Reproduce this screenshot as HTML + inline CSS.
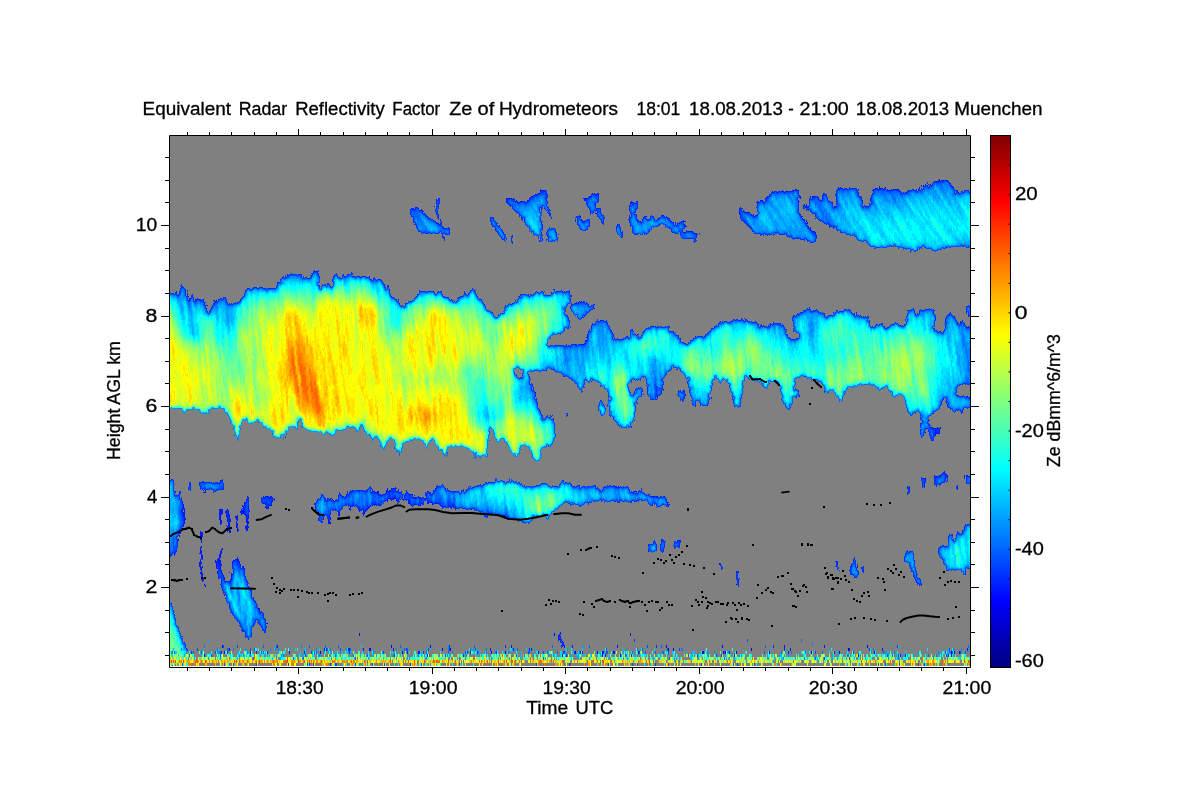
<!DOCTYPE html>
<html lang="en"><head><meta charset="utf-8"><title>Equivalent Radar Reflectivity Factor Ze of Hydrometeors</title>
<style>
html,body{margin:0;padding:0;background:#fff;}
body{width:1200px;height:800px;overflow:hidden;}
svg{display:block;}
text{font-family:"Liberation Sans",sans-serif;font-size:17.6px;fill:#000;stroke:#000;stroke-width:0.3px;}
</style></head><body>
<svg width="1200" height="800" viewBox="0 0 1200 800">
<rect width="1200" height="800" fill="#fff"/>
<rect x="170" y="136" width="800" height="530" fill="#808080"/>
<g fill="none" stroke-width="1" shape-rendering="crispEdges"><path stroke="#0000ff" d="M222.5 645v3m98 3v3m4 -6v3m35 -18v3m10 12v3m1 -3v3m21 -6v3m11 3v3m28 -9v3m12 0v3m8 -3v3m41 0v3m14 -3v3m33 -3v3m16 -21v3m8 18v3m2 -12v3m11 3v3m5 -3v3m17 -3v3m5 -3v6m18 -3v3m10 -24v3m8 15v3m28 -9v3m2 0v3m5 -3v3m29 0v3m1 -3v3m19 -9v3m3 3v3m11 -3v3m15 -6v3m18 0v3m42 -3v3m28 -3v3m9 -6v3m1 -3v3m18 -6v3m7 3v3m26 0v3m51 -6v3m3 -3v3m5 -3v3"/>
<path stroke="#001aff" d="M174.5 553v2m3 -16v1m0 1v1m1 -3v2m1 -9v2m0 1v2m1 -5v2m1 -6v1m1 -28v3m0 6v3m1 -9v4m0 1v1m0 2v5m0 7v3m1 -19v16m1 -6v2m2 -227v1m1 2v1m0 3v1m1 -3v1m1 -1v1m4 2v1m1 -3v2m1 -2v1m1 -2v1m1 0v1m1 -1v1m0 182v2m0 69v1m0 8v5m1 -268v1m0 231v9m0 7v7m0 5v3m0 2v4m0 4v2m1 -42v11m0 3v2m0 2v9m0 3v2m0 3v6m0 1v1m0 3v2m1 -48v5m0 18v5m0 6v2m0 5v5m0 2v2m1 -283v1m0 190v1m0 1v1m0 85v3m1 -99v1m0 9v1m0 91v1m0 69v3m1 -166v2m0 92v2m9 -287v1m1 0v1m0 258v3m1 -263v1m0 260v1m0 1v5m1 -9v3m0 9v3m1 -91v1m0 74v8m1 -84v1m0 26v11m0 34v11m0 1v1m1 -87v1m0 28v16m0 26v7m0 2v4m0 2v4m0 14v1m1 -96v1m0 19v6m0 5v4m0 25v5m0 10v2m0 4v3m1 -64v5m0 34v2m0 23v2m1 0v2m1 0v3m0 14v1m0 56v3m1 -143v2m0 68v1m0 16v1m1 -89v7m0 8v1m1 -17v1m0 6v6m0 4v6m1 -22v5m0 7v5m0 3v1m0 50v1m1 -68v19m0 39v1m0 8v1m0 66v3m1 -132v3m0 8v3m0 46v3m1 -9v1m0 1v4m1 -18v3m0 10v1m1 -15v1m1 -1v1m1 -45v2m0 41v1m1 -44v4m0 1v7m0 31v1m1 -45v6m0 2v9m0 25v4m1 -32v2m0 28v3m1 -1v3m0 61v1m1 -115v2m0 51v1m1 -56v6m0 115v1m1 -126v2m0 1v1m0 1v4m0 52v1m1 -61v8m0 52v2m1 -66v5m0 2v6m0 53v2m1 -68v1m0 11v2m0 10v3m0 47v1m1 -78v3m0 13v8m0 2v6m0 48v1m1 -84v1m0 21v13m0 50v1m1 -85v1m0 8v4m0 5v4m0 2v3m0 2v2m1 -18v2m1 139v3m1 -64v1m2 6v1m1 2v1m1 0v1m1 49v3m1 -49v1m0 16v1m1 -15v1m1 -1v4m1 0v1m2 -115v1m1 -3v2m0 5v1m1 -7v1m0 5v1m1 -8v1m0 7v1m0 1v2m1 -12v1m0 8v1m0 2v1m0 114v1m0 2v1m1 -131v1m0 11v1m0 114v1m0 27v3m1 -158v1m0 9v3m1 -12v1m0 7v1m1 -10v2m0 7v1m1 -10v2m0 4v4m1 -9v2m0 1v2m1 -3v1m1 -2v1m3 146v3m12 3v3m15 -3v3m10 -144v1m2 -240v1m2 246v3m4 -2v1m0 1v1m4 -22v1m1 -3v1m1 20v5m1 -9v2m0 3v4m1 -26v1m0 15v1m0 2v3m0 2v2m1 -26v1m0 1v1m1 -2v1m1 0v1m1 0v1m3 -2v1m1 -6v1m0 17v2m1 -4v5m1 -22v1m1 0v1m1 0v1m2 0v1m1 -2v1m1 -3v2m1 -5v1m1 2v1m0 153v3m1 -159v2m0 14v2m1 -20v1m0 15v2m1 -17v1m1 -2v1m0 15v1m1 -2v1m1 0v1m4 -17v1m0 17v2m1 -20v1m0 19v2m1 -22v1m0 19v1m2 -21v1m0 18v1m0 3v1m1 -4v3m0 1v2m0 132v3m1 -160v1m0 20v2m1 -24v1m0 20v1m1 -22v1m0 19v1m1 -3v2m1 -3v2m3 -21v1m0 3v1m1 -4v3m0 13v1m1 -228v1m0 212v1m0 12v1m1 -14v1m0 12v2m1 -14v1m0 11v1m1 -13v1m0 12v1m1 -15v2m1 -2v3m0 11v1m1 -12v1m0 10v1m1 -12v1m0 10v1m1 -11v1m2 -2v1m0 8v1m1 -10v1m1 -2v1m0 6v1m1 -11v3m1 -5v4m0 7v3m1 -11v2m0 5v1m1 -9v1m0 7v1m1 -9v1m0 7v2m1 -12v2m0 10v1m1 -13v1m0 10v1m1 -12v1m0 9v2m0 148v3m1 -163v1m0 8v2m1 -12v1m0 10v1m1 0v2m1 -10v1m0 9v1m0 1v1m2 -12v1m0 8v1m1 -10v1m0 6v1m3 -6v1m0 4v2m1 -6v3m1 -5v2m1 -5v2m0 8v1m1 -9v1m0 158v3m1 -161v1m0 6v4m1 -10v1m0 5v4m1 -295v1m0 284v1m0 8v2m1 -297v1m0 285v1m0 10v1m1 -298v1m0 285v1m0 11v1m1 -299v1m0 288v1m0 7v1m1 -297v1m0 14v1m0 270v1m0 1v1m0 6v1m1 -298v2m0 288v1m0 6v1m1 -298v1m0 289v1m2 -2v1m0 8v1m0 145v3m1 -157v1m0 7v1m0 145v3m1 -444v1m0 286v2m0 5v2m1 -297v1m0 288v1m0 4v1m1 -294v1m0 286v1m1 -287v1m1 1v1m0 284v1m1 -285v1m0 283v1m1 -6v1m1 -278v1m0 274v2m0 7v4m0 150v3m1 -166v1m0 11v1m1 -12v1m1 -1v1m0 9v1m1 -9v1m0 7v1m1 0v2m2 -15v1m1 -3v2m0 13v1m1 -305v1m0 22v1m0 263v1m0 16v1m1 -304v1m0 22v1m0 279v1m1 -306v1m0 24v1m0 279v1m1 -280v1m0 279v1m1 -282v1m0 281v1m1 0v1m1 -281v1m1 0v1m0 279v1m1 -280v1m0 277v1m4 0v1m1 -2v1m0 138v3m1 -142v2m1 -1v2m1 -3v1m1 -16v1m0 15v1m1 -1v1m1 -1v3m32 4v1m3 133v3m16 -453v4m1 -4v1m0 319v2m1 -322v1m1 -1v1m1 -1v1m1 -1v1m0 446v3m1 -449v1m1 -2v1m1 0v1m1 1v1m1 -2v1m1 0v1m1 0v1m1 -1v1m1 -2v1m1 -1v1m1 -1v1m1 -1v1m1 -1v1m1 0v1m1 -1v1m1 -3v2m1 -2v1m1 -3v2m0 448v3m1 -454v1m1 -2v1m0 451v3m1 -455v1m1 -2v1m1 -1v1m1 -2v1m0 197v1m1 -199v1m0 203v1m1 -205v1m1 -2v1m1 -1v1m1 -5v3m1 -2v1m1 -1v1m1 -1v1m1 -1v1m1 -1v1m2 10v1m0 10v1m11 422v6m1 -7v2m0 3v1m1 -8v3m0 1v2m1 1v2m0 4v1m1 -5v1m1 0v4m7 -300v1m2 298v3m3 -345v1m0 40v1m1 -43v1m1 0v1m1 -2v1m1 -88v1m0 85v1m1 -86v2m0 1v1m0 82v1m0 41v1m1 -126v1m0 81v1m0 42v1m1 -125v1m0 81v1m0 41v1m1 -147v1m0 22v1m0 95v1m0 26v1m1 -147v3m0 20v1m0 121v1m1 -146v1m0 141v2m1 -144v1m0 138v1m0 2v1m1 -143v1m0 135v3m1 -140v1m1 -2v1m1 -1v1m1 -3v1m1 -2v1m1 0v1m1 -2v1m0 110v1m0 3v1m1 -115v1m0 18v1m1 -20v1m0 13v1m0 4v1m1 -21v1m0 14v1m1 -16v3m0 12v1m0 112v1m2 -2v1m1 -1v1m2 330v3m2 0v3m8 -172v1m0 165v3m1 -168v1m0 164v3m1 -168v1m1 -1v1m1 158v3m1 -162v1m1 0v1m9 -269v1m1 -15v1m0 9v1m1 -14v2m0 13v1m1 -17v1m0 1v1m0 1v1m1 -4v1m1 -1v1m1 0v1m0 10v1m1 -12v1m0 10v1m0 276v1m1 -291v1m0 289v1m1 -291v1m0 17v1m1 0v1m2 0v1m1 0v1m1 -4v1m1 -3v1m2 -2v1m1 -1v1m5 279v1m1 -1v1m1 -1v1m1 -1v1m2 -101v1m0 2v1m0 96v1m1 -101v3m0 97v1m4 -282v1m0 323v1m1 -325v1m0 323v1m1 -325v1m0 324v1m3 -42v1m1 -283v1m0 284v1m1 -285v1m0 283v1m0 1v1m1 -287v1m0 285v1m1 -285v1m1 0v1m2 0v1m2 -1v1m1 2v1m1 -3v1m0 316v1m1 -318v1m0 316v1m1 -1v1m1 -319v1m0 317v1m1 -320v1m1 -1v1m1 -2v1m0 11v1m1 -12v1m0 2v1m0 7v1m1 -12v1m0 3v2m0 5v1m0 161v2m1 -170v1m2 4v1m1 -1v1m1 -1v1m1 -1v1m1 -1v1m1 0v1m1 0v1m1 -1v1m4 -1v1m20 329v2m4 86v3m11 0v3m2 -86v1m0 12v1m2 -14v2m0 6v2m1 -373v1m0 1v4m0 364v1m1 -372v1m2 0v1m1 1v1m1 0v1m1 0v1m1 -1v1m1 -1v1m1 -1v1m1 -1v1m1 1v1m1 -1v1m2 -1v1m1 1v1m2 -2v1m3 -14v1m1 -3v1m1 -1v1m1 -1v1m3 -3v1m1 -2v1m1 -2v1m1 -1v1m4 -6v1m1 0v1m0 129v1m1 -132v1m3 0v1m5 -3v1m1 0v1m1 0v1m0 452v3m1 -457v1m1 -1v1m1 -1v1m1 459v3m2 -6v3m1 -460v1m1 -2v1m1 -1v1m2 -2v1m1 -1v1m1 0v1m1 -1v1m1 4v1m0 17v1m1 -18v2m0 16v1m2 1v1m0 1v1m1 -14v1m0 13v1m1 -16v1m0 14v1m1 -14v1m0 15v1m1 -19v2m0 14v2m0 1v1m1 -18v1m0 15v2m0 1v1m1 -20v1m0 19v2m1 0v1m1 -33v1m0 30v3m1 -31v1m0 30v1m1 -35v2m0 33v1m1 -36v1m0 34v1m1 -36v1m0 34v1m1 -36v1m0 21v1m0 13v2m1 1v2m5 -37v1m1 -6v1m1 -3v1m1 451v3m8 -446v1m2 3v1m0 444v3m1 -460v1m0 11v1m1 -1v1m1 -18v1m1 -3v2m1 -1v1m1 -2v1m1 0v1m1 -1v1m1 0v1m3 -2v1m1 0v1m2 380v1m1 -5v1m1 -3v1m7 -376v1m0 464v3m1 -461v1m1 -1v1m1 0v1m1 2v1m4 5v1m2 -1v1m2 -9v2m2 -10v1m1 -2v1m1 -1v1m1 -2v1m1 -1v1m1 -1v1m1 0v1m1 -4v3m1 -1v1m1 -1v1m1 -1v1m0 459v3m1 -462v1m1 -2v1m1 -2v1m1 2v1m1 -2v1m1 0v1m1 -1v1m1 -1v1m1 -2v1m1 0v1m1 -2v1m1 -1v1m1 -1v1m1 -1v1m1 -1v1m1 -1v1m1 0v1m1 0v1m5 0v1m0 461v3m2 -466v1m0 294v1m1 -297v1m0 296v1m1 -2v1m9 -298v1m1 -3v1m2 -3v1m2 -1v1m0 292v1m1 -293v1m0 291v1m0 4v3m1 -302v1m0 247v1m0 45v2m3 -296v1m0 2v1m2 -4v1m0 242v1m1 -243v1m0 241v1m1 -1v1m1 0v1m1 -248v1m0 246v1m0 46v2m1 -296v1m0 246v8m0 40v1m1 -296v1m0 246v1m0 3v2m0 42v1m1 -296v1m0 245v2m0 4v1m0 42v1m1 -297v1m0 247v1m0 4v1m0 42v1m1 -298v2m0 247v6m0 41v1m1 -295v1m0 245v2m0 46v1m1 -296v1m0 293v1m1 -295v1m0 292v1m1 -294v1m0 291v1m1 -2v2m1 0v2m1 -295v1m0 293v1m0 2v1m0 3v1m1 -302v1m0 223v2m0 69v2m1 -296v1m1 0v1m1 0v1m1 1v1m0 468v3m1 -471v1m1 0v1m4 134v1m1 -131v1m2 128v1m1 0v1m3 152v2m2 -2v1m1 -149v1m0 68v1m0 78v1m0 172v3m1 -175v1m1 -171v1m0 20v1m0 69v1m0 78v1"/>
<path stroke="#0033ff" d="M170.5 293v1m0 186v1m0 74v2m0 46v1m1 -311v1m0 185v1m0 74v2m0 47v1m1 -311v1m0 185v1m0 72v3m0 51v1m1 -314v1m0 186v3m0 69v1m0 57v2m1 -318v1m0 189v1m0 6v1m0 1v2m0 55v3m0 2v1m0 58v2m1 -324v2m0 197v2m0 2v1m0 55v3m0 64v2m1 -329v4m0 200v1m0 41v2m0 9v4m0 73v1m1 -331v1m0 199v1m0 40v1m0 3v1m0 1v6m0 78v1m1 -333v2m0 198v1m0 36v5m0 91v1m1 -337v3m0 197v8m0 31v1m0 100v1m1 -346v1m0 1v3m0 200v3m0 5v1m0 29v2m0 102v1m1 -350v2m0 1v1m0 209v4m0 9v3m0 13v2m0 1v1m0 106v1m0 1v1m1 -353v2m0 216v6m0 3v4m0 9v1m0 109v1m0 1v1m1 -352v1m0 220v1m0 8v7m0 119v1m1 -356v1m0 353v2m1 -355v7m0 348v4m1 -352v1m0 351v1m1 -359v2m0 2v6m0 349v2m1 -164v3m1 -191v2m0 181v5m0 2v1m1 -8v9m1 -196v3m1 -4v3m1 0v4m2 0v1m2 -3v1m2 184v2m1 -186v1m0 181v1m0 3v4m0 72v2m0 4v2m1 -270v1m0 181v1m0 5v1m0 84v1m0 1v2m1 -278v2m0 180v2m0 6v1m0 88v2m1 -280v2m0 179v2m0 5v1m1 -187v3m0 183v2m0 95v1m1 -284v1m0 2v3m0 174v1m0 6v2m1 -186v1m0 2v3m0 171v1m0 6v1m1 -185v1m0 5v2m0 169v1m0 6v1m1 -177v1m0 168v1m0 6v1m1 -179v2m0 169v1m0 6v1m1 -181v2m0 171v1m0 5v1m1 -182v2m0 173v1m0 6v1m1 -185v2m0 176v1m0 5v1m1 -190v1m0 2v2m0 177v1m0 7v1m0 1v1m1 -192v3m0 179v1m0 7v1m1 -190v1m0 179v2m0 7v1m1 -191v1m0 180v1m0 7v1m0 71v1m0 5v1m1 -268v1m0 180v2m0 6v1m0 71v5m0 1v1m1 -270v2m0 188v1m0 77v5m0 1v6m1 -280v1m0 183v1m0 5v1m0 75v1m0 1v4m0 6v2m1 -281v2m0 181v2m0 6v1m0 74v2m0 4v3m0 4v1m1 -280v1m0 181v1m0 92v1m0 3v7m0 1v3m0 63v3m1 -355v1m0 179v4m0 6v1m0 85v1m0 12v3m1 -294v2m0 184v7m0 87v2m0 12v3m1 -297v1m0 282v2m0 10v1m0 2v1m1 -299v2m0 294v2m1 -296v3m0 279v1m0 13v1m1 -294v2m0 206v6m0 65v1m0 69v3m1 -350v1m0 210v7m0 5v3m0 72v1m1 -300v1m0 278v1m0 20v6m1 -305v1m0 277v2m0 25v2m0 1v1m1 -310v1m0 270v1m0 4v1m0 31v2m1 -309v1m0 259v5m0 44v2m1 -312v1m0 257v1m0 7v5m0 41v1m1 -313v1m0 257v1m0 54v2m1 -316v1m0 257v2m0 56v1m1 -316v1m0 256v3m0 56v1m1 -318v1m0 258v5m0 54v2m1 -320v1m0 259v3m0 56v1m1 -321v1m0 262v1m0 1v2m0 54v2m1 -325v2m0 264v4m0 55v1m0 1v1m1 -329v1m0 269v1m0 58v2m1 -332v1m0 269v2m0 60v3m1 -336v1m0 271v1m0 62v1m1 -339v2m0 212v2m0 61v6m0 55v1m1 -342v2m0 211v11m0 63v2m0 53v6m1 -349v1m0 212v1m0 11v1m0 65v2m0 54v1m1 -349v1m0 208v3m0 13v5m0 64v1m0 1v2m0 51v1m1 -350v1m0 209v8m0 4v5m0 68v1m0 2v1m0 51v2m1 -352v1m0 298v1m1 -299v1m0 298v2m0 46v1m1 -348v1m0 301v7m0 34v5m1 -349v1m0 309v1m0 27v1m1 -340v1m0 310v2m0 25v2m1 -340v1m0 313v1m0 21v2m1 -338v1m0 314v1m0 17v3m1 -336v1m0 315v2m0 1v1m0 12v1m1 -332v1m0 318v2m0 11v1m1 -333v1m0 320v1m0 11v1m0 1v1m1 -337v1m0 324v1m0 11v1m1 -338v1m0 325v1m0 11v1m1 -339v1m0 209v6m0 108v1m0 14v2m1 -341v1m0 214v2m0 108v1m0 15v3m1 -343v1m0 209v1m0 3v1m0 110v5m0 12v1m1 -343v1m0 209v1m0 3v1m0 115v2m0 11v2m1 -345v1m0 208v2m0 3v2m0 115v4m0 1v2m0 2v5m1 -344v1m0 207v8m0 1v2m0 119v1m1 -340v1m0 208v2m0 4v5m1 -220v1m0 208v3m0 4v2m1 -218v1m0 209v2m0 4v1m1 -217v1m0 209v5m0 1v1m1 -217v1m0 209v4m1 -214v1m0 210v1m1 -212v1m1 -1v1m0 210v2m1 -213v1m1 -3v2m1 -6v4m1 -4v1m1 -1v1m1 -4v2m0 2v1m1 -6v1m1 -2v1m1 -2v2m1 0v1m1 -4v3m1 -1v1m1 -4v3m1 -2v1m1 -2v2m1 -2v1m1 -2v1m1 0v1m1 -1v1m1 -1v1m1 -1v1m1 -1v1m1 0v1m1 -2v1m1 -1v1m1 -1v1m1 -1v4m1 0v1m1 -3v2m1 0v1m1 -2v1m1 -1v1m1 0v1m1 -1v1m1 -1v1m1 -4v1m0 1v1m1 -5v1m0 1v2m1 -4v2m1 -4v2m1 -3v2m0 231v2m1 -234v1m0 231v8m1 -10v2m0 8v1m1 -241v2m0 226v2m0 11v1m1 -243v2m0 1v3m0 9v1m0 212v1m0 14v3m1 -240v2m0 7v1m0 213v1m0 16v2m0 2v1m1 -24v2m0 22v1m1 -236v1m0 207v3m0 21v1m0 1v1m0 1v1m1 -239v1m0 209v1m0 22v1m0 4v1m1 -238v1m0 209v2m0 20v3m1 -236v1m0 212v2m0 16v2m1 -233v1m0 213v3m0 13v1m1 -229v1m0 214v1m0 12v2m0 132v3m1 -368v2m0 214v2m0 15v3m1 -236v1m0 214v2m0 16v3m1 -235v2m0 213v1m0 14v1m0 2v3m1 -234v1m0 212v2m0 9v4m1 -227v1m0 221v1m1 -231v3m0 4v1m0 213v1m0 9v1m1 -235v3m0 222v1m0 7v2m1 -236v1m0 233v1m1 -236v1m0 225v2m0 7v2m1 -238v2m0 224v2m0 9v1m1 -236v2m0 234v1m1 -235v1m0 218v5m0 10v2m0 2v1m1 -239v1m0 214v3m0 15v1m1 -233v1m0 216v1m0 13v2m1 -233v1m0 217v1m0 12v1m1 -235v2m0 229v3m1 -235v2m0 220v2m0 7v1m1 -230v1m0 228v1m1 -230v1m0 220v1m0 7v1m1 -230v1m0 219v1m0 7v2m1 -232v2m0 216v3m0 9v1m1 -231v1m0 220v1m0 8v3m1 -233v1m0 219v1m0 10v1m0 142v6m1 -380v1m0 216v2m0 12v1m0 2v3m1 -239v2m0 218v1m0 13v1m1 -234v2m0 1v1m0 214v1m0 12v2m1 -230v1m0 213v2m0 11v2m1 -229v1m0 214v1m0 13v1m1 -229v1m0 212v1m0 14v1m1 -230v1m0 213v1m0 14v2m1 -231v1m0 213v1m0 15v2m1 -232v1m0 230v1m1 -232v1m0 214v1m0 15v3m1 -233v1m0 231v1m1 -234v1m0 213v1m0 18v2m1 -235v1m0 231v1m1 -233v1m0 213v2m0 16v2m0 3v1m1 -238v1m0 232v3m1 -236v1m0 214v1m0 17v2m1 -234v1m0 227v1m0 2v2m1 -233v1m0 211v2m0 14v3m1 -231v1m0 210v1m0 17v1m1 -231v3m0 208v1m0 18v2m1 -229v1m0 206v2m0 1v3m0 13v2m1 -228v1m0 213v1m0 11v1m1 -226v1m0 211v2m0 8v3m1 -226v1m0 212v1m0 9v2m1 -227v2m0 213v2m0 8v2m1 -225v1m0 213v1m0 8v2m1 -224v1m0 212v1m0 10v1m1 -226v1m0 213v2m0 9v1m1 -226v1m0 214v2m0 7v2m1 -226v1m0 215v1m0 8v1m1 -226v1m0 215v1m0 8v1m1 -225v1m0 215v1m0 5v3m1 -224v2m0 211v2m0 6v1m1 -220v1m0 217v1m1 -218v3m0 213v2m1 -215v2m0 205v1m0 4v1m1 -211v1m0 203v1m0 6v1m1 -216v2m0 205v2m0 4v1m1 -214v2m0 206v5m1 -209v3m0 199v7m1 -204v2m0 195v1m0 3v3m1 -202v1m0 193v3m0 5v2m1 -203v1m0 191v6m0 1v3m1 -202v1m0 191v4m0 3v2m1 -200v1m0 190v3m0 3v2m1 -198v1m0 188v4m0 3v3m1 -199v2m0 187v1m0 2v1m0 6v1m1 -198v1m0 197v2m1 -202v1m0 189v4m0 6v4m1 -200v2m0 188v1m0 3v3m1 -195v1m0 191v1m1 -192v1m0 184v3m0 4v1m1 -194v1m0 188v6m1 -194v1m1 0v1m0 190v2m1 -197v1m0 191v1m0 3v1m1 -197v1m0 188v2m0 5v1m0 148v3m1 -158v2m0 4v1m1 -6v2m0 2v2m1 -199v1m0 193v5m1 -290v5m0 86v1m0 193v1m0 4v3m1 -294v1m0 5v2m0 84v1m0 202v1m1 -296v1m0 6v1m0 278v3m0 7v1m1 -297v2m0 6v6m0 275v1m0 4v2m1 -295v1m0 11v1m0 275v1m0 4v1m1 -295v1m0 13v2m0 72v1m0 200v1m0 4v1m1 -279v3m0 68v1m0 207v1m1 -298v2m0 19v2m0 64v1m0 202v1m0 6v1m1 -297v2m0 20v2m0 62v1m0 202v1m0 6v1m1 -295v1m0 20v1m0 58v1m0 207v7m1 -274v1m0 59v1m0 207v1m0 2v2m1 -294v1m0 21v1m0 58v1m0 207v1m0 2v1m1 -292v2m0 19v1m0 58v1m0 206v1m0 4v2m1 -292v1m0 19v1m0 57v1m0 205v2m0 2v4m1 -291v1m0 17v1m0 58v1m0 208v1m1 -286v1m0 17v1m0 57v1m0 200v4m0 3v2m1 -286v2m0 16v1m0 58v1m0 202v5m1 -283v1m0 15v1m0 57v1m0 201v1m0 5v1m1 -283v2m0 14v1m0 57v1m0 200v1m0 7v3m1 -285v1m0 13v1m0 58v1m0 201v1m0 7v2m1 -285v1m0 14v1m0 57v1m0 201v2m0 6v1m1 -283v1m0 13v1m0 57v1m0 203v1m0 5v1m1 -283v1m0 71v1m0 201v2m0 7v1m1 -283v1m0 70v1m0 198v3m0 10v2m1 -299v1m0 14v1m0 70v1m0 210v1m1 -295v3m0 9v2m0 10v1m0 60v1m0 195v1m0 11v1m1 -303v5m0 1v3m0 3v3m0 8v1m0 9v1m0 253v2m0 13v1m1 -298v1m0 5v3m0 1v3m0 15v1m0 58v1m0 192v2m0 15v1m1 -304v2m0 3v5m0 5v6m0 4v1m0 8v1m0 57v1m0 194v1m1 -289v6m0 28v1m0 59v1m0 193v1m0 15v2m1 -285v3m0 2v1m0 6v1m0 59v1m0 194v1m0 15v3m1 -284v5m0 6v2m0 57v1m0 193v1m0 19v1m1 -279v1m0 6v4m0 56v1m0 189v1m0 21v3m1 -281v1m0 4v1m0 2v1m0 1v1m0 57v1m0 188v2m0 19v1m1 -274v1m0 3v4m0 55v1m0 190v1m1 -260v1m0 5v1m0 62v1m0 190v2m0 16v2m1 -280v1m0 5v1m0 62v1m0 192v1m0 16v1m1 -280v1m0 5v1m0 62v1m0 190v2m0 15v1m0 1v1m1 -281v2m0 5v1m0 62v1m0 192v1m0 11v5m1 -279v7m0 64v1m0 190v1m0 14v1m0 142v3m1 -351v1m0 190v1m0 11v3m1 -207v1m0 191v1m0 13v2m1 -207v1m0 190v1m0 12v2m1 -2v3m1 -16v1m0 11v4m1 -16v1m0 14v1m1 -206v1m0 189v1m0 16v1m1 -211v1m0 1v1m0 190v1m0 16v1m1 -212v1m0 193v1m0 16v1m1 -212v1m0 194v1m0 15v1m1 -213v1m0 196v1m0 13v1m1 -212v1m0 193v3m0 14v1m1 -212v1m0 193v1m0 17v1m1 -214v1m0 193v3m0 16v1m0 145v3m1 -366v3m0 198v1m0 15v1m1 -216v1m0 197v1m0 16v1m1 -215v1m0 194v2m0 18v1m1 -215v1m0 193v1m0 19v1m1 -217v2m0 192v2m1 -197v1m0 193v1m0 1v1m0 19v1m1 -219v1m0 195v1m0 22v1m0 141v3m1 -364v1m0 197v1m0 20v1m1 -222v1m0 198v1m0 20v1m1 -220v1m0 197v1m0 20v1m1 -219v2m0 194v1m0 22v2m1 -221v1m0 1v2m0 192v1m0 22v1m1 -216v2m0 190v1m0 23v1m1 -215v2m0 187v1m0 24v1m0 140v3m1 -356v1m0 186v1m0 24v1m1 -212v1m0 185v1m0 25v1m1 -213v1m0 184v2m0 26v1m1 -214v1m0 186v1m0 24v1m1 -211v2m0 182v1m0 26v1m1 -210v1m0 180v1m0 28v2m1 -211v1m0 179v1m0 30v2m1 -211v1m0 175v1m0 33v1m1 -35v1m0 34v1m1 -208v1m0 172v1m0 29v1m0 1v3m1 -208v1m0 171v1m0 30v1m1 -203v1m0 170v1m0 30v1m1 -297v5m0 89v1m0 170v1m0 29v1m1 -296v1m0 3v4m0 87v1m0 169v1m0 30v1m1 -297v1m0 7v2m0 85v1m0 169v1m0 31v1m1 -298v3m0 6v1m0 255v1m0 31v1m1 -295v1m0 5v1m0 255v1m0 31v1m1 -294v1m0 5v4m0 283v1m1 -293v1m0 1v1m0 6v1m0 282v1m0 136v3m1 -431v1m0 1v1m0 6v1m0 282v1m1 -290v1m0 6v2m0 279v1m1 -290v3m0 7v1m0 279v2m1 -289v1m0 7v1m0 279v1m1 -288v1m0 7v2m0 276v1m1 -286v2m0 7v1m0 276v1m1 -285v2m0 5v1m0 241v1m0 35v1m1 -284v2m0 2v3m0 66v1m0 2v1m0 205v1m1 -283v1m0 1v2m0 3v1m0 63v1m0 210v3m0 126v3m1 -446v1m0 35v2m0 66v1m0 210v1m1 -319v5m0 101v1m0 210v2m1 -319v1m0 3v2m0 99v1m0 176v1m0 36v2m1 -321v1m0 5v1m0 97v1m0 214v1m1 -314v2m0 97v1m0 214v1m1 -321v1m0 5v1m0 30v5m0 63v1m0 214v1m1 -320v1m0 5v3m0 26v3m0 3v3m0 59v1m0 215v1m1 -321v1m0 9v1m0 93v1m0 214v1m0 129v3m1 -451v2m0 8v1m0 91v1m0 216v1m1 -309v1m0 88v1m0 218v1m1 -319v1m0 10v1m0 89v1m1 -101v1m0 9v1m0 86v1m0 183v1m1 -281v1m0 9v1m0 82v1m0 1v1m0 78v1m0 104v1m1 -269v3m0 79v2m0 80v1m1 -177v1m0 12v1m0 78v2m0 1v1m0 79v1m0 106v1m1 -269v3m0 75v1m0 1v1m0 80v1m1 -160v3m0 73v1m0 78v1m0 3v1m1 -161v1m0 76v1m0 227v1m1 -321v1m0 15v5m0 71v1m0 190v1m1 -283v1m0 90v1m0 192v1m1 -194v1m0 191v1m1 -285v1m0 92v1m1 -95v1m0 92v2m0 78v1m1 -175v1m0 30v1m0 64v1m0 79v3m0 2v3m1 -186v1m0 95v1m0 84v1m0 4v1m0 101v1m1 -290v1m0 96v1m0 88v1m0 3v3m0 97v1m1 -291v1m0 97v1m0 88v3m0 3v1m0 95v1m0 32v1m1 -324v1m0 97v1m0 92v4m0 95v1m1 -194v1m0 97v2m0 4v2m1 -204v1m0 96v1m0 100v4m0 2v1m0 86v1m1 -292v1m0 95v1m0 107v3m0 83v1m1 -194v1m0 109v5m0 78v1m1 -292v1m0 97v1m0 115v1m0 76v1m1 -278v3m0 29v2m0 51v1m0 115v2m0 74v1m1 -294v2m0 13v1m0 4v1m0 5v3m0 71v1m0 118v3m0 70v1m1 -294v2m0 15v3m0 10v3m0 6v1m0 1v3m0 56v1m0 122v1m0 68v1m1 -293v2m0 13v3m0 12v1m0 2v6m0 5v1m0 2v3m0 50v1m0 123v3m0 1v1m0 63v1m1 -293v1m0 13v1m0 86v1m0 125v1m0 64v1m1 -293v1m0 16v1m0 82v1m0 3v1m0 123v1m0 63v1m1 -293v1m0 1v1m0 15v1m0 84v1m0 122v2m0 64v1m1 -293v4m0 2v4m0 3v2m0 4v1m0 21v3m0 4v2m0 54v1m0 74v1m0 45v1m1 -223v4m0 4v2m0 2v2m0 2v1m0 19v2m0 3v2m0 2v1m0 55v1m0 119v2m1 -210v2m0 2v1m0 1v1m0 15v1m0 7v2m0 1v2m0 53v1m0 71v1m0 49v1m1 -209v1m0 1v2m0 1v2m0 11v2m0 66v1m0 50v1m0 70v1m1 -208v1m0 2v4m0 12v1m0 108v1m0 6v1m0 69v1m1 -199v2m0 9v1m0 12v1m0 50v2m0 51v1m0 23v1m0 46v1m0 2v1m1 -192v1m0 12v1m0 51v1m0 51v1m0 23v1m0 45v1m0 3v1m1 -192v1m0 11v1m0 48v1m0 2v1m0 53v1m0 22v1m0 48v2m1 -192v1m0 12v1m0 47v1m0 55v1m0 24v1m0 52v2m0 61v1m1 -258v3m0 60v1m0 52v1m0 88v1m0 51v1m1 -255v5m0 54v1m0 53v1m0 140v1m1 -250v3m0 51v1m0 53v1m0 140v1m1 -253v1m0 56v1m0 53v1m1 -55v1m0 53v1m0 290v3m1 -348v1m0 53v1m0 137v1m0 154v5m1 -353v1m0 54v1m0 135v1m0 159v2m0 3v2m1 -357v1m0 53v1m0 28v1m0 105v1m0 161v5m1 -355v1m0 52v2m0 133v2m1 -191v1m0 17v1m0 36v1m0 29v1m0 106v1m1 -192v1m0 21v1m0 30v2m0 29v1m0 105v1m1 -192v1m0 23v1m0 28v2m0 67v1m0 1v2m0 65v1m0 171v3m1 -366v1m0 23v2m0 11v1m0 17v1m0 29v1m0 36v3m0 67v1m1 -193v1m0 25v3m0 7v2m0 16v1m0 137v1m0 19v1m1 -214v5m0 25v3m0 22v2m0 31v1m0 103v1m1 -188v2m0 1v5m0 3v3m0 18v1m0 155v1m1 -189v2m0 6v3m0 38v2m0 138v2m0 18v1m1 -201v1m0 39v1m0 35v1m0 105v1m1 -183v1m0 39v1m0 141v1m1 -184v1m0 40v1m0 141v1m0 164v3m1 -437v1m0 1v3m0 265v1m1 -272v2m0 85v1m0 40v2m0 140v1m1 -271v1m0 1v7m0 120v1m0 139v1m1 -270v1m0 8v1m0 77v1m0 14v1m0 25v1m0 140v1m1 -270v3m0 7v2m0 74v1m0 41v1m0 140v3m1 -259v1m0 258v1m1 -269v1m0 8v1m0 72v1m0 15v1m0 168v1m1 -267v1m0 94v2m0 73v1m0 94v1m0 164v3m1 -432v1m0 78v2m0 12v1m0 170v1m1 -257v1m0 70v2m0 13v1m0 27v1m0 42v1m0 98v1m1 -288v2m0 19v2m0 8v1m0 72v1m0 11v1m0 26v2m0 35v1m0 106v1m1 -288v6m0 15v1m0 8v1m0 72v2m0 9v2m0 172v1m1 -283v2m0 12v2m0 6v3m0 73v2m0 7v1m0 24v4m0 145v1m0 15v1m1 -305v1m0 8v1m0 11v1m0 6v1m0 77v2m0 6v1m0 18v3m0 152v1m0 16v2m1 -308v1m0 10v2m0 9v8m0 79v1m0 4v1m0 17v2m0 155v1m0 15v1m1 -306v1m0 12v5m0 91v1m0 3v1m0 20v1m0 154v1m1 -292v2m0 15v1m0 92v1m0 3v1m0 15v4m0 52v1m0 104v1m1 -293v1m0 18v1m0 91v1m0 3v1m0 13v2m0 161v1m1 -292v1m0 15v2m0 91v5m0 15v1m0 160v1m1 -292v1m0 15v1m0 113v1m0 160v1m1 -291v1m0 7v5m0 3v1m0 110v2m0 161v3m1 -293v1m0 6v1m0 7v1m0 110v1m0 166v1m1 -295v2m0 6v1m0 7v3m0 1v3m0 102v2m0 166v1m1 -292v6m0 14v1m0 188v1m0 82v1m1 -281v1m0 8v2m0 102v1m0 80v1m0 86v2m1 -283v5m0 6v1m0 101v1m0 63v1m0 14v1m0 89v1m0 8v1m1 -287v3m0 4v3m0 268v1m0 8v2m1 -287v1m0 7v1m0 96v1m0 81v1m0 2v1m0 83v2m1 -276v2m0 2v6m0 95v1m0 83v1m0 82v2m1 -272v2m0 102v1m0 164v1m1 -166v1m0 164v1m0 13v1m1 -181v2m0 165v1m1 -166v3m0 79v1m0 80v2m1 -162v1m0 160v1m1 -161v3m0 71v1m0 13v2m0 69v1m1 -157v2m0 69v1m0 12v1m0 71v1m1 -156v2m0 154v1m1 -155v2m0 3v2m0 147v1m1 -153v3m0 2v1m0 146v1m0 13v1m1 -164v2m0 162v1m1 -163v1m0 147v1m0 13v1m1 -276v3m0 110v1m0 147v1m0 12v1m1 -277v2m0 112v1m0 148v1m0 13v2m1 -279v1m0 114v1m0 147v1m0 14v1m1 -279v3m0 112v1m0 161v2m1 -276v5m0 4v1m0 102v1m0 146v1m0 13v1m1 -269v1m0 2v1m0 1v1m0 101v1m0 147v1m0 12v1m1 -270v6m0 102v1m0 147v1m1 -150v1m0 147v1m0 14v1m1 -164v1m0 148v1m0 13v1m1 -165v1m0 149v1m1 -152v1m0 149v1m0 14v1m1 -166v1m0 149v1m1 -150v1m0 49v1m0 99v2m1 -283v5m0 5v7m0 115v1m0 51v1m0 98v3m1 -288v1m0 6v3m0 9v4m0 103v3m0 59v1m0 99v1m0 9v1m1 -301v1m0 11v3m0 8v1m0 103v1m0 65v1m0 30v2m0 63v1m0 9v2m0 151v3m1 -454v3m0 20v7m0 96v2m0 64v1m0 96v1m0 7v1m1 -298v1m0 9v1m0 19v1m0 97v1m0 2v1m0 58v2m0 96v2m0 7v1m1 -289v1m0 21v1m0 98v1m0 57v2m0 27v1m0 70v2m0 8v1m0 137v3m1 -433v4m0 21v1m0 99v1m0 54v2m0 2v1m0 11v3m0 85v1m0 7v1m1 -300v2m0 5v1m0 4v5m0 15v1m0 100v1m0 52v1m0 103v1m0 8v1m1 -300v7m0 11v1m0 13v1m0 99v1m0 53v1m0 14v1m0 89v1m0 6v1m1 -280v1m0 112v1m0 1v1m0 1v1m0 48v1m0 103v2m0 7v2m1 -281v1m0 115v1m0 50v1m0 101v1m0 8v1m1 -278v1m0 114v1m0 49v1m0 103v1m1 -157v2m0 51v1m0 3v3m0 93v4m0 8v1m1 -281v2m0 110v1m0 56v3m0 100v1m0 7v1m1 -283v1m0 13v1m0 98v1m0 62v1m0 97v1m1 -277v2m0 15v2m0 95v1m0 162v1m1 -277v1m0 15v1m0 95v1m0 164v1m1 -277v2m0 14v1m0 93v1m0 56v1m0 108v1m1 -276v1m0 13v1m0 94v1m0 57v8m0 101v1m0 4v1m1 -282v1m0 12v1m0 94v1m0 68v1m0 97v1m0 49v3m0 1v4m1 -333v1m0 10v2m0 96v1m0 165v2m0 8v1m0 39v1m0 2v1m0 3v1m1 -336v3m0 107v2m0 168v1m0 8v1m0 38v1m0 5v1m1 -336v1m0 110v1m0 72v1m0 105v1m0 38v1m0 6v1m1 -336v1m0 109v1m0 72v1m0 103v3m0 38v1m1 -329v2m0 108v1m0 72v1m0 97v1m0 4v1m0 38v3m1 -326v2m0 106v1m0 176v2m0 35v2m1 -322v1m0 105v1m0 67v1m0 1v4m0 96v1m0 6v1m0 38v2m0 6v1m1 -331v1m0 5v1m0 100v1m0 58v6m0 1v3m0 108v2m0 1v1m0 36v7m0 94v3m1 -430v2m0 106v1m0 68v1m0 101v1m0 8v1m1 -289v1m0 6v1m0 100v1m0 68v1m0 101v1m0 8v1m1 -290v1m0 7v1m0 101v1m0 61v1m0 5v1m0 101v1m0 8v1m1 -290v1m0 108v1m0 61v1m0 1v1m0 3v1m0 101v1m0 47v7m1 -335v1m0 109v1m0 62v5m0 102v1m0 8v1m0 34v4m0 7v1m1 -225v1m0 51v2m0 4v5m0 107v1m0 6v1m0 35v1m0 11v1m1 -337v1m0 110v1m0 53v4m0 4v2m0 105v1m0 7v1m0 36v1m0 6v4m1 -336v2m0 109v1m0 168v1m0 44v7m1 -331v1m0 108v1m0 48v1m0 121v2m0 42v1m1 -326v2m0 109v1m0 172v2m0 3v1m1 -288v1m0 107v1m0 176v2m0 1v1m1 -280v1m0 98v1m0 178v2m1 -288v2m0 7v1m0 97v2m0 3v1m1 -111v1m0 6v1m0 102v1m1 -110v1m0 6v3m0 99v1m1 -110v1m0 9v1m0 98v1m1 -109v2m0 7v1m0 98v2m0 212v1m1 -321v1m0 6v1m0 100v1m0 207v4m0 1v3m1 -326v2m0 8v1m0 98v1m0 1v1m0 206v1m0 5v1m1 -315v1m0 101v1m0 33v1m0 172v1m0 3v1m1 -323v2m0 7v1m0 101v1m0 58v1m0 146v2m0 3v1m1 -212v3m0 52v4m0 1v1m0 145v1m0 5v1m1 -326v2m0 7v1m0 106v1m0 52v1m0 149v7m1 -316v3m0 103v2m0 50v2m0 149v2m1 -321v1m0 119v1m0 49v1m0 6v1m1 -171v3m0 110v1m0 48v2m0 7v2m1 -181v4m0 3v1m0 9v1m0 103v1m0 47v2m0 6v3m1 -176v4m0 9v1m0 104v1m0 46v5m0 1v3m1 -161v1m0 104v1m1 -114v2m0 6v1m0 105v1m1 -114v1m0 6v1m0 105v1m0 36v2m1 -145v1m0 103v1m0 37v1m1 -143v1m0 150v4m1 -155v1m0 101v1m0 54v1m1 -158v1m0 101v1m0 59v1m1 -169v1m0 5v1m0 101v1m0 62v2m1 -172v1m0 4v1m0 2v1m0 96v1m1 -100v2m0 1v1m0 95v1m1 -101v2m0 1v1m0 94v2m0 63v6m1 -174v5m0 2v1m0 96v1m1 -104v1m0 101v1m1 -1v1m1 -1v1m1 -1v1m0 67v2m1 -70v1m1 -1v1m1 0v1m0 67v1m1 -70v1m1 -3v2m1 -2v1m0 70v1m1 -73v1m0 70v2m1 -74v1m0 70v1m1 -73v1m0 65v3m1 -70v1m1 -3v1m0 58v1m0 9v2m1 -71v1m0 54v1m1 -56v1m1 -3v2m1 -2v1m1 -2v1m1 0v1m1 -4v2m1 -3v1m1 -2v2m0 240v3m1 -243v1m0 241v5m1 -249v2m0 244v2m1 -247v1m1 -2v1m1 -1v1m1 -1v1m1 0v1m1 -1v1m1 -1v1m0 62v1m0 265v3m1 -333v1m1 -1v1m1 -2v1m1 -2v1m0 79v4m1 -84v1m1 0v1m1 -2v1m0 252v8m1 -261v1m0 251v8m0 1v5m1 -265v1m0 260v6m1 -378v1m0 4v1m0 105v1m1 -113v1m0 4v6m0 101v1m1 -113v4m0 3v1m0 3v2m0 97v2m1 -109v1m0 8v1m0 98v1m1 -109v1m0 8v2m0 98v1m1 -109v1m0 8v2m0 95v1m0 2v1m1 -100v2m0 95v2m1 -98v2m0 94v1m1 -96v2m0 94v1m1 -96v2m0 94v1m1 -109v1m0 12v2m0 93v1m1 -95v2m0 93v1m1 -108v1m0 12v2m0 91v1m1 -107v1m0 14v2m0 90v1m1 -108v2m0 14v1m0 90v1m1 -91v2m0 88v1m1 -108v2m0 16v1m0 87v1m1 -120v1m0 4v1m0 114v1m1 -122v6m0 7v2m0 107v1m1 -123v2m0 30v1m0 90v3m1 -94v1m0 93v1m1 -127v2m0 31v2m0 89v2m1 -93v1m0 89v2m1 -125v1m0 32v1m0 91v1m0 58v1m1 -185v2m0 31v2m0 89v1m1 -124v1m0 30v1m0 92v1m1 -128v3m0 32v1m0 91v1m1 -129v1m0 35v1m0 91v1m1 -130v1m0 37v1m0 91v1m1 -94v1m0 90v2m1 -133v3m0 37v1m0 89v1m0 1v1m1 -133v1m0 39v1m0 88v1m0 1v1m1 -134v2m0 40v1m0 89v1m1 -133v1m0 131v1m1 -90v1m0 87v2m0 320v3m1 -456v1m0 39v1m0 1v1m0 88v1m1 -133v1m0 41v1m0 89v1m1 -133v2m0 40v1m0 89v1m1 -92v1m0 90v1m1 -133v2m0 40v1m0 89v1m1 -133v1m0 42v1m0 88v1m1 -133v1m0 42v1m0 88v2m1 -134v1m0 42v1m0 90v1m0 73v1m1 -209v1m0 42v1m0 89v1m1 -133v1m0 41v1m0 90v2m1 -93v1m0 92v2m0 319v3m1 -459v1m0 40v1m0 95v2m1 -97v2m0 93v1m0 1v1m0 2v1m1 -99v1m0 97v3m1 -146v1m0 44v1m0 100v1m1 -147v1m0 45v1m0 99v1m1 -147v1m0 44v1m0 101v1m0 68v1m1 -171v1m0 101v1m1 -149v1m0 46v1m0 78v4m0 18v1m1 -101v1m0 75v2m0 11v1m0 1v2m0 7v1m1 -150v1m0 47v1m0 76v1m0 23v1m0 50v1m1 -201v1m0 47v1m0 77v1m0 22v1m1 -150v1m0 47v1m0 76v1m0 22v1m0 50v1m1 -192v2m0 38v1m0 74v2m0 23v1m0 51v1m1 -200v4m0 2v1m0 2v13m0 25v1m0 75v1m0 23v1m0 51v2m1 -196v2m0 3v1m0 12v1m0 23v1m0 74v1m0 81v2m1 -199v1m0 16v2m0 22v1m0 72v1m1 -97v2m0 21v1m0 72v1m1 -94v1m0 19v1m0 72v1m1 -107v3m0 30v1m0 70v2m1 -107v2m0 1v1m0 11v2m0 17v2m0 69v1m1 -104v1m0 15v1m0 14v1m0 71v1m1 -105v5m0 13v2m0 13v1m0 69v2m1 -104v1m0 1v1m0 16v1m0 13v2m0 66v1m1 -100v2m0 17v1m0 11v1m0 68v1m1 -112v6m0 5v1m0 19v1m0 11v1m0 65v2m1 -112v2m0 11v2m0 18v1m0 11v1m0 66v2m1 -99v1m0 18v1m0 10v1m0 68v1m1 -114v2m0 13v1m0 18v1m0 9v1m0 68v1m1 -115v1m0 15v1m0 18v1m0 77v1m1 -98v1m0 18v1m0 8v1m0 68v1m1 -97v3m0 17v2m0 3v3m0 68v1m1 -115v1m0 20v1m0 19v2m0 70v1m1 -114v2m0 20v1m0 91v1m1 -114v3m0 19v1m0 91v1m1 -113v2m0 19v1m0 91v1m1 -113v1m0 20v1m0 90v1m1 -93v1m0 92v1m1 -118v4m0 21v1m0 90v1m1 -119v2m0 26v1m0 90v1m1 -121v2m0 28v1m0 89v3m0 74v1m1 -197v1m0 28v1m0 92v1m1 -123v3m0 27v1m0 92v1m1 -121v3m0 23v1m0 92v1m1 -117v2m0 21v2m0 90v1m1 -115v1m0 22v4m0 87v1m1 -115v1m0 24v1m0 88v1m1 -114v1m0 23v1m0 88v1m1 -113v4m0 19v1m0 88v1m1 -109v1m0 19v2m0 83v1m0 2v1m1 -109v1m0 19v1m0 85v1m1 -119v1m0 11v1m0 18v1m0 85v1m0 248v1m0 4v1m1 -377v4m0 2v9m0 2v1m0 19v3m0 80v1m0 250v5m1 -376v1m0 14v1m0 24v1m0 79v1m0 250v5m1 -377v1m0 122v1m0 254v2m1 -380v1m0 121v1m0 258v1m1 -383v1m0 42v1m0 79v1m1 -80v1m0 78v1m1 -123v1m0 121v1m1 -2v1m1 -123v2m0 119v1m0 83v1m1 -206v1m0 120v1m1 -121v1m0 119v1m1 -76v1m0 75v1m1 -122v1m0 44v1m0 74v1m1 -123v2m0 120v1m1 -122v1m0 121v2m0 255v8m1 -387v1m0 123v1m0 252v2m0 7v1m1 -387v1m0 124v1m0 249v1m0 10v1m1 -387v1m0 125v1m0 244v4m0 12v1m1 -388v1m0 124v2m0 242v3m0 16v2m1 -390v1m0 127v1m0 243v7m0 10v1m1 -390v3m0 121v4m0 251v3m0 7v1m1 -388v3m0 122v1m0 248v4m0 2v1m1 -381v1m0 1v4m0 119v1m0 255v4m1 -259v1m1 -120v1m0 117v1m1 -118v3m0 4v1m0 110v1m0 250v2m1 -368v4m0 1v1m0 110v1m0 249v1m0 1v3m1 -366v1m0 109v1m0 249v7m1 -368v2m0 110v1m1 -112v1m0 109v1m1 0v1m1 -112v1m0 109v1m1 -1v1m0 4v1m1 -119v3m0 114v2m0 326v3m1 -451v2m0 2v1m0 121v1m1 -132v4m0 3v2m0 123v1m1 -135v2m0 131v1m1 -137v3m0 134v1m1 -80v1m0 78v1m1 -139v1m0 135v2m1 -3v1m1 -136v1m0 134v1m1 -135v1m0 134v1m1 -137v1m0 134v1m1 -136v1m0 134v1m1 -2v1m1 -135v1m0 133v2m1 1v1m1 -138v1m0 136v2m1 -140v2m0 138v1m1 -1v1m1 -139v1m0 136v1m1 -1v1m1 -137v1m0 134v1m1 -2v1m1 -136v1m0 133v1m1 -1v1m1 -135v1m0 133v1m1 -2v1m1 -2v1m1 0v1m1 -134v1m0 132v1m0 321v3m1 -458v1m0 133v1m1 -134v1m0 133v1m1 -134v1m0 132v1m1 -134v2m0 132v1m1 -134v1m0 131v1m1 -134v2m0 132v1m1 -134v1m0 130v1m0 231v6m1 -369v1m0 125v1m0 4v1m0 228v3m1 -364v1m0 123v1m0 4v1m0 229v2m1 -361v1m0 117v1m0 2v2m0 172v2m0 3v3m0 55v2m1 -361v1m0 118v2m0 176v4m0 1v1m0 58v1m1 -363v1m0 119v1m0 176v6m0 58v2m1 -363v1m0 119v1m0 240v1m0 15v2m1 -379v1m0 118v1m0 241v1m0 17v3m1 -383v1m0 119v1m0 241v1m0 19v1m1 -383v2m0 117v2m0 243v2m0 17v5m1 -387v1m0 119v3m0 247v3m0 14v2m1 -389v1m0 122v2m0 252v4m0 8v2m1 -392v2m0 124v1m0 255v3m0 1v2m0 4v2m1 -392v1m0 121v2m0 259v1m0 2v2m0 4v2m1 -395v1m0 123v1m0 263v1m0 4v1m1 -396v2m0 120v3m0 265v1m0 5v2m1 -396v1m0 118v1m0 113v4m0 2v6m0 144v4m0 1v1m1 -399v1m0 1v2m0 120v1m0 106v1m0 5v1m0 53v4m0 102v3m1 -397v1m0 120v1m0 110v2m0 55v1m0 2v7m1 -302v3m0 121v1m0 122v3m0 50v1m1 -177v1m0 119v3m0 46v4m0 3v2m1 -303v2m0 122v1m0 119v1m0 50v3m1 -298v1m0 123v1m0 118v1m1 -247v2m0 1v2m0 122v1m0 112v1m0 5v1m1 -120v1m0 109v1m0 1v1m0 1v2m0 4v3m1 -247v3m0 120v1m0 111v1m0 3v4m0 4v4m1 -251v1m0 123v1m0 115v1m0 2v1m0 7v3m1 -130v1m0 118v1m0 10v2m1 -258v2m0 125v1m0 102v1m0 14v2m0 10v1m1 -259v1m0 126v1m0 1v3m0 14v1m0 83v2m0 15v2m0 2v2m0 1v5m1 -259v1m0 127v1m0 3v1m0 13v2m0 99v8m0 40v8m1 -170v5m0 10v1m0 146v5m0 2v1m1 -303v1m0 147v1m0 98v3m0 45v1m0 6v3m1 -305v1m0 148v1m0 97v4m0 44v1m0 6v1m1 -304v2m0 149v1m0 96v4m0 50v1m0 64v6m1 -373v1m0 149v1m0 144v1m0 7v2m0 61v1m0 6v1m1 -373v1m0 148v1m0 73v1m0 70v1m0 7v1m0 61v2m1 -367v1m0 150v1m0 68v3m0 71v1m0 7v1m0 62v1m0 11v1m1 -378v1m0 151v1m0 66v1m0 73v1m0 7v1m0 62v1m0 13v1m1 -379v1m0 149v2m0 65v2m0 73v1m0 8v1m0 62v1m1 -366v1m0 142v1m0 5v2m0 142v2m0 5v3m0 63v1m1 -367v1m0 137v5m0 1v4m0 69v1m0 3v1m0 73v6m0 65v1m1 -300v1m0 68v2m0 5v1m0 74v3m0 1v2m0 71v2m0 69v1m1 -366v1m0 133v1m0 86v1m0 3v1m0 70v5m0 64v1m1 -365v1m0 131v2m0 87v1m0 3v1m0 128v5m0 113v3m1 -474v1m0 129v2m0 92v1m0 126v2m1 -352v2m0 126v2m0 94v2m0 125v1m1 -350v1m0 127v2m0 92v1m0 125v1m1 -348v1m0 127v1m0 218v2m0 3v1m1 -352v1m0 127v1m0 94v1m0 127v2m1 -352v1m0 1v2m0 123v2m0 223v1m1 -352v1m0 2v1m0 124v2m0 90v2m0 126v1m1 -349v3m0 127v2m0 72v1m0 14v1m0 76v3m0 45v2m1 -346v2m0 131v1m0 71v1m0 14v1m0 74v5m0 41v3m1 -341v1m0 129v1m0 61v1m0 9v1m0 14v1m0 121v1m1 -340v1m0 130v1m0 71v1m0 12v1m0 123v1m1 -341v1m0 128v2m0 72v1m0 13v2m0 122v1m1 -344v2m0 52v1m0 150v1m0 15v2m0 119v1m1 -343v1m0 54v1m0 73v2m0 62v1m0 11v1m0 13v3m0 117v3m1 -341v1m0 53v1m0 75v1m0 72v1m0 12v2m0 120v1m1 -341v2m0 131v2m0 58v1m0 12v1m0 80v2m0 47v4m1 -340v1m0 134v1m0 58v1m0 12v1m0 126v2m0 44v5m1 -385v1m0 115v8m0 12v2m0 55v1m0 12v2m0 9v1m0 68v8m0 41v1m1 -336v1m0 56v1m0 58v1m0 77v1m0 12v1m0 10v1m0 67v1m0 6v1m0 40v1m1 -335v2m0 55v1m0 57v1m0 6v5m0 9v2m0 56v1m0 12v1m0 9v1m0 75v1m0 40v1m0 43v1m1 -377v1m0 53v1m0 69v1m0 67v1m0 13v1m0 8v1m0 75v1m0 40v1m0 43v1"/>
<path stroke="#004dff" d="M170.5 552v3m1 -75v1m0 71v2m0 50v2m1 -126v1m0 70v1m0 55v3m1 -316v1m0 188v1m0 1v6m0 52v6m0 1v2m0 60v2m1 -122v1m0 2v1m0 50v4m0 66v2m1 -324v1m0 201v1m0 49v5m0 69v5m1 -330v1m0 200v1m0 39v1m0 2v1m0 1v5m0 1v1m1 -252v1m0 199v1m0 38v1m1 -240v1m0 198v1m0 34v1m0 97v3m1 -337v1m0 204v1m0 29v1m0 102v1m1 -342v1m0 208v1m0 8v5m0 13v2m0 105v2m0 1v1m1 -352v1m0 1v1m0 212v4m0 2v3m0 3v8m1 -4v4m0 2v3m0 113v4m0 20v3m1 -378v1m1 0v1m0 354v1m2 -348v1m0 351v1m1 -350v1m1 0v1m1 -1v1m0 185v1m1 -189v2m1 -3v1m0 352v3m1 -357v1m2 4v1m1 -1v1m1 -3v2m1 -2v1m0 347v3m1 -351v1m1 -1v1m1 0v1m0 181v3m1 -185v1m0 181v1m0 1v3m0 163v3m1 -353v1m0 181v1m0 4v1m1 -187v1m0 1v1m0 178v1m1 -179v1m0 177v1m0 3v1m1 -180v1m0 174v1m0 4v1m4 -77v1m0 75v1m1 -178v1m1 -3v1m0 173v1m0 4v1m0 165v3m1 -350v1m1 -3v1m0 177v1m0 5v1m0 1v1m1 -188v1m0 179v1m1 -182v2m0 185v1m0 160v3m1 -352v2m0 179v1m0 5v1m1 -188v1m0 186v1m0 77v1m1 -267v1m0 182v1m0 3v1m0 77v1m0 5v1m1 -89v1m0 3v1m0 82v6m1 -94v2m0 2v2m0 84v2m0 1v1m0 77v3m1 -358v1m0 181v2m0 4v2m0 85v3m0 7v1m1 -285v1m0 182v1m0 2v3m0 87v5m0 2v1m0 1v3m1 -289v1m0 279v2m0 9v1m0 54v3m1 -350v1m0 283v1m0 80v3m1 -367v2m0 281v1m0 9v1m1 -291v1m0 279v1m0 13v2m0 1v3m1 -298v1m0 277v1m0 19v2m1 -299v1m0 276v1m1 -279v1m0 278v1m0 18v1m1 -181v1m0 161v2m0 22v1m1 -305v1m0 275v3m0 27v1m1 -36v5m0 32v1m1 -309v1m0 123v1m0 133v7m0 5v1m0 39v1m0 48v3m1 -231v1m0 126v2m0 51v1m1 -313v1m0 258v1m0 54v1m1 -55v3m0 52v1m1 -316v1m0 262v1m0 52v1m0 25v3m1 -83v3m1 -266v1m0 262v1m0 2v2m0 51v1m1 -321v1m0 321v1m0 1v1m1 -327v1m0 269v1m0 56v1m1 -58v1m0 58v1m1 -60v6m0 54v2m1 -336v1m0 280v1m0 53v1m1 -339v1m0 286v1m0 51v1m1 -342v1m0 212v11m0 121v1m1 -347v1m0 210v13m0 70v1m0 2v1m0 49v1m1 -50v1m0 49v1m1 -349v1m0 298v1m0 48v1m1 -48v1m1 36v5m1 -343v1m0 309v1m1 -312v1m0 311v1m0 22v2m1 -3v1m0 25v3m1 -48v1m0 15v1m1 -332v1m0 316v1m0 1v1m0 55v3m1 -47v1m1 -10v2m0 8v1m0 1v1m1 -335v1m0 324v1m0 6v4m1 -10v1m0 7v3m1 -13v1m0 12v1m1 -338v1m0 210v3m0 111v4m0 9v2m1 -129v3m0 116v1m1 -120v3m0 128v1m1 -342v1m0 209v3m0 121v1m0 2v2m2 -339v1m0 209v4m1 -3v4m1 -4v4m1 -1v1m2 -71v1m4 -146v1m4 -8v1m1 0v1m1 -5v1m3 -1v1m0 157v1m1 -4v1m1 -157v1m1 -2v1m0 386v3m2 -391v1m1 -2v1m1 0v1m1 -1v1m2 -1v1m1 -1v1m2 -1v1m1 -1v1m2 150v1m2 -149v1m2 -1v1m0 375v3m1 -379v1m1 384v3m2 -3v3m1 -388v1m1 -2v1m0 373v3m1 -379v1m1 -3v1m0 389v3m2 -394v1m1 -1v2m0 229v1m0 6v1m1 -238v1m0 9v2m0 216v1m0 9v1m1 -236v1m0 5v1m0 216v1m0 12v1m1 -235v5m0 3v3m0 226v1m0 2v2m1 -231v1m0 209v1m0 16v3m0 1v1m1 -234v2m0 208v1m0 19v1m0 1v1m0 1v1m1 -237v1m0 209v1m1 1v1m0 18v1m1 -18v2m0 13v1m1 -230v1m0 215v1m0 11v1m1 -12v1m0 10v1m1 -229v1m0 215v1m0 11v3m1 -232v1m0 215v1m0 8v7m1 -16v1m0 9v4m1 -227v1m0 221v1m0 153v3m1 -165v1m0 6v1m1 -8v1m0 7v1m1 -228v2m0 218v1m0 5v1m1 -233v1m0 225v2m0 4v1m1 -234v1m0 232v1m0 154v3m1 -391v1m0 387v3m1 -165v1m0 8v1m1 -10v1m0 7v2m1 -233v1m0 216v1m0 10v4m1 -14v1m0 11v1m0 139v3m1 -154v1m0 7v4m1 -232v1m0 219v2m0 6v1m1 -230v1m1 0v1m0 220v1m0 5v1m1 -228v1m0 220v2m0 2v3m1 -228v1m0 219v1m0 5v1m1 -228v1m0 218v2m0 6v1m1 -8v2m0 5v1m1 -9v3m0 5v2m1 -12v2m0 8v2m1 -230v1m0 217v2m0 9v2m1 -14v1m0 8v3m1 -12v1m0 8v2m1 -226v1m0 214v1m0 11v1m1 -14v1m0 12v1m0 158v3m1 -389v1m0 226v1m1 -14v1m0 13v1m1 -15v1m0 13v2m1 -230v1m0 214v1m0 13v1m1 -16v1m0 14v3m1 -232v1m0 213v1m0 16v1m1 -18v1m0 13v3m1 -16v1m0 13v2m1 -16v1m0 14v2m1 -232v1m0 214v2m0 10v2m0 1v2m1 -18v2m0 9v3m0 1v2m1 -17v1m0 9v4m1 -16v1m0 15v1m1 -18v1m1 -1v1m0 3v1m1 -213v1m0 213v1m0 7v3m1 -11v2m0 3v3m0 161v3m1 -386v1m0 212v9m1 -223v1m0 214v2m0 4v2m1 -222v1m0 213v4m0 2v2m1 -221v1m0 212v1m0 7v2m1 -224v1m0 214v1m0 7v1m1 -8v3m0 2v2m1 -7v2m0 2v4m1 -224v1m0 164v1m0 50v2m0 2v4m1 -223v1m0 215v1m0 2v2m1 -219v1m0 212v1m0 4v1m1 -218v1m0 210v1m0 4v1m0 150v3m1 -367v1m0 207v2m0 1v2m0 163v3m1 -171v4m1 -5v2m0 2v2m1 -213v2m0 205v1m0 1v2m1 -211v2m1 3v2m1 2v1m0 195v3m1 -198v1m0 195v5m1 -3v1m1 -198v1m0 194v3m1 -49v1m0 44v3m0 159v3m1 -165v1m1 -42v1m0 40v1m0 2v3m1 -6v2m0 3v2m1 -199v3m0 190v1m0 3v2m1 -5v3m1 -4v4m1 -3v1m0 2v1m4 -194v3m0 189v3m1 -5v3m0 1v1m1 -196v1m0 191v4m1 -198v2m0 193v2m2 -2v4m0 163v3m1 -456v3m0 1v1m0 280v4m0 3v2m1 -294v1m0 89v1m0 197v1m0 4v2m1 -294v2m0 3v1m0 83v1m0 198v1m0 1v2m1 -292v4m0 83v2m0 199v4m1 -293v2m0 10v1m0 276v4m1 -295v4m0 12v1m0 273v2m0 2v2m1 -277v1m0 67v1m0 202v1m1 -289v1m0 4v2m0 281v1m0 3v2m1 -293v1m0 79v3m1 -83v1m0 288v2m1 -291v2m0 18v1m0 1v1m0 266v2m0 161v3m1 -453v1m0 285v4m1 -289v1m0 17v1m0 266v2m0 150v3m1 -423v1m0 267v1m1 -284v1m0 14v2m1 -1v1m0 261v1m1 -277v1m0 13v1m0 261v5m1 -267v1m0 260v1m0 3v3m0 148v3m1 -432v1m0 274v2m0 2v3m1 -282v1m0 12v1m0 262v1m0 3v2m1 -281v1m0 275v5m1 -281v1m0 12v1m0 261v1m0 5v1m1 -281v1m0 10v1m0 260v1m1 -272v1m0 9v2m0 59v1m0 197v3m0 8v1m1 -12v1m0 8v2m1 -293v1m0 1v1m0 82v1m0 194v3m0 7v3m1 -301v4m0 1v1m0 2v2m0 3v1m0 9v1m0 68v1m0 193v2m0 12v1m1 -301v3m0 21v1m0 6v1m0 254v1m0 13v2m1 -278v1m0 5v1m0 255v1m0 10v4m1 -277v2m0 65v1m0 194v1m0 10v4m1 -276v1m0 4v1m0 60v2m0 192v1m0 16v2m1 -277v1m0 4v1m0 61v1m0 189v1m0 17v3m1 -277v1m0 2v1m0 4v1m0 249v1m0 15v3m1 -277v1m0 2v1m0 255v1m0 16v1m1 -277v1m0 3v1m0 256v1m1 -262v1m0 225v1m0 35v1m0 14v1m1 -278v1m0 222v1m0 37v1m0 10v4m0 1v1m1 -278v1m0 68v1m0 192v1m0 8v2m1 -11v1m0 8v5m1 -13v1m0 8v2m1 -1v3m1 -204v1m0 190v1m0 10v1m1 -204v1m0 1v1m0 189v2m0 9v1m1 -203v1m0 190v1m0 5v5m1 -201v1m0 189v1m1 14v1m2 -210v2m0 192v1m1 0v1m0 13v1m0 155v3m1 -369v1m2 209v1m2 -214v1m1 -1v1m0 197v1m1 -198v1m0 212v1m1 142v3m1 -145v1m2 -219v1m0 195v1m0 20v1m1 -1v1m1 -220v1m0 198v1m2 -32v1m0 29v1m0 20v1m1 -55v1m1 54v1m1 -24v1m3 24v1m1 -212v1m1 185v1m0 24v1m1 -27v1m0 26v1m1 -208v1m0 208v1m1 -208v2m0 174v1m0 30v2m1 -207v1m0 203v4m1 -63v1m0 55v3m1 -2v2m1 -82v2m0 7v1m0 71v1m2 -295v3m0 291v1m1 -295v1m0 5v1m0 88v1m0 199v1m1 -294v1m0 93v2m1 -95v1m0 94v1m1 -95v1m0 3v1m0 90v1m0 160v4m1 -259v1m0 1v1m0 4v1m0 86v1m0 160v3m1 -255v1m0 4v1m0 85v1m0 163v1m0 32v1m1 -283v1m0 81v2m0 165v1m1 -167v1m0 165v1m0 32v1m1 -286v1m0 5v1m0 77v2m0 165v1m0 34v1m1 -286v1m0 5v1m0 76v1m0 166v1m1 -249v1m0 5v1m0 74v1m0 166v1m0 34v1m1 -282v1m0 76v1m0 1v1m0 202v1m1 -281v2m0 70v1m0 3v1m0 168v2m0 32v1m1 -210v1m0 2v1m0 173v1m0 30v2m1 -34v1m0 30v4m1 -36v1m0 33v1m1 -316v3m0 313v2m1 -318v1m0 2v2m0 273v4m1 -283v1m0 4v1m0 277v1m0 35v1m1 -319v1m0 40v2m0 236v3m1 -281v1m0 2v2m0 274v1m0 37v1m1 -319v2m0 6v1m0 272v1m1 -280v1m0 6v1m0 162v3m0 107v1m0 35v1m1 -317v1m0 7v1m0 90v1m0 73v1m0 105v1m1 -280v1m0 8v1m0 162v3m0 104v2m0 36v1m1 -317v1m0 96v2m0 75v1m0 141v1m1 -316v1m0 7v1m0 307v2m1 -319v1m0 9v1m0 268v2m0 35v1m1 -317v1m0 174v1m0 70v1m0 70v1m1 -319v1m0 12v1m0 3v1m0 75v1m0 1v1m0 185v2m0 36v1m1 -320v1m0 14v1m0 156v2m0 109v1m0 36v1m1 -321v1m0 173v1m0 109v1m1 -284v1m0 13v1m0 268v1m0 35v1m1 -319v1m0 18v2m0 298v1m1 -321v2m0 20v1m0 296v1m1 -320v1m0 22v1m0 259v1m1 -285v1m0 23v1m0 148v1m0 110v1m0 35v2m0 127v3m1 -453v2m0 24v3m0 150v1m0 3v1m0 101v1m0 35v1m1 -324v2m0 29v1m0 64v1m0 225v1m1 -324v2m0 31v2m0 138v1m0 12v1m0 1v1m0 3v1m0 129v1m1 -323v2m0 31v1m0 159v1m1 -195v2m0 33v3m0 136v1m0 19v1m1 -196v2m0 37v1m0 134v1m0 22v1m0 2v1m0 89v1m1 -291v1m0 37v1m0 135v1m0 29v1m1 -205v1m0 38v1m0 134v1m0 31v1m0 260v3m1 -471v2m0 38v1m0 134v1m0 36v1m1 -213v1m0 39v4m0 131v1m0 38v1m1 -216v1m0 12v1m0 3v1m0 22v1m0 136v1m0 39v1m1 -218v1m0 21v2m0 12v2m0 3v5m0 1v1m0 129v1m1 -179v1m0 13v1m0 3v5m0 8v1m0 4v1m0 5v3m0 3v1m0 128v1m0 44v1m0 2v1m0 35v1m1 -262v2m0 10v1m0 164v1m1 -179v3m0 98v2m0 75v1m0 48v1m0 231v3m1 -462v3m0 11v2m0 162v1m1 -179v1m0 1v6m0 8v1m0 161v1m1 -176v2m0 4v1m0 1v1m0 165v1m0 47v1m0 65v1m1 -252v1m0 1v1m0 110v1m0 22v1m0 115v1m1 -276v2m0 1v1m0 17v1m0 5v1m0 109v1m0 138v1m0 31v2m1 -309v1m0 2v1m0 15v1m0 11v1m0 126v1m0 117v1m0 29v1m1 -276v1m0 53v1m0 72v1m0 47v3m0 67v1m1 -258v1m0 64v1m0 192v1m1 -259v1m0 10v1m0 244v2m1 -154v1m0 86v3m0 63v1m1 -258v1m0 60v2m0 42v1m0 11v1m0 22v1m0 55v5m1 -198v1m0 7v1m0 130v1m0 63v2m1 -198v1m0 52v1m0 79v1m1 -133v2m0 129v1m1 -39v1m0 38v1m0 114v1m1 -155v1m0 38v1m0 111v3m1 -154v2m0 37v1m1 -82v1m0 40v1m0 40v1m0 108v1m1 -191v1m0 39v1m1 -25v1m0 22v1m0 42v3m0 105v1m0 168v3m1 -362v1m0 14v1m0 4v2m0 14v3m0 16v1m0 154v1m0 148v3m1 -346v4m0 3v1m0 11v1m0 19v1m0 27v1m0 126v1m1 -211v1m0 13v2m0 19v1m0 18v1m0 28v1m0 125v1m1 -198v2m0 11v1m0 29v1m0 154v1m1 -211v1m0 10v1m0 16v1m0 5v1m0 19v1m0 30v1m0 123v1m1 -205v1m0 5v1m0 19v4m0 50v1m0 124v2m0 159v3m1 -319v1m0 30v1m0 124v3m0 157v3m1 -360v1m0 2v2m0 35v1m0 32v1m0 122v1m1 -192v1m0 33v1m0 33v1m0 123v2m1 -193v2m0 31v1m0 34v1m0 123v1m1 -201v1m0 9v1m0 30v1m0 35v2m0 104v1m0 15v1m1 -200v1m0 10v1m0 29v1m0 37v1m0 120v1m1 -201v1m0 9v1m0 31v1m0 36v1m0 103v1m0 16v1m1 -288v1m0 86v1m0 10v3m0 28v1m0 37v3m0 99v1m0 17v1m1 -288v1m0 6v1m0 79v1m0 40v1m0 41v1m0 116v1m1 -286v1m0 5v1m0 2v1m0 74v1m0 15v1m0 25v1m0 42v2m0 98v1m0 16v2m1 -287v1m0 7v1m0 74v1m0 15v1m0 25v1m0 43v1m0 116v1m1 -286v1m0 81v1m0 13v1m0 27v1m0 42v5m0 95v1m0 16v1m1 -284v1m0 7v1m0 72v1m0 11v1m0 29v2m0 40v1m0 99v1m0 17v1m1 -283v1m0 6v1m0 72v1m0 41v1m0 39v3m0 116v1m1 -283v2m0 79v1m0 11v1m0 29v1m0 34v5m0 102v1m0 15v1m1 -275v1m0 74v1m0 9v1m0 29v1m0 142v1m0 14v1m1 -282v1m0 90v1m0 28v3m0 36v1m0 107v1m0 13v1m1 -304v6m0 21v1m0 114v1m0 39v1m0 105v1m1 -289v1m0 6v1m0 13v3m0 83v1m0 4v1m0 22v3m0 1v1m0 148v1m0 14v1m1 -305v2m0 7v1m0 99v1m0 2v1m0 20v1m0 155v1m1 -290v1m0 10v1m0 97v1m0 1v1m0 69v2m0 121v1m1 -306v1m0 108v1m0 22v2m0 47v1m0 108v1m0 13v2m1 -308v1m0 16v1m0 95v1m0 16v1m0 53v2m0 119v1m1 -291v1m0 168v1m0 106v1m0 14v1m1 -307v1m0 7v3m0 295v1m1 -306v1m0 5v1m0 5v1m0 1v1m0 113v1m0 163v1m0 12v1m1 -306v4m0 9v1m0 112v1m0 177v1m1 -305v6m0 7v1m0 3v1m0 107v1m0 59v1m0 106v1m0 12v1m1 -293v4m0 109v1m0 59v1m0 23v4m0 79v1m0 10v1m1 -292v4m0 3v1m0 105v1m0 80v2m0 95v1m1 -288v1m0 4v1m0 167v1m0 14v1m0 9v3m0 77v1m1 -273v1m0 101v1m0 78v2m0 12v2m0 83v1m1 -284v1m0 5v1m0 98v1m0 81v1m0 11v1m0 75v1m0 8v1m1 -284v2m0 102v1m0 167v1m0 9v1m1 -95v3m0 79v1m0 12v3m1 -181v1m0 85v3m0 76v1m1 -166v1m0 178v1m0 149v3m1 -329v1m0 64v1m0 14v2m0 80v1m0 13v1m1 -176v1m0 65v5m0 90v1m0 13v1m0 161v3m1 -337v1m0 66v1m0 9v7m0 73v1m0 14v1m1 -171v1m0 65v1m0 18v1m0 69v1m0 14v1m1 -170v1m0 82v1m0 84v1m1 -167v1m0 1v1m0 79v1m0 70v1m0 12v1m1 -84v3m1 -81v1m0 80v1m0 66v2m0 11v1m1 -80v1m0 66v1m0 11v1m1 -272v3m0 190v1m0 65v1m1 -263v1m0 5v2m0 105v1m0 83v2m0 63v1m0 11v1m1 -276v2m0 7v1m0 190v1m0 62v1m1 -262v1m0 7v1m0 190v1m0 61v1m0 11v1m1 -269v1m0 1v1m0 190v1m0 61v1m0 11v1m1 -267v2m0 1v1m0 189v2m1 -191v1m0 250v1m0 12v1m1 -163v1m0 87v1m0 59v1m1 -61v1m1 -90v1m0 161v1m1 -164v1m0 149v1m1 -151v1m0 149v1m0 13v1m1 -164v1m0 49v2m0 36v2m0 61v1m0 12v1m1 -112v1m0 35v1m0 64v1m0 8v1m1 -297v1m0 4v1m0 7v5m0 110v5m0 42v1m0 12v2m0 28v4m0 66v1m0 7v1m1 -296v1m0 6v1m0 3v1m0 112v1m0 49v3m0 109v1m0 7v1m1 -276v1m0 106v2m0 45v1m0 113v1m0 169v3m1 -462v2m0 6v1m0 1v1m0 17v1m0 145v1m0 16v1m0 97v1m1 -290v2m0 3v1m0 5v1m0 17v1m0 145v1m0 23v2m0 8v2m0 78v1m0 6v1m1 -297v1m0 3v1m0 6v3m0 162v1m0 21v1m0 5v4m0 82v1m0 5v1m1 -297v2m0 2v1m0 10v1m0 159v1m0 9v1m0 1v2m0 7v4m0 89v1m0 6v1m1 -280v1m0 11v1m0 101v1m0 1v1m0 42v1m0 17v2m0 94v1m0 168v3m1 -444v1m0 10v1m0 145v1m0 8v1m0 8v1m0 95v1m0 5v1m1 -278v1m0 10v1m0 145v1m0 16v1m0 94v1m0 159v3m1 -431v1m0 10v1m0 143v3m0 7v1m0 7v1m0 95v1m0 6v1m1 -277v1m0 10v1m0 142v1m0 11v1m0 1v1m0 3v2m0 95v1m1 -271v1m0 10v2m0 98v2m0 41v1m1 -158v1m0 157v1m0 115v1m0 6v1m1 -283v1m0 13v1m0 98v1m0 44v1m0 117v1m0 5v1m1 -283v1m0 158v2m0 121v1m1 -268v1m0 145v5m0 111v1m0 3v1m1 -280v1m0 163v1m0 9v1m0 104v1m0 1v1m0 143v3m1 -428v1m0 10v1m0 96v1m0 56v1m0 8v1m0 100v1m0 6v2m1 -284v1m0 8v1m0 165v1m0 100v1m0 6v1m0 41v2m0 1v1m0 1v1m1 -332v1m0 9v1m0 166v4m0 104v1m1 -289v1m0 10v3m0 267v1m0 52v1m1 -334v1m0 8v1m0 171v1m0 98v1m0 4v1m0 49v1m1 -335v1m0 8v1m0 270v1m0 2v1m0 42v1m0 6v1m1 -332v1m0 5v1m0 157v2m0 13v1m0 97v1m0 4v1m0 39v1m0 8v1m1 -326v1m0 100v1m0 53v1m0 2v10m0 1v1m0 101v1m0 46v1m0 118v3m1 -445v1m0 170v1m0 104v1m0 5v1m1 -284v1m0 5v1m0 100v1m0 59v8m0 103v1m0 6v1m1 -287v1m0 278v1m1 -281v1m0 5v1m0 163v1m0 1v1m0 3v1m1 -177v1m0 5v1m0 166v3m0 103v1m0 8v1m1 -290v1m0 5v1m0 155v1m0 8v1m0 108v1m0 46v1m0 5v1m1 -335v2m0 5v1m0 157v1m0 2v1m0 156v2m0 5v4m1 -335v1m0 6v1m0 153v1m0 118v1m0 44v1m0 4v1m1 -330v1m0 5v1m0 151v2m0 119v1m0 7v1m1 -288v1m0 5v4m0 99v1m0 46v1m0 124v1m0 4v1m1 -279v1m0 145v3m0 127v1m0 1v1m0 1v1m1 -288v1m0 7v1m0 143v1m0 133v1m0 142v3m1 -432v2m0 106v4m0 40v1m0 279v3m0 9v3m1 -439v1m0 142v1m1 -149v1m0 147v1m1 -148v1m0 4v1m0 137v4m1 -147v1m0 7v1m0 133v1m1 -141v1m0 107v1m0 32v2m1 -142v1m0 107v1m0 32v1m0 177v1m1 -321v1m0 6v1m0 102v1m0 31v1m0 174v1m0 3v1m1 -321v1m0 140v1m0 175v1m1 -318v1m0 141v2m0 173v1m0 1v1m1 -322v3m0 5v2m0 104v1m0 28v1m0 28v1m0 145v5m1 -317v1m0 137v1m0 27v1m0 251v3m1 -428v1m0 6v2m0 3v1m0 104v2m0 27v3m0 20v1m0 4v4m1 -178v1m0 6v8m0 155v1m1 -172v4m0 2v1m0 3v1m0 4v2m0 160v1m1 -175v1m0 7v1m0 158v2m0 2v2m1 -165v2m0 2v1m0 157v1m1 -163v1m0 3v1m1 -6v1m1 -1v1m0 145v1m0 4v1m1 -152v1m0 110v1m0 37v1m0 2v4m0 266v3m1 -425v1m0 110v1m0 34v2m0 7v1m1 -156v1m0 108v2m0 45v1m0 4v2m1 -163v1m0 163v2m1 -165v1m0 164v2m0 1v1m1 -168v1m0 2v1m0 101v1m0 62v1m0 2v1m1 -172v2m0 2v1m0 2v1m0 163v1m1 -172v4m0 2v1m0 159v1m1 -1v1m1 -1v1m0 253v3m1 -257v1m1 0v2m1 0v1m1 0v1m0 258v3m1 -329v1m0 67v1m2 -69v1m0 67v1m1 -70v1m0 68v1m2 -72v1m0 68v1m1 -71v1m0 60v3m0 3v3m1 -71v1m1 -2v1m1 -3v1m0 58v3m1 -7v2m3 -9v1m1 -52v1m0 327v3m2 -332v1m1 -3v1m2 330v3m3 -6v3m2 -273v1m3 4v2m1 -66v1m2 -2v1m0 71v7m1 -80v1m0 75v1m0 6v1m0 259v3m1 -346v1m0 76v2m0 5v3m1 -1v1m1 -87v1m0 84v1m1 -86v1m0 85v1m0 172v1m0 83v3m1 -259v1m1 -2v1m1 -198v4m0 186v8m1 -195v3m0 1v3m0 101v1m0 74v4m1 -187v2m0 1v5m0 100v1m0 73v1m1 -183v1m0 5v2m0 101v1m0 64v2m1 -170v3m1 -8v1m0 6v2m0 99v1m1 -109v1m0 7v2m0 97v1m1 -108v1m0 9v1m0 97v1m0 317v3m1 -429v2m0 9v1m0 153v1m1 -165v1m0 10v1m0 153v1m1 -165v1m0 10v1m1 95v1m1 -107v1m0 12v1m1 -13v1m1 -1v1m0 13v1m0 431v3m1 -449v1m0 104v1m1 -107v1m0 16v1m0 89v1m1 -117v5m0 4v1m0 16v1m0 90v1m1 -113v2m1 -11v1m1 29v1m0 93v1m1 -127v1m0 124v1m1 -125v1m1 0v1m0 29v1m0 92v1m1 -124v1m1 -2v1m0 30v1m1 -35v3m1 -4v3m0 33v1m1 -38v2m0 128v1m1 -1v1m0 55v1m1 -189v2m0 127v1m0 1v1m1 -133v1m1 -2v1m0 39v1m0 91v1m1 -133v1m0 39v2m1 -42v1m0 130v1m1 -133v1m0 39v1m1 -40v1m0 38v1m1 -40v1m0 130v1m1 -93v1m0 91v1m1 -133v1m0 40v1m0 90v1m1 -133v1m0 132v1m0 62v4m1 -200v1m0 133v1m1 -2v1m1 -133v1m0 133v1m0 75v1m1 -211v1m0 39v1m0 95v1m0 73v1m1 -211v1m0 137v3m0 70v3m1 -215v1m0 40v1m0 173v1m1 -216v2m0 41v1m0 172v1m1 -217v1m0 216v1m1 -218v1m0 43v1m0 101v1m0 66v2m0 1v2m1 -218v1m0 146v1m0 64v1m1 -213v1m0 42v2m1 -45v1m0 44v1m1 -47v1m0 46v1m0 78v1m0 3v6m1 -136v1m0 124v1m0 10v1m0 1v2m0 65v1m1 -66v1m0 50v3m0 3v2m0 7v1m1 -207v1m0 124v1m0 15v1m0 6v1m0 55v3m1 -207v3m0 3v1m0 2v1m0 36v1m0 77v1m0 16v1m0 61v1m1 -200v1m0 17v1m0 101v1m0 17v1m0 58v5m1 -182v1m0 98v1m0 19v4m1 -121v1m0 20v1m0 74v1m1 -96v1m0 94v1m2 -94v2m0 90v1m1 -106v1m0 14v1m0 15v1m0 137v1m1 -153v1m0 86v1m1 -74v1m1 -31v1m0 18v1m0 11v1m0 69v1m1 -103v2m0 20v1m0 80v1m1 -107v3m0 23v1m0 9v1m0 68v1m1 -111v1m0 9v1m0 31v1m0 69v1m1 -112v1m0 10v1m0 20v1m0 79v1m1 -101v1m0 20v2m0 77v1m1 -115v2m0 33v2m0 7v1m0 68v1m1 -115v3m0 33v3m0 75v1m1 -115v2m0 14v1m0 22v3m0 72v1m0 339v3m1 -457v1m0 16v1m0 1v1m0 93v1m1 -113v1m0 18v1m0 93v1m1 -112v1m0 17v1m0 93v1m1 -112v1m0 17v1m0 161v1m1 -181v1m0 18v1m0 92v1m1 -113v1m1 -2v1m0 13v1m0 5v1m0 92v1m1 -118v5m0 20v1m1 -27v1m0 26v1m0 93v1m0 74v2m0 264v3m1 -465v2m0 120v1m1 -121v1m0 24v2m1 -24v1m0 21v1m0 94v1m1 -96v1m0 93v1m1 -115v1m0 20v1m1 -22v1m0 21v2m1 -23v1m0 21v1m1 -19v1m0 17v1m1 -18v1m0 17v1m0 86v1m1 -106v1m0 17v1m0 87v1m2 -121v2m0 30v1m0 84v1m0 254v1m1 -367v3m0 1v1m0 1v1m0 104v1m0 254v4m1 -380v1m0 39v1m1 -41v1m0 39v1m1 -42v1m0 40v1m0 1v1m1 -44v2m1 -1v1m0 41v1m1 -43v1m0 41v1m0 78v1m1 -122v1m0 41v1m0 77v1m0 83v1m1 -206v1m0 43v1m1 0v1m0 75v1m1 -121v1m1 -1v1m0 119v1m1 -122v1m0 44v1m0 75v1m0 346v3m1 -471v1m0 45v1m1 -47v1m0 45v1m0 331v3m0 1v3m1 -385v1m0 45v1m0 78v1m0 249v1m1 -376v1m0 44v1m0 328v1m0 10v1m0 76v3m1 -465v1m0 45v2m0 78v1m0 244v1m0 14v1m1 -387v2m0 45v1m0 330v1m1 -377v2m0 44v2m0 331v1m0 5v1m1 -384v2m0 44v1m0 331v1m0 3v2m1 -381v1m0 43v1m0 75v1m1 -120v1m0 42v1m1 -43v2m0 40v1m0 75v1m1 -111v1m0 34v1m0 75v1m1 -111v1m0 33v1m0 326v1m1 -362v1m0 33v1m0 75v1m1 -78v1m1 -34v1m0 32v1m0 76v1m1 -111v1m0 33v2m1 -36v1m0 35v1m0 73v1m0 1v2m1 -114v1m0 36v1m0 72v2m1 -113v1m0 38v1m0 76v4m1 -121v1m0 40v1m1 -48v3m0 2v1m0 41v1m1 -52v2m0 4v2m0 43v1m1 -54v1m0 52v1m1 -57v3m0 53v1m1 -57v1m0 56v2m1 -60v1m0 57v1m1 -58v1m0 56v1m1 -57v1m0 55v1m0 415v3m1 -476v1m0 56v1m1 -58v1m0 56v1m1 -59v2m0 55v1m1 -57v2m0 55v1m0 77v1m1 -136v2m0 55v1m1 -58v1m0 56v1m1 -58v1m0 56v1m0 415v3m1 -475v1m0 55v1m1 -57v1m0 54v1m0 81v1m0 325v3m1 -466v1m0 54v1m1 -55v1m0 53v1m1 -56v2m0 52v1m1 -55v1m0 54v1m1 -56v1m0 54v1m1 -56v1m0 53v2m1 -57v1m0 53v1m0 79v1m1 -135v1m0 54v2m1 -57v2m0 54v1m1 -56v1m0 54v1m1 -56v1m0 55v2m0 405v3m1 -465v1m0 54v1m0 415v3m1 -473v2m0 51v1m1 -53v1m0 52v1m1 -54v1m0 52v1m1 0v2m1 -56v1m0 53v1m0 76v1m1 -78v1m0 71v1m0 235v1m0 4v1m1 -369v1m0 55v1m0 67v2m0 3v2m0 229v1m0 7v1m1 -369v1m0 54v1m0 66v1m0 3v2m0 90v1m0 140v1m0 9v1m1 -371v1m0 55v1m0 63v1m0 99v1m0 79v1m0 60v1m0 8v1m1 -372v1m0 56v1m0 164v1m0 149v4m1 -376v1m0 57v4m0 161v2m1 -225v1m0 58v1m0 59v1m0 104v1m0 152v1m1 -379v1m0 58v1m0 163v2m0 137v1m1 -303v1m0 161v1m0 142v5m0 11v1m1 -381v1m0 59v1m0 160v1m0 150v4m0 9v1m1 -386v1m0 59v1m0 63v1m0 96v2m0 157v1m0 6v1m1 -388v1m0 58v1m0 323v1m0 2v1m0 2v1m1 -389v1m0 55v3m0 159v1m0 171v1m1 -392v1m0 55v1m0 163v1m0 167v1m0 83v3m1 -476v1m0 57v2m0 63v1m0 98v1m0 166v1m0 3v1m1 -393v1m0 55v1m0 62v1m0 102v7m0 7v1m0 155v1m1 -394v1m0 56v2m0 166v1m0 3v2m0 7v1m0 6v3m1 -248v1m0 55v1m0 64v1m0 104v1m0 19v1m0 42v2m1 -292v1m0 55v1m0 65v1m0 120v1m0 46v5m1 -297v2m0 57v2m0 181v1m0 233v3m1 -419v1m0 62v1m0 117v1m1 -243v1m0 61v1m1 -62v1m0 60v1m0 169v1m0 4v1m1 -236v1m0 59v1m0 167v2m0 2v1m0 7v1m1 -181v1m0 60v1m0 105v1m0 13v3m1 -246v1m0 61v1m0 166v1m0 13v7m1 -250v1m0 62v1m0 60v1m0 103v1m0 14v1m0 5v4m1 -254v1m0 64v1m0 76v1m0 102v3m0 3v4m1 -257v1m0 66v1m0 59v1m0 3v1m0 11v1m0 84v1m0 19v2m0 2v1m1 -186v1m0 64v1m0 5v6m0 3v1m0 80v1m1 -230v1m0 68v1m0 68v1m0 90v1m0 70v2m1 -301v1m0 66v1m0 80v1m0 78v1m0 67v6m1 -301v1m0 66v1m0 81v1m0 76v1m0 68v1m0 3v2m1 -301v1m0 65v1m0 159v1m0 67v1m1 -296v1m0 66v1m0 82v1m0 73v3m0 68v1m0 5v1m0 64v1m0 4v1m0 1v2m1 -374v2m0 64v1m0 82v1m0 71v1m0 72v1m0 5v1m0 73v1m1 -376v2m0 64v2m0 83v1m0 70v1m0 71v1m0 5v1m0 74v1m1 -376v1m0 64v1m0 151v1m0 75v1m0 70v1m1 -365v1m0 65v1m0 148v1m0 76v1m0 71v1m0 13v4m1 -383v1m0 66v1m0 148v1m0 77v5m0 84v1m1 -384v1m0 66v1m0 79v1m0 236v1m1 -385v1m0 136v1m0 3v1m0 74v1m0 3v1m0 164v5m0 83v3m1 -410v1m0 68v1m0 253v1m1 -325v1m0 155v1m0 1v1m0 1v1m0 134v5m0 24v1m1 -387v1m0 62v1m0 67v1m0 253v1m0 78v3m1 -465v1m0 60v1m0 66v1m0 92v1m0 161v1m1 -383v1m0 58v1m0 288v1m0 2v1m0 31v1m1 -383v1m0 57v1m0 69v1m0 92v2m0 125v2m0 31v1m0 81v3m1 -465v1m0 56v1m0 70v1m0 251v1m1 -380v1m0 2v1m0 52v1m0 71v1m0 93v1m0 157v1m1 -377v1m0 51v1m0 73v1m0 72v1m0 145v2m0 29v1m1 -378v1m0 52v1m0 75v1m0 65v5m0 2v1m0 140v2m0 31v1m1 -378v1m0 53v1m0 77v1m0 61v2m0 21v1m0 124v1m0 34v1m1 -324v1m0 77v1m0 71v1m0 12v1m0 123v1m1 -340v1m0 51v1m0 78v1m0 59v1m0 148v1m1 -289v1m0 77v1m0 59v1m0 24v1m0 159v1m0 81v3m1 -461v1m0 129v2m0 59v1m0 26v1m0 122v1m0 35v2m1 -380v1m0 129v1m0 86v1m0 123v1m0 37v1m1 -379v1m0 129v1m0 59v1m0 12v1m0 134v1m0 40v3m1 -383v1m0 52v1m0 79v1m0 71v1m0 9v1m0 122v1m0 43v1m1 -329v1m0 79v1m0 56v1m0 23v1m0 118v1m0 41v2m0 81v3m1 -407v1m0 80v1m0 53v1m0 184v1m1 -257v1m0 16v1m0 54v1m0 23v1m0 69v3m0 45v1m0 42v1m1 -377v1m0 53v1m0 59v1m0 4v1m0 16v1m0 54v1m0 14v1m0 78v1m1 -171v1m0 7v1m0 12v1m0 54v1m0 15v1m0 77v1m0 4v1m0 42v1"/>
<path stroke="#0066ff" d="M170.5 294v1m0 186v1m0 64v6m1 -258v1m0 248v2m0 1v1m0 3v2m0 54v1m1 -313v1m0 243v6m0 1v1m0 3v2m0 59v1m1 -127v1m0 6v1m0 43v8m0 6v1m0 64v1m1 -320v1m0 241v6m0 75v1m0 32v3m1 -118v4m0 4v2m1 -11v1m0 4v1m0 5v1m0 79v1m1 -330v1m0 233v1m0 2v1m0 92v1m1 -132v4m0 29v1m0 135v1m1 -371v1m0 210v11m0 10v2m0 104v1m1 -342v3m0 206v8m0 5v13m0 109v1m1 -348v3m0 213v2m0 14v5m1 -238v2m0 231v2m1 -234v1m0 354v1m1 -355v4m0 1v1m1 0v1m0 351v1m1 -351v2m1 1v1m1 0v3m1 -3v4m0 182v1m0 165v3m1 -356v1m1 -3v1m2 1v1m0 349v3m1 -351v1m1 -1v1m1 -2v1m1 -2v1m1 -1v1m1 -1v1m1 0v1m1 -1v1m0 181v1m1 -183v1m0 181v4m1 -185v1m0 1v1m0 178v4m1 -182v2m0 176v3m1 -178v1m0 174v1m0 1v2m1 -177v1m0 171v1m0 4v1m1 -176v1m0 169v1m0 4v1m1 -6v1m0 4v1m1 -176v1m0 169v1m0 3v1m1 -5v1m0 3v1m2 -180v1m0 175v1m0 3v1m1 -183v2m0 176v1m1 -180v1m0 184v1m1 -186v1m0 178v1m0 4v1m1 -186v2m0 178v1m0 3v1m1 -186v1m0 180v1m0 3v1m1 -4v1m0 1v1m1 -188v2m0 183v3m1 -188v1m0 184v2m0 88v1m0 75v3m1 -354v1m0 182v4m1 -3v2m0 95v2m0 1v1m1 -285v1m0 280v9m1 -291v1m0 290v2m1 -291v2m0 280v1m0 7v1m1 -289v2m0 289v1m0 3v1m1 -294v1m0 295v1m0 46v3m1 -68v1m0 64v3m1 -346v1m0 278v2m1 -281v1m0 299v3m1 -303v1m0 277v5m0 21v1m1 -305v1m0 274v2m0 29v1m1 -37v1m0 36v2m1 -310v1m0 259v3m0 1v3m1 -8v3m1 -262v1m0 261v4m0 47v1m1 -51v3m0 48v1m1 -316v1m0 264v4m0 48v1m1 -51v4m1 -146v2m0 139v2m0 51v1m1 -53v1m0 53v2m1 -328v1m0 271v2m0 54v2m1 -331v1m0 277v1m0 52v1m1 -333v1m0 280v3m0 49v1m1 -337v1m0 286v2m0 41v1m0 6v1m1 -49v3m0 46v4m1 0v1m1 -347v1m0 346v1m1 -48v1m0 46v1m1 -347v1m0 300v2m0 34v8m0 13v3m1 -361v1m0 307v1m0 27v1m1 -27v1m0 23v2m1 -25v1m0 17v4m0 34v3m1 -372v1m0 313v2m0 15v3m1 -334v1m0 315v4m0 10v1m1 -11v1m0 9v1m1 -330v1m0 319v1m0 8v1m1 -330v1m0 132v1m0 189v2m0 5v1m1 -6v1m0 4v1m1 -332v1m0 326v7m1 -334v1m0 324v1m0 1v4m0 5v1m0 26v3m1 -37v2m0 6v1m1 -337v1m0 329v1m0 8v2m0 15v3m0 3v3m1 -365v1m0 330v3m0 1v2m0 1v3m2 -340v1m1 -1v1m1 -2v1m1 -1v1m1 -1v1m1 -1v1m1 -1v1m0 144v1m1 -146v1m1 -1v1m1 -1v1m1 355v3m1 -362v1m1 -4v1m1 -1v1m2 -5v1m0 1v1m2 -4v1m1 0v1m1 157v1m1 -160v1m0 155v1m2 -158v1m1 -2v1m2 -2v1m2 381v3m1 -385v1m2 0v1m1 -1v1m1 -1v1m1 -1v1m1 -2v3m1 0v1m1 0v1m1 377v3m1 -381v1m3 -1v1m1 -1v1m1 -1v1m0 365v3m5 -376v2m0 377v3m2 -380v1m0 229v6m0 141v3m1 -380v2m0 6v1m0 219v2m0 6v1m1 -234v1m0 8v1m0 213v2m0 8v2m1 -12v1m0 11v3m1 0v1m0 3v1m1 -4v1m1 -21v1m0 19v1m1 -19v1m0 15v2m1 -231v1m0 215v2m0 10v1m1 -12v1m0 8v2m0 132v3m1 -145v3m0 5v2m1 -227v1m0 215v11m0 135v3m1 -150v1m0 4v3m1 -223v1m0 214v1m0 6v2m1 -9v1m0 5v2m1 -7v4m0 1v1m1 -221v1m0 214v2m0 3v2m1 -230v1m0 1v1m0 2v2m0 217v5m1 -4v1m0 1v2m1 -6v1m0 3v2m1 -7v2m0 5v2m1 -233v1m0 224v2m0 4v2m1 -8v7m0 136v3m1 -152v5m0 4v1m1 -9v2m0 6v3m1 -10v7m1 -227v1m0 220v2m0 2v2m1 -7v2m0 3v2m1 -6v2m0 1v2m1 -226v1m0 221v2m1 -4v5m1 -6v6m1 -228v2m0 221v5m1 -228v1m0 222v5m1 -228v1m0 219v3m0 3v2m0 145v3m1 -377v1m0 1v1m0 218v2m0 4v3m1 -11v8m1 -8v1m0 1v6m0 153v3m1 -164v1m0 1v1m0 6v2m1 -12v1m0 10v1m0 153v3m1 -169v1m0 11v1m1 -12v1m0 9v3m1 -13v1m0 7v5m1 -12v2m0 1v10m1 -228v1m0 213v2m0 11v1m1 -14v2m0 1v13m1 -16v13m1 -12v1m0 10v2m1 -13v2m0 11v1m1 -13v1m0 2v7m0 2v1m1 -229v1m0 214v9m1 -10v2m0 1v6m0 153v3m1 -167v1m0 8v6m1 -226v1m0 209v4m0 11v2m1 -226v1m0 212v2m0 9v1m1 -10v1m0 2v4m1 -221v1m0 214v3m1 -218v1m1 -2v1m0 215v4m1 -219v1m0 216v2m1 -5v7m1 -221v1m0 214v7m1 -223v1m0 218v2m1 -221v1m0 217v2m1 -54v1m0 51v2m1 -2v2m1 -3v1m0 2v1m1 -216v1m0 210v2m0 1v1m1 -3v1m1 -209v1m1 206v2m1 -209v1m0 205v1m1 -207v1m1 4v1m3 3v1m2 0v1m0 148v1m1 44v2m1 -194v1m0 191v2m1 -193v1m0 191v3m1 -194v1m0 190v1m0 1v1m1 -192v1m0 147v3m1 -150v1m0 338v3m1 -153v2m1 -191v1m1 0v1m1 340v3m2 -154v1m1 150v3m4 -438v1m0 285v3m1 -291v5m0 85v1m0 197v4m1 -290v3m0 284v1m1 -286v7m1 -10v6m0 80v1m1 -87v6m0 5v1m0 73v1m0 202v2m1 -293v12m0 4v2m0 69v1m0 202v1m0 3v1m1 -293v4m0 2v4m0 1v1m0 6v1m0 269v3m1 -290v1m0 2v5m1 -8v1m0 5v3m0 71v1m1 -80v1m0 6v5m0 5v1m0 61v1m1 -79v1m0 16v1m0 60v1m1 -78v1m0 14v2m0 60v1m1 -78v1m0 14v1m0 61v1m1 -76v1m0 10v3m0 61v1m1 -76v1m0 10v4m0 419v3m1 -435v1m0 11v1m0 60v1m1 -74v1m0 11v1m0 262v3m1 -277v1m0 10v1m0 264v2m0 156v3m1 -437v1m0 275v3m1 -278v1m1 -1v1m0 10v1m0 263v2m0 1v2m1 -279v1m0 69v1m0 201v1m0 6v2m1 -209v1m0 199v1m0 6v1m1 -279v1m0 268v8m1 -290v1m0 13v1m0 267v7m1 -292v2m0 16v1m0 263v12m1 -275v1m0 65v1m0 195v13m1 -275v2m0 2v1m0 257v2m0 3v5m1 -271v4m0 257v1m0 6v3m1 -271v4m0 63v1m0 192v1m0 9v6m1 -274v4m0 63v1m0 189v1m0 12v4m1 -273v2m0 269v2m1 -273v2m0 65v1m0 191v1m0 13v2m1 -275v3m0 271v2m0 148v3m1 -427v1m0 1v2m0 222v1m0 35v1m0 10v3m1 -276v1m0 2v1m0 219v2m0 36v1m0 6v3m1 -271v4m0 65v1m0 192v8m0 151v3m1 -354v1m0 191v2m0 1v5m1 -7v1m0 4v3m1 -201v1m0 191v1m0 7v2m1 -9v2m0 7v1m1 -9v1m0 2v6m1 -201v1m0 190v1m0 1v3m1 6v2m1 -204v1m0 189v1m0 13v1m1 -206v1m0 190v1m0 14v1m1 -208v1m0 206v1m1 -210v1m0 195v1m1 -1v1m0 10v2m1 -14v1m0 12v1m1 -16v1m0 14v1m1 -211v1m0 195v1m0 14v1m1 -213v1m0 197v1m0 13v1m1 -1v1m0 143v3m1 -163v1m1 -196v1m0 193v1m1 -196v1m0 193v1m0 18v1m1 -216v1m0 195v1m1 -198v1m0 195v1m1 18v1m1 -218v1m0 216v1m1 -218v1m0 216v1m1 -216v1m0 214v1m0 137v3m1 -354v1m0 161v3m0 49v1m0 139v3m1 -355v1m0 211v1m1 -211v1m0 210v1m1 -211v1m0 186v1m0 22v1m1 -24v1m0 23v1m1 -25v1m1 -186v1m0 185v1m0 22v1m1 -208v1m0 206v1m1 -207v1m0 205v2m1 -206v1m0 205v2m1 -30v1m0 27v2m1 -204v1m0 172v1m0 25v4m1 -58v2m0 51v2m1 -199v1m0 171v1m0 25v2m1 -83v2m0 3v2m0 76v1m1 -200v1m0 114v1m0 83v1m1 -1v1m1 -293v5m0 288v1m1 -292v1m0 2v2m0 287v1m1 -292v2m0 1v1m0 91v1m0 195v1m1 -291v3m0 286v2m1 -287v3m0 283v1m1 -287v1m0 2v1m0 282v1m1 -287v2m0 2v1m0 84v1m0 196v1m1 -286v1m0 4v2m0 278v1m2 -283v1m0 282v1m1 -34v1m0 32v1m1 -280v1m0 278v2m1 -205v1m0 202v1m1 -208v1m0 204v2m1 -31v1m0 27v2m1 -207v1m0 175v1m0 31v1m1 -210v1m0 209v1m0 135v3m1 -453v2m0 101v1m0 212v1m1 -318v4m1 -3v1m0 1v2m0 313v1m1 -317v2m0 100v1m0 176v1m1 -280v1m0 1v4m0 274v1m0 34v1m1 -315v1m0 1v4m0 94v1m1 -101v7m0 272v1m0 35v1m1 -316v2m0 4v2m0 156v1m0 286v3m1 -453v1m0 6v1m0 90v1m0 63v1m0 281v3m1 -446v1m0 5v1m0 87v1m0 67v1m0 10v1m0 104v1m0 35v1m1 -316v3m0 5v1m0 85v1m0 69v1m0 115v1m1 -281v1m0 9v1m0 83v1m0 70v1m0 149v1m1 -317v2m0 164v1m0 8v1m0 141v1m1 -318v2m0 11v1m0 78v1m0 73v1m0 8v1m0 107v1m0 34v1m1 -319v2m0 11v1m0 153v3m0 148v1m1 -318v1m1 0v1m0 14v1m0 1v1m0 299v1m1 -318v1m0 18v1m0 70v1m0 191v1m1 -284v1m0 20v1m0 146v2m0 147v1m1 -319v2m0 91v1m0 74v1m0 4v1m1 -174v2m0 21v1m0 144v1m0 7v1m0 271v3m1 -453v2m0 26v1m0 66v1m0 73v1m0 14v5m0 97v1m1 -288v2m0 28v1m0 64v1m0 89v1m0 132v1m1 -319v1m0 170v1m0 20v1m0 62v3m0 29v1m0 28v2m1 -319v2m0 30v1m0 63v1m0 96v1m0 122v1m1 -318v3m0 33v1m0 59v1m0 99v2m0 3v1m0 116v2m1 -321v1m0 95v1m0 107v2m0 114v1m1 -321v2m0 35v1m0 57v1m0 110v1m0 82v1m0 29v1m1 -320v2m0 209v1m0 106v1m1 -320v2m0 9v3m0 24v1m0 58v1m0 116v1m0 105v1m1 -322v2m0 9v1m0 5v1m1 -18v1m0 10v1m0 6v3m0 5v1m0 10v1m0 1v1m0 5v1m0 52v1m0 120v1m0 70v1m1 -292v2m0 9v2m0 18v4m0 9v1m0 1v1m0 51v1m0 123v2m0 1v1m0 64v1m0 31v1m1 -322v1m0 96v1m0 127v1m0 94v2m1 -322v1m0 318v1m0 142v3m1 -465v4m0 6v1m0 240v1m0 67v1m1 -315v2m0 1v2m0 90v1m0 123v1m0 27v1m0 67v2m1 -315v1m0 3v1m0 2v1m0 134v1m0 23v1m0 76v2m0 37v1m0 32v2m1 -311v2m0 23v1m0 106v4m0 2v1m0 20v1m0 49v1m0 26v1m0 40v1m0 33v1m0 131v3m1 -423v5m0 3v1m0 98v1m0 106v2m0 39v1m1 -251v2m0 99v1m0 29v1m0 77v1m0 69v1m1 -286v1m0 105v1m0 9v1m0 98v2m0 67v1m1 -285v1m0 9v1m0 94v1m0 32v1m0 75v1m0 67v2m1 -180v2m0 10v1m0 95v2m0 201v3m1 -419v1m0 63v1m0 74v1m0 70v3m0 69v1m1 -282v2m0 8v1m0 189v4m0 3v2m0 71v1m1 -278v1m0 5v1m0 94v1m0 11v1m0 23v1m0 138v1m1 -273v1m0 96v1m0 11v1m0 24v1m0 136v1m1 -217v1m0 40v1m0 12v1m0 140v1m0 21v1m0 141v3m1 -362v1m0 78v1m0 135v2m1 -217v1m0 53v1m0 159v1m1 -215v1m0 53v1m0 137v1m0 20v1m1 -160v1m0 25v1m0 110v1m0 21v1m1 -213v1m0 52v1m0 26v1m0 107v1m0 22v1m1 -212v1m0 36v1m0 16v1m0 135v1m0 19v1m1 -194v2m0 2v1m0 12v1m0 20v1m0 26v1m1 -83v1m0 13v1m0 40v3m0 8v2m0 122v1m0 17v1m1 -197v1m0 10v1m0 30v1m0 135v1m1 -192v1m0 10v1m0 14v2m0 7v1m0 20v1m0 26v1m1 -83v2m0 52v1m0 28v1m0 107v1m1 -190v2m0 1v1m0 3v1m0 44v1m0 135v1m1 -136v1m0 135v1m1 -177v1m0 38v1m0 30v1m0 107v1m1 -182v1m0 4v1m0 35v2m0 139v1m0 14v1m1 -198v1m0 181v1m0 15v1m1 -158v1m0 33v1m1 -76v1m0 8v1m0 31v2m0 34v1m0 105v1m1 -142v1m1 -43v1m0 8v1m0 32v1m0 35v1m0 103v1m1 -270v6m0 81v1m0 11v1m0 28v1m0 39v1m0 99v3m1 -269v1m0 83v1m0 13v1m0 68v1m0 101v1m0 14v1m1 -284v1m0 4v2m0 76v1m0 13v1m0 27v1m0 142v1m0 15v1m1 -284v1m0 5v1m0 75v1m0 41v2m1 -125v1m0 5v1m0 74v2m0 8v1m0 32v1m0 156v1m1 -281v1m0 79v1m0 9v1m0 31v2m0 36v1m0 102v1m0 15v1m1 -280v2m0 3v1m0 74v1m0 9v1m0 31v1m0 32v1m0 108v1m0 13v1m1 -281v2m0 1v1m0 79v1m0 5v3m0 31v2m0 141v1m1 -267v1m0 3v3m0 75v2m0 5v1m0 32v1m0 34v1m1 -159v2m0 2v1m0 79v2m0 4v1m0 30v2m0 144v1m0 12v1m1 -302v6m0 17v3m0 81v1m0 29v1m0 1v3m0 40v1m0 105v1m1 -289v1m0 5v1m0 102v1m0 22v2m0 47v2m0 118v1m0 143v3m1 -449v2m0 6v2m0 99v1m0 23v1m0 154v1m1 -290v2m0 9v3m0 95v2m0 22v1m0 168v1m1 -305v2m0 3v2m0 7v2m0 94v2m0 179v1m1 -292v2m0 3v4m0 4v1m0 115v1m0 174v1m1 -305v2m0 3v2m0 3v4m0 115v1m0 54v1m0 105v2m1 -291v2m0 2v1m0 7v1m0 115v1m0 54v1m0 119v1m1 -301v2m0 121v2m0 56v1m0 107v1m1 -168v1m0 177v1m1 -288v3m0 107v2m0 85v1m0 79v1m1 -278v3m0 107v1m0 58v1m0 22v1m0 4v1m0 80v2m0 6v1m1 -286v4m0 104v2m0 59v1m0 18v1m0 89v1m0 5v1m1 -283v1m0 1v1m0 103v2m0 60v2m0 18v1m0 87v1m0 5v1m1 -282v5m0 100v1m0 63v1m0 112v1m1 -178v1m0 62v1m0 19v1m0 8v1m0 75v1m1 -169v1m0 63v3m0 23v3m0 73v2m0 9v1m1 -177v1m0 64v1m0 22v1m0 76v1m1 -166v3m0 63v1m0 98v1m0 11v1m0 147v3m1 -325v1m0 64v1m0 96v1m0 162v3m1 -327v2m0 62v1m0 5v7m0 1v1m0 82v1m1 -2v1m1 -156v1m0 78v1m0 2v2m0 71v1m0 12v1m1 -168v2m0 63v2m0 12v1m0 74v1m1 -153v1m0 3v1m1 0v1m0 146v1m0 11v1m1 -11v1m1 -150v1m0 79v1m0 68v2m0 8v1m1 -160v1m0 80v1m0 67v1m0 8v2m1 -273v1m0 3v1m0 190v1m0 66v1m0 8v2m1 -273v1m0 5v1m0 106v1m0 83v1m0 64v1m0 10v2m1 -274v3m0 3v1m0 105v1m0 84v1m0 63v1m0 7v3m1 -160v1m0 157v1m1 -159v1m0 147v1m0 10v1m1 -160v1m0 86v1m0 61v1m0 10v1m1 -13v1m1 -1v1m0 11v1m1 -74v1m0 60v1m0 165v3m1 -231v3m0 71v1m1 -117v3m0 38v1m0 62v1m1 -106v1m0 106v1m0 10v1m1 -121v2m0 9v1m0 100v1m1 -288v4m0 185v1m1 -189v6m0 5v1m0 3v3m0 154v1m0 42v1m0 70v1m1 -288v1m0 5v6m0 113v1m0 2v1m0 86v2m0 71v1m0 4v1m1 -294v2m0 3v1m0 14v6m0 186v3m0 73v1m0 4v1m1 -294v3m0 1v2m0 4v2m0 14v1m0 101v1m0 58v1m0 18v1m0 2v3m0 76v1m0 4v1m1 -295v3m0 10v2m0 13v1m0 101v1m0 58v1m0 100v1m0 3v1m1 -294v2m0 12v1m0 12v1m0 156v1m0 2v1m0 100v1m0 4v1m1 -278v1m0 113v1m0 42v1m0 9v1m0 7v1m0 97v1m0 2v2m0 148v3m1 -255v1m0 97v1m0 3v1m1 -276v1m0 114v1m0 50v1m0 102v1m0 5v1m1 -275v1m0 8v1m0 259v1m1 -270v1m0 112v1m0 38v1m0 13v1m0 108v1m1 -277v1m0 8v1m0 102v1m0 157v1m0 5v1m0 148v3m1 -431v3m0 8v1m0 100v1m0 43v1m1 -158v1m1 -1v1m0 12v1m0 97v1m0 45v1m0 118v1m0 3v1m0 151v3m1 -434v1m0 108v1m0 166v1m0 1v1m1 -278v1m0 10v1m0 150v1m0 112v1m1 -268v2m0 153v1m0 1v1m0 109v1m0 4v1m1 -108v1m0 102v1m0 51v1m1 -330v1m0 107v1m0 66v1m0 101v1m0 5v1m0 41v3m0 1v1m1 -333v3m0 6v1m0 100v1m0 68v3m0 99v1m0 4v2m0 40v1m1 -328v1m0 108v1m0 67v3m0 100v1m0 2v1m0 43v1m0 5v1m1 -333v1m0 6v1m0 171v1m0 100v2m1 -119v2m0 2v4m0 3v2m0 1v2m0 100v4m0 41v1m0 6v1m1 -330v1m0 154v5m0 1v2m0 114v1m0 2v2m0 42v3m0 103v3m1 -326v1m0 54v3m0 112v1m0 3v1m1 -282v1m0 3v1m0 160v1m0 112v1m0 3v2m1 -285v1m0 3v1m0 102v1m0 59v4m0 2v2m0 104v1m1 -281v1m0 3v1m0 163v1m0 3v1m0 1v1m0 104v1m1 -280v1m0 3v1m0 103v1m0 170v1m0 6v1m1 -288v1m0 108v1m0 50v1m0 1v2m0 2v4m0 110v1m0 5v1m0 40v5m0 95v3m1 -430v1m0 159v1m0 119v1m0 4v1m0 39v2m0 1v2m1 -330v1m0 4v1m0 153v1m0 120v1m0 4v1m0 39v4m0 104v3m1 -435v1m0 155v1m0 122v2m0 4v1m1 -286v2m0 151v2m0 126v2m1 -284v1m0 5v1m0 146v1m0 131v1m1 -278v1m0 100v1m1 -107v1m0 4v1m0 104v1m0 38v1m1 -150v2m0 3v1m0 105v1m0 324v3m1 -437v1m0 2v2m0 104v1m0 36v1m1 -146v1m0 2v1m0 104v1m1 -109v7m0 101v1m1 -107v1m0 4v1m1 -5v1m0 3v1m1 -6v1m0 4v1m0 311v3m1 -319v1m0 4v1m0 103v1m0 208v1m1 -319v1m0 108v2m0 206v1m1 -318v5m0 162v1m1 -171v3m0 1v2m0 109v2m0 51v2m1 -170v1m0 3v2m0 112v1m0 53v1m1 -173v1m0 3v2m0 141v1m0 25v1m1 -172v2m0 5v4m0 135v1m0 20v1m0 4v1m1 -173v2m0 6v4m0 105v1m0 29v1m0 20v2m1 -161v2m0 137v2m1 -142v3m0 107v1m0 31v2m1 -145v1m0 2v2m0 140v2m1 -147v1m0 3v1m1 -5v1m0 3v1m0 139v1m0 5v1m1 -151v1m0 3v1m1 -5v1m0 3v1m0 149v1m0 1v1m0 2v1m1 -160v2m0 2v1m0 157v1m1 -162v2m0 1v1m0 159v1m0 2v1m1 -166v2m0 103v1m0 60v1m0 1v2m1 -169v2m1 100v1m2 -2v1m2 62v1m1 1v1m1 -66v1m1 66v1m1 -67v1m3 -4v1m2 61v1m0 1v1m1 -7v1m1 -8v1m0 4v3m1 -64v1m0 51v1m0 2v1m1 -6v2m1 -3v1m1 -52v1m0 47v1m0 1v2m1 -53v1m0 47v1m1 0v1m0 1v1m1 -1v1m1 -53v1m0 52v2m1 0v2m1 -60v1m0 58v2m1 -60v1m0 55v2m1 -59v1m0 55v1m1 -57v1m0 54v1m1 -57v1m1 57v1m1 -59v1m0 56v1m1 0v1m0 1v1m1 0v1m1 -61v1m0 59v1m1 -61v1m0 60v1m0 3v4m1 -70v1m0 69v1m1 -71v1m3 -2v1m1 -1v1m2 -1v1m0 84v1m1 -86v1m1 -1v1m0 76v1m2 -185v1m0 106v1m0 59v5m0 2v6m1 -181v1m0 1v3m0 162v1m1 -168v2m0 1v2m0 104v1m0 53v5m1 -167v1m0 3v2m0 155v1m1 -162v1m0 5v1m0 155v1m1 -163v2m0 5v2m0 154v1m1 -163v1m0 7v1m0 98v1m1 -108v1m0 106v1m1 -107v1m0 161v1m1 -163v1m0 9v2m0 151v1m1 -163v2m0 9v1m0 94v1m0 56v1m1 -163v1m0 11v1m0 92v1m0 56v1m1 -163v1m0 104v1m0 56v1m1 -163v1m0 104v1m0 55v2m1 -164v2m0 159v1m1 -162v1m0 107v1m1 -123v4m0 4v1m0 2v1m0 17v1m0 94v1m1 -124v1m0 27v1m0 95v1m0 53v1m1 -180v1m0 28v1m0 148v1m1 -180v1m0 30v1m0 148v3m1 -182v1m0 29v1m0 93v1m0 55v1m1 -180v1m0 27v1m0 151v1m0 1v1m1 -183v2m0 26v1m0 94v1m0 59v1m0 263v3m1 -451v1m0 28v1m0 154v1m0 257v3m1 -446v2m0 29v1m0 93v1m0 60v1m1 -188v2m0 30v1m0 94v1m0 56v3m1 -189v4m0 30v1m0 94v1m0 52v2m0 1v1m1 -188v2m0 34v1m0 94v1m0 51v1m1 -184v1m0 35v1m0 147v1m1 -187v1m0 37v1m0 91v1m0 55v1m1 -188v1m0 186v1m1 -188v1m0 37v1m0 92v1m0 55v1m1 -188v1m0 36v1m0 93v2m0 53v1m1 -188v3m0 128v1m1 -131v1m0 36v1m0 92v1m1 -131v1m0 35v2m0 93v1m1 -133v1m0 37v1m0 93v1m0 58v1m1 -192v2m0 37v1m0 92v2m0 58v1m1 -193v1m0 39v1m0 92v1m0 59v1m1 -194v1m0 39v1m0 153v1m0 4v3m1 -203v2m0 39v1m0 92v1m0 68v4m0 1v2m1 -169v1m0 94v1m0 73v1m1 -209v1m0 37v1m0 97v1m1 -99v1m0 101v1m1 -142v2m0 37v1m0 102v1m1 -142v1m0 39v1m0 102v1m1 -145v3m0 39v1m0 102v1m1 -146v1m0 1v3m1 36v2m0 104v1m1 -148v1m0 40v1m0 105v1m0 63v2m1 -213v2m0 40v2m0 103v1m0 56v7m1 -212v2m0 43v1m0 80v1m0 1v1m0 19v1m0 46v3m0 6v1m1 -205v1m0 44v1m0 79v1m0 8v1m0 1v1m0 11v1m0 38v3m0 3v2m1 -196v1m0 45v1m0 79v1m0 12v1m0 9v1m0 37v1m1 -187v1m0 4v4m0 36v1m0 93v1m0 46v1m0 11v1m0 7v1m1 -205v2m0 5v12m0 23v1m0 102v1m0 37v1m1 -182v1m0 40v1m0 94v1m0 6v1m0 37v1m1 -162v1m0 20v1m0 77v1m0 61v1m1 -160v1m0 18v1m0 76v1m0 61v1m1 -158v1m0 18v1m0 136v1m0 263v3m1 -422v1m0 17v1m0 74v1m0 61v1m1 -154v1m0 15v1m0 137v1m1 -154v1m0 13v1m0 73v2m1 -88v1m0 11v1m0 74v1m0 63v1m0 274v3m1 -428v1m0 84v1m0 65v1m1 -150v1m0 81v1m0 67v1m1 -2v1m1 -170v1m0 22v1m0 78v2m0 66v1m1 -179v1m0 7v1m0 22v2m0 79v1m0 64v1m1 -168v1m0 22v1m0 144v3m1 -181v1m0 10v1m0 23v1m0 5v1m0 137v1m1 -180v1m0 11v1m0 22v1m0 5v1m0 70v1m0 67v1m1 -181v2m0 10v1m0 23v5m0 139v1m1 -182v6m0 7v1m0 166v1m0 277v3m1 -462v7m0 8v1m0 1v1m0 95v1m0 67v1m1 -181v7m0 106v1m0 67v1m1 -180v3m0 1v3m0 8v2m0 95v1m0 67v1m1 -180v8m0 8v1m0 94v1m1 -112v3m0 1v5m0 8v1m0 161v1m1 -180v4m0 4v3m0 1v1m0 3v2m0 94v1m0 67v2m1 -183v1m0 9v3m0 1v1m0 1v1m0 1v1m0 94v1m0 69v1m0 266v3m1 -453v1m0 9v7m0 1v2m0 93v2m0 69v1m1 -190v6m0 7v2m0 10v1m0 164v3m1 -192v1m0 18v7m0 166v1m0 1v1m1 -194v2m0 13v9m0 96v1m0 72v1m1 -191v1m0 16v4m0 170v2m1 -192v1m0 17v2m0 169v2m1 -190v1m0 12v7m1 -20v1m0 17v3m1 -20v4m0 16v1m1 -17v1m0 15v1m1 -16v1m0 15v1m1 -17v1m0 15v1m0 89v1m1 -108v1m0 104v1m1 -106v2m0 102v1m1 -122v9m0 3v1m0 3v2m0 20v1m0 82v1m1 -110v4m0 191v1m1 -208v1m0 13v1m0 106v1m0 86v3m1 -212v1m1 0v2m1 -2v1m0 120v1m0 83v5m1 -210v2m0 199v1m0 2v1m1 -205v1m0 199v1m1 -202v2m0 40v1m0 158v2m1 -203v1m0 42v1m0 155v2m1 -200v1m0 195v2m0 265v3m1 -466v2m1 -3v2m0 119v1m1 -122v1m0 43v1m0 77v1m1 0v1m0 72v1m0 183v1m1 -337v1m0 152v1m0 177v3m0 5v1m1 -384v1m0 124v1m0 248v1m1 -375v1m0 43v1m0 81v1m0 68v1m0 175v6m0 7v1m1 -384v2m0 124v1m0 68v1m0 188v2m1 -384v2m0 41v1m0 79v1m0 69v1m0 188v1m1 -381v2m0 41v1m0 77v1m0 255v3m1 -378v1m0 41v1m1 -42v2m0 117v1m1 -118v1m0 4v1m1 -5v2m0 1v1m0 2v1m0 32v1m0 143v1m1 -177v1m0 176v1m1 -178v1m0 31v1m1 -34v1m0 110v1m0 65v1m1 -177v1m0 175v1m1 -177v1m0 31v1m0 77v1m1 -111v1m0 33v1m0 75v1m0 2v1m1 -114v1m0 34v1m0 140v1m1 -178v1m0 36v1m0 138v1m1 -178v1m0 38v1m0 81v1m0 56v1m1 0v1m1 -189v4m0 2v2m0 122v1m0 57v1m1 -192v1m0 6v4m0 179v1m1 -192v2m0 190v1m1 -195v3m0 133v1m0 58v1m1 -197v2m0 133v1m0 61v1m1 -197v1m0 133v1m0 61v1m1 -196v1m0 195v2m1 -199v2m0 132v1m0 64v1m1 -200v3m0 195v1m1 -199v3m0 130v1m0 63v1m1 -197v2m0 52v1m0 141v1m1 -197v3m0 192v1m0 263v3m1 -463v6m0 131v1m0 58v1m1 -197v1m1 0v2m0 52v1m0 82v1m1 -138v1m1 -1v2m0 196v1m1 -198v1m0 51v1m0 81v1m0 62v1m1 -198v1m0 132v1m0 64v2m1 -201v3m0 50v1m0 79v1m0 65v1m1 -200v6m0 194v4m0 258v3m1 -465v2m0 1v4m0 197v1m1 -206v2m0 5v2m0 197v1m1 -207v3m0 4v1m0 1v1m0 122v1m0 72v1m1 -205v2m0 201v1m1 -204v1m0 131v1m0 70v1m1 -204v1m0 132v1m1 -133v2m1 0v1m0 130v1m1 -132v2m1 -2v2m0 129v1m1 -133v1m0 52v1m1 78v1m1 -133v1m0 205v5m1 -211v1m0 53v1m0 156v3m0 146v2m1 -362v1m0 121v1m0 91v3m0 142v1m0 7v1m1 -369v2m0 118v1m0 240v1m1 -363v2m0 117v1m0 241v1m0 8v1m1 -371v1m0 55v1m0 62v1m0 240v1m0 11v3m1 -318v1m0 61v1m0 240v1m0 14v1m1 -377v1m0 118v1m0 242v1m0 15v2m1 -380v1m0 118v1m0 249v1m1 -369v1m0 120v1m0 253v1m0 6v2m1 -384v1m0 57v1m0 321v1m0 2v3m1 -386v1m0 123v1m0 94v1m0 166v2m1 -333v1m0 67v1m0 263v3m1 -390v1m0 122v1m0 266v1m1 -392v1m0 55v1m0 66v1m0 265v3m1 -391v1m0 118v1m1 -121v2m0 53v1m0 64v1m0 106v1m0 5v2m0 1v1m0 1v1m0 4v1m1 -244v1m0 53v1m0 169v1m0 1v1m0 2v1m0 2v1m0 11v1m1 -246v1m0 230v2m0 7v2m0 52v2m1 -297v1m0 121v1m0 115v2m1 -242v1m0 238v2m1 -241v2m0 58v1m0 62v1m0 116v1m1 -240v1m0 121v1m0 106v1m0 1v1m0 1v1m0 5v1m1 -239v1m0 120v1m0 114v3m0 226v3m1 -469v1m0 121v1m0 117v1m1 -242v2m0 121v1m0 103v1m1 -228v1m0 60v1m0 164v1m0 16v5m1 -249v2m0 61v1m0 61v2m0 13v1m0 106v3m1 -252v3m0 142v1m1 -147v2m0 131v2m0 2v1m1 -138v1m0 66v1m0 80v1m0 78v1m1 -227v1m0 224v1m1 -226v2m0 63v1m0 229v3m1 -298v1m0 148v1m0 74v1m0 69v2m0 2v1m1 -300v2m0 220v1m0 72v1m0 70v4m1 -368v1m0 215v3m0 74v1m0 3v1m0 65v1m0 5v1m0 1v1m1 -373v5m0 211v1m0 76v2m0 2v1m0 65v1m1 -365v1m0 214v1m0 77v2m0 3v1m0 76v1m1 -376v1m0 63v1m0 85v1m0 141v7m0 77v1m1 -378v3m0 146v1m0 215v1m0 15v1m1 -317v1m0 81v1m0 217v1m0 16v1m0 86v3m1 -472v1m0 136v3m0 2v1m0 222v1m0 17v1m1 -384v1m0 63v1m0 70v2m0 3v2m0 74v4m0 145v1m1 -365v2m0 131v2m0 87v1m0 140v1m0 22v1m1 -385v1m0 60v1m0 69v1m0 86v1m0 2v1m0 129v1m1 -350v1m0 127v1m0 220v1m1 -349v1m0 127v1m0 220v1m0 1v1m0 29v1m1 -381v1m0 127v1m0 90v1m0 131v1m1 -351v4m0 124v1m0 91v1m0 130v1m1 -348v1m0 124v1m0 91v1m1 -91v1m0 70v1m0 1v1m0 14v1m0 131v1m0 27v1m1 -247v1m0 63v1m0 8v1m0 11v1m0 129v1m1 -346v1m0 131v1m0 59v1m0 10v1m0 11v1m1 -215v1m0 130v1m0 208v1m0 34v1m1 -244v1m0 57v1m0 12v1m0 10v1m0 126v1m0 33v1m1 -376v1m0 50v1m0 79v1m0 71v1m0 137v1m1 -211v2m0 70v1m0 12v1m0 158v1m1 -377v1m0 51v1m0 77v2m0 58v1m0 13v1m1 -153v1m0 78v3m0 12v2m0 66v1m0 124v2m1 -208v1m0 17v1m0 37v1m1 -192v2m0 52v1m0 81v1m0 54v1m0 15v1m0 128v2m0 38v1m1 -377v1m0 54v1m0 82v1m0 18v6m0 27v1m0 16v1m0 7v1m0 119v1m1 -336v2m0 114v3m0 19v1m0 25v3m0 20v5m0 15v1m0 81v3m0 84v1m1 -261v1m0 2v1m0 18v1m0 30v12m0 6v5m0 16v1m0 6v1m0 71v5m0 42v1m0 41v1m0 77v3m1 -455v1m0 114v7m0 14v2m0 31v4m0 3v3m0 10v1m0 17v1m0 5v1m0 71v1m0 1v2"/>
<path stroke="#0080ff" d="M170.5 482v1m0 54v9m0 58v2m1 -125v1m0 52v5m0 1v3m0 2v1m0 1v3m1 -255v1m0 185v3m0 1v1m0 47v5m0 6v1m0 1v3m0 102v3m0 11v1m1 -371v1m0 197v3m1 0v1m0 38v2m0 6v3m1 -251v1m0 112v1m0 88v2m0 35v2m0 4v4m0 81v1m0 39v1m1 -370v1m0 200v2m0 31v5m1 -237v1m0 109v1m0 88v3m0 30v1m0 1v2m1 -237v2m0 109v1m0 91v1m0 4v10m0 13v1m0 102v1m1 -336v3m0 109v1m0 91v6m0 11v4m0 3v3m1 -232v1m0 112v1m0 229v1m1 -347v2m0 345v1m0 8v3m1 -361v2m0 351v1m1 -354v3m0 2v2m1 -3v1m0 1v1m0 348v3m1 -237v1m1 -112v1m0 109v1m0 239v1m1 -349v2m0 105v1m1 -105v2m0 102v1m1 -104v3m0 100v1m1 -108v9m1 -11v2m1 -4v3m1 1v1m0 104v1m1 -104v2m1 -2v2m1 -3v2m1 -3v2m0 105v1m1 -108v1m0 106v1m1 -108v1m0 107v1m1 -108v1m1 -1v1m1 -1v2m0 107v1m1 -107v1m0 106v1m1 -106v1m0 104v1m0 231v3m1 -338v2m0 100v1m0 72v1m1 -174v1m0 100v1m0 70v1m0 2v1m1 -75v1m0 70v4m1 -174v1m0 95v2m0 1v1m0 70v4m1 -79v1m0 74v1m0 1v1m1 -175v1m0 171v1m0 1v1m1 -177v2m0 96v1m0 75v1m0 2v1m1 -179v1m0 97v1m0 77v1m0 1v1m1 -180v1m0 99v1m0 79v1m1 -183v2m0 100v1m0 76v1m0 2v2m1 -184v2m0 177v4m1 -183v3m0 176v3m1 -184v1m0 1v3m0 99v1m0 76v3m0 160v3m1 -349v1m0 183v1m1 -185v1m0 103v1m0 244v3m1 -353v2m1 -2v2m1 -2v1m0 106v1m1 -108v1m0 106v1m1 -109v3m0 106v2m0 172v2m0 2v3m1 -287v3m0 106v1m0 176v2m1 -286v1m0 106v1m0 170v1m0 8v2m1 -288v1m0 106v2m0 168v1m0 11v6m1 -295v1m0 108v2m0 167v2m0 15v1m1 -296v1m0 110v2m0 182v1m1 -296v1m0 112v2m0 165v3m0 13v3m1 -299v1m0 114v1m0 166v4m0 15v2m1 -303v1m0 275v3m0 1v4m0 19v2m1 -306v1m0 270v3m0 32v1m0 36v3m1 -346v1m0 261v1m0 3v3m0 40v1m1 -311v1m0 261v5m0 44v2m1 -47v2m0 44v1m1 -179v2m0 130v2m0 18v5m0 22v1m1 -183v6m0 131v1m0 18v11m0 17v1m1 -317v1m0 270v2m0 19v6m0 19v1m1 -319v1m0 268v5m0 44v2m1 -322v1m0 270v3m0 1v1m0 46v2m1 -52v3m0 48v3m1 -50v2m0 46v4m1 -48v2m0 38v6m0 1v2m1 -335v2m0 286v3m0 32v6m0 1v6m1 -339v2m0 125v1m0 166v3m0 38v5m1 -341v1m0 296v1m0 41v6m0 16v3m1 -66v1m0 46v1m1 -346v1m0 299v1m0 44v1m1 -43v5m0 28v1m0 8v1m0 18v3m1 -58v1m0 25v1m1 -336v1m0 310v1m0 16v6m1 -335v1m0 312v3m0 12v2m1 -330v1m0 314v6m0 7v2m1 -11v10m1 -329v1m0 319v2m0 5v2m1 -8v8m1 -4v1m0 2v2m1 -330v1m0 325v4m2 -5v1m0 4v1m0 2v2m1 -335v1m0 329v1m0 4v1m1 -199v2m0 192v6m0 1v1m1 -5v1m0 2v1m1 -337v1m1 0v1m2 -2v1m2 357v3m3 -215v2m2 210v3m1 -362v1m1 -3v1m1 -4v2m0 362v3m2 -367v1m0 152v1m1 -158v1m0 2v1m0 370v3m1 -378v1m1 -1v1m0 157v3m0 214v3m2 -378v1m2 -2v1m1 -1v1m1 -2v1m1 -2v2m2 -2v1m1 -1v1m0 150v1m1 -152v1m1 -1v1m0 150v2m1 -152v1m0 150v1m1 -152v1m0 144v4m0 1v3m1 -153v1m0 142v2m1 -145v1m1 0v1m1 366v3m1 -368v1m1 -2v1m2 -1v1m1 -1v1m0 368v3m4 -372v1m1 -2v1m1 -3v2m1 -4v2m1 -2v1m0 156v1m1 -159v2m1 0v1m1 0v2m0 7v1m0 218v6m1 -232v3m0 6v1m0 214v3m0 4v1m1 -221v1m0 211v1m0 8v2m0 142v3m1 -157v2m0 9v4m1 -226v1m0 208v2m0 15v1m1 -230v1m0 210v1m0 17v1m1 -230v1m0 212v2m0 12v1m1 -11v2m0 6v2m1 -227v1m0 216v3m0 2v3m1 -224v1m0 218v5m1 -79v1m1 -148v2m0 146v1m0 68v4m1 -73v1m0 68v6m1 -74v1m0 67v5m0 141v3m1 -363v1m0 146v1m0 70v1m1 -72v1m0 68v3m1 -227v1m0 5v1m0 148v1m1 -159v2m0 155v1m0 70v1m1 -230v1m0 156v1m0 69v3m0 148v3m1 -381v1m0 226v5m1 -78v1m0 73v4m1 -230v1m0 151v1m1 -1v1m0 70v4m1 -226v1m0 150v1m0 68v6m1 -226v1m0 150v1m1 -1v1m0 70v2m1 -226v2m0 150v1m0 70v3m1 -225v2m0 149v1m0 71v1m1 -223v1m0 149v1m1 -152v1m0 148v2m0 219v3m1 -374v1m0 148v1m1 -150v1m0 148v1m1 -151v1m0 150v1m1 -152v1m0 150v1m0 70v3m1 -74v1m0 69v4m1 -224v1m0 148v1m1 -150v1m0 216v1m1 -68v1m0 66v1m0 1v6m1 -224v1m0 214v2m0 4v4m1 -225v1m0 150v3m0 60v2m0 6v3m1 -226v1m0 153v1m0 61v1m0 4v4m1 -225v1m0 152v1m0 62v2m0 3v2m1 -222v1m0 148v3m0 65v1m1 -71v2m0 67v11m1 -81v1m0 69v1m1 -218v1m0 147v2m1 -150v1m0 149v3m0 64v10m1 -227v1m0 152v2m0 63v11m1 -228v1m0 216v2m2 -219v1m0 156v1m0 58v1m1 -217v2m0 154v1m0 56v3m0 1v4m1 -65v1m0 58v1m0 9v1m1 -223v1m0 153v2m0 65v2m1 -223v1m0 155v2m0 57v2m1 -216v1m0 156v2m1 -159v1m0 155v2m0 211v3m1 -373v1m0 155v1m1 -156v1m0 153v1m1 -155v1m0 153v1m1 0v2m1 0v1m1 0v2m1 -161v1m0 160v2m1 -162v1m0 161v1m0 1v1m1 -163v1m0 162v1m0 50v2m1 -214v1m0 161v2m0 48v1m1 -211v2m0 157v2m1 -159v1m0 154v2m1 -157v1m0 151v3m1 -4v1m3 -145v1m1 0v1m2 355v3m2 -357v1m0 147v1m1 199v3m1 -348v1m0 146v2m1 -2v1m0 44v1m1 -45v2m1 -1v1m1 -146v1m0 140v4m1 -8v4m1 -5v1m2 -137v1m1 -4v1m0 136v1m1 -1v1m1 -139v1m0 137v1m1 -140v1m0 354v3m1 -358v1m1 -1v1m0 137v1m1 -1v1m1 -2v1m1 -140v1m1 -83v4m1 -4v2m0 2v1m1 -2v4m0 275v3m1 -282v1m0 1v6m0 66v1m0 358v3m1 -444v2m0 5v5m0 4v2m0 63v1m1 -82v5m0 3v5m0 4v1m0 62v2m1 -81v1m0 3v2m0 5v2m0 2v1m0 63v1m1 -79v1m0 5v10m0 62v1m1 -78v1m0 4v1m0 1v7m1 -14v1m0 8v5m1 -12v1m0 7v2m0 217v1m1 -228v2m0 6v2m0 65v1m0 153v2m1 -229v1m0 9v1m0 215v1m1 -227v1m0 9v1m0 61v1m1 -72v2m0 69v1m1 -72v1m0 9v1m0 60v1m0 147v1m1 -219v1m0 9v1m0 59v1m0 146v2m1 -219v1m0 8v1m0 60v1m0 205v1m1 -276v1m0 7v1m0 263v1m0 4v1m1 -278v2m0 6v1m0 263v6m1 -277v1m0 7v1m0 62v1m1 -71v1m0 6v1m0 62v1m1 -70v2m0 4v1m0 61v1m1 -68v1m0 1v3m0 215v4m1 -223v2m0 63v1m0 156v1m0 39v3m1 -200v1m0 155v1m0 39v2m0 2v2m1 -7v1m0 6v2m1 -47v3m0 34v1m0 7v4m1 -202v1m0 155v2m0 33v1m0 9v3m1 -47v2m0 34v1m0 10v2m1 -205v1m0 192v1m0 10v2m1 -273v1m0 261v2m0 4v4m1 -272v2m0 65v1m0 193v6m1 150v3m1 -157v1m1 -194v1m0 192v4m1 -5v2m0 3v2m1 -198v1m0 194v5m0 149v3m1 -159v2m1 -3v1m1 -2v1m0 1v1m0 2v6m1 -11v1m1 -1v1m0 12v1m1 -14v1m0 12v1m1 -208v1m0 195v1m0 8v3m1 -209v1m0 196v2m0 6v2m1 -208v1m0 196v1m0 9v2m1 -209v1m0 194v2m0 11v1m1 -13v1m0 12v1m1 -13v1m0 11v1m1 -212v1m0 197v1m1 -198v1m0 195v1m0 14v1m0 146v3m1 -166v1m0 16v1m1 -213v1m0 193v1m0 16v1m1 -214v1m0 195v1m0 16v1m1 -2v2m0 140v3m1 -360v1m0 197v1m0 16v1m1 -18v1m0 16v1m1 -216v1m0 160v2m0 34v1m0 17v1m1 -214v1m0 159v3m0 32v1m1 -194v1m0 156v1m0 2v1m0 31v1m0 19v1m1 -55v1m0 2v1m0 30v1m0 18v2m1 -53v1m0 31v1m0 19v2m1 -54v1m0 52v1m0 142v3m1 -354v1m0 155v2m0 51v1m1 -210v1m0 155v3m0 28v1m0 21v2m1 -23v1m0 20v1m1 -23v1m0 21v1m1 -205v1m0 180v1m0 22v1m1 -25v1m0 23v3m1 -203v1m0 145v2m0 52v3m1 -60v2m0 2v1m0 48v4m0 139v6m1 -343v1m0 127v10m0 35v1m0 21v2m1 -78v1m0 4v4m0 67v3m1 -197v1m0 170v1m0 26v1m1 -28v1m0 26v1m1 -198v1m0 114v1m0 54v1m0 24v3m1 -197v1m0 114v1m0 53v1m0 26v2m1 -290v2m0 92v1m0 113v3m0 50v1m0 28v1m1 -289v1m0 208v2m0 48v1m1 -2v1m0 27v2m0 139v3m1 -428v1m0 212v2m0 40v1m0 29v2m1 -285v2m0 211v1m0 70v1m1 -284v2m0 281v1m1 -284v1m0 2v1m0 279v1m1 -283v2m0 1v2m0 80v1m0 123v1m0 41v1m0 31v2m1 -283v1m0 2v1m0 202v1m0 73v2m1 -281v2m0 1v2m0 200v1m0 74v1m1 -278v3m0 199v1m0 43v1m0 30v1m1 -201v1m0 125v3m0 41v1m0 28v2m1 -206v1m0 1v1m0 130v1m0 65v5m1 -205v1m0 134v1m0 66v2m1 -68v2m0 66v3m1 -68v1m0 35v1m1 -1v1m0 33v1m1 -212v1m0 211v1m1 -316v1m0 102v1m0 176v1m0 34v1m1 -1v1m1 -315v1m0 100v1m0 64v3m0 83v1m0 60v1m1 -313v1m0 163v1m0 6v1m0 77v1m0 63v1m1 -216v1m0 65v1m0 85v3m0 59v2m1 -313v4m0 94v1m0 73v1m0 78v1m0 26v1m0 34v1m1 -314v1m0 2v3m0 167v1m0 75v3m0 27v1m0 33v1m1 -313v5m0 89v1m0 152v1m1 -247v2m0 1v2m0 167v1m0 68v1m0 1v4m0 64v1m1 -314v3m0 3v3m0 165v1m0 66v2m0 37v1m1 -281v2m0 1v3m0 1v3m0 83v1m0 146v1m0 39v1m0 33v1m1 -315v2m0 7v2m0 80v2m0 81v1m0 65v1m0 74v1m1 -316v1m0 89v1m0 77v1m0 1v1m0 1v1m1 -173v3m0 8v1m0 78v1m0 191v1m0 33v1m0 132v3m1 -451v3m0 8v3m0 1v1m0 73v1m0 149v1m0 42v1m1 -283v1m0 15v2m0 222v1m0 74v1m1 -317v2m0 17v1m0 71v1m0 149v1m1 -242v2m0 18v1m0 152v1m0 1v5m0 61v1m0 40v1m0 33v1m1 -317v2m0 18v1m0 71v1m0 87v1m0 61v3m0 71v1m1 -319v3m0 21v2m0 161v2m0 58v1m0 69v1m1 -319v4m0 23v1m0 140v1m0 20v1m0 59v3m0 34v1m0 28v1m0 1v1m1 -319v3m0 1v3m0 22v1m0 65v1m0 96v5m0 56v1m0 60v1m1 -315v2m0 167v1m0 22v7m0 58v1m0 28v1m1 -287v2m0 30v1m0 166v1m0 58v1m0 55v1m1 -318v4m0 31v1m0 226v1m0 55v1m1 -318v3m0 202v2m0 55v1m1 -263v3m0 4v2m0 85v1m0 166v1m0 25v1m1 -289v3m0 4v2m0 3v2m0 199v1m0 48v1m0 25v1m1 -290v5m0 2v2m0 10v6m0 7v2m0 63v1m0 75v1m0 41v2m0 45v1m0 26v1m0 29v1m1 -321v2m0 6v2m0 16v3m0 3v2m0 3v1m0 136v1m0 79v4m0 1v4m0 57v1m1 -321v1m0 7v1m0 34v1m0 208v2m1 -254v2m0 6v1m0 88v1m0 75v1m0 77v1m0 36v1m1 -289v5m0 3v1m0 90v1m0 73v1m0 50v1m0 26v1m0 36v1m1 -286v6m0 91v1m0 72v1m0 50v1m0 63v1m1 -283v1m0 2v3m0 160v2m0 114v1m1 -278v2m0 87v1m0 70v1m0 50v1m1 -123v1m0 42v1m0 26v1m1 -71v1m0 69v1m0 51v1m0 97v1m1 -287v2m0 2v2m0 2v3m0 106v1m0 18v1m0 51v1m1 -188v1m0 3v4m0 1v1m0 126v1m0 51v1m0 67v1m1 -252v4m0 55v1m0 50v1m0 20v1m0 52v1m1 -191v1m0 8v1m0 54v1m0 38v1m0 34v1m0 51v2m0 65v1m0 23v1m1 -282v1m0 8v1m0 107v1m0 19v1m0 55v1m0 230v3m1 -425v1m0 59v1m0 40v1m0 13v1m0 20v1m0 118v1m1 -254v3m0 56v1m0 53v1m0 139v1m1 -250v1m0 54v1m0 53v1m0 139v1m1 -195v1m0 76v1m1 -25v1m0 23v1m1 0v1m0 115v1m1 -156v1m0 14v1m0 23v1m1 -80v1m0 78v1m0 132v1m1 -211v1m0 36v1m0 15v1m0 24v1m0 109v1m1 -176v1m0 1v1m0 18v2m0 18v2m0 23v1m0 128v1m1 -210v1m0 55v6m0 7v1m0 10v2m0 109v1m1 -191v1m0 21v1m0 34v8m0 2v2m0 11v1m1 -82v1m0 23v1m0 30v3m0 3v8m0 12v1m1 -82v2m0 25v2m0 3v2m0 22v1m0 7v10m0 7v1m0 109v1m0 16v1m0 146v3m0 3v3m1 -362v1m0 1v1m0 4v1m0 18v5m0 22v1m0 9v3m0 14v1m1 -77v3m0 46v2m0 25v2m0 124v1m1 -153v1m0 27v1m0 107v1m0 16v1m1 -196v1m0 40v2m0 27v1m1 -72v1m0 2v1m0 38v1m0 28v2m0 109v1m1 -178v1m0 34v2m0 31v1m0 108v1m1 -184v1m0 7v1m0 33v2m0 30v1m0 108v1m1 -141v2m0 30v2m0 121v1m1 -199v1m0 7v1m0 34v2m0 32v1m0 105v1m1 -183v1m0 6v1m0 34v6m0 5v1m0 22v1m0 105v1m1 -183v2m0 6v3m0 30v1m0 36v1m0 104v1m0 13v1m1 -281v2m0 80v3m0 38v2m0 142v1m0 12v1m0 147v3m1 -432v1m0 1v2m0 79v2m0 10v1m0 29v1m0 142v1m0 13v1m1 -282v5m0 77v1m0 8v3m0 31v2m0 37v1m0 101v1m0 14v1m1 -281v1m0 3v1m0 77v2m0 5v1m0 34v3m0 33v3m0 101v1m0 14v1m1 -279v1m0 3v1m0 75v2m0 5v2m0 34v4m0 28v4m0 104v1m1 -263v3m0 76v9m0 33v1m0 141v1m1 -266v1m0 1v3m0 77v2m0 2v1m0 36v2m0 29v1m0 110v1m0 11v1m1 -279v1m0 1v1m0 80v1m0 3v1m0 34v5m0 139v2m0 10v1m1 -279v2m0 82v1m0 2v1m0 33v4m0 32v1m0 108v1m1 -182v3m0 31v3m0 1v1m0 34v1m0 107v1m0 11v1m1 -301v5m0 102v1m0 25v1m0 45v1m0 107v1m0 11v1m1 -300v6m0 126v2m0 43v1m0 109v1m0 11v2m1 -302v9m0 123v1m0 155v1m0 10v1m1 -302v3m0 2v4m0 1v2m0 116v3m0 49v1m0 109v1m0 10v1m1 -302v1m0 1v1m0 4v4m0 117v1m0 160v1m1 -290v3m0 125v1m0 52v1m0 108v1m0 11v1m1 -302v2m0 288v1m1 -165v1m0 54v1m0 109v1m0 8v1m1 -177v3m0 163v1m1 -165v2m0 54v1m0 109v1m1 -168v1m0 1v1m0 1v4m0 8v1m0 152v1m0 4v1m1 -175v3m0 83v1m0 82v2m0 2v1m1 -281v1m0 106v3m0 75v2m0 9v1m0 79v1m0 1v3m1 -175v9m0 2v1m0 4v2m0 65v1m0 7v1m0 77v1m0 5v1m1 -176v1m0 2v2m0 163v1m0 6v1m1 -176v1m0 84v1m0 81v2m1 -168v2m0 173v1m1 -174v1m0 61v1m0 100v1m0 9v1m1 -173v3m0 59v1m0 99v1m0 10v1m1 -172v1m0 159v1m0 10v1m1 -171v2m0 69v2m0 2v1m0 82v1m0 11v1m1 -168v1m0 62v1m0 4v1m0 86v1m1 -154v5m0 57v1m0 2v1m0 10v1m0 1v1m0 74v1m0 10v1m1 -160v1m0 74v1m0 72v1m0 10v1m0 151v3m1 -313v1m0 74v1m0 71v1m1 -149v1m0 78v1m0 70v2m0 6v2m1 -159v1m0 149v4m0 2v2m1 -158v1m0 148v1m0 3v4m1 -270v3m0 109v1m0 149v8m1 -270v2m0 1v2m0 257v5m0 2v3m1 -269v2m0 257v2m0 1v4m1 -264v1m0 107v1m0 146v1m0 7v2m1 -73v1m0 63v1m0 8v1m1 -9v1m1 -151v1m0 148v1m0 10v1m1 -162v1m0 149v1m0 9v1m1 -161v1m0 159v1m1 -162v1m0 149v1m0 10v1m0 154v3m1 -319v1m0 150v1m0 10v1m1 -162v1m0 50v1m0 34v1m0 65v2m0 7v1m1 -162v1m0 86v1m0 73v1m1 -163v1m0 83v1m0 71v2m0 4v1m1 -282v3m0 109v3m0 62v1m0 97v2m0 2v2m1 -293v1m0 2v2m0 6v2m0 2v3m0 153v1m0 17v1m0 98v1m0 155v3m1 -446v3m0 4v1m0 9v1m0 109v1m0 60v1m0 98v1m0 2v1m1 -281v2m0 6v6m0 146v1m0 15v2m0 6v1m0 2v1m0 5v1m0 83v4m1 -279v1m0 10v2m0 146v1m0 116v3m1 -278v1m0 10v1m0 103v2m0 61v1m0 95v1m0 2v1m1 -276v1m0 8v1m0 105v1m0 51v3m0 103v2m1 -275v2m0 7v1m0 106v1m0 38v1m0 10v1m0 105v1m0 1v1m1 -274v2m0 6v1m0 157v1m0 4v1m0 97v2m0 2v1m1 -273v1m0 6v1m0 105v1m0 38v1m0 11v1m0 1v5m0 98v1m0 3v1m1 -274v3m0 1v1m0 1v3m0 259v1m0 4v1m1 -275v3m0 2v3m0 143v1m0 118v1m0 3v1m1 -276v1m0 6v1m0 102v1m0 160v1m0 4v1m1 -280v4m0 7v1m0 100v1m0 162v1m0 3v1m1 -280v2m0 9v1m0 264v1m0 1v1m1 -278v2m0 9v1m0 145v1m0 118v1m1 -276v1m0 5v4m0 97v1m0 167v2m1 -278v1m0 5v2m0 100v1m0 57v5m0 105v1m0 1v2m1 -280v1m0 6v1m0 100v1m0 54v2m0 115v2m1 -278v4m0 155v2m0 7v2m0 103v1m0 2v2m0 45v1m1 -329v1m0 107v1m0 57v10m0 103v4m0 43v1m0 2v1m1 -331v1m0 5v1m0 168v1m0 104v2m1 -281v2m0 105v1m0 42v4m0 4v4m0 2v1m0 10v3m0 147v1m1 -325v1m0 3v1m0 101v1m0 42v12m0 8v3m0 2v1m0 2v1m0 145v2m1 -324v1m0 2v1m0 102v1m0 32v1m0 8v2m0 3v1m0 123v2m0 47v2m1 -328v1m0 2v1m0 103v1m0 46v7m0 116v3m1 -280v3m0 103v1m0 171v3m1 -282v1m0 1v1m0 162v1m0 4v2m0 107v6m1 -286v3m0 105v1m0 57v1m0 5v1m0 106v1m0 5v1m1 -286v1m0 1v1m0 151v1m0 2v5m0 1v3m0 1v1m0 116v1m1 -286v1m0 2v1m0 153v2m0 4v2m0 119v1m1 -285v1m0 2v1m0 105v1m0 48v1m0 4v2m0 115v1m0 2v1m0 42v1m0 105v3m1 -435v1m0 2v1m0 105v1m0 47v1m0 122v1m0 2v1m1 -283v1m0 1v2m0 104v1m0 45v1m0 125v1m0 2v1m1 -283v3m0 147v1m0 130v2m1 -285v5m0 1v1m0 102v1m1 -109v2m0 1v3m0 102v1m1 -107v4m1 -3v1m0 1v1m0 143v1m1 -146v2m1 -1v2m0 106v1m0 31v1m1 -33v1m1 -107v4m0 103v1m0 30v1m1 -138v3m0 104v1m1 -106v1m0 105v1m1 -106v1m0 312v1m1 -317v2m0 1v2m0 105v1m0 28v1m1 -29v1m1 -113v1m0 113v2m0 24v1m0 26v2m1 -171v3m0 140v1m0 24v1m0 1v1m1 -171v3m0 115v1m0 50v3m0 1v1m0 249v3m1 -308v1m0 27v1m0 22v4m0 250v3m1 -279v1m1 -29v1m0 28v1m1 1v1m1 -142v2m0 109v1m1 -112v3m0 108v1m0 31v1m1 -144v1m0 1v1m0 107v1m0 37v1m1 -149v3m0 140v1m0 2v1m0 5v1m1 -153v3m0 106v1m0 46v2m1 -157v2m0 104v1m0 51v1m1 -158v1m0 104v1m1 56v3m1 -62v1m0 60v5m1 -6v1m1 -62v1m0 60v1m1 -1v1m1 -63v1m0 61v1m1 -63v1m0 61v1m1 -63v1m0 62v2m1 1v1m1 -66v1m0 64v1m1 0v1m1 -67v1m0 65v1m0 246v3m1 -317v1m0 66v1m1 -69v1m0 66v2m1 -70v1m0 63v4m0 248v3m1 -320v1m0 58v1m0 4v1m1 -66v1m1 -2v1m2 -4v1m1 -1v1m1 321v3m1 -326v1m1 -2v1m1 -1v1m2 -4v2m1 -2v1m4 54v1m0 277v3m1 -338v1m2 0v1m1 -1v1m3 -1v1m0 67v1m1 0v1m1 -72v1m1 -1v1m0 74v1m0 2v1m0 3v1m1 -82v1m0 82v1m1 -84v1m1 -2v1m0 83v1m2 -3v3m2 -85v1m0 72v1m1 -73v1m1 -109v1m0 107v1m1 -108v1m1 -1v3m0 104v1m1 -108v2m0 1v2m0 101v1m1 0v1m0 53v1m1 -161v1m0 160v1m1 -162v2m0 5v2m0 153v1m1 -162v2m0 6v1m0 97v1m1 -107v2m0 104v1m1 -105v2m0 103v1m1 -106v6m0 4v1m1 -11v6m0 5v1m0 93v1m1 -106v4m0 8v2m0 91v1m1 -106v1m0 12v1m0 91v1m1 -107v2m0 12v1m0 93v2m0 51v3m1 -175v4m0 17v2m0 1v1m0 96v1m0 52v1m1 -177v1m0 6v2m0 16v2m1 -28v1m0 26v1m0 96v1m1 -126v2m0 26v2m0 94v1m1 -124v1m0 25v3m1 -28v1m0 24v2m0 95v1m1 -122v2m0 23v1m1 -28v1m0 2v1m0 23v1m0 95v1m1 -124v1m0 25v3m1 -30v2m0 26v2m1 -1v1m1 -34v6m0 27v1m1 -35v1m0 2v4m0 122v1m1 -132v1m0 4v5m0 26v1m0 93v1m1 -132v1m0 9v2m0 25v1m0 93v1m1 -132v1m0 35v1m0 94v1m1 -132v1m0 131v3m1 -134v2m0 23v1m0 9v1m0 93v1m0 54v1m1 -186v5m0 28v3m0 94v1m0 55v2m1 -188v3m0 30v2m0 151v1m1 -188v2m0 34v1m0 95v1m0 55v2m1 -189v2m0 34v1m0 95v2m1 -135v2m0 131v1m1 -134v2m0 36v1m0 94v1m0 323v3m1 -460v1m0 36v2m0 94v1m1 -134v2m0 35v2m0 96v2m0 70v1m1 -207v1m0 35v1m0 99v3m1 -140v1m0 36v1m0 171v1m1 -173v1m0 104v2m0 68v1m1 -212v1m0 36v2m0 104v1m0 68v1m1 -212v2m0 36v1m0 104v1m0 68v1m1 -215v1m0 35v3m0 1v2m0 103v1m0 64v1m0 2v1m1 -215v2m0 1v4m0 31v3m1 -40v1m0 3v3m0 32v1m0 107v1m0 61v1m0 247v3m1 -459v1m0 4v4m0 137v1m1 -148v2m0 40v1m0 82v1m0 21v1m1 -149v1m0 1v5m0 3v1m0 28v1m0 85v8m0 15v1m0 49v1m1 -200v1m0 3v8m0 1v2m0 120v1m0 1v1m0 11v1m0 48v1m0 5v1m1 -204v4m0 4v12m0 13v1m0 7v3m0 80v1m0 22v1m0 53v1m1 -199v1m0 16v2m0 20v1m0 80v2m0 73v1m1 -178v1m0 20v2m0 79v1m1 -100v2m0 12v3m0 1v2m0 79v1m0 16v1m0 4v1m1 -120v2m0 10v1m0 3v2m0 78v1m1 -96v2m0 9v4m0 2v1m0 76v1m1 -94v3m0 2v1m0 9v2m0 76v1m1 -92v1m0 12v2m0 75v1m1 -90v3m0 8v2m0 76v1m0 343v3m1 -434v1m0 9v1m0 76v1m1 -87v1m0 9v1m0 74v1m0 63v1m1 -148v1m0 8v1m0 72v2m1 -83v2m0 7v1m0 71v2m1 -106v1m0 24v1m0 6v1m0 72v1m0 12v1m1 -125v6m0 26v1m0 6v1m0 72v1m0 11v1m0 4v2m1 -131v2m0 5v2m0 24v1m0 6v1m0 71v2m0 7v4m0 3v3m1 -131v1m0 8v1m0 25v1m0 3v1m0 72v1m0 9v2m0 4v2m0 311v3m1 -444v2m0 8v1m0 24v5m0 72v1m1 -112v2m0 108v1m1 -108v1m0 5v1m0 100v2m1 -109v1m0 5v2m0 99v1m1 -107v2m0 4v5m0 96v1m0 65v1m1 -176v1m0 3v2m0 5v1m0 98v1m0 65v1m1 -171v1m0 1v1m0 2v3m0 96v1m1 -110v1m0 5v2m0 5v1m0 95v1m1 -109v4m0 3v1m0 1v1m0 1v1m1 -16v9m0 5v1m0 1v1m1 -17v2m0 2v5m0 7v1m0 97v1m1 -115v2m0 4v1m0 2v10m0 96v1m1 -120v4m0 6v8m0 102v1m0 71v1m1 -191v2m0 8v3m1 -11v2m0 9v5m0 100v1m1 -116v2m0 8v7m0 97v1m1 -114v2m0 7v3m0 100v1m0 73v1m1 -187v4m0 8v5m0 95v1m0 72v1m1 -182v2m0 9v5m0 92v1m0 73v1m1 -182v1m0 10v4m0 92v1m0 72v1m1 -180v2m0 11v2m0 91v1m0 73v2m1 -182v1m0 12v2m0 167v1m1 -184v1m0 15v1m0 88v1m0 78v3m1 -171v1m0 170v1m1 -188v2m0 15v3m0 166v1m1 -205v3m0 2v7m0 4v4m0 18v1m0 83v1m0 82v2m1 -206v2m0 9v2m0 1v3m0 20v1m1 -39v2m0 12v3m0 21v1m0 82v1m0 86v1m1 -207v2m0 35v2m0 80v1m0 87v2m1 -210v6m0 33v1m1 -39v2m0 1v1m0 34v1m0 80v1m1 -121v2m0 37v1m0 79v1m1 -120v1m0 38v1m0 78v1m1 -120v4m0 37v1m0 78v1m1 -120v2m0 39v1m0 77v1m1 -119v2m0 38v1m0 77v1m0 74v1m0 267v3m1 -465v3m0 38v1m0 78v1m0 73v1m1 -196v1m0 41v1m0 153v1m1 -198v1m1 -1v1m0 377v5m1 -382v1m0 41v1m0 82v1m0 69v2m0 177v2m0 6v1m1 -383v2m0 40v1m0 333v3m0 3v1m1 -381v2m0 39v2m0 332v4m0 2v1m1 -380v2m0 38v1m0 81v1m0 253v1m0 2v1m1 -378v1m0 119v1m0 67v2m1 -189v1m0 118v1m0 66v1m1 -185v1m0 117v1m0 65v2m1 -185v4m0 1v1m0 110v1m0 65v1m1 -181v1m0 114v1m0 66v1m1 -177v1m0 108v1m1 -110v1m0 108v1m0 65v1m1 -177v1m0 30v1m1 -31v1m0 29v1m0 78v1m1 -110v1m0 109v3m0 62v1m1 -176v1m0 31v1m0 142v1m1 -176v1m0 112v1m1 -115v2m0 116v1m1 -120v2m1 -4v1m0 122v1m0 322v3m2 -459v2m0 1v1m0 1v1m0 4v1m0 122v1m0 319v3m1 -456v1m0 5v1m0 1v3m0 122v1m1 -135v2m0 9v3m0 38v1m1 -55v3m0 11v3m0 117v1m1 -135v4m1 -3v3m0 130v1m1 -134v2m1 -1v3m0 49v1m0 78v1m1 -132v2m1 -2v2m0 130v1m1 -132v2m0 130v1m1 -131v2m0 452v3m1 -462v9m0 128v1m0 56v1m1 -193v7m0 184v1m1 -193v2m0 3v3m0 128v1m0 56v3m1 -195v2m0 4v1m0 127v1m0 60v1m1 -196v1m0 5v1m1 -7v2m1 -1v3m1 0v2m0 125v1m1 -132v1m0 4v2m0 43v1m0 80v1m1 -133v5m0 2v3m0 448v3m1 -460v4m0 1v1m0 1v3m0 40v1m1 -51v3m0 4v1m0 122v1m1 -132v5m1 -5v2m0 3v2m0 46v1m0 147v1m0 262v3m1 -465v1m0 50v1m0 79v1m0 66v1m1 -198v1m0 197v1m1 -198v1m0 48v1m0 80v1m0 66v1m1 -198v2m0 196v1m1 -201v6m0 126v1m0 68v1m1 -202v2m0 3v1m0 46v1m0 149v3m1 -205v1m0 51v1m0 77v1m0 231v4m1 -237v1m0 231v1m0 3v1m1 -366v1m0 122v1m0 2v1m0 232v1m1 -360v1m0 118v1m0 96v1m0 143v1m0 5v1m1 -368v2m0 116v1m0 99v1m0 141v1m0 6v1m1 -369v3m0 116v1m0 100v1m0 139v1m0 8v2m1 -372v2m0 220v1m0 138v1m0 11v2m1 -375v1m0 219v1m0 154v2m1 -377v1m0 56v1m0 61v2m0 251v4m0 2v1m1 -378v1m0 56v1m0 63v1m0 253v3m0 1v2m1 -381v2m0 121v1m0 94v1m0 161v2m1 -382v1m0 216v1m1 -218v1m0 122v1m1 -124v1m0 216v1m0 169v2m0 69v3m1 -462v1m0 218v1m1 -219v1m0 118v3m0 97v1m1 -220v2m0 117v1m0 101v1m0 11v1m0 3v4m1 -242v2m0 118v3m0 104v1m0 4v1m0 3v2m0 2v3m1 -244v2m0 119v2m0 102v1m0 3v1m0 2v3m0 2v2m1 -240v2m0 53v1m0 66v1m0 108v6m1 -239v2m0 121v1m0 109v4m1 -236v2m0 120v1m0 105v3m0 1v3m0 2v1m1 -238v2m0 120v1m0 104v1m0 3v1m0 3v3m1 -237v2m0 55v1m0 63v1m0 103v1m1 -227v1m0 57v1m0 63v1m1 -123v2m0 56v1m0 63v1m1 -124v3m0 120v1m1 -124v1m0 124v2m0 13v1m0 82v2m1 -226v3m0 125v1m0 14v1m0 79v1m1 -226v1m0 132v2m0 11v1m0 78v1m1 -227v1m0 5v3m1 -8v1m0 8v1m0 137v1m0 321v3m1 -324v1m1 -149v2m0 61v1m0 157v2m0 72v2m0 169v3m1 -469v5m0 58v1m0 84v1m0 70v1m0 74v4m1 -297v4m0 58v1m0 84v1m0 66v1m0 78v3m0 67v2m0 2v1m0 1v1m1 -367v2m0 56v1m0 86v1m0 64v1m0 79v2m0 67v2m0 4v3m1 -373v8m0 142v1m0 62v1m0 80v3m0 66v1m0 9v1m1 -374v9m0 141v1m0 61v1m0 150v1m0 10v1m1 -374v2m0 1v3m0 56v1m0 84v1m0 63v1m0 151v1m0 10v4m1 -381v4m0 4v4m0 52v1m0 83v1m0 65v1m0 151v1m0 14v1m1 -381v5m0 58v1m0 78v4m0 67v1m1 -214v7m0 129v3m0 2v1m0 1v3m0 67v2m0 169v3m1 -385v2m0 1v1m0 129v2m0 79v3m0 145v1m1 -362v2m0 129v3m0 81v2m0 1v2m0 131v2m0 29v1m0 82v3m1 -466v1m0 57v1m0 69v1m0 89v1m0 130v2m0 29v1m0 82v3m1 -465v1m0 127v1m0 89v1m0 128v1m1 -347v2m0 1v3m0 122v1m0 88v1m0 133v1m0 26v1m1 -375v2m0 123v1m0 88v2m0 132v1m0 25v1m0 79v3m1 -456v1m0 124v1m0 71v3m0 14v2m0 131v1m0 26v1m1 -375v1m0 126v1m0 64v5m0 3v1m0 12v1m1 -215v1m0 50v1m0 78v1m0 61v1m0 181v1m1 -375v1m0 50v1m0 138v1m0 12v1m0 137v3m1 -343v1m0 49v1m0 80v2m0 56v1m0 12v1m0 10v1m0 126v1m1 -341v1m0 49v1m0 81v2m0 69v1m0 8v1m1 -213v1m0 48v1m0 81v1m0 71v1m0 9v1m1 -215v1m0 49v1m0 82v3m0 2v3m0 48v1m0 14v1m0 10v1m0 125v1m0 112v3m1 -457v1m0 49v1m0 80v22m0 35v1m0 15v1m0 8v2m0 125v1m1 -341v1m0 132v4m0 3v5m0 2v7m0 34v1m0 14v1m0 8v1m0 127v1m0 36v1m1 -379v1m0 50v1m0 82v2m0 6v9m0 1v2m0 34v1m0 16v1m0 7v1m0 124v1m0 36v2m0 3v1m1 -381v1m0 50v1m0 83v3m0 11v12m0 21v7m0 17v1m0 6v1m0 122v2m1 -339v1m0 52v1m0 84v2m0 14v2m0 6v6m0 9v3m0 3v6m0 18v1m0 127v2m0 37v1m1 -374v1m0 51v2m0 63v1m0 19v2m0 11v3m0 4v5m0 3v14m0 3v3m0 21v1m0 6v1m0 119v1m0 38v2m1 -374v1m0 51v1m0 62v2m0 20v2m0 16v12m0 12v6m0 22v1m0 4v1m0 160v1m1 -373v1m0 50v1m0 85v4m0 6v3m0 4v14m0 4v3m0 3v10m0 19v5m0 73v1m0 46v1m0 40v1"/>
<path stroke="#0099ff" d="M170.5 295v1m0 187v2m0 23v1m0 26v2m0 69v1m1 -312v1m0 111v1m0 74v1m0 46v5m0 5v1m0 67v3m0 41v3m1 -358v1m0 111v1m0 75v1m0 1v6m0 2v1m0 13v5m0 16v4m0 78v3m1 -318v1m0 111v1m0 83v1m0 3v1m0 10v4m0 18v6m0 80v3m1 -322v1m0 111v1m0 88v2m0 32v4m0 84v1m1 -324v1m0 202v2m0 30v3m1 -237v1m0 110v1m0 90v5m0 4v3m0 18v1m0 97v1m1 -329v1m0 200v15m0 14v1m0 98v2m1 -331v3m0 199v4m0 10v5m0 4v4m1 -229v3m0 219v3m0 110v2m1 -340v4m1 -6v7m0 1v7m0 99v1m0 231v3m1 -351v8m0 8v4m0 97v2m1 -118v2m0 2v2m0 112v2m0 232v1m1 -349v2m0 113v2m0 234v1m1 -352v1m0 351v1m1 -349v1m1 2v2m1 1v3m1 -1v2m1 0v2m0 96v1m0 241v3m1 -352v3m0 1v2m0 2v7m0 92v1m1 -109v1m0 106v2m1 -107v1m1 104v1m1 0v2m1 -106v3m0 101v1m1 -106v1m1 -2v2m1 -2v1m1 0v2m0 105v3m1 -110v2m0 107v1m1 -109v2m1 0v2m1 0v2m1 1v1m1 0v1m0 171v2m1 -173v1m2 -1v1m0 170v1m1 -173v1m0 95v1m0 75v1m0 165v3m1 -342v1m0 172v2m1 -177v1m0 175v1m1 -178v1m0 175v3m1 -180v3m0 175v2m1 -180v3m0 97v1m1 -100v4m0 95v1m1 -104v1m0 3v4m1 -10v2m0 1v2m0 99v2m0 242v3m1 -351v2m1 -2v3m0 101v2m1 -106v2m0 103v1m1 -107v2m1 -2v3m1 -2v2m0 106v2m0 172v2m1 -281v3m0 275v1m0 1v3m1 -283v10m0 268v1m0 6v1m0 62v3m1 -350v16m0 261v1m0 9v1m1 -288v3m0 5v8m0 276v2m1 -294v3m0 276v1m1 -280v2m0 280v2m0 10v1m1 -295v2m0 11v1m0 102v1m0 168v2m0 8v5m1 -300v2m0 115v2m0 159v1m0 4v4m0 13v2m1 -303v1m0 118v1m0 153v2m0 1v2m0 2v1m0 21v3m1 -185v2m0 1v3m0 142v3m0 36v1m1 -309v1m0 126v3m0 136v2m0 41v1m1 -310v1m0 129v2m0 135v2m0 10v2m0 6v2m0 20v2m1 -312v1m0 132v1m0 134v2m0 8v8m0 26v1m1 -313v1m0 268v4m0 9v5m0 11v4m0 12v1m1 -193v2m0 2v5m0 141v2m0 14v3m0 6v5m0 2v3m0 8v1m0 34v3m1 -354v1m0 121v1m0 150v4m0 26v8m0 5v1m1 -319v1m0 120v3m0 149v1m0 1v2m0 2v2m0 38v2m1 -323v1m0 120v2m0 153v2m0 45v1m1 -325v1m0 120v1m0 158v3m0 30v4m0 4v5m0 30v3m1 -360v1m0 121v1m0 162v4m0 26v8m0 6v1m1 -331v1m0 122v2m0 164v5m0 25v2m0 31v3m1 -358v1m0 294v2m0 25v11m1 -335v1m0 127v3m0 166v1m0 37v3m1 -339v1m0 298v2m1 -168v1m0 167v4m0 29v11m1 -344v1m0 131v1m0 174v1m0 26v1m1 -335v1m0 130v1m0 198v1m0 1v2m1 -202v1m0 178v3m0 9v1m0 1v2m1 -328v1m0 131v1m0 182v5m0 5v2m0 34v3m1 -232v1m0 187v7m1 -328v1m0 131v1m1 -2v2m0 189v5m1 -326v1m0 128v1m1 -130v1m0 129v1m0 194v2m1 -196v2m1 -134v1m0 132v1m1 -134v1m0 132v1m0 197v2m1 -332v1m0 132v3m0 194v4m1 -334v1m0 335v1m1 -337v1m0 135v1m1 -1v1m1 0v2m1 -138v1m0 136v1m1 0v1m1 -140v1m0 137v1m1 -139v1m0 138v2m1 -1v1m1 -141v1m0 139v1m1 -141v1m0 140v2m0 2v1m1 -146v1m0 145v1m1 -147v1m0 145v1m1 0v1m1 -150v1m0 148v1m1 -152v1m0 150v1m1 -154v1m0 152v1m1 -3v2m1 -3v1m1 -155v4m0 150v1m1 -1v3m1 -157v1m0 152v1m1 -3v2m0 1v1m1 -156v1m0 150v1m1 -152v1m0 151v1m1 -5v4m1 -153v1m0 147v1m0 221v3m1 -373v1m0 148v1m1 -152v2m0 148v1m1 -150v2m0 147v1m1 -150v2m1 -2v1m0 148v1m1 -150v2m1 -1v1m0 375v3m1 -379v1m0 147v1m1 -149v1m1 -1v2m0 139v1m1 -141v1m0 138v1m1 -140v1m0 139v4m1 -142v1m0 141v4m0 230v3m1 -380v1m0 146v1m1 -148v1m0 147v1m1 -1v1m1 0v1m1 -150v1m0 148v1m1 -150v1m0 149v1m1 -151v1m0 149v1m1 -151v1m0 149v1m1 -152v1m0 151v1m1 -1v1m1 -156v1m0 154v1m1 -157v1m1 155v1m1 -156v2m0 3v4m0 146v1m0 216v3m1 -373v4m0 149v1m1 -151v1m0 6v1m0 143v1m0 72v4m0 145v3m1 -225v1m0 69v8m1 -220v1m0 140v1m0 70v6m0 1v2m0 143v3m1 -225v1m0 67v1m0 11v3m1 -82v2m0 63v3m0 11v3m1 -14v5m0 3v4m1 -80v2m0 70v6m1 -79v1m0 73v2m1 -77v1m1 -145v1m1 363v3m1 -367v1m1 0v1m1 362v3m0 3v3m1 -372v1m2 -10v1m0 2v1m1 -6v1m0 152v3m1 -156v1m0 151v1m1 -152v1m2 0v1m1 371v3m3 -375v1m1 0v1m1 -1v1m1 -2v1m1 -2v1m1 -1v1m1 -2v1m1 -1v1m1 -1v1m2 149v1m1 -150v1m1 0v1m0 148v1m0 66v4m1 -5v6m1 -6v4m1 -220v1m0 216v3m2 -219v1m1 -2v1m3 -1v1m1 152v1m1 -153v1m0 152v3m0 219v3m2 -163v1m1 -215v1m0 213v9m1 -8v7m1 -220v1m1 0v1m1 -1v1m0 370v3m1 -375v1m0 368v3m1 -371v1m1 -1v1m1 -2v1m1 -2v1m1 -1v1m1 0v1m1 0v1m1 367v3m1 -367v1m1 2v1m2 0v1m1 -2v1m1 -1v4m0 146v1m1 -146v1m0 142v2m1 -3v1m1 -139v1m0 138v1m1 -140v1m0 139v1m1 -141v1m0 139v1m1 -140v1m0 139v3m1 -142v1m0 141v4m1 -145v1m0 146v1m1 -146v1m1 -1v2m1 0v1m1 0v1m2 -1v1m1 340v3m1 -343v1m0 133v1m1 -1v1m1 -138v2m1 -3v1m2 135v2m1 -3v1m3 -139v1m1 136v1m1 -140v1m0 138v1m1 -219v2m0 76v1m0 140v1m1 -143v1m0 141v1m1 -144v1m0 141v1m1 -214v4m0 210v1m1 -214v2m0 1v1m0 209v1m1 -225v3m0 9v2m0 65v1m0 145v1m1 -225v3m0 1v1m0 219v1m1 -224v4m0 1v1m0 70v1m0 147v2m1 -226v2m0 4v2m0 68v1m0 149v1m1 -225v1m0 5v1m0 67v1m0 150v1m0 1v1m1 -227v1m0 4v1m1 -5v2m0 5v2m0 63v1m0 150v2m1 -225v2m0 5v2m0 212v2m1 -221v2m0 5v1m0 210v1m1 -220v2m0 6v1m1 -8v2m0 6v1m1 -9v2m0 213v1m1 -215v3m0 3v1m0 62v1m0 145v1m0 56v4m1 -275v2m0 3v1m0 209v3m1 -218v2m0 3v2m0 211v2m1 -219v2m0 3v1m0 213v1m1 -218v4m0 214v1m1 -219v1m0 64v1m1 360v3m1 -363v1m0 196v2m1 -198v1m0 153v1m0 39v6m1 -7v2m0 2v3m1 -6v2m0 4v3m1 -7v1m0 6v3m1 -48v1m0 38v3m0 5v2m1 -204v1m0 151v3m0 42v4m1 -52v3m0 204v3m1 -211v1m0 198v3m1 -201v1m1 -2v2m1 -147v1m0 143v1m0 49v3m1 -52v1m0 48v2m1 -194v1m0 143v1m1 -2v2m1 -145v1m0 141v1m0 48v1m0 1v2m1 -52v1m0 47v3m0 5v4m1 -204v1m0 143v1m0 47v2m0 8v2m1 -205v1m0 144v1m0 47v1m0 8v3m1 -206v1m0 145v1m0 49v3m0 2v3m1 -58v1m0 50v6m1 -205v1m0 146v1m0 49v1m0 5v3m1 -58v1m0 47v2m0 8v1m1 -208v1m0 148v1m0 57v2m1 -210v1m0 150v1m0 47v1m0 7v3m1 -210v1m0 150v1m0 46v1m0 10v2m1 -210v1m0 149v1m0 45v1m0 12v1m1 -210v1m0 150v2m0 42v1m0 14v1m1 -60v1m0 42v2m1 -198v1m0 153v1m0 41v2m0 12v2m1 -57v1m0 38v1m0 13v3m1 -214v1m0 158v1m0 52v2m1 -215v1m0 159v1m0 52v2m1 -214v1m0 196v1m0 15v1m1 -212v1m0 210v2m1 -211v1m0 191v1m0 13v5m1 -210v1m0 190v1m0 13v4m1 -207v1m0 206v1m1 -207v1m0 186v1m0 19v1m1 -21v1m0 20v1m1 -208v1m0 186v1m0 17v3m1 -207v1m0 152v1m0 33v2m0 15v3m1 -205v1m0 150v1m0 32v2m0 17v2m1 -203v1m0 147v1m0 32v1m0 17v4m1 -202v2m0 145v1m0 31v1m0 17v5m0 142v3m1 -151v6m1 -60v3m0 32v1m0 17v3m1 -2v3m2 -79v1m0 80v2m1 -197v1m0 193v3m1 -196v1m0 191v2m1 0v2m1 -1v3m1 -77v2m0 74v2m1 -195v1m0 118v2m0 70v1m1 -192v1m0 122v1m0 67v2m0 137v3m1 -333v1m0 163v1m0 26v3m1 -195v1m0 123v1m0 40v1m0 27v2m1 -282v2m0 84v1m0 123v3m0 39v1m0 28v1m1 -280v1m0 278v2m0 144v3m1 -427v2m0 246v1m0 28v2m1 -277v1m0 274v3m1 -199v1m0 168v1m0 28v1m1 -4v3m1 -28v1m0 21v1m1 -199v2m0 196v3m1 -202v1m0 201v2m1 -205v1m0 138v1m0 66v3m1 -210v1m0 141v2m0 66v1m1 -67v2m0 32v1m0 32v1m1 -66v2m0 63v1m1 -212v1m0 147v1m0 62v1m0 131v3m1 -197v1m0 57v4m1 -212v1m0 178v1m0 30v3m0 131v3m1 -275v1m0 138v1m1 1v1m1 -312v2m0 309v1m1 -217v2m0 63v1m0 12v1m0 104v1m0 33v1m1 -310v1m0 89v1m0 67v1m0 12v1m1 -173v3m0 88v1m0 68v1m0 149v1m1 -312v1m0 3v1m0 167v1m0 7v2m0 129v1m1 -312v7m0 166v1m0 138v1m1 -314v10m0 80v1m0 72v1m0 8v1m0 66v1m0 41v1m0 32v1m1 -313v4m0 3v1m0 228v1m0 75v1m1 -312v2m0 4v2m0 304v1m1 -315v4m0 9v2m0 74v1m0 86v7m0 98v1m1 -282v5m0 11v1m0 147v1m0 2v1m0 6v7m0 1v1m0 97v1m1 -281v5m0 12v1m0 72v1m0 79v1m0 1v1m0 5v5m1 -183v4m0 159v1m0 15v6m0 95v1m1 -282v2m0 18v1m0 165v2m0 94v1m1 -283v3m0 19v1m0 67v1m0 95v1m1 -189v1m0 3v2m0 188v2m0 88v1m1 -286v1m0 4v3m0 19v1m0 65v1m0 103v2m0 86v1m0 165v3m1 -454v2m0 5v3m0 18v2m0 62v1m0 105v2m0 84v1m1 -286v4m0 4v4m0 80v1m0 74v1m0 33v2m0 82v1m1 -286v4m0 5v5m0 17v1m0 59v1m0 75v1m0 36v3m0 78v1m0 27v1m1 -314v4m0 2v6m0 1v3m0 16v1m0 134v1m0 39v1m1 -209v4m0 7v1m0 3v2m0 3v1m0 1v2m0 8v1m0 60v1m0 192v1m1 -286v2m0 9v1m0 1v1m0 6v1m0 5v1m0 2v3m0 180v1m1 -217v6m0 21v3m0 66v1m0 120v1m0 1v2m0 67v1m1 -290v2m0 3v2m0 89v1m0 75v1m0 115v1m1 -288v3m0 1v2m0 90v1m0 126v1m0 92v1m1 -314v3m0 164v1m0 116v1m1 -118v1m1 -73v1m0 70v1m0 52v1m0 25v1m0 67v1m1 -170v1m0 20v1m0 52v1m0 24v1m0 71v1m1 -152v1m0 52v1m0 99v1m1 -182v1m0 9v1m0 96v1m0 209v3m1 -425v2m0 62v1m0 39v1m0 28v1m0 53v1m0 67v1m0 26v1m1 -283v3m0 4v1m0 56v1m0 38v1m0 11v1m0 17v2m0 77v1m0 68v1m1 -283v2m0 2v1m0 111v1m0 18v1m0 76v1m0 44v1m0 22v1m1 -281v2m0 4v2m0 56v1m0 51v1m0 18v2m0 54v2m0 17v1m1 -211v2m0 5v1m0 55v1m0 71v1m0 57v1m0 1v1m0 11v1m0 48v1m0 145v3m1 -403v2m0 4v1m0 127v1m0 66v1m0 1v1m1 -200v2m0 109v1m0 20v1m0 138v1m1 -215v1m0 38v1m0 14v1m0 10v1m0 4v2m0 4v1m1 -77v1m0 52v1m0 20v2m0 118v1m0 19v1m1 -216v1m0 73v3m0 118v1m0 17v1m1 -214v1m0 53v1m0 157v1m1 -213v1m0 54v1m0 136v2m1 -194v1m0 37v1m0 15v1m0 22v1m0 113v1m1 -190v1m0 11v3m0 38v1m0 22v1m0 111v1m0 19v1m1 -210v2m0 16v2m0 12v2m0 22v5m0 6v3m0 7v2m0 111v1m1 -179v1m0 8v1m0 10v1m0 28v7m0 1v3m0 5v2m0 128v1m1 -197v2m0 19v1m0 36v3m0 6v2m0 110v1m0 166v3m1 -360v1m0 8v2m0 13v3m0 4v2m0 24v3m0 8v9m0 2v1m0 110v1m0 15v1m1 -206v3m0 4v1m0 19v3m0 25v3m0 2v2m0 10v7m1 -78v1m0 1v2m0 49v9m0 3v14m0 110v1m1 -136v12m0 3v10m0 109v1m1 -135v10m0 16v1m0 109v1m1 -137v3m0 6v2m0 15v1m0 110v1m0 13v1m1 -195v2m0 40v1m0 25v2m0 124v1m1 -196v1m0 3v1m0 37v3m0 27v1m0 110v1m0 12v1m1 -192v2m0 36v6m0 134v1m0 12v1m1 -197v1m0 6v1m0 36v10m0 19v1m0 109v1m1 -184v2m0 4v1m0 37v10m0 19v3m0 107v1m1 -183v3m0 2v1m0 41v5m0 1v6m0 15v1m0 107v2m0 12v1m1 -196v3m0 1v2m0 34v2m0 5v11m0 16v2m0 1v1m0 104v2m0 10v1m0 151v3m1 -436v2m0 85v3m0 3v4m0 30v1m0 16v7m0 14v1m0 104v1m1 -269v1m0 83v10m0 31v4m0 2v1m0 11v6m0 16v1m0 102v1m0 11v1m1 -198v8m0 36v5m0 9v3m0 123v1m0 11v2m1 -279v3m0 80v5m0 38v15m0 17v1m0 105v1m0 12v1m1 -277v3m0 78v5m0 40v14m0 6v2m0 4v2m0 109v1m0 12v1m0 142v3m1 -300v3m0 15v4m0 2v1m0 5v1m0 111v1m0 10v1m1 -194v2m0 39v5m0 23v1m0 112v2m0 8v1m1 -277v1m0 82v3m0 40v5m0 23v1m0 112v2m0 6v2m1 -193v2m0 38v6m0 1v1m0 134v11m1 -156v1m0 1v4m0 7v1m0 131v11m0 150v3m1 -319v7m0 4v2m0 141v3m0 3v5m1 -165v3m0 2v3m0 146v1m0 7v3m1 -167v5m0 3v5m0 31v1m0 111v1m0 8v1m1 -292v1m0 121v3m0 15v2m0 1v2m0 2v1m0 22v1m0 111v1m0 8v1m1 -300v1m0 127v2m0 49v1m0 109v1m0 10v1m1 -173v1m0 161v1m0 9v1m1 -174v2m0 162v1m0 8v1m1 -174v3m0 162v1m1 -166v9m0 45v1m0 109v1m0 8v1m1 -173v19m0 146v2m0 5v1m1 -175v1m0 1v1m0 4v8m0 1v10m0 55v3m0 85v1m1 -168v11m0 2v1m0 1v2m0 2v4m0 32v1m0 20v2m0 90v2m1 -170v12m0 4v3m0 37v1m0 21v1m0 88v1m1 -163v2m0 1v4m0 2v5m0 39v1m0 107v1m0 2v2m1 -174v2m0 2v17m0 1v1m0 1v3m0 55v1m0 85v2m1 -170v4m0 7v6m0 5v1m0 38v1m0 25v1m0 80v2m0 4v1m1 -173v2m0 7v5m0 5v1m0 143v3m0 5v2m1 -172v8m0 2v9m0 144v4m0 3v2m1 -169v4m0 156v3m0 4v3m1 -170v2m0 57v2m0 13v1m0 85v2m0 4v4m1 -168v2m0 58v4m0 7v1m0 85v3m0 7v1m1 -166v1m0 2v2m0 150v1m0 8v2m1 -160v1m0 148v2m1 -150v1m0 147v1m0 8v1m1 -157v2m0 145v5m0 3v2m1 -158v1m0 74v3m0 73v6m1 -156v1m0 76v1m0 75v2m1 -155v1m0 77v1m0 70v3m1 -153v1m1 -112v1m0 110v1m0 80v2m0 71v2m1 -264v1m0 107v1m0 82v1m0 67v1m1 -69v1m0 64v2m0 4v1m1 -155v1m0 148v2m0 5v1m1 -157v1m0 149v1m0 7v1m1 -10v2m0 6v2m1 -160v1m0 149v1m0 6v2m1 -10v1m0 7v2m1 -160v1m0 85v1m0 63v1m0 8v1m0 149v3m1 -312v1m0 43v1m0 3v1m0 102v3m0 6v1m1 -118v1m0 110v1m0 5v1m1 -120v1m0 12v2m0 99v1m0 4v1m1 -121v1m0 116v4m1 -166v4m0 40v1m0 117v2m1 -290v2m0 10v2m0 113v1m0 84v1m0 75v3m1 -283v9m0 111v1m0 40v1m0 19v1m0 5v2m0 12v1m0 78v2m1 -278v6m0 109v1m0 60v1m0 9v1m1 -186v10m0 105v1m0 58v1m0 3v3m1 -180v6m0 2v2m0 106v1m0 39v1m0 15v1m0 2v2m0 97v2m1 -274v1m0 6v1m0 146v1m0 14v1m0 2v1m1 -172v1m0 4v2m0 158v6m0 100v1m1 -271v6m0 107v1m0 37v2m0 12v4m0 100v2m1 -271v6m0 158v1m0 104v1m0 1v1m1 -270v1m0 1v1m0 107v1m0 36v1m0 118v2m0 1v1m1 -271v2m0 107v1m0 158v3m1 -274v2m0 2v2m0 104v1m0 40v1m0 119v1m1 -272v7m0 144v1m0 120v1m0 1v1m0 152v3m1 -432v3m0 5v1m0 100v1m0 43v1m0 121v1m1 -275v9m0 98v1m0 46v1m1 -155v5m0 102v1m0 47v5m1 -161v5m0 156v1m0 8v2m0 104v1m1 -277v6m0 155v1m0 2v1m0 2v1m0 3v1m0 104v3m1 -280v1m0 2v1m0 104v1m0 43v2m0 2v2m0 3v2m0 2v7m0 106v2m1 -280v1m0 3v1m0 103v1m0 34v2m0 5v1m0 1v6m0 3v4m0 161v2m1 -329v2m0 2v1m0 103v1m0 33v22m0 2v8m0 152v2m0 1v2m1 -329v1m0 1v2m0 138v6m0 4v1m0 2v1m0 4v2m0 1v6m0 2v2m0 155v1m1 -329v3m0 134v11m0 179v1m1 -327v2m0 104v1m0 29v2m0 1v8m0 2v3m1 -152v2m0 105v1m0 35v10m1 -47v1m0 47v9m1 -164v1m0 105v1m0 50v2m0 3v2m1 -15v4m0 1v2m0 1v3m0 2v2m0 114v1m0 2v2m1 -284v1m0 106v1m0 42v3m0 1v2m0 5v1m0 3v1m0 112v2m0 1v2m1 -284v2m0 106v1m0 45v2m0 123v4m1 -283v2m0 153v2m0 123v2m1 -282v2m0 153v1m0 124v2m1 -281v1m0 147v5m0 127v2m1 -175v1m0 39v3m1 -1v1m1 -149v1m0 106v2m0 39v1m1 -39v1m0 36v1m1 -146v1m0 108v1m0 34v1m1 -36v1m0 32v3m1 -35v1m1 -1v2m0 28v1m1 -30v2m1 -1v1m0 29v1m1 -140v3m0 107v1m0 28v1m1 -139v3m0 106v2m1 -109v1m0 108v1m1 0v1m0 25v1m1 -24v1m1 -1v1m0 50v1m3 -51v1m3 32v1m2 -143v1m1 108v1m0 38v3m1 0v1m1 -45v1m0 44v4m0 1v1m0 1v1m1 0v2m1 0v1m1 -58v1m0 55v4m1 -61v1m0 58v1m1 -60v1m1 58v1m2 -1v1m1 0v1m1 -62v1m0 62v2m1 -1v1m0 254v3m1 -321v1m0 62v2m1 -1v1m1 -66v1m1 -2v1m0 62v3m1 -9v5m1 -64v1m0 318v3m1 -323v1m1 -2v1m0 51v1m0 1v1m0 2v1m1 -60v1m0 49v1m0 1v1m1 -54v1m0 48v1m1 -50v1m1 -2v1m0 45v1m0 1v1m1 -49v1m1 45v1m0 1v1m2 -51v1m0 50v1m1 -53v1m0 53v1m1 0v1m1 -57v1m0 53v1m1 -56v1m0 53v1m1 -55v1m1 -2v1m2 -1v1m1 55v1m0 1v1m1 0v1m0 268v3m1 -330v1m1 -1v1m0 58v1m0 1v1m0 1v1m1 -64v1m1 -2v2m1 -3v1m0 72v1m1 -74v1m0 77v3m1 -80v1m1 -1v1m1 -2v1m1 -1v1m0 82v1m1 -84v1m0 75v5m1 -81v1m0 72v3m1 -76v1m0 331v3m1 -334v1m0 62v2m1 -65v1m1 -1v1m0 51v1m1 -53v1m1 -107v1m0 104v1m0 52v1m1 -160v2m0 2v1m1 -4v1m0 3v2m0 100v1m1 -106v2m0 2v1m0 100v1m1 -105v2m0 3v1m0 99v1m1 -106v2m0 1v1m0 1v2m0 98v1m0 53v1m1 -158v4m0 1v2m0 151v1m1 -155v1m0 2v1m0 95v1m1 -100v3m0 1v1m0 95v1m1 -103v8m0 94v1m1 -106v12m0 93v3m1 -108v12m1 -17v13m0 2v1m1 -25v6m0 2v1m0 10v5m0 99v1m0 51v1m1 -177v2m0 5v1m0 8v1m0 4v5m1 -26v2m0 14v1m0 4v5m0 97v1m0 52v1m1 -177v1m0 17v7m0 98v1m1 -123v2m0 17v1m0 3v1m0 153v1m0 1v1m1 -178v1m0 21v1m0 97v1m0 57v1m1 -182v2m0 1v2m0 17v4m1 -26v6m0 16v3m0 98v1m0 58v1m1 -183v6m0 17v3m0 98v1m0 54v1m1 -182v4m0 4v4m0 15v2m0 97v1m0 50v1m0 2v1m1 -179v1m0 5v7m0 13v1m0 97v1m1 -131v2m0 4v1m0 5v8m0 12v2m0 95v1m0 51v1m1 -184v4m0 5v2m0 7v6m0 10v1m0 95v1m1 -132v1m0 4v4m0 2v1m0 7v8m0 7v2m0 95v1m1 -132v2m0 3v1m0 1v1m0 1v6m0 10v5m0 3v2m0 96v2m0 51v1m1 -185v2m0 7v6m0 9v3m0 1v2m0 1v1m0 1v2m0 99v2m1 -134v2m0 6v7m0 7v1m0 1v9m0 95v3m1 -129v1m0 6v5m0 9v7m1 -30v3m0 7v7m0 8v5m1 -32v4m0 10v8m0 7v2m0 100v2m1 -132v2m0 1v5m0 6v9m0 6v5m0 98v1m0 54v1m1 -189v2m0 6v2m0 9v5m0 8v5m0 95v2m0 55v1m1 -190v3m0 6v3m0 8v4m0 10v2m0 96v2m0 56v1m0 1v1m0 2v1m1 -197v6m0 18v2m0 8v2m0 97v2m0 64v1m0 4v1m1 -204v3m0 19v5m0 6v2m0 100v2m0 324v3m1 -464v6m0 19v5m0 4v1m0 103v1m1 -140v2m0 1v1m0 24v3m0 4v1m0 104v1m1 -141v1m0 29v6m0 107v1m1 -143v2m0 28v6m1 -34v1m0 24v1m0 2v8m0 106v2m0 312v3m1 -459v2m0 27v3m0 3v1m0 106v2m0 61v1m1 -209v1m0 4v3m0 15v2m0 4v7m0 110v2m0 60v1m1 -209v3m0 3v2m0 16v4m0 2v8m0 109v1m1 -147v4m0 4v1m0 15v3m0 5v7m0 161v1m1 -201v10m0 14v5m0 5v6m0 106v1m0 43v1m0 3v1m1 -197v1m0 5v3m0 1v4m0 12v6m0 1v1m0 1v3m0 1v4m0 105v1m0 35v1m0 3v1m0 1v1m0 10v1m1 -203v3m0 8v1m0 2v4m0 1v1m0 8v3m0 1v12m0 81v6m0 2v1m0 1v1m0 13v1m1 -130v2m0 9v2m0 1v7m0 84v1m0 10v2m0 10v1m0 35v1m0 13v1m1 -177v6m0 4v10m0 83v1m0 12v1m0 8v1m0 51v2m1 -179v8m0 7v5m0 82v1m0 13v1m0 8v1m1 -122v6m0 3v3m0 3v1m0 82v1m0 58v1m1 -156v5m0 2v3m0 1v3m0 98v5m0 37v1m1 -154v9m0 4v2m0 78v1m1 -92v2m0 1v9m0 79v1m1 -92v12m0 78v1m0 60v1m1 -149v4m0 2v2m0 79v1m1 -88v5m0 2v2m0 78v1m1 -87v4m0 4v1m0 76v2m1 -85v8m0 75v6m0 58v1m1 -146v2m0 1v4m0 74v6m0 4v3m1 -93v6m0 74v2m0 6v4m0 1v2m0 2v5m0 42v1m1 -171v1m0 26v1m0 3v2m0 74v1m0 1v9m0 1v4m0 2v4m1 -133v5m0 27v2m0 1v3m0 74v7m0 4v3m0 3v5m0 40v1m1 -176v1m0 5v2m0 27v3m0 74v9m0 2v4m0 2v6m1 -134v2m0 4v2m0 103v4m0 4v3m0 1v6m0 3v2m0 42v1m1 -176v4m0 2v2m0 101v3m0 63v1m1 -174v2m0 2v1m0 103v2m1 -110v2m0 2v1m0 102v5m1 -110v4m0 102v2m1 -106v5m0 100v1m1 -105v1m0 1v2m0 100v1m1 -103v5m0 97v1m1 -100v1m0 98v1m0 65v1m1 -67v2m0 66v1m1 -180v2m0 111v1m0 66v1m1 -181v4m0 110v1m0 66v1m1 -184v6m0 180v1m1 -187v2m0 4v2m0 109v1m1 -116v3m0 1v1m0 1v3m0 178v1m1 -187v3m0 3v2m0 177v1m1 -185v4m0 1v2m0 104v1m1 -110v3m0 2v3m1 -6v2m0 4v3m1 -9v2m0 6v2m0 97v1m1 -106v1m0 7v3m1 -12v2m0 7v3m0 93v1m1 -107v2m0 12v1m0 90v1m1 -106v1m0 4v3m0 5v2m0 88v1m1 -103v2m0 11v2m0 431v3m1 -466v2m0 15v4m0 10v4m0 422v3m1 -460v3m0 3v3m0 6v6m0 13v1m0 84v1m1 -121v3m0 7v2m0 3v6m0 14v1m1 -34v1m0 9v6m0 4v5m0 9v1m1 -32v2m0 6v1m0 1v1m0 6v1m0 14v1m0 82v1m1 -119v1m0 1v3m0 15v4m0 11v1m0 82v1m0 77v1m0 1v2m1 -201v7m0 12v2m0 14v2m1 -38v4m0 3v5m0 12v4m0 9v1m0 80v1m1 -117v2m0 4v5m0 24v2m0 156v1m1 -195v3m0 6v1m0 1v1m0 1v1m0 22v3m0 79v1m1 -118v2m0 35v1m0 79v1m1 -118v4m0 33v1m0 80v1m1 -122v10m0 30v1m0 80v1m1 -123v12m0 31v1m0 79v1m1 -124v1m0 9v3m0 29v1m0 81v1m0 70v1m1 -195v1m0 39v1m0 334v6m1 -380v2m0 37v1m0 84v1m0 252v3m1 -378v2m0 35v2m0 84v1m0 253v2m1 -377v2m0 34v2m0 337v2m1 -376v1m0 37v2m0 80v1m1 -120v6m0 33v1m0 79v1m1 -118v5m0 33v1m1 -33v1m0 31v1m0 78v1m1 -111v2m0 29v1m1 0v1m1 -31v1m0 28v1m1 -31v2m0 108v1m1 -110v1m0 26v2m0 80v2m1 -111v1m0 28v1m0 82v1m1 -113v1m0 29v1m0 81v1m1 -113v2m0 29v2m0 80v3m0 57v1m1 -174v1m0 32v1m1 -35v3m0 32v1m0 83v1m1 -123v2m0 37v1m0 138v1m1 -180v1m0 39v1m0 82v1m0 55v1m1 -188v1m0 1v1m0 6v1m0 38v1m1 -50v5m0 1v1m0 3v2m0 37v1m1 -50v1m0 6v2m0 3v2m0 118v1m1 -134v2m0 8v1m0 3v1m0 117v1m1 -132v1m0 11v3m0 35v1m0 79v1m1 -131v2m0 48v1m0 80v1m0 59v1m1 -193v4m0 47v1m0 79v1m0 62v1m1 -193v2m0 4v1m1 -8v3m0 46v1m0 79v2m1 -131v7m0 42v1m0 141v1m1 -191v5m0 44v1m0 81v1m1 -130v3m0 44v1m0 82v1m0 56v1m1 -186v1m0 44v1m1 -46v2m0 42v1m0 84v1m0 320v3m1 -459v3m0 3v2m0 42v1m1 -50v4m0 1v2m0 41v2m0 83v1m0 324v3m1 -462v5m0 1v3m0 40v1m0 83v1m1 -133v2m0 1v5m0 40v1m0 82v1m0 314v3m1 -447v2m0 1v1m0 124v1m1 -127v6m0 39v1m0 80v1m1 -126v5m1 -3v1m0 39v1m0 81v1m0 70v1m1 -193v1m0 119v1m0 70v1m1 -199v4m0 1v4m1 -8v1m0 2v7m0 117v1m1 -131v3m0 2v8m0 118v1m1 -131v7m0 2v4m1 -12v2m0 1v3m0 42v1m0 81v1m1 -130v2m0 45v1m1 -47v1m0 5v1m0 39v2m0 80v1m1 -127v2m0 43v1m0 407v3m1 -460v3m0 1v2m0 43v1m0 80v1m1 -132v1m0 1v1m0 1v5m0 41v1m0 79v1m1 -132v2m0 6v2m0 42v1m0 156v1m0 152v2m1 -363v1m0 50v1m0 69v1m0 89v1m0 147v2m0 2v2m1 -365v1m0 50v1m0 67v2m0 1v3m0 235v5m1 -365v2m0 49v1m0 65v1m0 241v6m1 -365v3m0 48v1m0 65v1m0 240v8m1 -368v3m0 51v1m0 63v1m0 100v1m0 140v11m1 -372v1m0 1v3m0 50v1m0 62v2m0 241v7m0 5v1m1 -374v1m0 119v1m0 97v1m0 149v3m0 4v2m0 84v3m1 -463v2m0 119v1m0 95v1m0 159v1m1 -377v1m1 -2v2m0 51v3m0 67v1m1 -124v2m0 50v1m0 162v1m1 -216v1m0 51v1m0 69v1m1 -124v2m0 51v1m0 68v1m1 -122v1m0 51v1m0 68v1m1 -121v1m0 49v1m0 67v2m0 97v2m1 -220v2m0 119v1m0 98v1m0 3v1m0 6v1m0 1v1m0 2v2m1 -239v3m0 48v1m0 69v3m0 97v2m0 1v3m0 6v2m1 -236v3m0 1v2m0 46v1m0 68v1m0 1v2m0 98v6m1 -231v2m0 53v2m0 65v1m0 104v4m0 4v1m1 -235v1m0 54v1m0 65v1m0 103v1m0 3v1m0 3v2m1 -235v2m0 54v1m0 64v2m0 101v1m1 -224v3m0 117v1m1 -123v4m0 118v1m1 -122v4m0 117v3m0 98v1m1 -223v3m0 53v1m0 64v5m0 9v3m0 83v1m1 -224v6m0 53v1m0 76v1m0 84v1m1 -221v10m0 49v1m0 66v1m0 3v6m0 5v1m0 77v1m0 247v3m1 -474v12m0 51v1m1 -65v1m0 7v2m0 1v3m0 50v1m0 82v1m0 76v1m1 -224v2m0 3v3m0 1v1m0 2v1m0 50v1m0 83v1m0 74v1m1 -223v2m0 5v1m0 1v1m0 1v2m0 1v1m0 47v1m0 85v1m0 73v1m1 -222v1m0 7v3m0 49v1m0 86v1m0 69v2m1 -216v1m0 5v4m0 134v1m0 65v4m1 -214v3m0 54v1m0 86v1m0 63v2m0 151v2m1 -362v2m0 205v1m0 151v4m1 -362v2m0 52v1m0 88v1m0 58v3m0 151v1m0 6v2m1 -364v3m0 50v1m0 148v1m0 152v1m0 8v1m1 -371v1m0 3v5m0 137v1m0 215v1m0 8v1m1 -373v4m0 4v4m0 47v1m0 85v2m0 216v1m0 9v4m1 -375v10m0 47v1m0 83v2m0 64v1m0 152v1m0 15v1m1 -375v2m0 4v2m0 47v1m0 79v1m0 3v6m0 60v1m0 152v1m0 16v2m0 87v3m1 -470v1m0 1v2m0 7v1m0 46v1m0 74v5m0 11v6m0 54v3m0 149v1m0 19v1m1 -381v6m0 6v4m0 116v3m0 76v2m0 138v8m0 20v1m1 -379v6m0 122v2m0 83v4m0 133v1m1 -350v6m0 49v1m0 72v1m0 86v2m0 133v1m0 27v1m1 -377v1m0 3v2m0 47v1m0 73v2m0 85v1m0 135v1m1 -347v2m0 47v1m0 74v2m0 70v3m0 11v2m1 -212v4m0 45v1m0 75v2m0 64v5m0 3v1m0 11v2m0 159v1m1 -373v5m0 44v1m0 77v1m0 62v1m0 9v1m0 10v1m0 160v1m1 -374v1m0 129v1m0 59v1m0 11v2m0 8v1m0 131v2m1 -346v1m0 130v1m0 19v2m0 3v4m0 43v1m0 7v2m0 130v1m0 29v1m1 -373v1m0 45v1m0 1v1m0 83v2m0 25v10m0 17v2m0 14v1m0 7v2m0 128v3m1 -343v1m0 46v2m0 84v4m0 22v11m0 17v1m0 15v1m0 6v1m0 129v1m1 -341v2m0 45v1m0 83v8m0 31v2m0 2v5m0 8v1m0 15v2m0 5v2m0 128v1m0 31v1m1 -374v2m0 46v1m0 86v2m0 3v9m0 38v1m0 16v1m0 7v2m0 159v1m1 -374v1m0 151v4m0 29v2m0 17v1m0 5v2m0 128v1m0 33v2m1 -376v1m0 48v1m0 86v3m0 14v6m0 9v3m0 14v2m0 16v1m1 -205v1m0 48v1m0 85v6m0 12v24m0 6v4m0 18v1m0 5v1m0 126v2m0 33v1m0 2v3m1 -331v2m0 87v3m0 1v7m0 12v9m0 4v8m0 25v1m0 3v2m0 125v1m0 34v1m1 -374v1m0 49v2m0 87v2m0 6v6m0 14v9m0 3v3m0 25v1m0 3v2m0 123v2m0 34v1m1 -372v1m0 49v1m0 87v6m0 3v2m0 3v4m0 22v3m0 25v6m0 121v1m0 35v2m1 -371v1m0 49v1m0 87v3m0 7v6m0 53v4m0 121v1m0 37v2m0 82v3m1 -456v1m0 48v1m0 90v6m0 3v4m0 218v1"/>
<path stroke="#00b2ff" d="M170.5 408v1m0 76v2m0 4v1m0 6v3m0 1v6m0 1v5m0 13v8m0 72v2m1 -313v1m0 186v3m0 2v7m0 1v19m0 11v3m0 81v1m1 -314v1m0 194v2m0 1v5m0 3v5m0 5v10m0 3v3m0 85v1m1 -318v1m0 199v2m0 3v5m0 4v3m0 1v3m0 8v3m0 89v1m0 29v3m1 -354v1m0 201v19m0 8v1m0 2v2m0 89v5m1 -328v1m0 203v13m0 1v3m0 10v3m0 133v1m1 -367v1m0 205v4m0 3v4m0 12v2m1 -229v2m0 213v5m0 5v4m0 101v2m1 -330v2m0 216v4m0 108v2m1 -332v4m0 330v3m1 -339v10m0 329v1m1 -339v1m0 7v5m0 329v1m1 -344v1m0 3v4m0 4v3m0 329v1m1 -346v3m0 4v5m0 335v5m1 -352v2m0 348v1m0 4v3m1 -359v3m0 349v1m1 -349v2m1 2v1m1 3v5m1 -4v3m1 -1v3m0 2v4m1 -17v1m0 2v2m0 7v10m1 -25v2m0 2v1m0 3v4m0 1v20m1 -31v2m0 20v8m1 -28v1m0 350v3m1 -354v3m1 -1v2m1 -5v3m1 -3v1m1 -2v2m1 0v2m0 343v3m1 -348v2m0 346v3m1 -350v3m1 -1v2m0 337v3m1 -340v2m1 0v1m1 98v1m2 -98v1m1 323v3m1 -328v1m1 -2v1m1 -3v2m1 -3v2m1 -1v1m1 -1v4m1 -2v2m0 339v3m1 -344v7m1 -15v1m0 2v3m0 4v2m0 337v3m1 -352v2m1 -1v2m1 -3v4m1 -5v4m1 -3v7m1 -7v6m1 -2v6m0 4v3m0 263v1m1 -270v10m0 259v6m1 -268v3m0 259v1m0 7v1m1 -284v5m0 8v4m0 259v1m0 10v2m1 -289v12m0 4v2m0 259v3m0 10v1m1 -292v12m0 270v2m0 7v1m1 -292v11m0 1v2m0 271v1m0 6v1m1 -293v5m0 1v9m0 270v4m0 6v3m1 -300v1m0 8v4m0 261v1m0 2v2m0 1v11m0 9v1m1 -302v2m0 269v4m0 5v1m0 8v2m0 14v2m1 -307v1m0 266v4m0 1v1m0 33v2m1 -308v1m0 267v1m0 6v3m0 6v2m0 2v1m0 18v1m1 -309v1m0 268v4m0 2v2m0 13v11m0 9v1m0 41v3m1 -83v2m0 3v4m0 20v5m0 5v2m0 33v3m1 -350v1m0 273v3m0 5v6m0 14v2m0 3v3m0 3v2m1 -39v2m0 13v11m0 8v5m1 -317v1m0 275v2m0 2v2m0 22v14m0 34v3m1 -80v3m0 24v2m0 4v12m1 -41v2m0 22v6m0 5v3m1 -321v1m0 287v2m0 18v6m1 -315v1m0 292v2m0 8v6m0 3v6m1 -321v2m0 294v4m0 7v14m0 39v3m1 -365v2m0 295v1m0 5v2m0 9v5m0 4v5m0 5v1m1 -335v1m0 130v2m0 167v3m0 1v2m0 25v13m1 -344v1m0 303v4m0 16v4m0 2v3m0 27v6m1 -365v1m0 306v2m0 22v2m1 -333v1m0 307v6m0 8v1m0 3v3m0 1v1m1 -332v1m0 313v9m0 1v1m1 -325v1m0 318v5m1 -325v1m1 -1v1m1 -1v1m1 0v1m1 -1v1m1 -2v1m1 -1v1m1 -1v1m1 0v1m2 -1v1m1 -1v1m0 359v3m1 -362v1m1 -1v1m1 -2v1m3 -2v1m1 0v1m1 -1v1m1 -1v1m1 -1v1m1 -2v1m1 -2v1m1 -3v2m1 -4v1m1 -1v1m0 371v3m1 -376v1m2 -5v4m1 -3v3m1 -4v1m1 -1v1m1 -1v1m1 -2v1m1 -1v1m1 -1v2m1 -3v2m1 -1v2m1 -2v2m1 -3v1m1 0v2m1 -2v2m1 -2v1m1 -1v2m1 -1v2m1 -2v2m0 372v3m1 -377v1m1 1v1m1 -2v1m0 372v3m1 -376v1m1 -2v1m0 370v3m1 -374v1m1 0v1m1 -1v1m1 -1v1m1 -1v1m1 -2v2m1 -4v1m0 372v3m1 -377v1m1 -2v2m1 -3v3m0 3v2m1 -5v3m0 4v1m1 0v1m1 2v1m2 218v1m1 -8v2m0 4v5m1 -225v2m0 212v5m0 1v5m1 -225v1m0 146v1m0 71v3m1 -223v1m0 364v3m1 -367v1m1 0v1m2 -2v1m2 145v1m1 -145v1m0 144v1m2 -1v1m1 -155v2m0 1v2m0 366v3m1 -376v2m1 -2v1m0 375v3m2 -378v1m0 371v3m1 -374v1m1 -1v1m1 -1v1m1 -2v1m1 0v1m1 0v2m1 -2v2m1 -3v2m1 -3v1m1 -1v2m0 373v3m1 -379v1m1 372v3m1 -3v3m1 -376v1m1 -1v1m1 0v1m0 371v3m2 -375v1m1 -2v1m2 0v1m1 0v1m0 373v3m1 -378v1m1 -2v1m1 -1v1m0 147v1m2 -148v1m1 0v1m1 -2v1m1 0v1m1 373v3m1 -375v1m1 0v1m1 0v1m0 153v1m0 215v3m1 -373v1m1 -2v2m1 -1v1m1 -1v2m0 368v3m1 -374v2m1 -3v1m2 0v1m1 0v1m1 0v1m1 2v1m1 157v1m1 -156v1m3 2v1m1 1v1m1 1v1m0 358v3m1 -360v1m1 -1v1m1 -1v1m2 1v1m1 0v1m1 1v1m2 144v1m1 0v1m1 -144v1m2 -1v1m3 -2v1m3 -5v1m1 -1v1m1 -1v1m1 -2v1m2 351v3m5 -362v1m1 -68v1m0 66v1m1 -1v1m1 -77v1m0 74v2m1 -2v1m1 -76v4m0 71v1m1 -75v5m1 -4v4m0 69v1m1 -72v5m0 420v3m1 -428v5m0 65v1m1 -69v5m0 63v1m1 -70v6m0 63v1m0 354v3m1 -426v3m0 2v1m0 62v1m1 -69v6m0 62v1m1 -67v3m0 64v1m1 -68v3m0 65v1m1 -69v3m0 66v1m1 -69v3m1 64v1m1 -2v1m1 -1v1m2 1v1m1 0v1m0 192v2m1 -194v1m0 192v4m1 -197v1m0 193v6m1 -3v5m2 -201v1m1 0v1m1 0v1m0 352v3m2 -355v1m3 0v1m2 -1v1m0 193v5m1 -6v8m1 -9v8m1 -4v2m1 -202v1m1 196v5m1 -203v1m0 197v8m1 -206v1m0 195v4m0 3v3m1 -207v1m0 198v7m0 151v3m1 -162v2m0 5v3m1 -11v2m0 9v1m1 -13v6m0 7v1m1 -210v1m0 195v2m0 10v2m1 -211v1m0 196v2m0 8v2m1 -212v1m0 196v1m0 10v2m1 -210v1m0 196v1m0 12v1m1 -14v1m0 12v1m0 144v3m1 -358v1m0 196v1m0 11v3m1 -16v1m0 12v3m1 -16v1m0 10v2m1 -204v1m0 156v1m0 44v2m0 146v3m0 3v3m1 -357v1m0 187v2m1 -2v1m0 17v1m1 -206v1m0 186v1m0 15v4m0 143v3m1 -352v1m0 186v2m0 12v3m1 -203v1m0 187v15m1 -16v7m0 5v5m1 -200v1m0 180v7m0 7v3m1 -196v1m0 177v2m0 8v3m0 1v3m1 -194v1m0 174v1m0 9v8m1 -192v1m0 101v5m0 67v1m0 14v2m1 -91v6m0 68v1m0 15v2m1 -191v1m0 102v3m0 11v1m0 1v1m0 2v1m0 49v1m0 18v3m1 -22v1m0 21v2m1 -24v1m0 19v3m1 -80v1m0 56v1m0 20v1m1 -191v2m0 167v1m0 19v4m1 -24v1m0 21v3m1 -191v1m0 165v1m0 20v1m0 3v2m1 -28v1m0 23v2m1 -27v1m0 20v6m1 -3v3m1 -3v4m1 -3v4m1 -29v1m0 26v2m1 -197v1m0 190v1m0 2v2m1 -196v1m0 167v1m0 25v2m1 -26v1m0 25v2m1 -28v1m0 16v8m1 -5v2m1 -196v1m0 173v1m1 -2v1m0 24v1m1 -202v1m0 175v1m0 27v1m1 1v2m1 -5v6m1 -210v1m0 202v7m1 -34v1m0 28v5m1 -211v1m0 62v1m0 3v1m0 110v1m0 25v3m1 -136v1m0 132v5m1 -211v1m0 63v1m0 9v1m0 105v1m0 25v6m1 -149v1m0 117v1m0 30v2m1 -214v1m0 75v1m0 135v2m1 0v1m1 -218v1m0 96v2m0 86v1m0 31v1m1 -218v2m0 78v2m0 4v5m0 4v5m0 86v1m0 30v1m1 -219v1m0 80v3m0 2v2m0 2v5m0 1v1m0 90v1m0 30v1m1 -220v1m0 82v3m0 2v7m0 94v1m0 29v2m1 -222v1m0 76v1m0 4v1m0 5v8m0 2v1m0 122v2m1 -308v3m0 81v1m0 73v4m0 1v3m0 7v4m0 6v2m0 91v1m0 29v2m1 -309v4m0 81v1m0 82v1m0 1v14m0 94v1m0 30v1m1 -310v2m0 1v6m0 153v1m0 6v3m0 7v11m0 119v1m1 -309v6m0 3v2m0 74v1m0 77v1m0 3v2m0 7v1m0 1v4m0 3v2m0 89v1m0 31v1m1 -309v3m0 8v1m0 166v3m1 -182v2m0 2v1m0 7v2m0 73v1m0 93v3m0 125v1m1 -313v7m0 10v1m0 71v1m0 71v1m0 24v4m0 120v1m0 129v3m1 -442v6m0 11v2m0 69v1m0 95v7m0 89v1m0 26v1m1 -307v7m0 12v1m0 67v1m0 72v1m0 29v2m0 51v1m1 -250v4m0 3v9m0 9v1m0 139v1m0 32v2m0 53v1m1 -253v5m0 3v8m0 9v1m0 138v1m0 33v1m0 54v1m1 -253v4m0 4v1m0 3v1m0 13v1m0 62v1m0 109v3m0 51v1m0 188v3m1 -445v5m0 5v2m0 3v2m0 9v1m0 61v1m0 114v1m0 50v1m1 -247v1m0 3v7m0 8v1m0 60v1m0 115v1m0 76v1m0 169v3m1 -447v1m0 1v1m0 2v3m0 1v1m0 2v8m0 136v1m0 42v2m0 45v1m0 55v1m1 -302v1m0 8v5m0 67v1m0 73v1m0 45v1m0 42v1m0 28v1m1 -119v1m0 46v1m0 2v1m0 29v1m0 4v1m1 -256v3m0 166v1m0 51v1m0 26v1m0 38v1m1 -286v1m0 93v1m0 72v1m0 116v1m1 -190v1m0 68v1m0 1v1m0 53v1m0 24v1m0 66v1m1 -217v1m0 68v2m0 53v1m0 63v1m1 -120v1m0 118v1m1 -189v1m0 45v1m0 20v2m0 119v1m1 -148v1m0 8v1m0 16v1m0 54v1m0 66v1m0 30v1m1 -153v1m0 53v1m0 67v1m0 27v1m1 -168v1m0 15v1m1 -17v1m0 15v1m0 55v1m0 67v1m1 -256v2m0 61v1m0 37v1m0 13v1m0 15v2m0 55v2m1 -190v4m0 59v1m0 66v3m1 -133v5m0 94v1m0 15v1m0 15v2m0 59v1m0 1v7m0 3v1m0 72v1m1 -276v4m0 54v1m0 38v1m0 15v1m0 17v1m0 121v1m0 20v1m1 -216v1m0 54v3m0 15v2m0 119v1m1 -140v10m0 1v4m0 4v2m0 118v1m0 168v3m1 -365v1m0 36v1m0 15v1m0 6v13m0 139v1m1 -214v1m0 37v1m0 14v1m0 18v1m1 -73v1m0 37v1m0 15v2m0 19v2m1 -77v1m0 36v1m0 17v2m0 3v2m0 8v2m0 4v1m0 116v1m0 16v1m1 -211v1m0 12v2m0 39v2m0 5v1m0 2v8m0 2v2m0 115v1m1 -190v1m0 9v1m0 3v1m0 1v1m0 17v1m0 18v6m0 7v9m0 113v1m1 -189v2m0 8v1m0 3v2m0 2v2m0 39v6m0 3v7m1 -77v2m0 70v5m0 114v2m1 -192v1m0 7v2m0 12v2m0 47v6m0 113v1m0 14v1m0 144v3m0 6v3m1 -362v1m0 6v1m0 18v4m0 46v2m0 112v1m1 -188v2m0 1v1m0 51v2m0 130v1m0 14v1m1 -201v2m0 198v1m1 -139v3m0 120v2m0 13v1m1 -141v4m0 1v11m0 111v1m0 13v1m1 -149v6m0 2v15m0 112v1m0 165v3m1 -307v3m0 2v7m0 11v2m0 114v2m0 160v3m1 -347v3m0 41v8m0 17v2m0 112v3m0 8v1m0 155v3m1 -354v1m0 2v2m0 44v7m0 2v2m0 11v2m0 111v2m0 9v1m1 -195v6m0 47v15m0 1v3m0 111v1m0 11v1m1 -195v4m0 48v19m0 111v2m0 11v1m0 150v3m1 -347v2m0 57v3m0 3v6m0 110v2m0 9v1m1 -192v1m0 38v5m0 11v5m0 4v4m0 2v1m0 110v4m0 5v1m1 -191v3m0 35v4m0 2v10m0 7v3m0 8v1m0 108v5m0 4v2m1 -151v2m0 3v9m0 6v4m0 11v1m0 104v2m0 7v2m1 -148v9m0 3v13m0 3v4m0 104v2m0 2v1m0 3v3m1 -136v17m0 107v1m0 9v2m1 -136v6m0 2v4m0 112v2m0 9v1m0 152v3m1 -306v15m0 4v2m0 1v5m0 113v4m0 4v2m1 -147v7m0 14v2m0 115v3m0 4v1m1 -145v3m0 19v1m0 115v6m1 -145v1m0 1v4m0 19v1m1 -29v3m0 1v3m0 1v3m1 -20v4m0 2v5m0 2v2m0 22v1m0 112v3m1 -157v2m0 3v3m0 31v1m0 112v2m0 3v2m1 -159v3m0 6v4m0 139v2m0 4v2m0 156v3m1 -325v1m0 2v1m0 5v3m0 2v1m0 2v1m0 2v2m0 1v1m0 134v4m0 3v1m1 -169v3m0 15v6m0 1v2m0 133v2m0 6v2m1 -171v3m0 159v2m0 6v1m1 -171v2m0 49v1m0 111v2m0 5v1m1 -170v6m0 9v5m0 30v1m0 112v1m0 5v1m1 -164v13m0 143v1m0 6v1m0 155v3m1 -311v1m0 33v1m0 113v1m0 2v2m1 -148v3m0 27v1m0 27v1m0 85v3m1 -160v2m0 1v1m0 2v2m0 4v4m0 1v3m0 47v1m0 3v1m0 244v3m1 -318v4m0 3v8m0 1v2m0 53v3m1 -67v9m0 139v2m1 -151v1m0 1v1m0 3v8m0 48v1m0 4v2m0 80v1m0 1v2m1 -170v7m0 6v5m0 1v7m0 1v1m0 53v1m0 84v4m1 -170v7m0 5v5m0 1v4m0 142v5m1 -162v2m0 9v6m0 142v3m1 -163v21m0 33v1m0 104v4m1 -165v8m0 1v2m0 4v10m0 2v4m0 25v1m0 103v4m0 161v3m1 -326v1m0 20v9m0 26v2m0 12v1m0 87v7m1 -164v2m0 2v3m0 53v1m0 6v2m0 1v6m0 79v8m1 -157v3m0 70v1m0 76v8m0 155v3m1 -315v4m0 52v2m0 12v1m0 1v1m0 75v5m0 1v2m1 -154v3m0 147v3m1 -155v2m0 2v5m0 64v1m1 -73v2m0 71v3m1 -76v1m0 75v1m1 -78v1m0 78v1m1 -80v1m0 78v1m1 -80v2m0 79v1m1 -82v2m0 147v4m1 -153v1m0 81v1m0 67v1m0 2v2m1 -155v1m0 82v2m0 65v3m0 2v2m0 152v3m1 -313v1m0 84v1m0 65v3m0 1v2m0 150v3m1 -310v1m0 84v1m0 64v6m1 -157v1m0 85v1m0 63v2m0 3v2m0 154v3m1 -164v3m0 4v1m1 -158v1m0 83v1m0 68v2m0 3v1m0 152v3m1 -314v1m0 50v1m0 32v1m0 69v1m1 -155v1m0 54v1m0 27v3m0 69v4m1 -160v1m0 38v1m0 17v1m0 24v1m1 -84v2m0 37v1m0 19v1m0 23v1m1 -86v2m0 39v1m0 19v1m1 -61v1m0 63v2m0 2v1m0 6v3m0 239v3m1 -321v1m0 40v1m0 19v1m0 3v1m0 5v4m1 -33v1m0 17v3m0 252v3m1 -426v2m0 166v1m1 -172v6m0 108v1m0 37v1m0 16v2m1 -170v4m0 146v2m1 -2v1m1 -38v1m0 34v3m0 119v1m1 -123v1m0 121v1m1 -160v1m0 36v1m1 -149v2m0 107v1m0 160v3m1 -166v2m0 162v1m1 -273v5m0 102v1m1 -2v1m0 44v1m1 -2v3m1 -48v1m0 45v7m1 -53v1m0 33v2m0 1v8m0 2v6m0 4v2m0 1v3m1 -171v2m0 106v1m0 33v9m0 2v2m0 2v3m1 -160v3m0 105v1m0 30v3m0 2v5m0 1v1m0 6v3m1 -160v2m0 105v1m0 29v3m0 22v2m0 162v1m1 -326v1m0 104v1m0 30v5m0 11v2m0 14v2m0 153v1m0 2v1m0 104v3m1 -329v1m0 27v3m0 187v3m1 -219v1m0 27v1m1 -28v2m0 27v2m0 2v2m1 -36v1m0 37v9m0 277v3m1 -328v1m0 34v2m0 1v12m0 2v3m1 -55v1m0 33v8m0 4v1m0 2v1m0 3v2m0 117v2m1 -138v6m0 130v1m1 -173v1m0 41v3m1 -45v1m1 35v1m0 4v2m0 1v2m1 -46v1m0 35v4m1 -40v1m0 36v2m1 -39v2m0 38v1m1 -39v1m1 36v1m1 -35v1m0 31v2m1 -34v1m0 30v1m1 -31v2m0 27v1m1 -29v2m1 -1v2m0 25v1m1 -28v2m0 26v1m2 -27v1m0 26v1m1 -27v1m0 25v1m1 -26v3m1 22v1m2 -23v1m0 25v1m1 -27v1m2 0v1m1 -1v1m0 28v1m0 279v3m2 -6v3m1 -309v1m0 30v1m1 4v2m1 -5v3m0 276v3m1 -317v1m0 42v1m0 4v1m1 -6v4m0 2v3m0 256v3m1 -313v1m0 44v11m0 254v3m1 -313v1m0 52v2m1 -56v1m0 54v3m1 0v1m1 -61v1m0 58v1m1 -60v1m0 59v1m0 255v3m1 -319v1m0 58v1m1 -60v1m0 57v3m1 -60v1m0 59v2m1 -62v1m0 59v3m1 -62v1m0 59v2m1 -63v1m0 58v5m1 -64v1m0 54v1m0 4v5m1 -10v6m1 -64v1m0 56v1m1 -2v1m1 -58v1m0 55v2m1 -59v2m1 -4v1m1 -2v1m1 -1v1m1 -2v1m1 -1v1m1 -3v1m1 -1v1m2 -2v1m1 -3v1m1 0v1m2 -2v1m1 52v1m1 -56v1m0 55v1m2 271v3m1 -330v1m2 0v1m1 -1v1m0 63v2m1 -66v2m0 64v1m1 -69v2m0 68v2m1 -72v1m0 71v1m0 261v3m1 -336v1m0 72v2m0 4v2m1 -81v1m0 79v1m1 -1v1m1 -2v2m0 249v3m1 -334v1m0 73v1m1 -75v1m0 70v1m1 -72v1m0 64v6m1 -70v1m0 55v1m1 -57v1m1 -1v1m1 -1v1m1 -2v1m0 330v3m1 -439v2m0 103v1m1 -106v3m1 -1v2m0 102v1m0 52v1m1 -157v3m0 153v1m1 -157v1m0 1v1m1 1v1m0 99v1m1 -100v2m0 97v1m1 -98v1m1 97v3m0 49v1m1 -51v2m1 -2v1m0 49v1m1 -50v1m1 -115v10m0 105v1m1 -124v5m0 1v4m0 2v2m0 1v4m0 103v1m1 -123v8m0 5v1m0 1v4m0 103v1m1 -124v7m0 7v3m0 106v2m1 -123v8m0 6v3m0 1v3m0 99v1m1 -120v2m0 1v1m0 11v6m0 99v1m1 -120v3m0 12v2m0 101v1m0 57v1m1 -176v2m0 1v1m0 2v1m0 1v4m0 2v2m0 102v1m1 -119v5m0 10v2m0 102v1m1 -124v4m0 4v6m0 1v1m0 5v2m0 100v1m1 -125v5m0 7v2m0 2v4m0 2v3m0 99v1m1 -125v5m0 8v1m0 10v1m1 -23v7m0 6v5m0 4v1m0 97v1m0 319v3m1 -454v4m0 7v7m0 8v7m0 98v2m1 -132v3m0 1v1m0 1v1m0 6v6m0 1v3m0 5v3m0 100v3m1 -134v7m0 6v3m0 3v3m0 3v1m0 2v1m0 1v1m0 103v2m1 -134v6m0 7v2m0 3v2m0 109v5m1 -133v2m0 1v3m0 5v4m0 1v4m0 105v1m0 53v1m1 -180v7m0 7v8m0 103v1m1 -127v10m0 8v7m0 2v3m0 99v2m0 50v1m1 -183v1m0 5v6m0 9v6m0 104v5m1 -137v1m0 2v3m0 2v4m0 3v2m0 5v8m0 102v7m0 317v3m1 -458v6m0 3v3m0 2v3m0 4v10m0 100v3m0 2v2m0 317v3m1 -456v10m0 4v4m0 2v8m0 101v6m1 -137v12m0 1v6m0 5v6m0 104v3m0 59v4m0 1v1m1 -199v4m0 2v1m0 1v1m0 5v5m0 5v4m0 105v1m0 65v2m1 -206v1m0 1v10m0 1v13m0 3v4m0 106v1m0 65v1m1 -207v2m0 3v24m0 178v3m1 -208v2m0 1v1m0 4v1m0 4v5m0 2v8m0 113v1m0 66v1m0 244v3m1 -455v2m0 12v10m0 1v2m0 116v1m0 61v4m1 -208v1m0 7v1m0 4v14m0 115v1m1 -140v2m0 8v5m0 2v4m0 119v2m1 -142v3m0 5v1m0 3v4m0 4v2m0 118v2m0 52v6m1 -198v2m0 7v6m0 3v2m0 1v2m0 114v1m1 -137v3m0 4v7m0 5v1m0 1v3m0 113v1m0 51v1m1 -188v12m0 6v1m0 1v1m0 114v1m0 48v1m1 -182v1m0 1v8m0 3v1m0 99v2m0 17v2m0 46v1m0 3v1m1 -181v9m0 95v1m0 6v3m0 13v1m0 50v1m1 -173v4m0 94v7m0 15v1m1 -119v7m0 88v3m0 9v1m0 10v1m1 -117v3m0 90v1m0 12v2m0 6v1m1 -114v2m0 88v1m0 15v1m0 5v1m1 -23v2m0 17v4m1 -23v2m0 56v1m1 -60v1m0 58v1m1 -144v2m0 82v1m0 59v1m1 -144v2m0 81v1m0 59v1m1 -144v4m0 79v3m1 1v2m0 12v2m1 -101v1m0 84v4m0 3v3m0 3v3m1 -20v6m0 7v2m0 5v6m1 -106v3m0 77v1m0 20v4m1 -103v1m0 99v5m1 -139v5m0 129v9m1 -141v4m0 109v4m0 3v1m0 6v3m0 2v2m0 4v6m1 -141v2m0 106v4m0 3v8m0 326v3m1 -452v2m0 106v4m0 1v5m1 -118v2m0 108v8m1 -10v7m0 3v3m1 -13v1m1 -1v1m0 63v1m1 -65v1m0 63v1m1 -65v2m1 -1v1m1 0v1m1 0v1m1 -1v1m0 66v2m1 -184v4m1 -1v1m0 1v1m0 109v1m1 -112v3m0 107v1m1 -109v1m0 107v1m0 70v1m1 -179v2m0 104v1m1 -106v4m0 101v1m0 71v1m1 -178v1m0 3v2m0 436v3m1 -444v7m0 97v1m0 71v1m1 -177v7m0 171v1m1 -180v12m0 168v1m1 -182v4m0 3v5m0 91v1m0 80v1m1 -183v7m0 2v2m0 89v1m0 337v3m1 -439v1m0 7v2m0 170v1m1 -199v3m0 15v3m0 4v6m0 170v1m1 -203v7m0 11v14m0 85v1m1 -118v4m0 3v2m0 6v4m0 5v1m0 1v7m0 84v1m0 85v1m1 -200v6m0 1v1m0 1v6m0 1v14m0 84v1m0 80v1m1 -196v1m0 7v7m0 4v6m0 2v3m0 84v1m1 -114v4m0 5v3m0 2v6m0 2v3m0 1v2m0 83v1m1 -116v3m0 5v1m0 5v6m0 4v2m0 2v5m0 160v1m1 -194v4m0 5v2m0 10v7m0 1v4m0 82v1m1 -116v6m0 1v1m0 1v1m0 1v2m0 10v6m0 2v2m0 156v1m1 -190v3m0 21v7m0 2v2m0 81v1m1 -115v2m0 5v1m0 14v7m0 3v1m0 82v1m1 -113v3m0 18v1m0 1v7m0 82v1m0 71v1m1 -184v2m0 8v2m0 11v2m0 5v1m0 81v1m1 -124v9m0 3v2m0 11v1m0 14v1m0 83v1m1 -124v13m0 10v7m0 7v2m0 85v2m0 66v1m1 -191v13m0 8v5m0 9v2m0 86v1m1 -122v3m0 5v4m0 22v1m0 87v1m0 65v1m0 268v3m1 -458v2m0 9v1m0 10v2m0 9v1m0 85v1m1 -120v5m0 6v2m0 9v3m0 10v2m0 83v1m0 64v1m1 -180v1m0 7v2m0 10v1m0 6v1m0 2v3m0 81v1m1 -114v1m0 31v1m0 80v1m0 63v1m1 -176v1m0 17v4m0 8v1m0 80v1m1 -92v2m0 89v1m0 63v1m1 -174v1m0 28v1m0 79v1m0 64v1m1 -174v1m0 19v4m0 2v2m0 80v1m1 -109v2m0 20v6m1 -28v4m0 18v4m0 84v1m1 -111v5m0 20v3m0 84v1m1 -113v5m0 22v2m1 -28v1m0 25v3m0 85v1m1 -116v2m0 28v2m1 -31v3m0 28v1m0 85v1m0 53v1m1 -176v7m0 114v1m1 -124v9m0 4v2m1 -14v9m1 -8v9m0 112v1m0 54v1m1 -188v6m0 7v6m0 29v1m0 139v1m1 -189v2m0 4v2m0 5v6m0 30v1m0 81v1m0 57v1m1 -190v3m0 6v2m0 3v2m1 -15v5m0 5v1m0 1v3m1 -14v6m0 5v5m0 5v1m1 -22v4m0 1v4m0 5v2m0 30v1m0 80v1m0 61v1m1 -190v8m0 37v1m1 -42v2m0 3v2m0 23v2m0 92v1m1 -126v5m0 1v3m0 23v2m0 93v1m1 -128v4m0 3v5m0 31v1m1 -44v8m0 4v1m0 30v1m0 84v1m0 54v1m0 268v3m1 -454v12m0 29v1m1 -42v8m0 1v5m0 27v1m0 85v1m0 54v1m0 265v3m1 -451v6m0 1v7m0 25v2m0 144v1m1 -185v5m0 2v4m0 28v1m1 -46v1m0 5v3m0 121v1m0 61v1m1 -191v1m0 1v3m0 11v2m0 26v1m0 82v1m1 -122v1m0 9v5m0 23v1m0 146v1m1 -186v2m0 35v1m0 82v1m0 68v1m0 255v3m1 -450v5m0 117v1m1 -122v1m0 37v1m0 81v1m1 -120v2m0 36v2m0 79v1m1 -127v2m0 7v1m0 36v1m0 80v1m0 67v1m0 262v3m1 -452v2m0 35v1m0 147v1m1 -191v2m0 4v2m0 34v1m0 81v1m1 -129v1m0 3v8m0 33v1m0 148v1m1 -194v12m0 31v2m0 83v1m1 -129v5m0 1v6m0 31v2m0 83v1m0 65v1m1 -192v6m0 2v1m0 33v1m0 82v1m0 66v1m1 -193v3m0 39v1m0 150v1m1 -200v1m0 1v1m0 5v3m0 119v1m0 71v1m1 -203v2m0 1v3m0 2v2m0 39v1m0 78v1m0 233v1m1 -363v2m0 4v5m0 38v1m0 75v2m0 233v2m0 95v3m1 -460v1m0 7v4m0 108v1m0 3v1m0 87v2m1 -213v2m0 6v5m0 103v1m1 -116v2m0 7v3m0 35v1m0 67v2m0 96v1m1 -216v4m0 10v2m0 34v1m0 65v1m0 98v1m1 -219v1m0 3v5m0 8v3m0 99v1m0 97v1m0 149v5m1 -372v10m0 44v1m0 65v1m1 -119v6m0 47v1m0 66v1m0 93v1m1 -215v3m0 1v4m0 45v1m0 67v1m0 92v1m1 -215v2m0 48v1m0 71v1m0 90v1m1 -214v2m0 47v1m0 71v1m1 -123v4m0 46v1m0 71v1m0 91v1m1 -215v5m0 44v2m0 70v1m0 93v1m1 -216v8m0 42v1m0 70v1m1 -121v8m0 40v1m0 70v2m0 94v1m1 -216v1m0 47v1m0 71v2m0 93v3m0 12v1m1 -231v3m0 44v1m0 73v3m0 93v1m1 -219v1m0 2v2m0 43v1m0 70v1m0 2v4m0 93v1m1 -223v9m0 43v1m0 68v1m0 101v2m1 -225v11m0 41v2m0 67v1m0 100v2m1 -223v5m0 3v3m0 42v1m0 67v1m0 99v1m0 239v3m1 -462v2m0 1v2m0 45v2m0 66v2m0 99v1m1 -221v1m0 5v1m0 45v1m0 66v4m0 8v2m0 87v1m1 -220v1m0 5v2m0 43v1m0 68v15m1 -136v3m0 49v1m0 70v9m0 3v1m0 81v1m1 -217v3m0 49v1m0 67v2m0 4v4m0 4v1m0 78v2m1 -210v1m0 4v2m0 41v1m0 68v3m0 12v1m0 75v1m1 -211v3m0 47v1m0 83v1m0 76v1m1 -224v4m0 5v1m0 3v2m0 132v1m0 74v1m1 -221v3m0 5v2m0 1v4m0 45v1m0 85v1m1 -147v5m0 1v1m0 1v1m0 2v1m0 1v3m0 42v2m0 87v1m0 69v1m0 1v1m1 -220v3m0 2v2m0 3v6m0 42v1m0 88v1m0 65v3m1 -213v3m0 1v1m0 4v1m0 2v3m0 40v2m0 87v1m0 59v2m0 1v2m0 254v3m1 -464v2m0 1v1m0 1v3m0 45v1m0 88v1m0 59v3m1 -205v2m0 5v3m0 43v1m0 88v1m0 58v4m0 256v3m1 -463v2m0 4v6m0 38v2m0 90v1m0 54v3m0 155v6m1 -359v3m0 45v2m0 89v1m0 57v2m0 154v1m0 5v2m1 -361v4m0 44v3m0 87v2m0 58v2m0 154v1m0 6v1m1 -360v2m0 133v2m0 60v1m0 154v2m0 5v2m1 -361v3m0 9v1m0 120v4m0 58v2m0 154v1m0 13v1m1 -372v4m0 2v3m0 134v7m0 2v2m0 35v4m0 6v4m0 154v1m1 -359v7m0 1v6m0 120v11m0 6v4m0 33v17m0 153v2m0 14v3m0 80v3m1 -457v6m0 4v2m0 39v1m0 77v6m0 2v11m0 4v5m0 31v8m0 1v8m0 148v2m0 16v2m1 -372v10m0 40v1m0 73v5m0 2v8m0 1v2m0 4v2m0 42v17m0 138v6m0 21v1m1 -372v4m0 3v5m0 111v7m0 60v4m0 9v6m0 136v2m0 24v1m1 -370v2m0 6v1m0 114v9m0 61v8m0 5v2m0 137v3m0 21v1m1 -370v2m0 44v1m0 77v2m0 2v4m0 45v9m0 4v4m0 3v3m0 6v2m0 137v1m0 23v1m1 -368v4m0 119v2m0 5v1m0 49v4m0 2v1m0 9v11m0 136v1m1 -343v4m0 32v1m0 6v1m0 79v2m0 15v5m0 38v2m0 11v4m0 2v4m0 135v1m0 24v1m1 -372v7m0 35v2m0 3v2m0 81v1m0 14v14m0 29v1m0 14v3m0 3v2m0 134v1m0 25v1m1 -372v1m0 4v2m0 3v4m0 29v6m0 82v2m0 16v1m0 2v3m0 4v11m0 16v2m0 15v7m0 133v2m1 -344v2m0 4v8m0 29v2m0 1v1m0 86v5m0 8v3m0 1v1m0 1v6m0 10v2m0 10v5m0 17v7m0 133v2m0 27v1m1 -372v2m0 6v3m0 3v2m0 28v2m0 90v4m0 4v14m0 11v4m0 11v2m0 17v6m0 131v2m0 29v1m1 -371v1m0 12v3m0 27v2m0 92v31m0 2v2m0 5v1m0 6v1m0 18v5m0 131v1m0 119v3m1 -463v1m0 44v1m0 101v8m0 4v9m0 1v13m0 1v2m0 18v2m0 2v3m0 129v1m1 -341v3m0 44v1m0 107v29m0 20v5m0 131v1m0 31v1m1 -373v2m0 40v2m0 2v2m0 110v9m0 3v7m0 4v3m0 19v2m0 3v2m0 129v2m0 31v1m0 1v1m0 80v3m1 -459v2m0 42v4m0 128v6m0 23v5m0 129v2m0 29v2m1 -373v2m0 44v2m0 92v1m0 28v4m0 34v3m0 128v3m0 30v1m1 -372v2m0 45v2m0 91v6m0 61v3m0 127v2m0 2v5m0 24v1m1 -370v1m0 45v3m0 94v3m0 187v2m0 31v2m1 -368v1m0 44v4m0 91v7m0 185v1m0 33v3m1 -368v1m0 44v3m0 283v1m0 35v3"/>
<path stroke="#00ccff" d="M170.5 296v1m0 190v4m0 1v6m0 3v1m0 12v13m0 82v2m1 -314v1m0 188v2m0 7v1m0 19v11m0 85v4m0 50v1m1 -368v2m0 200v3m0 20v3m0 89v3m0 36v3m1 -359v1m0 200v3m0 12v1m0 3v8m0 93v2m1 -323v1m0 219v8m0 1v2m0 96v1m1 -328v2m0 214v1m0 3v3m0 3v4m0 98v1m0 24v3m1 -355v2m0 214v6m0 4v2m0 101v3m0 20v3m1 -352v2m0 216v5m1 -221v2m1 0v2m1 2v4m0 326v2m1 -328v2m0 328v1m1 -344v3m0 11v5m0 325v1m1 -344v4m0 5v9m1 -19v3m0 2v2m0 7v5m0 91v1m0 238v1m1 -350v2m0 107v1m0 240v3m1 -350v4m0 101v1m1 -103v6m1 2v7m0 2v2m1 -12v8m0 1v6m1 -13v2m0 4v7m1 -2v6m1 -29v2m0 1v3m0 4v1m0 92v1m1 -102v12m0 4v4m0 8v3m1 -30v2m0 20v1m0 2v5m0 70v1m1 -99v5m0 11v1m1 -16v5m0 9v2m1 -18v3m0 18v6m1 -29v4m1 -4v6m0 97v1m1 -102v3m0 99v1m1 -103v2m0 102v1m1 -103v2m0 339v3m1 -343v3m0 98v1m1 -100v2m0 97v1m1 -99v1m1 -1v2m1 -1v1m1 0v1m0 92v1m0 2v1m1 -98v1m1 -1v1m0 92v1m1 -95v2m0 91v1m1 -95v2m1 -3v2m0 93v1m1 -96v2m2 1v5m1 0v2m1 -11v4m0 2v6m0 83v1m0 241v3m1 -344v2m1 -1v6m0 92v1m1 -98v6m1 -7v14m1 -10v9m1 -10v11m0 86v1m1 -94v4m0 3v3m2 1v4m0 82v1m0 173v2m0 3v2m1 -266v5m0 82v1m0 172v2m0 4v4m1 -275v4m0 2v3m0 85v1m0 173v2m0 6v2m1 -279v2m0 95v1m0 174v1m1 -271v3m0 94v1m0 1v1m0 172v2m0 3v1m1 -287v1m0 9v2m0 272v6m1 -296v8m0 4v5m0 273v2m0 6v1m1 -299v7m0 1v4m0 261v5m0 1v8m0 2v5m0 7v2m1 -304v2m0 1v5m0 262v1m0 1v27m0 5v1m1 -305v1m0 126v1m0 140v6m0 5v4m0 5v12m0 5v1m1 -307v1m0 271v2m0 26v3m0 4v2m1 -310v1m0 273v3m0 29v5m0 38v3m1 -352v1m0 275v5m0 28v3m1 -313v1m0 277v4m0 1v8m0 59v3m1 -73v1m0 6v10m0 1v4m1 -306v1m0 279v4m0 11v9m0 2v4m1 -311v1m0 283v3m0 12v7m0 10v1m1 -28v2m0 9v7m0 48v3m1 -359v1m0 293v3m0 3v2m0 6v3m1 -313v2m0 296v2m0 3v2m1 -307v2m0 294v5m0 2v9m0 5v4m0 5v5m1 -333v2m0 300v1m0 2v3m0 6v16m1 -330v1m0 306v2m0 10v4m0 4v2m1 -328v1m0 307v5m0 7v2m0 3v5m1 -330v2m0 311v4m0 1v3m0 1v3m1 -326v2m1 -2v1m1 -2v2m0 128v1m1 -131v2m1 -2v2m1 -1v1m1 -1v2m1 -3v1m0 362v3m1 -366v1m1 -1v1m1 0v1m1 -2v1m2 0v1m1 0v1m1 -1v1m1 -2v1m0 135v1m1 -138v1m1 -1v1m1 -1v1m1 0v1m0 364v3m1 -368v1m1 -1v1m0 355v3m1 -359v1m1 -2v1m1 -2v1m1 -2v2m1 -5v1m1 -1v1m1 -2v1m1 -2v1m0 369v3m1 -373v1m1 -1v1m1 -4v1m1 -1v2m1 -2v1m1 -2v1m1 -1v3m1 -2v3m1 -4v2m1 -1v2m1 -2v1m0 144v1m1 -148v3m1 -1v2m0 143v1m0 221v3m1 -370v1m1 -2v2m0 139v1m1 -141v1m0 137v1m1 -138v2m0 134v1m1 -137v2m0 367v3m1 -373v1m1 1v1m1 -2v1m1 -1v1m1 -2v1m1 -1v1m1 0v1m0 371v3m1 -375v1m1 -1v1m1 -1v2m1 -2v2m1 -5v4m0 371v3m1 -379v3m1 -3v4m1 -4v3m0 2v2m4 5v1m0 357v3m2 -361v1m0 212v4m1 -218v1m0 216v1m1 -219v1m1 -2v1m3 0v1m0 142v1m1 -144v1m0 143v1m1 -145v1m1 0v1m2 -1v1m1 -3v1m1 -3v2m0 146v1m1 -154v3m1 -4v1m1 -1v1m0 149v1m1 -150v1m2 0v1m1 -1v1m1 147v1m0 221v3m1 -373v1m1 1v1m1 -1v2m0 143v1m1 -147v1m0 143v1m0 224v3m1 -374v2m1 -1v1m1 -3v2m0 145v1m1 -149v1m1 -1v2m0 146v1m1 -148v1m1 -1v1m0 146v1m2 -147v1m0 146v1m1 0v1m1 -150v1m0 150v1m1 -152v1m0 149v1m1 -150v1m0 145v1m1 -146v1m0 142v1m1 220v3m1 -369v1m0 144v1m2 -146v1m0 149v1m2 -149v1m0 149v1m1 -152v1m0 153v1m1 -154v1m1 -1v1m1 1v1m0 150v1m1 -151v1m0 151v1m1 -152v2m1 -2v3m0 149v1m1 -153v2m0 149v1m1 -152v1m1 0v3m1 -4v8m0 143v1m1 -154v1m0 2v6m0 146v1m1 -157v2m0 155v1m1 -156v1m0 156v1m0 212v3m1 -372v1m0 157v1m0 1v1m1 -160v2m0 158v1m1 -158v2m0 156v1m0 209v3m1 -369v1m1 0v1m0 151v1m1 -153v2m0 147v1m1 -151v3m0 146v1m1 -146v1m0 143v1m1 -143v1m1 1v2m1 0v1m1 -1v1m0 349v3m1 -353v1m1 -1v1m1 1v2m0 137v1m0 4v1m1 -144v1m0 143v1m1 -143v2m0 141v1m0 204v3m1 -351v1m1 0v1m1 0v1m0 342v3m1 -207v1m1 -140v1m0 134v1m1 -2v1m1 -134v1m1 -2v1m1 348v3m1 -355v2m1 -3v1m1 -1v1m1 -1v1m1 134v1m1 -1v1m1 -138v1m0 135v1m1 -138v1m1 -2v1m1 -2v1m1 -2v1m1 -2v1m2 -2v1m1 -1v1m0 357v3m1 -361v1m1 -2v1m1 -1v1m1 -2v1m0 148v1m1 2v1m1 -153v1m1 -1v1m1 -1v1m1 -1v1m1 -67v2m0 208v1m2 -144v1m3 0v1m1 148v1m1 -151v1m0 150v1m1 -152v1m0 153v1m1 -155v1m2 153v1m1 2v1m1 0v1m1 -155v1m0 152v1m1 -154v1m1 0v1m1 0v1m2 0v1m2 0v1m5 -1v1m1 -2v1m1 -2v1m1 -2v1m0 144v1m1 -147v1m1 -1v1m1 198v3m2 -204v1m0 199v5m1 -204v1m0 197v9m0 146v3m1 -356v1m0 200v7m1 -208v1m0 196v10m1 -208v1m0 197v8m1 -209v1m0 196v1m0 3v6m1 -10v2m0 8v2m1 -211v1m0 198v2m0 5v5m1 -209v1m0 156v1m0 39v2m0 3v6m1 -207v2m0 155v1m0 37v12m1 -205v2m0 191v2m0 2v6m0 154v3m1 -358v1m0 152v1m0 1v1m0 34v2m0 4v5m1 -10v1m0 8v7m1 -205v1m0 187v2m0 14v1m1 -204v1m0 152v1m0 33v1m0 5v9m1 -201v1m0 151v1m0 35v4m0 1v7m1 -199v1m1 0v1m0 148v1m0 42v5m1 -194v1m0 186v7m1 -93v7m0 73v8m0 3v1m1 -94v12m0 35v1m0 31v2m0 6v1m1 -88v6m0 5v3m0 27v1m0 5v1m0 40v5m1 -188v1m0 94v4m0 6v3m0 18v1m0 60v2m1 -89v3m0 3v3m0 79v3m1 -190v1m0 112v1m0 72v7m1 -80v1m0 73v4m1 -189v1m0 169v1m0 15v4m1 -77v1m0 56v1m0 16v2m0 153v3m1 -343v1m0 111v1m0 73v3m1 -74v1m0 52v1m0 16v3m0 1v3m1 -190v1m0 116v1m0 62v8m1 -188v1m0 118v1m0 60v4m1 -20v1m0 19v3m1 -23v1m0 21v1m1 -189v1m0 165v1m0 21v2m1 -191v1m0 121v1m0 66v4m1 -194v1m0 166v1m0 19v3m0 1v2m1 -5v5m1 -23v1m0 16v4m0 1v3m1 -196v1m0 123v1m0 57v5m1 -190v2m0 172v1m0 14v4m1 -63v1m0 62v2m1 -198v2m0 132v1m0 41v1m0 21v2m1 2v1m1 -205v1m0 176v1m0 26v3m1 -207v1m0 177v1m0 23v2m1 -27v1m0 22v3m0 139v3m1 -345v1m0 145v1m0 30v1m0 21v6m1 -138v2m0 78v1m0 49v3m0 1v2m1 -25v1m0 18v6m1 -131v1m0 74v1m0 30v1m0 21v3m1 -205v1m0 73v1m0 129v7m1 -135v1m0 72v1m0 31v1m0 26v3m0 142v3m1 -357v1m0 76v1m0 9v5m0 2v2m0 86v1m0 28v3m1 -216v3m0 77v2m0 1v13m0 2v3m0 45v1m0 1v1m0 36v1m0 28v2m1 -215v1m0 79v4m0 5v4m0 5v2m0 43v1m0 41v1m0 28v1m1 -217v1m0 67v1m0 14v2m0 9v1m0 1v4m0 87v1m0 23v6m0 134v9m1 -361v1m0 68v1m0 15v2m0 7v7m0 88v1m0 20v8m1 -219v1m0 69v1m0 11v5m0 8v2m0 1v4m0 88v1m0 21v5m0 1v2m1 -221v1m0 71v1m0 4v1m0 3v7m0 4v6m0 2v4m0 114v3m1 -221v1m0 75v6m0 1v1m0 14v6m0 43v1m0 72v3m1 -307v1m0 83v1m0 73v2m0 1v6m0 21v2m0 42v1m0 43v1m0 158v3m1 -433v3m0 77v1m0 77v3m0 15v3m0 2v3m1 -187v8m0 75v1m0 71v1m0 22v6m0 89v1m0 31v1m1 -308v2m0 1v7m0 76v1m0 69v1m0 25v5m0 46v1m0 41v1m1 -274v5m0 4v1m0 73v1m0 99v3m0 48v1m0 39v1m0 27v1m0 1v1m1 -305v5m0 5v1m0 72v1m0 70v1m0 30v1m0 49v1m0 64v1m1 -299v4m0 7v1m0 69v1m0 103v3m0 84v1m0 24v1m1 -295v3m0 5v1m0 68v1m0 106v2m0 83v1m0 24v1m1 -294v4m0 3v2m0 66v1m0 107v3m0 81v1m0 25v1m1 -300v3m0 1v6m0 5v2m0 176v2m0 78v1m0 26v1m1 -298v3m0 2v3m0 5v1m0 136v1m0 41v1m0 77v1m0 25v1m0 136v3m1 -429v8m0 62v1m0 72v1m0 42v1m0 76v1m1 -275v1m0 80v1m0 118v1m0 73v1m1 -193v1m0 191v1m1 -194v1m0 72v1m0 51v1m0 66v1m1 -194v1m0 70v1m0 1v1m0 53v1m0 65v1m1 -124v4m0 54v1m0 63v1m0 26v1m1 -153v4m0 1v1m0 55v1m0 63v1m1 -126v5m0 56v1m0 63v1m0 26v1m1 -217v1m0 46v1m0 18v3m0 55v1m0 64v1m1 -189v1m0 62v3m0 56v1m0 65v1m0 27v2m0 135v3m1 -357v1m0 50v1m0 13v2m0 56v1m0 22v1m0 43v1m0 28v1m1 -220v1m0 50v1m0 14v2m0 55v1m0 93v1m1 -218v1m0 64v2m0 56v1m0 23v1m0 43v1m1 -192v1m0 36v1m0 27v2m0 79v1m0 68v1m1 -180v1m0 15v1m0 12v2m0 59v2m0 17v1m1 -111v1m0 15v1m0 12v2m0 61v6m0 8v3m0 47v1m1 -194v1m0 53v1m0 10v4m0 70v1m0 1v1m0 51v1m1 -195v1m0 54v1m0 85v1m0 53v1m0 164v3m1 -324v1m0 18v3m0 2v3m0 5v2m0 122v1m1 -195v1m0 36v1m0 33v2m0 121v1m0 17v1m0 146v3m1 -361v2m0 51v2m0 138v1m0 16v1m1 -212v2m0 51v2m0 6v10m0 123v1m0 15v1m1 -211v1m0 35v1m0 18v5m0 2v12m0 119v1m0 15v1m1 -210v1m0 55v3m0 2v8m0 2v4m0 284v3m1 -362v1m0 9v2m0 2v2m0 1v3m0 15v1m0 19v5m0 1v2m0 8v2m0 135v1m0 147v3m1 -357v1m0 7v1m0 5v1m0 1v6m0 4v3m0 1v3m0 25v7m0 123v1m0 16v1m1 -205v3m0 3v2m0 10v2m0 4v4m0 159v1m0 15v1m1 -206v2m0 6v2m0 10v1m0 8v1m0 161v1m0 12v1m1 -205v2m0 3v2m0 16v4m0 1v2m0 173v1m1 -204v3m0 2v1m0 197v1m1 -200v1m0 185v1m1 -1v2m0 11v1m1 -13v2m0 10v1m1 -136v1m0 123v3m0 9v1m1 -12v1m0 10v1m0 156v3m1 -307v2m0 7v11m0 118v3m0 5v2m1 -142v8m0 1v8m0 117v8m0 150v3m1 -347v2m0 53v2m0 2v11m0 115v5m0 3v1m1 -126v1m0 115v2m0 8v1m1 -10v2m0 8v1m1 -137v3m0 3v3m0 118v2m0 6v1m0 152v3m1 -286v4m0 4v2m0 115v5m0 150v3m1 -301v2m0 20v4m0 1v3m0 1v2m0 111v4m1 -146v2m0 19v8m0 2v1m0 107v7m1 -121v3m0 110v2m0 1v3m0 155v3m1 -166v2m0 5v2m0 148v3m1 -159v2m0 4v3m1 -6v4m1 -138v2m0 3v9m0 120v4m1 -141v4m0 13v2m1 -17v4m0 14v1m1 -25v1m0 7v4m0 14v1m1 -28v2m0 2v12m0 9v1m1 -33v7m0 4v6m0 2v4m0 123v3m0 159v3m1 -311v1m0 4v4m0 6v1m0 14v1m0 115v4m1 -163v2m0 1v5m0 3v2m0 10v6m0 14v1m0 117v3m1 -165v2m0 7v6m0 6v1m0 2v10m0 11v1m0 113v3m0 1v2m1 -166v4m0 10v5m0 1v16m0 11v1m0 113v6m1 -168v7m0 2v28m0 126v5m1 -163v9m0 5v5m0 6v3m0 3v2m0 125v1m0 1v3m1 -150v3m0 4v2m0 22v1m0 112v6m1 -151v5m0 27v1m0 115v2m0 154v3m1 -300v5m1 -5v1m0 3v3m0 20v1m0 24v3m1 -55v1m0 2v2m0 47v1m1 -52v5m0 1v3m0 20v1m0 22v1m0 5v1m1 -55v2m0 23v1m0 23v1m0 2v1m0 83v1m1 -142v1m0 1v5m0 23v1m0 25v1m0 243v3m1 -307v4m0 1v2m0 28v3m1 -36v3m0 32v1m0 269v3m1 -305v11m0 21v1m1 -48v1m0 2v4m0 10v2m0 4v3m0 9v1m0 10v2m0 266v3m1 -322v20m0 9v6m0 17v3m1 -48v3m0 3v1m0 5v11m0 1v2m0 36v1m1 -61v2m0 50v1m0 4v1m0 8v1m1 -65v9m0 42v1m0 2v1m0 10v1m0 1v1m0 81v1m1 -149v8m0 55v6m1 -72v2m0 5v5m0 55v4m1 -70v4m0 66v1m1 -72v3m0 68v4m1 -76v2m0 75v1m1 -78v4m0 73v1m0 236v3m1 -316v2m0 75v2m1 -79v2m0 77v1m1 -81v4m0 146v2m1 -152v4m0 77v1m0 70v2m1 -155v3m0 80v1m0 69v1m1 -154v2m0 6v4m1 -13v2m0 8v3m0 1v5m0 65v1m0 66v3m1 -155v2m0 10v8m0 64v1m0 68v4m1 -156v2m0 11v10m0 24v1m0 106v3m1 -157v1m0 17v4m0 18v1m0 10v1m0 102v4m1 -158v1m0 37v1m0 16v1m0 25v1m1 -83v1m0 34v3m1 -38v1m0 35v1m0 43v1m1 -83v1m0 37v1m0 21v1m0 19v2m1 -82v2m0 36v1m0 21v3m0 10v1m0 3v2m1 -80v1m0 38v1m0 21v3m1 -64v2m0 38v1m1 -39v1m0 34v1m0 2v1m0 17v1m0 258v3m1 -281v1m1 -37v1m0 21v6m0 7v1m1 -36v1m0 22v4m0 1v1m0 5v2m1 -36v1m0 30v3m0 280v3m1 -318v1m0 26v8m1 -8v8m1 -38v1m0 36v2m1 -1v1m0 279v3m1 -324v2m0 39v1m1 -43v1m0 40v3m1 -45v1m0 40v3m1 -44v1m0 25v9m0 4v6m1 -45v1m0 27v5m0 2v1m0 8v2m1 -46v1m0 25v7m1 -33v2m0 24v4m1 -31v1m0 25v3m0 298v3m1 -331v1m0 27v2m0 188v2m1 -220v1m0 25v1m0 292v3m0 6v3m1 -329v1m0 23v3m1 -25v2m0 23v2m0 2v2m1 -33v2m0 2v1m0 24v8m1 -38v1m0 29v4m0 2v1m1 -7v3m1 -34v1m0 32v3m1 -3v9m1 -10v4m0 4v6m1 -46v1m0 28v7m0 1v4m0 2v1m1 -11v3m1 -35v1m0 31v4m1 -35v1m0 33v4m0 282v3m1 -322v1m0 35v2m1 -37v1m0 29v5m1 -33v1m0 28v2m1 -31v5m0 24v1m1 -28v4m0 22v1m1 -26v3m0 22v1m0 287v3m1 -315v4m0 20v1m0 287v3m1 -315v2m0 23v1m0 295v3m1 -325v2m0 25v1m1 -26v1m0 24v1m1 -25v2m0 22v1m0 288v3m1 -313v2m0 19v1m1 -22v2m1 -2v1m0 22v1m1 -23v1m0 22v2m1 -25v1m0 24v1m1 -26v1m0 25v1m1 0v1m1 0v1m1 -28v1m0 28v2m1 -31v1m0 29v1m2 -32v1m0 30v1m1 -33v1m0 32v1m0 3v1m0 1v3m0 268v3m1 -313v1m0 39v2m0 268v6m1 -318v2m0 40v2m0 4v2m2 -50v1m0 45v6m0 257v3m1 -313v1m0 51v2m1 -55v1m0 50v2m0 3v2m1 -59v1m0 51v6m1 -7v3m0 4v1m1 -3v2m1 -58v1m0 55v1m1 -56v1m0 56v2m1 -59v2m0 50v7m1 -58v1m0 51v7m1 -60v1m0 50v7m1 -58v1m0 51v2m0 1v4m1 -61v2m0 52v2m0 257v3m1 -317v1m0 54v1m1 -57v2m1 -2v2m0 48v2m0 2v1m1 -55v3m0 4v2m0 43v2m1 -57v1m0 1v1m0 10v1m0 33v1m0 3v1m2 -53v1m0 43v1m0 1v1m1 -48v1m1 -1v1m1 -3v1m1 -1v1m1 -2v1m1 -1v1m0 50v1m1 -54v1m0 53v1m1 -54v1m1 -3v1m2 -2v1m2 -1v1m1 -1v1m1 0v1m0 54v1m0 276v3m1 -335v1m0 56v1m1 3v1m0 267v3m1 -273v1m0 2v2m1 -62v2m1 -4v5m0 62v1m1 -69v5m1 -4v3m0 68v1m0 2v1m0 2v1m1 -78v1m1 -3v2m0 1v2m0 75v1m1 -81v1m0 74v5m1 -79v2m0 68v3m1 -73v2m0 67v1m1 -70v3m0 56v5m1 -63v2m1 -2v3m1 -3v3m1 -3v2m0 47v1m1 -51v1m0 49v1m1 0v1m1 -52v1m0 51v1m1 -1v1m1 -52v1m1 -1v1m0 51v1m1 -52v2m0 50v1m1 -53v1m0 52v1m1 -54v2m1 1v1m1 0v2m1 -3v1m1 0v1m1 0v2m1 -116v2m0 111v1m0 49v1m1 -166v5m0 110v1m1 -118v7m0 111v3m0 48v1m1 -167v2m0 2v2m0 107v2m1 -120v1m0 1v5m0 1v1m0 2v2m0 106v1m0 53v2m1 -173v12m0 104v1m1 -117v1m0 1v2m0 1v1m0 4v2m0 105v1m0 55v1m1 -171v10m0 105v3m0 47v2m1 -162v1m0 1v5m0 103v2m0 46v1m1 -160v2m0 4v2m0 103v2m0 46v1m1 -160v10m0 99v2m0 4v1m1 -110v4m0 99v4m0 321v3m1 -327v3m1 -116v1m0 114v2m1 -120v3m0 117v1m0 322v3m1 -445v3m0 116v5m1 -136v1m0 12v1m0 110v4m0 4v4m1 -12v3m1 1v4m1 0v4m1 -140v2m0 9v3m0 124v3m1 -129v2m0 120v2m0 2v5m0 47v2m0 266v3m1 -449v4m0 121v3m0 48v2m0 2v3m0 263v3m1 -449v1m0 124v4m0 54v1m0 4v1m1 -194v2m0 1v1m0 1v5m0 120v1m0 63v1m1 -192v1m0 127v2m1 -141v3m0 138v1m0 62v1m1 -203v1m0 1v4m0 1v4m0 5v2m0 122v3m0 62v1m1 -205v2m0 2v8m0 130v2m0 58v1m1 -203v2m0 1v4m0 1v4m0 130v2m0 1v1m0 51v5m1 -198v8m0 132v2m0 53v3m1 -197v5m0 1v3m0 130v2m0 49v1m1 -190v7m0 11v1m0 117v2m0 1v5m0 35v5m0 4v1m1 -187v4m0 13v1m0 117v4m0 31v3m0 3v1m0 5v1m1 -48v4m0 45v2m1 -50v2m0 30v1m0 16v1m1 -75v6m0 17v2m0 1v5m0 41v1m1 -67v2m0 1v2m0 11v1m0 33v1m1 -56v6m0 2v1m0 12v3m0 31v1m1 -58v3m0 8v1m0 9v1m1 -24v3m0 11v1m0 7v2m1 -23v2m0 14v1m0 4v2m0 33v1m1 -57v3m1 -5v4m0 7v1m0 326v3m1 -341v7m0 2v4m0 45v1m1 -59v8m1 -6v10m0 3v3m0 41v1m0 275v3m1 -333v12m0 43v1m0 280v3m1 -331v3m0 3v2m0 2v7m1 -5v5m1 -6v7m0 29v1m1 -35v9m1 -5v7m0 25v1m1 -40v4m0 6v6m1 -35v3m0 8v7m0 8v5m0 1v1m0 2v1m1 -36v1m0 5v7m0 4v6m0 35v1m1 -53v7m0 1v4m0 1v4m0 35v1m1 -56v3m0 3v3m0 3v1m0 42v1m0 278v3m1 -343v8m0 1v3m0 50v1m1 -63v2m0 60v1m1 -63v2m1 -1v2m0 60v1m1 -63v1m0 62v2m1 -64v2m0 62v1m1 -64v1m0 63v1m1 -65v2m0 63v1m1 -66v1m0 67v3m1 -71v1m0 69v1m1 -72v1m1 -1v1m1 -2v1m2 -106v3m0 102v1m1 -1v1m1 -2v1m1 -2v1m1 -2v2m1 -97v2m1 -6v7m0 91v1m1 -97v4m0 92v1m2 -115v3m0 18v1m0 92v1m1 76v2m1 -192v4m0 1v2m0 17v2m0 163v1m1 -186v5m0 11v2m0 3v1m0 86v1m0 76v1m1 -185v5m0 12v2m0 87v1m1 -105v2m0 5v3m0 7v1m0 87v1m1 -104v1m0 4v5m0 6v2m0 85v1m1 -114v11m0 4v6m0 7v2m0 84v1m1 -114v5m0 1v14m0 7v3m0 84v1m1 -111v13m0 1v1m0 1v2m0 1v1m0 90v2m1 -112v8m0 2v5m0 4v2m0 2v5m0 83v1m1 -111v2m0 1v8m0 1v3m0 5v6m0 85v2m1 -113v2m0 4v4m0 7v2m0 3v2m0 89v2m1 -113v3m0 1v4m0 5v5m0 2v2m0 89v1m0 337v3m1 -460v5m0 4v3m0 6v8m0 3v2m0 89v1m1 -120v9m0 1v2m0 7v1m0 2v2m0 2v5m0 87v1m1 -116v6m0 2v4m0 2v3m0 3v10m0 86v2m1 -116v3m0 1v3m0 2v10m0 1v6m0 1v2m0 85v1m1 -114v5m0 1v5m0 1v1m0 5v13m0 82v2m1 -113v5m0 2v3m0 6v1m0 4v1m0 6v1m0 82v2m1 -112v2m0 6v1m0 7v2m0 2v9m0 81v2m1 -111v2m0 12v14m0 81v1m1 -109v1m0 15v3m0 4v2m0 83v1m1 -108v2m0 16v2m0 87v1m1 -106v1m0 15v2m0 89v2m0 333v3m1 -444v2m0 15v3m0 88v2m1 -110v3m0 16v3m0 85v1m1 -111v7m0 16v2m0 89v1m1 -115v2m0 1v5m0 17v3m0 86v1m0 54v1m1 -168v8m0 18v2m0 87v1m1 -116v9m0 19v2m0 85v1m1 -116v4m0 2v5m0 18v1m1 -29v9m0 19v1m0 84v1m0 53v1m1 -167v9m0 18v1m0 85v1m1 -115v3m0 3v4m0 18v1m0 84v1m0 324v3m1 -458v4m0 13v2m0 3v10m0 14v1m1 -46v6m0 7v9m0 1v7m0 15v1m0 81v2m0 57v1m1 -184v5m0 1v1m0 3v2m0 1v4m0 6v2m0 17v1m0 82v1m1 -124v5m0 5v5m0 1v2m0 2v8m0 11v2m0 81v1m0 60v1m1 -181v5m0 2v1m0 5v2m0 5v7m0 8v2m0 82v1m1 -121v4m0 2v5m0 9v11m0 5v1m0 83v1m1 -123v3m0 2v2m0 4v4m0 11v2m0 2v2m0 7v1m1 -38v1m0 3v4m0 1v3m0 13v2m0 2v2m0 7v1m1 -40v3m0 5v1m0 18v1m0 1v3m0 6v1m0 85v1m1 -121v4m0 1v1m0 20v9m0 86v1m1 -117v3m0 21v5m0 87v2m1 -122v1m0 5v2m0 21v4m0 87v1m1 -123v1m0 7v3m0 21v1m0 88v1m1 -122v2m0 4v5m0 21v2m0 86v1m1 -123v12m0 24v1m1 -39v11m0 2v5m0 20v1m0 84v1m1 -122v9m0 5v3m0 18v2m0 83v2m1 -121v4m0 4v1m0 1v7m0 17v1m0 84v1m1 -119v1m0 10v6m0 16v1m0 84v1m1 -122v5m0 10v1m0 104v1m1 -119v1m0 14v1m0 1v1m0 17v1m0 150v1m1 -186v1m0 16v4m0 14v1m0 409v3m1 -447v1m0 17v4m0 12v1m0 82v1m0 317v3m1 -437v2m0 25v3m0 3v1m1 -34v2m0 27v4m0 84v1m1 -117v4m0 25v2m1 -31v4m0 26v1m1 -34v2m0 1v6m0 25v2m1 -39v14m0 24v1m0 83v1m1 -121v11m0 23v4m0 82v1m0 322v3m1 -455v1m0 7v7m0 29v3m0 154v4m1 -205v4m0 5v5m0 10v2m0 19v2m0 78v1m0 80v2m1 -209v2m0 1v4m0 4v2m0 13v2m0 19v2m0 75v2m0 83v2m1 -209v3m0 2v1m0 5v4m0 30v2m0 68v2m0 1v4m0 89v1m1 -211v2m0 3v2m0 3v7m0 27v1m0 70v4m0 91v1m1 -211v2m0 7v1m0 2v5m0 28v1m0 67v7m0 90v1m1 -209v2m0 9v2m0 31v1m0 66v4m0 92v1m1 -207v2m0 7v5m0 29v1m0 67v1m0 94v1m1 -209v4m0 9v3m0 30v1m0 68v1m1 -119v1m0 4v4m0 7v3m0 27v4m0 69v1m0 90v1m1 -212v11m0 36v1m0 73v1m1 -122v12m0 34v1m0 73v1m0 89v1m1 -210v2m0 4v5m0 10v3m0 19v3m0 73v2m0 88v1m1 -209v3m0 7v3m0 29v2m0 73v1m0 91v1m1 -207v3m0 4v5m0 9v2m0 17v2m0 72v1m0 93v1m1 -208v2m0 5v5m0 27v1m0 73v3m1 -123v12m0 5v2m0 7v2m0 1v2m0 15v1m0 74v2m0 2v3m0 85v1m1 -212v8m0 10v1m0 9v3m0 12v1m0 77v6m0 84v3m1 -213v6m0 2v3m0 7v2m0 18v5m0 78v9m0 82v2m1 -213v2m0 7v4m0 6v1m0 17v6m0 70v4m0 8v3m0 84v2m1 -212v2m0 6v1m0 1v3m0 4v3m0 19v2m0 70v1m0 97v2m1 -216v3m0 3v1m0 16v4m0 18v3m0 69v3m0 95v1m1 -217v1m0 2v8m0 8v3m0 4v2m0 18v2m0 70v12m1 -132v2m0 1v2m0 1v3m0 1v3m0 1v1m0 35v1m0 71v8m0 2v4m0 82v1m1 -218v5m0 2v2m0 1v5m0 15v2m0 17v1m0 84v2m0 80v1m1 -216v2m0 4v4m0 1v5m0 28v5m0 84v2m0 77v2m1 -213v2m0 3v4m0 5v1m0 1v1m0 30v2m0 70v4m0 9v2m0 74v2m1 -207v4m0 2v3m0 1v1m0 1v1m0 31v3m0 85v1m0 72v2m1 -207v2m0 3v5m0 29v5m0 2v1m0 85v1m0 74v1m1 -208v3m0 4v1m0 22v2m0 8v8m0 85v1m0 72v1m1 -205v2m0 5v1m0 22v2m0 10v3m0 87v1m0 64v2m0 5v1m1 -204v2m0 5v1m0 21v3m0 9v1m0 90v1m0 57v1m0 1v9m0 1v1m1 -216v2m0 11v2m0 29v3m0 1v2m0 4v1m0 90v2m0 48v15m1 -207v1m0 6v2m0 3v4m0 5v3m0 18v4m0 5v1m0 90v1m0 53v5m0 2v1m1 -203v1m0 1v1m0 3v7m0 30v3m0 3v2m0 90v1m0 52v6m1 -200v1m0 2v2m0 3v7m0 28v5m0 1v2m0 90v2m0 41v7m0 1v7m1 -198v4m0 6v3m0 12v2m0 18v3m0 93v6m0 27v4m0 10v7m1 -192v9m0 34v2m0 92v2m0 41v6m0 4v4m0 157v5m1 -355v1m0 4v4m0 15v4m0 15v1m0 92v1m0 38v3m0 5v11m0 157v6m0 94v3m1 -454v1m0 5v7m0 14v1m0 15v2m0 90v1m0 40v19m0 157v5m1 -356v2m0 5v2m0 1v2m0 30v2m0 90v6m0 30v3m0 3v9m0 3v4m0 157v2m0 3v2m0 1v5m1 -362v5m0 2v1m0 1v3m0 16v2m0 13v1m0 97v2m0 29v8m0 4v1m0 2v3m0 159v10m0 3v2m1 -360v1m0 5v4m0 13v5m0 11v1m0 101v5m0 17v11m0 172v4m0 2v8m1 -359v1m0 6v1m0 1v1m0 13v4m0 11v1m0 84v2m0 11v4m0 5v4m0 17v10m0 8v1m0 158v5m0 1v1m0 3v6m1 -360v2m0 9v2m0 10v5m0 11v1m0 79v2m0 8v1m0 2v4m0 2v14m0 20v8m0 161v2m0 18v1m1 -367v3m0 5v1m0 8v4m0 8v5m0 10v1m0 81v16m0 4v8m0 6v6m0 17v3m0 4v9m0 144v5m0 17v2m1 -367v6m0 1v4m0 7v3m0 14v3m0 4v3m0 85v5m0 20v4m0 8v24m0 8v5m0 142v4m0 16v1m1 -367v13m0 20v5m0 5v1m0 80v2m0 4v5m0 35v5m0 9v4m0 10v6m0 140v11m0 10v2m1 -363v2m0 2v5m0 24v4m0 2v2m0 80v5m0 1v15m0 32v2m0 4v2m0 158v1m0 1v1m0 7v12m0 1v1m1 -363v3m0 3v2m0 22v2m0 1v6m0 82v8m0 1v6m0 5v8m0 21v9m0 17v2m0 140v1m0 11v12m1 -364v13m0 20v2m0 2v3m0 84v4m0 4v1m0 3v2m0 18v7m0 6v3m0 4v5m0 18v3m0 137v1m0 23v1m1 -370v4m0 2v3m0 4v2m0 3v1m0 12v2m0 8v1m0 90v6m0 7v3m0 21v16m0 159v2m0 24v1m1 -369v4m0 8v2m0 3v2m0 20v2m0 95v8m0 3v1m0 1v1m0 18v4m0 4v2m0 164v5m1 -347v3m0 1v2m0 3v3m0 2v2m0 3v1m0 19v3m0 96v4m0 29v11m0 158v8m1 -348v3m0 3v6m0 3v2m0 18v1m0 5v1m0 135v3m0 1v2m0 156v1m0 28v1m1 -370v2m0 7v13m0 20v2m0 110v4m0 9v1m0 13v1m0 22v2m0 133v1m0 29v1m1 -369v2m0 9v10m0 16v7m0 294v1m0 19v1m0 7v1m0 1v1m1 -370v5m0 7v3m0 2v4m0 17v2m0 2v2m0 131v4m0 24v3m0 133v1m0 25v5m0 1v1m1 -373v8m0 8v2m0 17v7m0 297v3m0 25v1m0 92v3m1 -464v4m0 3v1m0 30v3m0 1v2m0 295v11m0 17v2m1 -369v3m0 36v6m0 292v2m0 5v6m0 5v4m0 4v5m1 -368v1m0 1v10m0 27v6m0 289v3m0 2v7m0 2v4m0 3v10m1 -365v9m0 33v2m0 288v3m0 25v5m1 -364v2m0 6v1m0 33v2m0 287v1m0 28v6"/>
<path stroke="#00e5ff" d="M170.5 297v2m0 312v3m1 -316v3m0 314v1m0 38v3m1 -357v2m0 316v2m1 -321v3m0 319v4m1 -326v2m0 325v1m1 -327v2m0 219v3m0 103v1m1 -327v3m0 217v4m0 106v1m1 -328v5m0 323v2m1 -328v2m0 326v4m0 16v3m0 7v1m1 -357v6m0 325v1m1 -326v1m0 327v3m1 -329v4m0 325v1m1 -326v4m0 84v1m0 237v4m1 -330v6m0 84v1m1 -107v2m0 2v7m0 5v5m0 1v1m0 324v3m1 -351v10m0 2v4m0 7v1m1 -19v3m1 2v2m0 9v2m1 -4v2m0 2v1m1 -5v1m0 6v5m1 -5v6m1 -2v2m1 0v1m1 -18v4m0 15v2m1 -30v20m0 1v2m0 5v1m1 -24v11m0 1v10m0 72v1m1 -94v5m0 2v2m0 2v9m1 -24v2m0 2v2m0 6v6m1 -19v3m0 13v11m1 -25v3m1 -4v3m1 -4v2m1 0v2m1 0v2m1 -1v1m1 -1v2m1 -1v1m1 -1v1m1 0v1m1 -2v1m2 -1v2m1 -3v1m1 -2v2m1 -2v2m1 -1v3m1 2v6m1 -4v8m0 327v3m1 -337v2m1 -16v14m1 -9v4m1 -3v11m1 -4v8m0 1v3m0 1v3m1 -17v10m0 4v2m1 -15v3m0 1v3m1 -4v2m0 324v3m1 -328v3m1 1v5m0 253v3m1 -259v3m0 254v4m1 -262v3m0 1v1m0 256v6m1 -275v8m0 263v1m0 3v2m0 54v3m1 -60v3m1 -274v4m0 93v1m1 -99v5m0 270v6m1 -291v1m0 4v7m0 98v1m0 2v1m0 173v2m0 3v2m1 -300v1m0 5v5m0 111v1m0 174v5m1 -303v4m0 4v3m0 288v5m1 -305v1m0 128v1m0 172v4m1 -307v1m0 127v1m1 -129v1m0 118v1m0 2v2m1 -125v2m0 279v1m1 -284v1m0 281v6m0 10v1m1 -301v1m0 117v1m0 164v11m1 -295v1m0 285v2m0 7v3m1 -299v2m0 289v5m0 2v2m0 58v3m1 -361v3m0 116v1m0 176v3m1 -300v2m0 296v3m1 -303v2m0 120v1m1 -125v2m0 304v6m1 -313v2m0 306v1m0 3v6m1 -317v2m0 126v1m0 183v7m0 2v3m1 -323v2m0 313v1m0 43v3m1 -363v2m0 126v1m1 -130v1m1 -1v2m1 -2v2m1 -2v4m0 122v1m1 -127v3m1 -2v2m0 123v1m1 -128v1m0 127v1m1 -129v1m1 -1v1m0 361v3m1 -364v1m0 128v1m0 228v6m1 -365v1m0 132v1m0 228v3m1 -365v2m1 -1v1m1 0v1m0 131v1m0 227v3m1 -363v1m1 -2v1m0 360v3m1 -365v1m1 -1v1m0 135v1m1 -137v1m1 0v1m1 136v1m0 2v2m3 -143v1m0 143v1m1 -146v2m1 -2v2m1 -6v3m1 -3v1m0 146v1m1 -149v1m0 370v3m1 -375v1m1 -1v1m0 147v1m1 -149v1m1 -4v3m0 145v1m0 2v1m1 -151v2m1 -3v3m0 145v1m1 -150v2m0 143v1m1 -144v2m1 -1v1m0 141v1m1 -145v3m0 1v1m1 -4v2m1 -3v3m1 -3v4m1 -3v3m1 -4v2m1 -2v2m1 -2v1m1 1v1m0 369v3m1 -373v1m1 -3v3m0 133v1m1 -135v1m0 137v1m1 -140v1m0 142v1m1 -144v1m0 143v1m0 226v3m1 -375v2m0 364v3m1 -369v2m1 -1v1m1 -1v1m1 -1v1m1 0v2m1 -2v2m0 144v1m1 -148v4m1 -6v9m1 -8v7m1 -4v2m1 -1v1m1 0v2m1 1v1m0 140v1m1 -1v1m1 -141v1m1 139v1m1 0v1m3 -2v1m0 216v3m1 -362v1m2 358v3m1 -362v1m2 0v1m2 -3v1m1 365v3m1 -374v3m0 143v1m1 -150v3m1 -3v1m2 0v1m0 372v3m2 0v3m1 -380v1m0 373v3m1 -375v3m1 -1v2m1 -1v1m1 -3v2m1 -3v4m0 362v3m1 -369v2m1 -3v2m1 -4v2m1 -1v1m1 -1v1m2 -1v1m1 0v1m1 -2v1m1 -1v1m1 -1v1m1 0v1m1 0v1m1 -3v1m1 -1v1m0 370v3m1 -375v1m1 0v1m1 -1v1m1 1v1m1 -2v2m1 -1v1m0 368v3m1 -372v1m0 374v3m1 -376v2m1 -1v3m1 -1v2m1 -1v2m1 -3v2m1 -3v3m1 0v3m1 1v2m1 -11v2m0 6v3m1 -11v8m0 3v2m1 -12v1m1 0v2m1 0v1m1 2v1m1 0v2m1 -1v3m1 -2v2m1 -2v2m1 0v2m1 0v1m0 138v1m1 -137v1m0 352v3m1 -355v2m0 133v1m1 -136v2m0 134v1m1 -137v2m1 -2v2m0 135v1m1 -135v1m1 -1v1m1 2v2m1 -3v2m1 -1v1m1 0v2m1 -2v1m1 -1v1m1 -1v1m2 131v1m1 -134v1m1 -2v1m2 131v1m0 211v3m1 -349v1m1 -2v1m4 -4v1m1 -2v1m0 137v1m1 -140v1m0 138v1m1 -141v1m1 -3v1m0 141v1m1 212v3m1 -357v1m0 141v1m1 -143v1m1 -2v2m0 142v1m1 -145v2m0 144v1m1 -148v1m1 -1v1m0 358v3m1 -214v1m2 -4v1m2 -147v2m1 -2v1m1 143v1m0 218v3m1 -364v1m0 142v1m1 -143v1m0 144v1m1 -146v1m0 146v1m1 -149v1m1 -1v1m1 -1v1m1 -1v1m0 354v3m1 -357v1m1 0v1m1 0v1m1 -1v1m1 0v1m1 -1v1m0 148v1m1 -4v1m2 -145v1m0 143v1m1 -144v1m0 141v1m1 -143v1m2 0v1m1 140v1m1 -142v1m1 -1v1m0 140v1m1 -142v1m1 -2v1m1 -2v1m0 351v3m1 -356v1m1 -2v1m1 144v1m0 208v3m1 -358v1m1 -2v2m0 146v1m1 -149v1m1 0v1m1 -1v2m0 146v1m1 -149v1m1 -2v1m0 149v1m0 199v3m1 -356v2m0 152v1m0 42v3m1 -201v1m0 155v1m0 42v8m1 -208v1m0 199v5m1 -5v3m0 155v3m1 -357v2m1 0v1m0 192v2m1 -194v1m0 190v4m0 156v3m1 -353v1m0 189v3m0 1v4m1 -197v1m0 107v5m0 76v4m0 1v9m1 -202v1m0 111v3m0 72v5m1 0v1m2 -190v1m0 103v3m1 -104v2m0 94v1m0 4v8m1 -108v1m0 91v7m0 7v3m1 -108v1m0 93v2m0 12v2m0 67v6m0 157v3m1 -342v1m0 92v2m0 14v2m0 63v1m0 5v3m1 -182v1m0 92v1m0 13v2m0 7v2m0 55v1m0 4v4m0 2v2m1 -186v1m0 96v2m0 9v3m0 2v3m0 56v1m0 5v4m0 2v3m1 -186v1m0 100v5m0 5v1m0 59v1m0 11v2m1 -185v1m0 170v1m0 11v3m1 -184v1m0 181v3m1 -184v1m0 95v2m0 71v1m0 9v6m1 -184v1m0 92v4m0 1v1m0 68v3m0 9v6m1 -184v1m0 95v5m0 66v1m0 9v6m1 -18v1m0 12v2m1 -16v2m0 11v3m0 155v3m1 -338v1m0 164v1m0 14v4m1 -185v1m0 165v1m0 17v3m1 -66v1m0 44v1m0 18v2m1 -22v1m0 18v3m1 -4v1m1 -187v1m0 121v1m0 45v2m0 15v3m1 -188v1m0 170v1m0 6v2m0 4v3m0 4v1m1 -22v3m0 5v3m1 -183v1m0 172v1m0 8v5m1 -189v1m0 173v1m0 13v5m1 -194v1m0 340v3m1 -346v2m0 134v1m0 39v1m0 22v3m1 -203v1m0 138v1m0 54v5m0 3v1m1 -203v1m0 140v1m0 51v1m0 2v5m0 140v3m1 -344v1m0 142v1m0 33v1m0 14v7m1 -199v1m0 193v4m1 -199v1m0 177v1m0 15v3m0 3v1m1 -202v1m0 71v1m0 13v4m0 105v3m1 -199v1m0 74v1m0 10v13m0 102v1m1 -201v1m0 59v1m0 13v1m0 9v14m0 103v2m1 -204v1m0 60v1m0 15v1m0 7v15m0 82v1m0 22v3m0 142v3m1 -353v1m0 60v1m0 15v9m0 5v2m0 2v2m0 85v1m0 22v5m1 -210v1m0 61v1m0 16v1m0 18v1m0 84v1m0 25v2m1 -212v2m0 62v1m0 34v3m0 83v1m0 23v4m1 -215v2m0 97v4m0 84v1m0 19v3m1 -211v1m0 99v2m0 97v10m1 -210v1m0 100v4m0 40v1m0 61v4m0 5v1m1 -218v1m0 102v2m0 86v1m0 22v3m1 -217v1m0 72v2m0 28v4m0 85v2m0 23v2m1 -219v1m0 104v3m0 84v1m0 28v1m1 -150v1m0 31v6m0 81v1m0 29v1m1 -221v1m0 69v1m0 29v3m0 4v1m0 82v1m0 29v1m1 -220v1m0 99v3m0 86v1m0 27v3m1 -300v4m0 144v1m0 32v1m0 88v1m0 24v2m1 -297v5m0 74v1m0 68v1m0 32v2m0 87v2m0 22v1m1 -294v7m0 71v1m0 69v1m0 35v1m0 84v2m1 -269v5m0 70v2m0 68v1m0 37v2m0 82v1m1 -266v3m0 69v1m0 70v1m0 38v2m0 80v1m1 -265v5m0 66v1m0 71v1m0 41v2m0 77v1m0 24v1m1 -289v5m0 64v2m0 114v2m1 -117v1m0 115v2m0 100v1m1 -219v1m0 71v1m0 46v1m0 73v1m1 -193v1m0 70v1m0 47v4m0 35v3m0 31v1m1 -194v1m0 66v5m0 120v3m1 -196v1m0 66v3m0 1v1m0 121v1m0 25v2m1 -220v1m0 65v2m0 59v1m0 63v1m0 166v3m1 -360v1m0 56v7m0 62v1m0 63v1m0 24v1m1 -215v1m0 56v6m0 62v1m0 21v1m0 41v1m1 -190v1m0 44v1m0 1v1m0 13v4m0 59v1m0 21v2m0 41v1m0 25v1m1 -173v2m0 3v1m0 11v3m0 60v1m0 21v1m0 43v1m1 -190v1m0 56v7m0 59v2m0 91v1m0 142v3m1 -362v1m0 37v1m0 12v1m0 10v3m0 58v2m0 20v1m0 44v1m0 24v1m1 -179v1m0 13v1m0 10v2m0 59v2m0 90v1m1 -165v1m0 9v3m0 59v3m0 87v1m1 -215v1m0 34v1m0 17v2m0 8v2m0 63v4m0 12v1m0 47v1m1 -193v2m0 32v1m0 17v4m0 3v5m0 69v8m0 72v1m1 -215v1m0 34v1m0 18v1m0 4v5m0 75v1m1 -141v1m0 35v1m0 18v5m0 3v8m0 142v1m1 -214v1m0 36v1m0 22v2m0 3v5m0 125v1m0 16v1m1 -212v1m0 193v1m1 -193v4m0 29v1m0 19v4m0 135v1m0 14v1m1 -209v3m0 31v1m0 18v3m0 2v1m0 134v1m1 -195v4m0 1v2m0 27v1m0 24v2m0 132v1m1 -194v10m0 24v1m0 157v1m0 14v1m0 147v3m1 -358v9m0 6v1m0 3v1m0 12v2m0 156v2m0 14v1m1 -205v7m0 14v4m0 3v1m0 159v3m0 12v1m1 -201v3m0 14v4m0 164v7m0 7v1m1 -203v6m0 13v1m0 5v2m0 163v6m0 5v1m1 -202v3m0 22v1m0 162v2m0 9v2m1 -200v2m0 185v1m0 11v1m0 149v3m1 -164v1m0 11v1m1 -12v3m0 7v1m1 -10v2m0 7v1m1 -8v9m1 -10v6m0 2v2m0 148v3m1 -157v5m1 -132v1m1 129v3m1 -7v8m1 -7v8m1 -7v6m2 -122v1m1 4v2m2 107v5m1 -4v4m2 -135v3m0 288v3m1 -295v3m0 1v1m0 5v3m1 -11v2m0 10v2m1 -12v3m0 8v3m1 -11v3m0 1v2m0 1v2m1 -25v4m0 6v2m0 4v3m0 4v1m1 -22v6m0 1v8m0 4v2m1 -14v7m0 6v1m1 -42v7m0 25v3m0 6v2m0 117v1m1 -160v10m0 5v1m0 16v6m0 4v1m1 -41v2m0 28v2m0 3v3m0 3v1m1 -25v6m0 3v3m0 2v7m0 2v2m0 115v1m1 -144v4m0 2v6m0 3v13m1 -27v4m0 4v2m0 13v4m1 -20v5m0 16v1m1 -20v2m1 -4v7m0 16v1m0 24v1m0 1v1m0 244v3m1 -297v1m0 3v2m0 17v1m0 24v1m0 2v2m1 -52v5m0 43v2m1 -50v4m1 -11v1m0 2v7m0 20v1m1 -30v11m0 1v1m0 15v4m1 -21v9m0 6v6m1 -21v9m0 1v10m1 -16v10m0 6v1m1 -42v3m0 1v5m0 11v1m0 2v2m0 21v4m1 -49v18m0 2v1m0 28v1m0 6v1m0 2v5m1 -55v1m0 40v1m0 4v1m0 7v2m1 -56v3m0 39v5m0 3v1m0 2v2m1 -54v6m0 47v2m1 -62v4m0 2v5m0 54v1m1 -68v6m0 61v1m1 -70v8m0 63v1m0 1v2m1 -73v2m0 1v4m0 64v2m1 -74v4m0 3v3m0 63v2m1 -75v4m0 3v5m0 64v1m1 -76v10m0 66v1m1 -77v7m0 69v1m1 -79v10m0 4v1m0 64v1m0 229v3m1 -313v6m0 4v7m0 64v1m1 -83v2m0 3v3m0 3v1m0 5v3m1 -21v2m0 3v5m0 8v9m0 14v4m1 -44v11m0 10v5m0 13v1m0 6v2m0 32v1m1 -82v4m0 10v3m0 4v7m0 10v1m0 12v2m0 27v2m1 -82v1m0 17v5m0 1v7m0 5v1m0 42v1m1 -81v1m0 19v2m0 3v9m0 22v1m0 20v3m1 -80v1m0 33v1m0 22v1m0 19v2m0 231v3m1 -315v2m0 22v2m0 7v4m0 23v5m0 13v1m1 -78v1m0 34v1m0 30v1m1 -69v1m0 36v1m1 -37v1m0 33v2m0 1v1m1 -37v2m0 29v3m0 1v2m1 -37v1m0 13v22m1 -35v1m0 14v6m0 6v7m1 -34v1m0 17v4m0 4v1m0 1v5m1 -33v1m0 22v7m1 -10v5m0 282v3m1 -313v1m0 21v6m1 -29v1m0 28v7m1 -38v1m0 35v3m1 -39v1m0 37v1m0 280v3m1 -324v1m0 29v5m0 2v3m1 -41v2m0 23v15m1 -40v1m0 22v2m0 9v4m1 -38v1m0 23v3m1 -27v2m0 22v1m1 -24v2m0 20v2m1 -26v2m0 19v4m1 -26v1m0 20v6m1 -27v1m0 22v2m1 -23v3m1 22v1m1 -25v2m0 1v2m0 20v2m1 -29v1m0 25v3m1 -30v1m0 27v2m1 -30v1m0 27v4m1 -32v2m0 19v11m0 292v3m1 -327v1m0 22v8m0 4v4m1 -39v1m0 24v3m1 -28v2m0 23v7m1 -31v2m0 22v7m1 -30v2m0 24v7m1 -32v1m0 29v5m1 -34v1m0 26v2m1 -27v4m0 22v2m1 -24v10m0 12v2m1 -23v6m0 5v2m0 1v8m1 -22v6m0 3v8m0 4v1m1 -20v2m0 17v1m1 -22v2m0 2v1m0 17v1m0 290v3m1 -317v5m0 18v2m1 -24v4m0 19v1m1 -22v3m0 6v1m0 1v1m0 9v1m0 292v3m1 -314v1m0 17v1m1 -19v3m0 16v1m1 -21v3m0 18v1m0 290v3m1 -314v2m0 19v1m1 -22v1m1 -1v2m0 22v1m1 -25v1m0 24v1m1 -26v1m2 0v1m1 -2v1m1 -1v1m1 35v1m1 -5v6m1 -40v1m0 35v4m1 -42v1m0 41v2m1 -43v1m0 42v2m1 -46v1m0 45v5m1 -52v1m0 46v3m0 2v3m1 -8v3m1 -52v1m0 48v2m0 3v4m1 -58v1m0 51v4m1 -55v1m0 49v5m0 259v3m1 -316v2m0 47v7m0 257v3m1 -315v3m0 43v4m1 -50v2m0 47v2m1 -52v2m0 46v2m1 -50v2m0 47v2m1 -52v1m0 50v1m1 -54v2m0 51v1m1 -54v2m0 50v2m1 -54v1m0 46v1m0 2v2m1 -51v4m0 2v1m0 36v3m1 -51v1m0 1v2m0 7v1m0 1v6m0 26v1m1 -48v2m0 44v1m1 -46v1m0 41v1m0 1v1m1 -46v2m1 -2v1m0 41v1m0 279v6m1 -330v1m1 44v3m1 -49v1m0 47v1m1 -49v1m1 -3v2m0 50v1m1 -52v2m0 48v1m1 -53v1m0 50v1m1 -52v2m0 49v1m1 -53v2m1 -3v1m1 53v1m0 275v3m1 -332v1m0 52v1m1 0v1m0 1v1m1 -56v1m1 -1v2m1 -2v3m0 54v1m0 1v1m1 -57v3m0 56v3m1 -61v4m0 57v1m0 262v3m1 -328v3m1 -4v3m0 64v1m0 4v2m0 249v3m0 3v3m1 -334v6m0 63v5m0 3v1m1 -79v1m0 2v4m0 64v7m1 -79v7m0 62v5m1 -72v3m0 62v3m1 -68v4m0 59v4m1 -66v2m0 52v2m1 -56v2m1 -1v3m0 45v4m1 -52v2m0 44v1m1 -48v3m0 321v3m1 -329v1m1 -2v1m0 49v1m1 -50v1m0 49v1m1 -51v2m0 48v1m1 -50v1m0 49v1m1 -51v1m1 1v2m1 -3v2m1 -1v1m0 49v2m1 -50v2m1 0v2m0 43v1m1 -48v3m1 -2v2m0 46v2m1 -48v2m0 45v1m1 -50v3m1 -3v4m0 45v1m1 -47v1m0 46v1m1 -164v2m0 111v2m0 49v1m1 -165v1m0 1v2m0 109v1m0 51v1m1 -54v2m1 -1v1m0 52v2m1 -52v1m0 45v1m0 2v1m1 -51v2m1 -2v6m1 -8v4m0 1v4m0 39v1m1 -47v4m0 43v1m1 -48v6m0 41v1m0 273v3m1 -323v7m0 38v1m1 -45v3m0 41v1m1 -41v7m0 33v1m1 -49v4m0 4v3m1 -12v10m1 -5v3m1 1v3m0 40v2m0 273v3m1 -320v6m0 38v1m1 -43v7m0 36v1m1 -47v3m0 4v4m0 36v1m0 2v1m1 -50v7m1 -10v7m0 2v1m0 49v4m1 -61v1m0 60v2m1 -62v2m0 59v1m1 -59v3m0 56v3m1 -202v2m0 140v8m0 49v1m1 -200v1m0 141v1m0 1v3m0 45v3m1 -51v6m0 2v4m0 37v4m1 -53v8m0 40v1m1 -51v1m0 5v4m0 30v1m1 -38v5m0 1v4m0 20v1m0 3v1m0 1v1m0 9v1m1 -47v2m0 27v1m0 5v1m1 -37v3m0 42v2m1 -49v1m0 5v3m0 22v1m1 -49v1m0 14v8m0 2v1m0 303v3m1 -333v2m0 16v5m0 3v1m0 1v1m1 -34v8m0 11v3m0 6v4m0 21v1m1 -56v2m0 7v2m0 10v2m0 31v1m1 -55v2m0 10v2m0 7v5m0 305v3m1 -333v8m0 3v9m0 32v1m1 -54v3m0 2v2m0 1v7m0 38v1m1 -51v2m0 4v12m0 32v1m1 -50v17m0 33v1m1 -47v3m0 3v7m1 -6v4m1 -2v2m0 37v1m1 -31v4m0 2v3m0 21v1m1 -30v5m1 -1v3m0 22v1m1 -24v1m0 23v1m0 276v3m1 -302v2m0 21v1m1 -41v8m0 5v1m0 1v2m0 1v4m0 18v1m1 -46v4m0 6v11m0 1v1m1 -23v1m0 4v1m0 4v11m0 303v3m1 -328v3m0 1v18m1 -29v1m0 3v8m0 9v1m0 2v7m0 22v1m1 -60v10m0 6v2m0 41v1m0 278v3m1 -341v6m0 54v1m1 -60v2m0 31v2m1 -36v2m0 39v1m0 19v1m1 -60v2m0 59v1m1 -62v2m1 -1v2m0 60v1m1 -64v1m0 65v1m1 -67v1m0 67v1m1 -70v1m0 68v1m1 -70v1m0 330v3m1 -335v1m0 68v1m1 -71v1m1 0v1m1 -1v2m0 333v6m1 -342v1m0 71v1m1 -74v1m1 -1v1m0 75v2m1 -81v2m0 78v1m1 -80v1m1 80v2m1 -84v1m0 83v1m1 -3v3m1 -84v1m0 77v2m1 -190v1m0 109v2m1 -3v3m1 -4v3m0 72v2m1 -180v5m0 99v1m0 72v1m1 -177v4m0 99v2m0 335v3m1 -443v4m0 100v2m1 -1v2m0 67v1m1 -168v1m0 1v1m0 96v2m1 -99v4m0 93v3m0 65v1m0 268v3m1 -449v1m0 12v5m0 93v2m1 -113v4m0 13v3m0 93v1m0 332v3m1 -446v1m0 14v2m0 92v3m0 61v1m1 -173v6m0 8v3m0 92v2m1 -110v7m0 5v2m0 93v2m0 63v1m1 -170v2m0 104v3m1 -116v1m0 111v4m1 -113v1m0 5v1m0 1v5m0 97v4m0 328v3m1 -443v2m0 3v2m0 2v2m0 6v6m0 85v3m1 -113v6m0 1v7m0 96v2m1 -111v6m0 1v5m0 96v2m1 -110v5m0 3v7m0 93v2m0 60v1m1 -169v4m0 4v8m0 90v2m0 60v1m1 -168v4m0 5v4m0 1v1m0 93v2m0 57v1m1 -166v2m0 6v7m0 93v1m0 56v1m1 -165v2m0 10v4m0 89v4m0 55v1m1 -164v3m0 7v2m0 3v1m0 92v1m0 53v1m1 -168v1m0 5v4m0 11v2m0 90v1m1 -106v5m0 6v7m0 90v1m0 316v3m0 3v3m1 -433v6m0 6v1m0 4v2m0 88v1m0 51v1m1 -158v4m0 11v3m0 85v1m0 53v1m1 -159v8m0 10v1m0 86v1m1 -105v8m0 8v2m1 -25v3m0 4v7m0 10v1m0 86v1m0 320v3m1 -436v3m0 10v3m0 9v2m0 84v1m0 55v1m1 -164v1m0 7v3m0 5v2m0 2v3m0 84v1m0 324v3m1 -442v1m0 4v6m0 2v5m0 5v3m0 1v3m0 84v3m0 54v1m1 -164v2m0 8v2m0 5v4m0 84v3m0 56v1m1 -172v5m0 2v5m0 7v3m0 2v3m0 85v7m1 -124v2m0 5v9m0 11v2m0 1v2m0 85v1m0 7v1m0 50v1m1 -176v4m0 4v2m0 1v8m0 6v3m0 2v2m0 84v1m0 57v1m1 -172v1m0 3v2m0 9v2m0 6v2m0 4v1m0 85v1m0 55v1m1 -172v7m0 9v2m0 1v1m0 3v6m1 -28v8m0 7v5m0 96v1m1 -115v4m0 1v3m0 10v3m0 94v1m0 50v1m0 269v3m1 -438v5m0 1v3m0 8v4m0 92v2m1 -114v1m0 6v3m0 8v3m0 90v1m0 54v2m1 -168v3m0 5v3m0 4v6m0 148v1m1 -171v8m0 1v3m0 8v4m0 86v1m1 -107v3m0 1v6m0 6v4m0 86v2m0 59v1m1 -167v6m0 10v2m0 87v1m1 -118v4m0 1v1m0 7v6m0 10v1m0 86v2m0 62v3m1 -185v2m0 1v1m0 1v2m0 1v2m0 6v3m0 3v6m0 3v1m0 86v1m1 -118v6m0 3v1m0 1v8m0 2v9m0 1v1m0 84v1m0 66v1m1 -186v8m0 4v2m0 1v1m0 1v4m0 3v10m0 83v1m0 330v3m1 -450v5m0 10v1m0 4v1m0 4v9m0 83v1m1 -117v5m0 10v2m0 4v3m0 1v8m0 84v1m1 -116v5m0 10v7m0 1v2m0 3v3m0 84v1m1 -116v2m0 2v3m0 11v5m0 2v2m1 -24v5m0 10v7m0 2v1m0 88v1m0 63v1m1 -178v2m0 13v1m0 1v9m0 87v1m1 -112v2m0 15v8m0 86v1m1 -110v1m0 15v8m0 85v1m1 -111v4m0 15v4m0 87v1m0 67v2m1 -185v5m0 3v1m0 1v2m0 14v3m0 83v2m0 71v1m0 257v3m1 -447v4m0 1v1m0 2v2m0 2v4m0 12v3m0 81v1m0 78v1m1 -205v1m0 10v13m0 2v3m0 12v4m0 79v2m1 -123v2m0 10v3m0 1v11m0 13v2m0 72v1m0 4v3m0 83v3m1 -208v3m0 12v1m0 7v5m0 8v1m0 3v2m0 75v3m0 87v1m1 -208v3m0 2v2m0 8v2m0 5v6m0 7v3m0 1v1m0 1v2m0 75v3m0 86v1m1 -206v3m0 2v1m0 5v4m0 13v3m0 8v3m0 71v4m0 86v2m1 -204v4m0 1v2m0 5v3m0 13v6m0 5v2m0 69v2m0 91v1m1 -204v5m0 2v2m0 3v5m0 10v7m0 3v5m0 70v2m0 89v1m1 -202v7m0 3v5m0 1v1m0 11v4m0 3v2m0 74v3m0 86v1m1 -200v6m0 1v9m0 11v1m0 1v7m0 75v6m0 82v1m1 -199v2m0 1v12m0 14v5m0 75v2m0 85v2m1 -207v4m0 5v3m0 2v5m0 3v2m0 15v2m0 78v4m0 83v1m1 -205v7m0 3v1m0 2v14m0 10v2m0 76v2m0 88v1m0 245v3m1 -451v4m0 5v2m0 1v6m0 2v5m0 1v1m0 8v2m0 75v5m0 87v1m1 -205v5m0 5v1m0 3v15m0 4v4m0 77v6m0 83v2m1 -202v5m0 2v3m0 2v2m0 2v1m0 2v3m0 2v3m0 1v6m0 77v2m0 3v1m0 82v2m1 -203v4m0 4v2m0 1v2m0 1v6m0 3v12m0 84v5m0 75v4m1 -204v2m0 3v2m0 3v2m0 2v1m0 1v16m0 92v3m0 75v4m1 -209v7m0 4v2m0 2v2m0 1v17m0 80v8m0 3v2m0 79v3m1 -208v6m0 1v1m0 3v4m0 3v2m0 5v1m0 1v10m0 73v3m0 93v1m1 -207v13m0 2v1m0 4v1m0 4v6m0 5v2m0 75v8m0 85v2m0 235v3m1 -443v2m0 2v4m0 3v4m0 2v1m0 1v1m0 3v12m0 84v3m0 83v1m1 -217v1m0 6v1m0 3v1m0 1v7m0 1v10m0 1v1m0 3v12m0 86v2m1 -128v1m0 5v2m0 7v6m0 2v2m0 5v10m0 87v2m0 76v2m1 -213v4m0 4v1m0 5v2m0 6v10m0 5v5m0 91v2m0 61v14m1 -209v3m0 4v5m0 1v1m0 1v1m0 9v8m0 4v8m0 87v1m0 70v3m1 -196v1m0 1v1m0 1v2m0 12v7m0 5v5m0 89v1m0 70v1m1 -203v3m0 5v7m0 10v8m0 2v2m0 5v2m0 87v2m0 56v3m0 11v2m1 -204v4m0 1v9m0 10v3m0 2v5m0 1v2m0 94v2m0 58v12m0 247v3m1 -452v5m0 1v4m0 1v4m0 10v3m0 2v1m0 5v4m0 91v2m0 51v2m0 2v2m0 1v4m0 2v5m1 -201v5m0 1v5m0 3v1m0 11v1m0 3v2m0 1v6m0 92v6m0 34v9m0 2v6m0 1v1m1 -190v2m0 1v14m0 10v2m0 3v1m0 2v4m0 93v4m0 10v3m0 22v2m0 5v2m1 -176v5m0 3v8m0 9v1m0 4v5m0 92v2m0 12v1m0 34v4m1 -182v3m0 4v8m0 13v2m0 3v3m0 93v2m0 35v1m0 3v11m1 -193v2m0 12v5m0 1v7m0 14v1m0 5v1m0 94v6m0 19v3m0 4v5m0 1v3m0 7v1m1 -178v3m0 7v2m0 2v2m0 14v2m0 102v8m0 12v2m0 1v4m0 4v10m1 -176v18m0 1v3m0 11v1m0 96v4m0 24v13m0 6v4m1 -188v1m0 1v2m0 4v6m0 4v5m0 4v3m0 10v2m0 94v2m0 14v4m0 10v8m0 3v5m1 -182v5m0 7v3m0 4v7m0 1v3m0 1v1m0 7v3m0 93v6m0 13v1m0 10v10m1 -173v2m0 1v2m0 5v22m0 5v3m0 98v5m0 22v3m0 3v3m0 9v3m0 163v3m0 2v1m1 -352v2m0 1v1m0 3v16m0 2v4m0 6v3m0 102v2m0 20v5m0 13v2m0 172v3m1 -357v5m0 4v13m0 5v4m0 6v1m0 107v4m0 11v2m0 187v2m1 -350v6m0 1v1m0 1v3m0 6v4m0 4v3m0 7v1m0 111v3m0 8v6m0 182v1m0 1v3m1 -352v9m0 2v3m0 5v2m0 5v3m0 5v3m0 113v9m0 9v2m0 171v2m0 5v11m1 -357v8m0 4v1m0 3v4m0 5v7m0 2v1m0 98v4m0 8v6m0 6v7m0 1v1m0 1v7m0 165v7m0 3v7m1 -354v7m0 3v2m0 7v5m0 3v4m0 93v10m0 1v9m0 4v4m0 3v1m0 183v5m0 2v9m0 88v3m1 -444v12m0 1v7m0 5v5m0 92v12m0 8v8m0 3v4m0 190v5m1 -359v2m0 5v3m0 3v7m0 2v9m0 4v2m0 103v1m0 5v7m0 7v12m0 167v1m0 1v7m0 12v1m1 -359v3m0 2v13m0 4v5m0 99v1m0 19v1m0 7v4m0 1v2m0 3v3m1 -159v20m0 95v4m0 1v3m0 16v4m0 7v6m0 3v4m0 164v1m1 -332v3m0 1v2m0 4v6m0 2v2m0 3v3m0 97v7m0 201v2m0 21v1m1 -354v3m0 2v2m0 3v3m0 4v1m0 4v3m0 133v4m0 171v1m0 20v1m0 89v3m1 -458v1m0 12v3m0 1v2m0 4v3m0 2v8m0 309v3m0 17v1m0 89v3m1 -458v3m0 11v7m0 1v4m0 3v3m0 1v5m0 139v1m0 159v6m0 1v10m0 7v4m1 -367v3m0 3v1m0 13v4m0 8v8m0 298v2m0 12v2m0 1v2m0 1v2m0 4v3m1 -366v2m0 5v2m0 10v6m0 2v1m0 1v1m0 1v1m0 1v2m0 302v1m0 16v2m0 1v7m0 1v1m1 -364v2m0 4v1m0 3v2m0 4v5m0 6v6m0 302v3m0 14v8m1 -358v1m0 5v2m0 2v10m0 5v2m0 307v7m0 13v5m1 -364v3m0 1v2m0 9v13m0 3v3m0 3v1m0 308v7m0 7v3m1 -364v7m0 9v15m0 3v2m0 311v5m0 4v4m1 -362v1m0 10v2m0 8v3m0 5v5m0 1v3m0 298v2m0 7v2m0 4v3m1 -346v5m0 18v1m0 1v1m0 5v2m0 293v9m0 3v13m1 -357v6m0 1v2m0 23v8m0 290v10m0 16v2"/>
<path stroke="#00ffff" d="M170.5 299v2m0 106v1m0 206v3m1 -316v4m0 311v4m1 -318v4m0 101v1m0 212v6m0 38v1m1 -363v5m0 318v2m1 -326v1m0 325v2m1 -327v4m0 322v1m0 34v1m1 -360v4m0 324v2m1 -325v2m0 4v1m0 318v2m1 -328v3m0 4v2m0 321v2m1 -326v2m0 91v1m0 232v2m1 -327v4m0 326v1m1 -326v5m0 321v2m1 -324v2m0 324v2m1 -326v3m0 322v5m0 7v3m1 -341v1m0 1v5m1 -19v2m0 4v7m0 1v6m1 -22v5m0 8v7m0 326v3m0 3v3m1 -351v9m0 2v3m0 334v3m1 -339v7m1 0v2m1 -1v1m1 -1v2m1 -1v1m0 317v3m1 -318v1m1 -2v2m1 -4v2m1 -18v2m0 13v2m1 -24v2m0 2v2m0 2v2m0 12v3m1 -25v3m0 6v4m0 11v3m1 -25v1m0 19v4m1 -25v4m1 -6v2m1 0v1m0 1v3m1 -3v1m1 -1v2m1 -1v2m0 92v1m1 -95v1m1 -1v1m0 92v3m0 241v3m1 -339v1m1 335v3m1 -341v2m1 0v2m1 -4v2m1 -2v2m1 -2v3m1 -1v10m0 6v1m1 -9v10m0 315v3m1 -324v8m1 -13v15m1 -17v9m0 3v2m0 320v3m1 -342v13m1 -5v9m0 328v3m1 -336v1m0 3v1m0 3v2m0 2v3m1 -14v4m0 2v3m0 67v1m1 -83v1m0 3v3m0 3v1m1 -9v3m1 -1v2m2 4v6m0 322v3m1 -332v1m0 1v5m1 -10v2m0 2v5m0 255v3m1 -272v5m0 4v2m1 -7v2m0 322v3m1 -327v5m1 -8v6m0 271v3m1 -287v4m0 2v5m0 332v3m1 -354v4m0 3v5m1 -16v1m0 7v3m1 -12v1m1 -1v3m1 -3v5m0 112v1m0 223v3m1 -347v6m0 111v1m1 -120v1m0 351v3m1 -356v1m0 286v3m0 2v2m1 -294v1m0 293v2m1 -295v3m1 -5v5m0 346v3m1 -356v7m0 1v1m1 -11v3m0 122v1m0 235v3m1 -365v2m0 305v3m1 -309v2m1 -1v2m1 -3v1m1 -3v1m1 0v1m1 -1v3m1 -1v2m0 349v3m1 -355v3m1 -3v1m1 -4v3m1 -3v2m1 -2v2m1 -1v2m1 -3v3m1 -2v2m0 355v3m0 3v3m1 -366v2m1 -1v1m1 -1v2m1 -3v3m1 -4v2m1 -2v2m1 -2v1m1 0v1m1 -2v1m1 -1v1m1 -1v2m0 359v3m1 -364v1m1 -1v1m0 360v3m1 -364v2m1 -5v2m0 359v3m1 -366v1m1 -2v1m1 -2v1m0 370v3m2 -374v2m0 363v3m1 -369v2m1 -2v3m1 -3v3m1 -5v2m0 1v1m1 -2v1m1 -1v4m1 -4v1m0 1v4m1 -6v5m1 -5v3m1 -2v4m0 367v3m1 -374v3m0 365v3m1 -373v4m0 139v1m1 -144v4m1 -5v4m1 -2v2m1 -2v2m1 -2v3m1 -3v4m1 -5v3m1 -3v4m1 -4v3m1 -3v1m0 143v1m1 -145v2m1 -2v2m0 143v1m0 233v3m1 -382v2m1 0v2m1 -2v5m1 -4v6m1 -3v2m0 362v3m1 -368v2m1 -4v2m0 362v3m1 -367v2m1 0v2m1 0v1m1 -1v1m3 -2v1m0 372v3m1 -377v1m1 -2v1m0 143v1m1 -145v1m2 0v1m1 -1v1m1 142v1m1 -143v1m1 0v1m1 -2v1m0 143v1m1 -146v1m0 364v3m1 -370v1m0 375v3m1 -380v1m1 -4v1m0 373v3m1 -379v2m1 -2v1m0 147v1m1 -148v2m0 145v1m1 -148v2m0 145v1m1 -148v2m0 145v1m1 -149v1m0 375v3m1 -375v1m0 377v3m2 -380v3m0 368v3m1 -375v3m0 369v3m0 3v3m1 -380v1m1 -3v3m1 -4v1m0 2v2m0 369v3m1 -379v1m1 -1v1m1 -1v1m1 -2v1m1 0v2m0 380v3m1 -384v1m0 371v3m1 -376v2m1 -2v1m1 -1v1m0 146v1m0 234v3m1 -384v1m1 0v1m0 373v3m1 -379v2m1 -2v1m1 -2v1m0 144v1m0 237v3m1 -385v1m0 145v2m1 -148v1m1 1v2m1 -2v1m1 -1v2m1 -2v2m1 1v1m1 1v1m1 0v2m0 146v1m1 -148v1m1 -2v2m1 -2v2m1 1v2m0 141v1m0 221v3m2 -365v2m1 -5v3m0 2v3m1 -14v6m1 -4v1m1 0v2m1 1v3m0 359v3m1 -363v1m0 150v1m1 -150v2m1 -2v2m0 359v3m1 -364v1m1 1v1m1 0v2m1 1v4m1 -2v10m1 -10v15m1 -15v5m1 -5v3m0 356v3m1 -360v4m1 -4v16m1 -12v11m1 -12v12m0 128v1m0 213v3m1 -357v4m0 3v8m0 125v1m0 204v3m1 -346v1m0 4v1m0 131v3m1 -141v1m3 -1v1m1 -2v1m1 -1v1m1 -2v1m1 -4v1m1 -1v1m2 -1v1m1 -3v1m1 -1v1m1 -2v1m0 354v3m2 -359v1m0 352v3m1 -357v1m1 -2v1m1 -3v1m1 -1v1m0 365v3m1 -368v3m1 -3v2m0 354v3m1 -359v2m1 -2v1m1 -3v2m0 356v3m0 6v3m1 -370v1m0 366v3m1 -371v1m0 355v3m1 -359v1m0 145v1m1 -147v1m1 -1v1m1 0v1m1 -2v1m0 358v3m1 -361v1m1 0v1m1 0v1m1 364v3m1 -369v1m2 -1v1m1 -1v2m0 364v3m1 -368v1m3 1v1m2 0v1m1 -1v1m1 0v1m2 1v1m1 -1v1m1 -1v1m0 140v1m0 217v3m1 -220v1m1 -143v1m4 -1v1m1 -2v1m1 -2v2m0 359v3m1 -365v2m1 -3v2m1 -2v1m1 -1v1m1 -2v2m1 -1v2m1 -1v1m1 -2v3m1 -4v1m1 -3v3m1 -5v3m1 -4v2m1 -1v3m0 365v3m1 -367v2m1 -1v2m0 149v1m1 -151v3m0 100v2m1 -104v2m0 100v3m0 4v4m0 79v1m1 -192v1m0 102v4m0 5v4m0 76v1m1 -192v1m0 104v6m0 3v3m1 -117v1m0 98v14m1 -112v2m0 97v11m1 -108v2m0 85v3m0 3v10m0 3v7m0 234v3m1 -346v1m0 80v5m0 1v7m0 1v4m0 8v2m0 234v3m1 -346v1m0 80v10m0 17v3m1 -110v1m0 82v10m0 16v3m1 -26v7m0 18v3m0 13v1m0 15v1m0 31v5m1 -88v2m0 16v7m0 2v1m0 2v4m0 49v4m0 4v2m1 -183v1m0 91v4m0 14v2m0 6v2m0 52v2m0 2v1m0 4v2m1 -87v5m0 5v5m0 61v2m0 3v6m1 -182v1m0 96v1m0 3v2m0 68v2m0 6v3m1 -180v1m0 92v9m0 7v1m0 59v2m0 8v2m0 156v3m1 -339v1m0 90v4m0 2v4m0 68v4m0 2v3m1 -89v4m0 4v1m0 1v3m0 68v9m1 -89v7m0 5v2m0 7v3m0 55v9m0 158v3m1 -337v1m0 94v4m0 13v3m0 50v1m0 5v1m0 2v3m1 -177v1m0 164v1m0 9v1m1 -11v7m0 3v4m0 152v3m1 -169v2m0 4v2m0 4v5m1 -184v1m0 166v2m0 8v8m1 -19v1m0 12v5m1 -186v1m0 120v1m0 45v1m0 15v2m1 -16v1m0 11v3m0 151v3m1 -217v1m0 49v6m0 2v4m1 -184v1m0 172v5m1 -179v1m0 172v2m0 5v1m0 159v3m1 -345v2m0 181v4m1 -188v2m0 172v1m0 16v4m1 -196v1m0 174v1m0 16v5m1 -199v1m0 175v1m0 8v2m0 1v5m0 5v3m1 -201v1m0 176v2m0 9v4m0 1v2m1 -195v2m0 175v1m0 9v4m1 -191v1m0 60v3m0 112v1m0 13v3m1 -194v1m0 67v1m0 109v1m0 10v4m1 -194v1m0 60v1m0 10v3m0 3v7m0 4v7m0 83v1m0 12v2m1 -195v2m0 59v1m0 13v3m0 2v5m0 13v2m0 80v1m0 12v7m1 -125v1m0 5v3m0 14v5m0 77v1m0 18v2m1 -201v1m0 76v7m0 15v4m0 79v1m0 15v6m1 -204v1m0 95v4m0 82v1m0 15v6m1 -204v1m0 97v3m0 40v1m0 41v4m0 10v11m1 -208v1m0 99v2m0 82v2m0 1v20m1 -209v2m0 99v4m0 81v19m1 -207v3m0 98v4m0 83v2m0 5v3m1 -199v1m0 66v1m0 36v2m0 83v1m0 15v1m0 151v3m1 -361v1m0 68v1m0 34v3m0 84v1m0 15v6m1 -213v2m0 68v2m0 34v3m0 84v2m0 163v3m1 -361v1m0 70v1m0 35v1m0 84v1m0 24v3m1 -220v1m0 69v1m0 38v3m0 79v1m1 -191v1m0 67v1m0 33v4m0 1v3m0 35v1m0 44v1m0 22v2m0 3v1m1 -218v1m0 66v1m0 34v4m0 83v1m0 23v3m1 -218v2m0 101v5m0 40v2m0 42v1m0 21v2m1 -215v2m0 101v5m0 84v1m0 20v1m1 -214v2m0 66v1m0 37v2m0 43v2m0 39v2m0 19v1m1 -214v1m0 107v5m0 41v3m0 34v3m0 19v1m1 -216v2m0 67v1m0 41v3m0 45v1m0 32v1m0 22v1m1 -217v1m0 69v1m0 44v1m0 45v1m0 31v1m0 22v1m1 -217v2m0 68v1m0 45v2m0 44v1m0 29v1m0 23v1m1 -217v1m0 69v1m0 46v3m0 42v1m0 29v1m0 161v3m1 -357v2m0 68v1m0 48v2m0 40v1m0 31v1m0 163v3m1 -359v2m0 63v5m0 52v1m0 28v6m0 35v1m0 24v1m1 -219v1m0 58v7m0 58v1m0 26v1m0 42v1m0 23v1m1 -220v2m0 58v6m0 60v2m0 65v1m1 -193v1m0 53v4m0 1v6m0 62v2m0 20v1m0 41v2m0 22v1m1 -215v1m0 47v8m0 70v1m0 20v1m0 42v3m0 20v1m0 142v3m1 -358v1m0 46v1m0 7v1m0 69v1m0 1v1m0 61v2m0 22v1m1 -214v1m0 46v1m0 7v5m0 64v1m0 64v1m1 -190v2m0 38v2m0 6v1m0 6v4m0 64v2m0 64v2m0 23v1m1 -215v1m0 37v1m0 11v2m0 3v1m0 68v1m0 64v1m0 24v1m0 1v1m1 -217v1m0 50v2m0 2v6m0 63v1m0 87v2m1 -215v1m0 35v1m0 15v3m0 1v1m0 1v4m0 63v2m0 18v1m0 45v1m0 21v2m1 -215v1m0 34v1m0 16v2m0 3v4m0 65v2m0 15v2m0 46v1m1 -192v1m0 32v1m0 20v8m0 69v6m0 3v3m0 49v1m0 19v1m1 -212v1m0 30v1m0 22v3m0 133v1m0 161v3m1 -357v1m0 31v2m0 20v4m0 134v1m0 19v1m1 -214v1m0 30v4m0 24v3m0 132v1m1 -195v2m0 33v1m0 159v1m1 -195v2m0 32v1m0 159v1m0 14v1m1 -205v2m0 26v1m0 160v2m0 11v1m1 -205v3m0 3v1m0 23v1m0 22v2m0 136v1m0 12v1m1 -205v1m0 2v6m0 15v3m0 2v1m0 160v1m0 12v1m1 -198v5m0 13v6m0 159v2m0 11v1m1 -187v3m0 3v6m0 160v2m0 10v2m0 152v3m1 -168v6m0 5v1m1 -8v7m1 -182v5m0 171v5m0 158v3m1 -172v1m0 4v4m1 -10v1m0 5v5m1 -10v3m0 7v1m1 -8v7m1 -7v2m0 1v4m2 -2v2m8 159v3m7 -295v1m0 1v5m1 -6v4m0 2v4m1 -7v8m1 -5v1m0 2v1m1 -4v4m1 -6v4m1 -5v6m1 -6v3m1 1v4m1 -8v3m0 3v3m1 -3v2m1 -14v3m0 297v3m1 -310v4m0 2v5m1 -3v4m0 11v1m1 -17v7m0 10v1m1 -15v3m0 12v1m0 26v1m0 242v3m1 -288v2m0 14v1m0 26v2m1 -45v2m0 15v1m0 270v3m1 -292v7m0 11v1m1 -20v4m0 13v3m0 264v3m1 -285v1m0 1v15m1 -8v6m2 -1v6m1 -16v7m0 9v5m1 -27v2m0 1v4m0 3v2m0 15v4m0 8v2m1 -49v7m0 3v3m0 25v2m0 6v1m0 1v5m1 -51v6m0 29v4m0 5v3m0 1v2m1 -46v4m0 31v5m0 4v3m1 -56v2m0 5v3m0 44v7m1 -61v9m0 50v2m0 249v3m1 -313v5m0 54v4m0 1v1m1 -69v1m0 4v7m0 55v2m1 -68v3m0 3v5m0 56v2m1 -69v3m0 5v5m0 55v4m1 -65v6m0 59v1m1 -69v7m0 61v1m1 -68v4m0 1v3m0 59v2m1 -63v5m0 57v2m1 -80v3m0 15v3m0 58v1m1 -81v3m0 22v2m0 16v1m0 35v1m1 -55v2m0 10v1m0 40v1m1 -77v10m0 14v2m0 5v3m0 15v2m0 23v2m0 235v3m1 -317v7m0 5v5m0 5v1m0 7v5m0 19v1m0 22v1m1 -79v4m0 1v1m0 6v1m0 4v2m0 2v3m0 32v1m0 17v2m1 -76v1m0 11v1m0 2v18m0 24v1m0 16v2m1 -77v1m0 15v6m0 2v7m0 32v2m0 9v2m1 -76v2m0 17v15m0 32v4m1 -72v1m0 32v3m1 -35v2m0 20v11m0 2v1m1 -34v2m0 8v19m1 -30v2m0 8v3m1 -12v2m0 10v2m1 -14v1m0 12v4m1 -17v1m0 13v8m1 -24v1m0 15v5m1 -22v1m0 18v2m0 294v3m1 -319v1m0 20v7m1 -30v2m0 28v5m0 292v3m1 -330v2m0 25v3m0 3v4m1 -39v3m0 22v4m0 5v2m1 -36v1m0 18v4m1 -24v2m0 18v2m1 -22v1m0 20v2m1 -22v1m0 18v3m1 -21v1m0 15v4m0 308v3m1 -333v11m0 6v2m1 -21v2m0 2v1m0 13v2m1 -20v2m0 15v5m1 1v1m1 -20v2m0 18v2m1 -19v7m0 9v1m0 1v2m1 -26v2m0 1v9m0 5v8m1 -26v2m0 2v2m0 4v2m0 4v11m0 296v3m1 -326v1m0 17v9m1 -26v1m0 15v3m1 -20v1m0 19v2m1 -22v1m0 18v5m1 -23v2m0 19v2m0 308v3m1 -333v2m0 4v7m0 1v8m1 -21v3m0 3v3m0 12v3m1 -24v1m0 20v8m0 288v3m1 -311v1m0 12v5m1 -21v15m0 2v5m1 -12v5m0 1v6m1 -15v5m0 2v1m1 -8v3m0 8v4m1 -17v17m1 -19v2m0 1v4m0 5v8m1 -18v10m0 4v4m1 -18v15m0 2v2m1 -18v6m0 1v1m0 1v9m1 -17v17m1 -15v8m0 5v3m1 -17v4m0 2v3m0 3v6m1 -18v1m0 6v1m0 9v2m1 -20v2m0 19v2m1 -22v1m1 -2v1m1 -1v1m0 24v1m1 -26v1m0 25v2m1 -27v2m0 24v2m1 -29v2m0 26v1m1 -1v1m1 -31v1m0 30v1m1 -32v1m0 31v1m1 -33v1m0 32v2m1 -37v2m0 37v2m1 -40v2m1 -3v2m0 40v3m1 -46v1m0 39v6m1 -48v2m0 44v2m1 -48v2m0 44v2m1 -48v1m0 46v4m0 266v3m1 -319v2m0 45v2m1 -47v3m0 38v6m0 261v3m1 -309v1m0 39v3m1 -44v2m0 41v4m1 -48v3m0 41v2m1 -46v7m0 36v4m1 -49v2m0 3v2m0 38v5m1 -51v1m0 44v6m1 -51v1m0 44v5m1 -51v7m0 38v1m1 -39v5m0 30v1m1 -44v7m0 8v2m1 -21v2m0 10v5m0 4v3m1 -24v1m0 39v1m1 -41v3m0 37v1m1 -42v15m1 -17v3m0 1v1m0 8v2m0 28v1m1 -45v2m0 42v1m0 282v3m1 -330v3m1 -3v3m0 45v1m1 -50v3m1 -2v1m0 46v1m1 -51v2m1 -1v2m1 -3v3m0 47v1m1 -53v3m0 50v1m1 -54v2m1 -1v1m1 -1v1m1 0v1m1 0v4m0 50v1m1 -54v3m0 50v1m0 3v1m1 -55v3m0 52v1m1 -54v2m0 54v1m1 -59v5m0 55v3m1 -64v3m0 1v3m0 55v2m1 -63v3m0 56v4m0 5v3m0 254v3m1 -328v4m0 57v3m1 -65v6m0 51v5m1 -64v2m0 56v4m1 -61v5m0 47v4m0 1v2m1 -60v6m0 45v1m1 -52v8m0 42v1m1 -49v3m0 41v1m1 -46v2m1 -2v2m1 -6v2m0 45v1m1 -49v2m0 45v2m1 -48v1m0 47v1m1 -48v1m0 46v1m1 -48v1m0 47v1m0 278v3m1 -330v3m0 46v1m0 277v3m1 -327v1m0 46v1m1 -49v2m0 47v1m1 -50v2m1 1v3m0 42v1m1 -44v1m0 328v3m1 -333v3m0 41v1m1 -45v3m0 42v1m1 -44v1m1 -2v2m0 43v1m1 -45v3m1 -3v4m0 41v1m1 -48v8m1 -9v5m0 45v1m1 -51v4m0 49v1m1 -54v3m0 5v3m1 -8v4m0 1v3m0 36v1m1 -45v6m1 -2v3m0 36v1m0 275v3m1 -317v3m1 -6v4m1 -2v2m0 2v4m0 313v3m1 -322v6m1 -9v6m0 2v1m1 -1v1m1 -5v4m0 33v1m0 283v3m1 -326v8m0 32v1m1 -43v8m0 34v1m1 -39v5m0 34v1m1 -36v1m1 2v6m0 29v1m1 -43v4m0 4v2m0 33v1m0 4v1m1 -44v3m0 37v7m1 -50v2m0 1v8m0 39v2m1 -56v3m0 3v10m0 39v5m1 -58v3m0 10v1m0 43v2m1 -55v4m0 50v2m1 -49v2m0 36v4m0 1v6m1 -52v6m0 37v2m1 -42v2m0 4v2m0 34v1m1 -41v3m0 29v4m1 -36v2m0 21v5m0 1v1m0 6v1m0 2v1m1 -42v1m0 4v3m0 16v1m0 5v1m0 8v2m1 -44v10m1 -10v6m0 20v1m1 -23v1m1 -4v2m0 1v3m1 -7v3m0 1v1m0 1v2m0 17v1m0 278v3m1 -313v6m0 4v6m0 14v1m1 -53v7m0 14v18m1 -39v4m0 4v2m0 14v6m0 3v7m0 11v1m1 -45v3m0 9v12m0 1v1m0 7v3m0 7v1m1 -50v2m0 10v22m0 13v3m1 -32v11m0 2v2m0 15v2m0 278v6m1 -316v7m0 3v4m0 18v1m1 -33v2m0 3v4m0 1v6m0 17v1m1 -36v8m0 8v3m0 17v1m1 -30v4m0 3v1m1 -4v2m0 3v6m0 290v3m1 -302v14m0 9v1m1 -22v8m1 -8v2m0 1v3m0 16v1m1 -20v3m1 0v2m1 -8v1m0 1v6m0 15v1m1 -24v5m0 18v1m1 -24v11m0 12v1m1 -41v9m0 1v2m0 7v6m0 15v1m1 -49v6m0 2v7m0 4v17m0 11v2m1 -53v7m0 3v2m0 5v4m0 3v12m0 17v1m1 -57v2m0 2v4m0 3v5m0 3v5m0 3v4m0 2v5m0 19v1m1 -59v3m0 19v17m0 1v5m0 13v1m1 -57v3m0 20v9m0 3v9m0 13v2m1 -59v3m0 23v1m0 5v1m0 6v6m0 15v1m1 -60v5m0 54v1m1 -62v4m0 58v3m0 270v3m1 -338v4m0 60v3m1 -68v5m0 62v1m1 -68v4m0 63v1m1 -69v1m1 67v1m0 259v3m1 -331v4m0 64v1m1 -68v2m0 65v1m1 -70v2m0 68v1m1 -72v2m0 71v1m1 -74v1m0 73v1m1 -77v3m1 -3v1m0 77v1m1 -80v1m0 79v1m0 258v3m1 -342v1m1 -1v1m0 79v1m1 -80v2m0 29v8m0 35v1m0 263v3m1 -340v2m0 28v6m0 36v1m1 -73v4m1 -5v3m1 -4v1m0 70v1m0 276v3m1 -350v2m0 67v1m1 -69v3m0 65v1m1 -68v4m0 1v6m1 -10v9m0 57v1m1 -66v1m0 5v1m1 -6v2m0 62v1m1 -64v2m0 60v1m1 -62v5m1 -5v5m0 56v1m1 -63v3m0 59v1m1 -60v2m0 56v1m1 -59v4m0 54v1m0 273v3m0 3v3m1 -340v2m1 -107v2m0 102v6m0 51v1m0 268v3m1 -330v6m0 52v1m1 -164v1m0 103v2m0 58v1m1 -166v3m0 102v2m1 -106v4m0 100v3m0 1v2m1 -109v5m0 4v1m0 96v2m1 -108v6m0 101v2m0 325v3m1 -436v3m0 2v1m0 1v3m0 97v7m1 -112v3m0 2v2m0 2v3m0 94v2m1 -106v1m0 5v5m0 93v1m0 51v1m1 -154v6m0 98v2m0 48v1m1 -153v6m0 1v4m0 91v3m0 322v3m1 -430v11m0 89v1m0 323v3m1 -424v10m0 88v1m1 -98v2m0 2v4m0 89v1m0 51v1m1 -151v3m0 3v4m0 88v1m0 52v1m1 -151v4m0 1v4m0 87v1m0 53v1m1 -152v5m0 2v2m0 88v2m0 53v1m1 -153v5m0 3v1m0 90v3m1 -100v5m0 91v4m0 51v1m0 267v3m1 -419v2m0 95v4m0 1v6m0 41v1m1 -148v1m0 88v7m0 1v10m1 -125v1m0 17v2m0 87v2m0 4v2m0 5v3m0 1v2m1 -127v9m0 10v4m0 87v1m1 -110v9m0 100v1m0 53v1m1 -162v7m0 102v2m1 -113v1m0 3v10m0 98v1m0 328v3m1 -442v1m0 3v8m0 98v4m0 46v1m1 -164v6m0 3v8m0 94v5m0 48v1m1 -163v5m0 3v4m0 95v1m0 57v1m1 -162v1m0 3v8m0 91v1m0 58v1m1 -164v1m0 6v6m0 92v3m1 -104v6m0 1v3m0 90v3m0 57v1m1 -160v8m0 1v1m0 89v4m0 57v1m1 -180v1m0 1v1m0 2v1m0 11v3m0 6v3m0 88v2m0 64v1m1 -179v3m0 10v2m0 9v1m0 86v1m0 334v3m1 -449v4m0 9v3m0 94v1m1 -113v7m0 1v2m0 6v4m0 93v2m0 63v1m0 257v3m1 -438v6m0 3v1m0 9v1m0 93v2m0 61v1m1 -175v4m0 4v2m0 7v1m0 93v1m0 62v1m0 261v3m1 -442v2m0 3v2m0 8v1m0 5v2m0 91v1m1 -109v2m0 1v2m0 4v1m0 7v2m0 90v1m1 -113v7m0 2v1m0 1v2m0 1v1m0 97v1m0 62v1m1 -174v5m0 4v1m0 3v2m0 95v2m1 -111v2m0 2v1m0 9v1m0 94v1m0 64v1m0 261v3m1 -437v10m0 3v2m0 92v2m0 64v1m1 -178v3m0 1v1m0 2v11m0 1v2m0 88v3m0 67v1m1 -182v1m0 1v2m0 8v7m0 4v1m0 85v1m0 72v5m1 -175v6m0 5v1m0 85v1m0 77v3m1 -189v1m0 11v13m0 82v1m0 77v1m0 1v1m0 1v1m1 -189v7m0 5v8m0 1v3m0 80v3m0 78v6m1 -204v2m0 12v5m0 6v7m0 3v1m0 1v1m0 80v2m0 77v7m1 -202v2m0 10v13m0 3v8m0 78v9m0 75v2m1 -198v1m0 10v13m0 6v5m0 73v3m0 5v2m0 78v3m1 -198v2m0 10v10m0 7v3m0 77v2m0 85v2m0 248v3m1 -437v1m0 1v2m0 1v8m0 4v3m0 79v6m0 79v1m1 -193v1m0 9v1m0 3v7m0 1v1m0 88v2m0 77v1m0 1v1m0 249v3m1 -448v1m0 12v3m0 1v10m0 82v14m0 68v3m1 -193v2m0 10v5m0 4v6m0 84v9m0 73v1m1 -193v2m0 14v10m0 80v10m0 77v1m1 -191v1m0 13v1m0 1v8m0 82v4m0 82v1m1 -193v3m0 15v4m0 87v1m0 78v1m0 1v2m0 245v3m1 -438v2m0 10v2m0 3v1m0 89v7m0 72v3m1 -197v4m0 5v1m0 110v4m0 70v1m1 -193v3m0 5v1m0 111v2m0 71v2m1 -192v2m0 113v6m0 71v2m0 244v3m0 6v3m1 -441v5m0 1v1m0 86v9m0 83v1m1 -193v2m0 6v4m0 6v5m0 85v1m0 83v1m1 -201v2m0 14v1m0 1v3m0 99v3m0 79v1m1 -196v1m0 10v1m0 1v3m0 100v2m0 76v2m1 -200v7m0 10v5m0 99v3m0 49v12m0 3v5m0 1v3m1 -195v3m0 2v1m0 10v5m0 98v3m1 -121v1m0 6v2m0 8v4m0 96v3m0 59v8m1 -187v2m0 7v3m0 7v5m0 95v2m0 51v7m0 6v4m1 -187v2m0 6v2m0 8v2m0 98v4m0 37v2m0 7v6m0 3v11m1 -188v3m0 17v1m0 98v2m0 49v7m1 -180v1m0 4v3m0 13v5m0 97v2m0 26v23m0 2v2m0 2v1m0 261v3m1 -443v3m0 1v4m0 6v1m0 6v1m0 104v3m0 3v5m0 13v2m0 6v2m0 9v2m1 -180v1m0 14v3m0 6v1m0 109v10m0 3v4m0 13v1m0 2v2m0 2v5m1 -158v6m0 1v2m0 104v12m0 1v14m0 4v16m1 -175v4m0 8v3m0 1v1m0 7v1m0 103v4m0 3v28m0 1v3m0 276v3m1 -442v1m0 7v7m0 5v2m0 107v3m0 2v14m0 3v4m0 5v1m1 -164v7m0 6v14m0 112v12m0 2v1m0 285v3m1 -428v1m0 3v3m0 6v2m0 101v24m0 285v3m1 -452v1m0 12v4m0 12v2m0 7v1m0 98v14m0 4v10m1 -151v4m0 11v1m0 1v3m0 2v2m0 102v13m0 1v10m1 -161v1m0 29v5m0 106v8m0 6v8m0 283v3m1 -419v6m0 107v8m0 7v5m1 -131v6m0 112v4m0 4v3m1 -147v6m0 11v7m0 115v8m1 -145v5m0 10v5m0 125v9m0 175v5m0 99v3m1 -435v3m0 16v2m0 130v1m0 1v1m0 179v3m1 -335v7m0 115v1m0 17v3m0 189v2m0 91v3m1 -426v1m0 121v8m0 8v3m0 189v5m1 -344v3m0 7v2m0 119v5m0 7v7m1 -140v4m0 125v7m0 4v1m0 2v3m0 172v1m1 -1v2m0 13v3m0 2v2m1 -348v4m0 10v3m0 310v1m1 -326v3m0 3v4m0 1v4m0 312v2m0 15v3m1 -346v4m0 3v2m0 320v5m0 10v1m1 -343v1m0 4v3m0 314v1m0 10v7m1 -360v3m0 18v8m0 308v4m0 2v6m0 2v1m0 2v1m0 2v4m0 90v3m1 -454v5m0 18v2m0 1v1m0 1v1m0 1v1m0 305v3m0 2v3m0 3v5m1 -350v4m0 15v6m0 311v5m0 7v2m1 -349v5m0 14v5m0 316v2m0 3v8m1 -353v3m0 4v2m0 13v3m0 322v7m0 94v3m0 6v3m1 -460v5m0 2v2m0 15v3m1 -23v1m0 5v2m0 3v5m0 5v1m1 -22v1m0 7v10m0 1v1m0 1v5m0 304v3m1 -335v5m0 7v11m0 308v16"/>
<path stroke="#1affe5" d="M170.5 301v2m0 314v5m1 -317v1m0 314v6m0 38v1m1 -359v3m0 317v2m0 20v3m1 -344v3m0 317v3m0 27v3m1 -358v3m0 1v1m0 322v3m1 -326v4m0 97v1m0 221v3m1 -324v8m0 91v1m0 226v3m1 -326v4m0 1v3m0 88v1m0 228v5m1 -330v4m0 2v2m0 2v1m0 85v1m0 232v1m0 22v1m1 -348v4m0 322v4m1 -327v5m0 83v1m0 238v4m1 -325v3m0 323v2m1 -327v3m0 323v2m1 -325v4m0 323v3m1 -327v2m1 -1v3m1 -20v8m0 7v6m1 -8v3m0 3v1m0 72v1m1 -75v1m0 73v1m1 -73v2m0 70v1m0 242v3m1 -318v2m1 -1v3m1 -3v3m1 0v1m0 65v1m1 -67v1m1 -3v2m1 -3v2m1 -20v2m0 17v2m0 68v1m1 -93v6m0 18v2m0 66v1m1 -93v19m0 4v3m0 315v3m1 -342v8m0 331v3m1 -346v9m0 88v1m1 -97v1m0 3v2m0 8v6m0 76v1m0 242v3m1 -340v2m0 92v1m1 -94v2m0 91v1m1 -93v2m1 -3v2m0 91v1m1 -94v2m0 89v1m1 -91v1m0 88v1m1 -92v1m0 90v1m1 -91v1m0 335v3m1 -337v2m1 -4v4m0 84v1m1 -89v7m1 -6v4m0 5v1m0 1v1m0 76v1m1 -80v6m0 1v4m0 68v1m1 -72v6m0 65v1m1 -70v3m0 66v1m1 -68v2m1 -10v3m0 2v4m0 64v1m1 -75v8m1 -4v8m0 64v1m1 -68v2m0 3v1m0 61v1m1 -68v8m1 -16v3m0 1v5m1 -11v7m0 71v4m1 -81v4m0 76v1m1 -77v1m0 75v1m1 -71v5m0 66v2m1 -73v6m0 68v1m1 -83v2m0 5v8m0 69v1m1 -87v4m0 2v3m0 2v6m0 71v1m1 -88v3m1 0v3m1 -5v5m1 -14v2m0 5v8m1 -15v3m0 8v2m0 95v2m0 223v3m1 -351v7m0 3v2m1 -13v7m0 118v1m1 -124v3m0 338v3m1 -342v3m1 -5v5m1 -12v1m0 2v2m1 -6v1m0 288v2m1 -291v4m1 -1v1m1 -1v4m0 108v1m1 -113v1m0 1v2m1 -10v3m1 -5v3m1 -2v4m1 -3v4m1 -6v2m1 -4v2m1 -1v1m1 1v3m0 347v3m1 -352v3m1 -3v2m1 -4v3m1 -4v3m1 -4v2m1 -2v1m1 0v1m1 -1v1m1 -1v1m1 -1v1m1 -1v1m1 0v3m1 -3v2m1 -4v4m0 128v1m1 -133v2m1 -3v1m2 -1v4m1 -4v2m2 -2v1m1 -1v1m0 141v1m1 -142v1m1 -4v2m0 1v1m1 -7v3m0 362v3m1 -369v1m1 -2v2m1 -3v2m0 363v3m0 3v3m1 -372v1m1 -2v2m1 -1v2m1 -2v2m1 -5v1m0 1v2m1 -3v1m1 2v2m1 0v2m1 -3v2m1 -4v3m1 -1v2m0 133v1m1 -137v5m0 363v3m1 -372v5m0 129v5m1 -139v2m0 130v1m1 -134v3m0 128v1m1 -132v2m1 -2v3m1 -2v3m1 -2v3m1 -5v3m1 -2v3m1 -4v3m1 -5v3m1 -2v2m1 -2v3m1 -3v3m1 -1v5m0 364v3m1 -369v3m1 -1v4m0 133v1m1 -139v3m0 135v1m1 -140v2m0 137v1m1 -142v1m0 140v1m1 -142v1m1 1v1m1 0v1m2 -1v1m1 -2v1m2 -2v1m1 -2v1m1 -1v1m1 0v1m1 -1v1m1 -1v1m0 140v1m0 225v3m1 -370v1m0 366v3m1 -369v1m0 140v1m1 0v1m0 220v3m1 -366v1m1 -2v1m0 142v1m1 -146v1m0 141v3m1 -146v1m1 -4v2m1 -3v2m1 -3v4m1 -2v2m1 -2v2m1 -2v1m1 -3v1m0 145v1m1 -1v1m1 -143v2m0 140v1m1 -140v2m0 136v1m0 223v3m1 -366v2m1 -3v2m0 136v1m1 -139v3m0 135v1m1 -142v2m0 2v3m1 -9v1m0 3v1m0 139v1m1 -145v1m0 374v3m1 -378v1m0 142v1m0 231v3m1 -379v2m1 0v2m0 141v1m1 -144v2m1 -2v1m1 -2v1m0 146v1m1 -148v1m0 144v1m0 223v3m1 -371v1m0 141v1m1 -142v2m1 -3v2m0 1v1m0 136v1m1 -142v1m0 3v2m0 135v1m1 -143v2m0 141v1m1 -143v1m0 143v1m1 -145v3m0 145v1m1 -146v1m0 371v3m1 -376v2m0 146v2m1 -149v3m0 145v1m1 -149v1m0 147v1m1 -147v2m1 0v2m0 143v2m1 -145v2m0 143v1m0 214v3m1 -363v3m0 142v1m1 -146v1m1 -1v1m0 143v1m1 -142v1m1 0v1m0 139v1m1 -139v4m0 136v1m1 -138v2m1 -10v2m0 1v3m0 142v1m1 -152v4m0 2v4m0 143v1m1 -152v4m0 149v2m1 -151v2m0 149v1m1 -152v6m0 143v1m1 -147v2m0 142v2m1 -146v1m0 141v1m1 -144v2m1 0v3m0 136v1m1 -138v5m0 8v1m1 -9v12m0 3v2m1 -9v10m1 -5v5m1 -15v2m0 2v9m0 335v3m1 -353v3m0 3v13m1 -16v16m1 -4v6m0 115v3m1 -125v6m0 121v1m1 -128v5m1 -13v3m0 8v2m1 -14v4m0 1v4m0 1v1m0 124v1m1 -137v2m0 131v3m0 210v3m1 -350v2m1 -2v1m3 -1v1m0 129v1m1 -132v1m0 130v1m1 -135v1m0 133v1m2 -135v1m1 -1v1m1 -3v1m0 352v3m1 -356v1m2 -3v1m1 -1v1m1 -2v2m1 -3v2m1 -4v1m0 355v3m1 -359v2m0 354v3m1 -356v2m1 -3v4m1 -4v3m1 -4v3m1 -4v2m1 -3v1m0 147v1m1 -150v1m0 360v3m1 -364v2m1 -2v1m1 -1v2m0 141v1m1 -143v1m1 -2v1m0 140v1m1 -141v1m1 0v1m1 0v1m1 -2v2m1 -2v1m1 -2v2m1 -1v1m0 148v2m1 -150v1m0 148v1m1 -150v1m0 357v3m1 -361v1m1 0v1m0 149v2m1 -151v1m1 -1v2m1 -1v1m1 -1v1m1 0v1m0 350v3m1 -354v1m4 1v1m2 -1v1m1 -1v1m1 -1v1m1 -1v1m0 351v3m1 -356v3m1 -3v1m1 -2v3m1 -4v3m1 -4v2m1 -2v1m1 -1v2m1 -1v2m1 -2v2m1 -1v2m1 -5v4m1 -4v2m1 -4v2m1 -4v3m0 352v3m1 -356v2m1 1v3m0 87v2m0 58v1m1 -150v2m0 81v10m0 256v3m1 -350v2m0 89v1m0 1v7m0 8v5m1 -113v1m0 1v4m0 88v6m0 3v4m0 4v3m0 35v2m1 -151v1m0 1v2m0 96v2m0 13v1m0 34v1m1 -150v1m0 100v3m0 12v2m1 -118v1m0 89v8m0 14v5m0 232v3m1 -350v2m0 72v5m0 7v11m0 11v4m1 -110v2m0 71v5m0 2v5m0 3v3m0 20v2m1 -110v2m0 65v13m0 5v1m0 22v3m1 -111v2m0 72v2m0 2v2m0 30v4m1 -113v1m0 77v4m0 29v3m0 22v5m1 -141v1m0 81v3m0 28v5m0 7v1m0 1v8m1 -134v1m0 85v4m0 28v1m0 221v3m1 -253v2m0 82v2m1 -175v1m0 89v5m0 78v3m1 -175v1m0 88v1m0 2v4m0 1v3m0 2v3m0 3v2m0 62v6m1 -176v2m0 88v2m0 9v2m0 67v8m1 -177v1m0 84v5m0 10v2m0 6v1m0 63v2m1 -174v1m0 84v3m0 13v4m0 4v1m0 225v3m1 -337v1m0 85v2m0 14v1m1 -102v1m0 84v6m0 7v2m0 14v1m0 50v5m0 1v2m1 -79v1m0 21v1m0 48v9m1 -175v1m0 93v1m0 24v2m0 51v3m1 -88v2m0 3v4m0 71v4m0 2v4m1 -178v1m0 82v4m0 5v7m0 69v2m0 3v3m1 -178v2m0 81v15m0 22v1m0 47v2m0 6v4m1 -94v12m0 69v3m0 5v7m1 -183v1m0 89v6m0 74v2m0 4v5m1 -181v1m1 120v1m1 0v3m0 48v5m1 -180v1m0 171v1m0 7v1m1 -182v2m0 171v1m0 12v3m1 -191v2m0 173v9m0 2v5m1 -193v2m0 174v2m0 2v4m0 2v1m1 -187v1m0 177v9m1 -186v1m0 175v1m0 6v2m1 -186v1m0 58v1m0 3v1m0 78v1m0 33v3m0 5v5m1 -190v2m0 57v1m0 8v1m0 8v1m0 3v6m0 1v1m0 2v2m0 85v1m0 4v5m1 -189v2m0 72v3m0 18v2m0 48v1m0 33v12m1 -191v2m0 56v1m0 17v2m0 20v3m0 78v1m0 8v3m1 -192v1m0 57v1m0 16v3m0 1v1m0 22v2m0 44v2m0 30v1m0 11v6m0 147v3m1 -290v1m0 43v2m0 78v1m0 12v2m1 -139v1m0 40v3m0 40v1m0 1v3m0 35v7m0 1v1m0 2v4m1 -197v1m0 58v1m0 40v2m0 37v1m0 46v10m1 -196v2m0 58v1m0 40v2m0 35v1m0 46v1m1 -187v2m0 60v1m0 40v1m0 35v1m1 -141v3m0 60v1m0 38v2m0 36v1m0 46v2m0 2v1m1 -195v3m0 102v2m0 82v2m0 3v10m1 -205v1m0 66v1m0 38v4m0 33v1m0 47v3m0 163v3m1 -359v1m0 66v1m0 39v2m0 84v1m0 17v3m1 -215v1m0 68v1m0 37v4m0 33v1m0 47v2m0 20v2m0 141v3m1 -360v1m0 110v2m0 32v1m0 45v2m0 19v3m0 1v3m1 -218v3m0 63v1m0 42v2m0 79v3m0 16v3m0 2v3m1 -216v2m0 63v1m0 39v4m0 34v1m0 45v2m0 17v4m1 -213v2m0 63v2m0 39v2m0 37v1m0 45v2m0 18v1m1 -211v2m0 62v2m0 40v2m0 39v1m0 43v2m0 16v2m1 -211v2m0 63v1m0 40v3m0 39v1m0 43v1m0 17v1m1 -212v2m0 64v1m0 45v2m0 38v1m0 40v5m1 -199v2m0 63v2m0 45v3m0 76v1m0 3v4m0 13v1m1 -215v2m0 66v1m0 46v4m0 74v1m0 20v1m1 -214v2m0 65v1m0 48v2m0 41v1m0 31v1m1 -193v2m0 66v1m0 50v1m0 72v1m0 22v1m1 -215v3m0 49v3m0 11v2m0 51v3m0 70v2m0 21v1m1 -215v1m0 55v7m0 58v1m0 69v2m1 -195v2m0 55v1m0 66v2m0 23v1m0 44v2m1 -196v1m0 51v6m0 68v2m0 20v1m0 43v3m0 2v2m0 16v1m1 -216v2m0 41v10m0 4v1m0 70v1m0 63v3m0 2v2m1 -198v1m0 42v4m0 79v4m0 62v2m0 1v3m0 12v2m1 -211v1m0 42v3m0 1v7m0 71v1m0 1v3m0 14v1m0 45v2m0 19v1m1 -212v2m0 40v1m0 4v2m0 3v2m0 70v1m0 1v1m0 16v1m0 45v3m0 20v1m1 -212v2m0 35v1m0 9v6m0 70v2m0 16v1m0 47v2m0 20v1m1 -213v2m0 34v1m0 14v3m0 70v2m0 16v1m0 46v2m0 20v2m0 141v3m1 -357v1m0 34v1m0 16v2m0 70v7m0 11v1m0 46v1m0 20v1m1 -212v1m0 33v1m0 19v1m0 1v1m0 69v9m0 8v1m0 47v1m0 19v1m0 140v3m1 -355v2m0 31v1m0 19v3m0 71v7m0 5v3m0 49v1m0 19v1m0 140v3m1 -355v1m0 30v1m0 104v3m1 -138v1m0 20v4m0 4v1m0 179v1m1 -212v1m0 24v6m0 161v1m0 17v1m1 -212v1m0 28v1m0 164v1m0 15v1m1 -210v2m0 30v1m0 161v3m0 11v1m0 147v3m1 -358v3m0 3v1m0 24v1m0 161v6m0 7v1m1 -202v6m0 16v4m0 163v5m0 3v3m1 -201v3m0 1v4m0 13v6m0 162v8m0 1v3m0 153v3m1 -351v3m0 2v10m0 3v2m0 162v3m0 8v1m1 -192v13m0 167v3m0 6v2m1 -183v3m0 168v4m0 5v1m1 -5v5m3 -11v4m1 -5v5m1 -2v4m0 1v2m2 -5v1m10 160v3m8 -287v2m3 285v3m3 -288v3m5 -8v3m0 4v1m1 -7v3m0 6v2m0 275v3m1 -287v4m0 5v1m1 -11v4m0 6v2m1 -13v4m0 9v1m1 -14v6m0 8v1m1 -11v7m0 2v2m1 -15v13m5 -4v9m1 -15v3m0 2v6m0 2v4m0 1v2m1 -28v3m0 3v2m0 1v4m0 14v4m0 9v1m1 -40v4m0 23v2m0 264v3m1 -294v1m0 26v4m0 5v4m0 251v3m1 -297v4m0 30v6m0 1v3m1 -45v7m0 31v3m0 1v2m0 4v2m1 -54v3m0 49v2m1 -51v3m0 46v6m1 -55v3m0 48v3m0 1v1m1 -54v2m0 51v2m1 -55v3m0 55v1m0 235v3m1 -299v2m0 55v4m1 -59v3m0 51v5m1 0v1m1 -57v6m0 51v1m1 -53v3m0 8v1m0 39v1m0 234v3m1 -289v2m0 2v6m0 10v2m0 26v3m0 232v3m1 -285v5m0 40v3m1 -70v5m0 43v1m0 17v4m1 -74v1m0 1v6m0 1v4m0 40v1m0 15v1m1 -73v11m0 1v2m0 43v4m0 11v1m1 -74v11m0 2v2m0 49v1m0 5v3m1 -72v3m0 9v5m1 -20v15m0 5v12m0 285v3m1 -318v13m0 1v6m1 -18v8m1 -9v8m0 300v3m1 -310v2m0 1v7m1 -11v1m0 5v6m1 -12v2m0 3v8m1 -15v2m0 7v6m0 298v3m1 -317v1m0 14v3m1 -19v1m0 17v2m1 -21v1m0 18v9m1 -28v2m0 11v1m0 6v5m0 3v3m1 -32v5m0 8v5m0 1v3m1 -24v3m0 10v5m0 301v3m1 -322v2m0 13v3m1 -19v2m0 16v2m1 -19v2m0 14v2m1 -17v4m0 4v2m0 3v2m1 -7v2m0 1v3m1 -17v2m0 1v13m1 -16v2m0 11v2m1 -13v1m0 12v6m1 -17v2m0 15v1m1 -10v1m0 5v3m0 1v1m1 -22v1m0 9v5m0 305v3m1 -324v2m0 2v4m0 2v4m1 -15v17m0 308v3m1 -327v5m0 4v6m1 -16v7m0 1v11m1 -19v5m0 9v4m1 -16v1m0 5v13m1 -18v4m0 7v1m0 304v3m1 -317v3m0 3v12m1 -20v2m0 9v9m1 -20v8m0 1v2m0 2v8m1 -1v2m1 -2v1m3 298v6m1 -310v5m1 0v4m0 298v3m1 -300v2m3 -5v5m1 -10v2m0 3v3m1 -11v6m0 1v3m0 3v3m1 -16v1m0 16v2m1 -19v2m0 18v1m1 -22v3m0 19v1m1 -23v1m0 22v1m1 -24v1m0 23v1m1 -23v2m0 21v1m1 -25v1m0 24v1m1 -28v1m1 -2v1m0 28v1m1 -30v1m0 29v1m1 -31v1m0 29v2m1 -33v1m0 32v4m0 272v3m1 -311v1m0 36v3m1 -41v2m0 34v4m0 269v3m1 -314v5m0 32v2m1 -40v2m0 37v5m1 -44v4m0 36v4m1 -45v3m0 42v1m0 267v3m1 -314v2m0 38v5m1 -42v2m0 32v4m1 -38v3m0 35v1m1 -39v2m0 35v4m1 -41v7m0 29v5m0 270v3m1 -310v2m0 33v1m1 -43v3m0 2v2m0 35v1m1 -45v2m0 3v2m0 34v3m0 272v3m1 -319v4m0 39v1m0 272v3m1 -278v2m1 -33v3m0 26v1m1 -26v3m0 20v1m1 -43v10m0 5v4m0 3v3m0 14v3m1 -43v5m0 1v1m0 5v1m0 7v2m1 -20v3m0 1v5m0 1v8m1 -7v7m0 18v1m1 -40v1m0 1v8m0 2v2m0 3v2m0 1v1m1 -23v17m1 -16v2m0 3v7m0 1v5m0 25v1m1 -44v2m0 1v8m0 33v1m1 -46v2m0 1v5m0 9v2m0 27v1m1 -48v7m0 8v2m0 28v1m1 -48v8m0 39v1m0 280v3m1 -330v2m0 44v1m1 -47v5m1 -7v2m1 -3v2m1 -2v1m0 49v1m1 -51v2m0 49v1m1 -51v7m0 45v2m1 -50v3m0 3v4m1 -10v11m1 -8v6m0 42v4m1 -51v6m0 45v3m1 -53v3m0 1v4m0 45v2m1 -58v1m0 3v2m0 51v2m1 -58v4m0 50v2m1 -55v4m0 48v5m1 -56v3m0 45v3m1 -57v6m0 49v1m1 -52v1m0 44v2m0 4v1m1 -52v4m0 40v1m0 277v3m1 -323v3m0 314v3m1 -323v5m0 35v1m1 -43v6m0 35v1m0 283v3m1 -328v3m0 38v1m1 -46v5m0 39v1m1 -46v4m0 39v2m1 -45v4m0 41v2m1 -46v2m0 42v2m1 -46v3m1 -1v2m0 43v1m1 -45v2m0 43v1m1 -46v2m1 -2v2m0 44v1m2 -43v2m1 -1v2m1 -2v2m1 -2v2m0 40v2m1 -44v2m1 0v2m0 39v1m1 -41v5m1 -3v7m0 33v1m1 -45v7m0 2v1m1 -11v8m0 39v2m1 -50v5m0 3v3m0 34v4m0 270v3m1 -318v1m0 3v7m1 -9v2m0 35v1m0 272v6m1 -315v3m1 -2v4m0 31v1m1 -38v10m0 28v1m1 -39v2m0 4v6m0 8v1m0 17v1m1 -33v6m0 25v1m1 -35v2m0 1v5m0 26v1m1 -32v2m0 29v1m1 -33v3m1 -1v2m1 -4v2m1 -1v2m0 31v1m1 -34v8m0 27v2m1 -29v3m1 -6v10m0 22v1m1 -35v11m0 25v1m0 267v3m1 -302v8m0 29v2m1 -51v3m0 10v7m0 30v2m1 -50v10m0 1v3m0 1v2m0 32v5m1 -49v7m0 36v2m0 2v3m1 -11v2m0 4v1m1 -40v5m0 2v3m0 23v4m1 -32v7m0 21v2m0 3v1m0 262v3m1 -302v10m0 17v2m0 4v1m0 2v1m1 -38v7m0 11v3m0 5v1m0 8v2m1 -33v7m0 8v1m1 -17v4m0 12v1m1 -21v4m0 15v1m1 -21v3m0 16v2m1 -19v4m0 14v1m1 -18v7m1 -5v4m0 9v1m1 -13v3m0 9v1m1 -48v4m0 22v3m0 7v11m1 -20v1m0 1v7m0 3v2m0 3v2m1 -15v13m1 -18v2m0 2v7m0 5v3m1 -23v3m0 4v3m0 8v7m1 -30v3m0 4v1m0 6v3m0 13v1m1 -27v8m0 3v3m1 -11v3m0 1v6m0 15v1m1 -15v5m0 9v1m1 -10v6m0 1v2m1 -13v7m0 6v1m1 -20v1m0 3v5m0 10v1m1 -16v5m0 11v2m1 -16v2m0 13v1m1 -16v4m0 10v1m1 -18v5m0 4v3m0 3v3m1 -12v1m0 5v6m1 -15v15m1 -33v4m0 17v9m0 1v1m1 -44v3m0 2v5m0 4v3m0 12v5m0 11v1m1 -54v2m0 4v3m0 5v3m0 5v3m0 11v6m0 5v4m0 2v2m1 -55v19m0 23v3m0 2v3m0 2v3m1 -53v2m0 10v8m0 9v3m0 9v13m1 -54v5m0 15v3m0 1v5m0 1v6m0 6v7m0 5v3m1 -54v2m0 12v2m0 10v2m0 25v1m1 -57v2m0 13v5m0 36v2m1 -58v2m0 16v11m0 30v1m1 -60v5m0 16v12m0 28v1m1 -63v10m0 13v13m1 -40v2m0 12v11m0 1v3m1 -31v2m0 14v20m1 -31v2m0 20v12m1 -35v5m0 18v15m1 -40v2m0 3v2m0 24v6m0 30v1m0 268v3m1 -340v2m0 33v1m1 -37v7m0 65v1m1 -73v2m1 -4v2m0 18v9m1 -30v1m0 26v8m1 -35v1m0 25v9m1 -35v2m0 22v15m0 36v4m0 259v3m1 -339v8m0 19v2m0 41v2m1 -71v9m0 17v2m0 6v9m0 26v1m1 -68v7m0 10v1m0 5v17m0 27v2m0 267v3m1 -341v4m0 3v1m0 29v1m0 29v2m1 -72v4m0 65v1m1 -68v8m1 -6v12m0 2v1m1 -13v1m0 6v3m0 7v7m1 -18v4m0 3v8m0 3v4m1 -29v5m0 1v2m0 6v3m0 5v5m0 36v1m1 -62v2m0 11v5m0 43v1m1 -61v2m1 2v3m0 52v1m1 -56v6m1 -9v10m1 -8v4m1 -2v3m1 -4v18m0 36v1m0 274v3m1 -329v9m0 6v8m1 -24v14m0 4v6m1 -29v9m0 1v5m0 6v3m0 4v4m0 25v1m1 -58v2m0 2v1m0 52v1m1 -57v1m0 2v4m0 49v1m1 -55v5m0 49v1m1 -54v3m0 325v3m1 -436v2m0 1v1m0 107v2m0 45v1m1 -157v2m0 103v3m0 1v8m0 38v1m1 -156v5m0 99v2m0 5v2m1 -5v1m1 0v7m0 40v1m1 -52v1m0 3v5m0 42v1m1 -51v1m0 49v1m1 -147v2m0 94v3m0 319v3m1 -421v3m0 93v3m0 1v2m0 45v1m1 -146v1m0 92v2m1 -1v3m0 11v1m0 37v1m1 0v1m1 -51v7m1 -3v1m0 6v2m1 -1v3m0 36v1m1 -56v4m0 2v5m0 3v1m0 2v3m0 34v1m1 -54v4m0 10v2m0 37v1m0 268v3m1 -325v2m1 50v1m1 -50v3m1 0v3m1 -4v5m0 42v1m1 -54v2m0 2v5m0 46v2m1 -57v4m1 -1v1m0 54v1m1 -154v1m0 96v3m1 -97v1m0 94v2m0 54v1m1 -60v3m0 57v4m1 -66v2m0 62v1m1 -66v4m0 61v1m1 -172v1m0 107v3m0 59v1m1 -171v3m0 106v3m1 -112v4m0 104v1m1 -109v8m0 100v2m0 60v1m1 -170v1m0 2v4m0 101v2m0 59v1m1 -168v2m0 1v1m0 102v1m1 -107v4m0 1v3m0 99v3m0 59v1m0 262v3m1 -437v2m0 1v9m0 96v1m1 -99v3m0 96v1m0 62v1m0 261v3m1 -423v1m0 93v4m0 60v3m0 256v3m1 -421v4m0 87v2m0 6v2m0 61v1m1 -164v5m0 87v1m0 74v2m0 250v3m1 -331v2m0 71v4m0 1v1m0 1v1m0 247v3m1 -331v2m0 68v8m1 -78v3m0 68v6m1 -72v3m0 67v5m0 248v3m1 -336v5m0 2v6m0 69v3m0 251v3m1 -338v13m0 71v1m1 -180v1m0 100v5m0 72v2m1 -181v3m0 99v5m0 60v2m0 4v6m0 1v1m1 -179v1m0 167v7m1 -173v4m0 99v2m0 70v1m1 -76v2m0 74v1m1 -80v2m0 6v1m0 65v8m1 -82v4m0 68v6m0 1v1m1 -74v2m0 67v3m1 -70v1m0 67v2m1 -70v3m0 66v2m0 254v3m1 -326v2m0 65v4m1 -81v6m0 2v1m0 70v4m1 -83v5m0 75v3m1 -77v2m0 39v1m0 35v2m1 -77v2m0 2v3m0 33v11m0 16v1m0 2v1m0 2v3m0 246v3m1 -323v6m0 39v4m0 12v3m0 5v1m1 -189v2m0 117v3m0 3v6m0 37v9m1 -178v6m0 113v3m0 41v6m0 5v4m1 -177v7m0 112v6m0 28v17m0 7v6m1 -181v6m0 114v6m0 29v2m0 2v7m1 -165v7m0 111v10m0 3v8m0 1v5m0 5v17m1 -165v7m0 110v6m0 5v15m1 -141v6m0 115v3m0 5v2m0 1v10m0 2v6m0 282v3m1 -434v6m0 127v13m0 1v2m1 -143v1m0 133v4m1 -144v1m0 1v7m0 108v3m1 -116v5m0 112v2m2 -116v6m1 -6v7m1 -4v2m1 116v6m1 -4v7m1 -4v4m5 288v3m2 -109v10m0 99v6m1 -114v1m0 8v4m0 3v2m1 -18v1m0 14v5m1 -17v6m0 7v2m1 -9v10m0 1v1m2 -23v2m1 -4v2m0 3v3m1 -4v7m1 -5v3m0 103v3m1 -448v4m1 -2v2m1 -2v5m1 -5v7m1 -5v7m0 437v3"/>
<path stroke="#33ffcc" d="M170.5 303v3m0 316v4m1 -320v4m0 316v1m1 -318v4m0 315v2m1 -320v4m0 93v1m0 222v5m1 -330v1m0 1v3m0 2v2m0 1v1m0 91v1m0 224v4m1 -326v6m0 316v4m0 10v1m1 -331v2m0 319v5m1 -323v3m0 319v3m1 -325v2m0 1v5m0 314v5m1 -326v8m1 -4v4m0 322v3m1 -325v7m0 72v1m0 245v1m1 -325v6m0 72v1m1 -75v2m0 74v1m0 249v1m1 -326v3m0 73v1m1 -75v2m0 71v1m0 244v3m1 -320v2m0 69v1m1 -77v3m0 1v3m1 -4v2m1 1v2m1 -2v2m0 68v1m1 -69v1m0 67v1m1 -69v1m1 0v3m1 -3v2m0 63v1m1 -67v2m1 -3v2m0 67v1m1 -69v2m1 0v2m1 -2v2m0 64v1m1 -83v13m0 70v1m1 -87v13m0 74v1m1 -90v8m0 6v4m1 -20v14m0 2v4m1 -19v10m1 -9v7m1 -8v4m1 -4v3m1 -3v6m0 328v3m1 -339v2m0 337v3m1 -341v2m0 86v1m1 -86v1m0 83v1m0 244v3m1 -332v3m1 0v4m0 3v2m0 72v1m1 -84v5m0 1v1m0 1v4m1 4v2m1 1v2m1 -3v4m0 61v1m1 -65v5m0 58v1m1 -65v3m0 2v1m1 -8v3m0 63v1m1 -63v3m0 60v1m0 250v3m1 -314v1m1 1v4m1 -11v2m0 3v5m0 56v1m1 -71v5m1 -7v7m0 1v4m1 -11v10m1 0v9m0 299v3m1 -310v9m0 58v1m1 -67v3m0 65v1m0 240v3m1 -320v2m0 6v3m0 67v1m0 235v3m1 -322v13m0 1v3m0 68v2m1 -84v4m0 4v3m0 75v1m1 -87v8m1 -7v8m0 78v3m0 1v2m1 -104v4m0 2v2m0 2v4m0 5v1m0 84v1m1 -111v6m0 107v2m0 218v3m1 -342v3m0 47v1m0 60v2m0 2v3m1 -120v6m1 -4v4m1 -4v2m1 -13v2m0 2v11m1 -16v2m0 113v1m1 -1v1m1 -113v2m1 1v2m1 -2v2m1 -9v8m1 -10v6m1 -4v4m1 -3v2m0 116v1m1 -123v5m0 2v1m1 -10v4m0 120v1m0 232v3m1 -360v3m0 120v1m1 -120v3m0 116v1m1 -119v4m1 -5v3m0 114v1m0 235v3m1 -357v1m0 347v3m1 -352v2m0 356v3m1 -363v2m0 122v1m0 229v3m1 -358v2m0 123v1m1 -125v1m1 -1v1m0 125v2m1 -128v2m0 126v1m1 -129v2m0 126v1m1 -129v3m1 0v3m0 124v1m1 -129v2m0 126v1m1 -129v1m1 -3v2m1 -4v2m0 132v1m1 -135v3m0 131v1m1 -132v2m1 -4v2m0 133v2m0 2v1m1 -141v2m0 138v1m1 -141v2m1 -2v3m1 -2v4m0 136v1m1 -143v1m0 1v3m0 136v2m1 -145v2m0 357v3m1 -365v5m0 139v1m1 -145v3m0 141v1m1 -146v2m1 -1v3m0 139v2m0 224v3m1 -371v2m0 138v1m0 218v3m1 -361v2m0 137v1m1 -140v2m0 135v3m1 -141v2m1 -4v4m0 134v1m1 -135v2m0 364v3m1 -367v2m0 130v1m1 -134v1m0 132v1m1 -135v2m0 132v1m1 -134v1m1 1v1m0 130v1m1 -133v3m0 125v1m1 -132v3m0 126v1m0 228v3m1 -361v2m1 -3v2m0 126v1m1 -128v2m0 125v1m1 -127v1m1 0v2m1 -4v4m1 -3v4m1 -5v6m1 -8v1m1 -1v3m1 -2v2m1 -2v3m1 1v2m0 134v1m1 -136v2m1 1v5m1 -7v4m1 -6v4m1 -7v3m0 2v2m1 -7v2m0 138v1m1 -139v1m0 137v1m1 -138v1m0 363v3m1 -368v1m1 0v1m1 -2v1m1 -2v1m1 -1v1m0 365v3m1 -370v1m1 360v3m1 -224v1m1 -1v1m1 -140v1m1 -1v1m1 0v1m1 -1v1m1 -1v1m1 -2v1m0 140v1m1 -144v1m0 139v1m2 -144v1m0 141v1m1 -144v2m0 141v1m0 222v3m1 -368v2m1 -2v1m1 -1v1m1 -1v1m1 -4v2m2 3v3m0 366v3m1 -369v1m0 134v1m0 227v3m1 -367v2m0 133v1m1 -137v4m1 -3v3m1 -2v2m0 132v1m1 -143v3m0 1v3m1 -7v2m0 140v1m1 -143v3m1 -3v5m1 -3v1m1 -1v2m0 139v1m1 -143v4m0 139v1m1 -145v2m0 143v1m0 225v3m1 -374v2m0 141v1m1 -143v2m0 138v1m1 -2v1m1 -139v1m0 1v2m1 -6v1m0 4v1m1 -6v1m1 -1v3m1 -1v2m0 142v1m1 -144v1m0 143v1m1 -145v2m0 143v1m1 -144v2m0 364v3m1 -371v2m1 1v3m0 141v1m1 -143v2m0 140v1m1 -141v2m0 140v1m1 -142v2m1 -4v1m0 142v1m1 -144v2m1 1v1m1 0v2m1 3v2m0 133v1m1 -135v2m0 134v1m1 -145v1m0 3v3m0 138v1m1 -147v2m0 4v3m0 139v1m1 -147v4m0 144v1m1 -147v3m1 1v5m1 -6v3m0 3v3m0 132v1m1 -143v4m0 3v3m1 -10v5m0 135v1m1 -138v4m0 131v1m1 -132v8m1 4v3m0 2v3m0 110v1m0 214v3m1 -330v3m1 -3v2m1 -15v2m0 9v7m0 109v1m1 -129v3m0 13v1m0 330v3m1 -334v2m0 112v2m0 209v3m1 -326v2m0 112v1m0 3v1m0 207v3m1 -330v3m1 -4v2m0 120v1m1 -123v2m0 120v1m1 -128v1m0 1v4m1 -14v2m0 1v3m0 124v1m0 210v3m1 -345v1m0 129v1m1 -132v1m0 129v1m1 -131v1m0 129v1m1 -132v2m1 -1v4m1 -5v2m1 -5v2m0 130v1m1 -134v1m1 0v2m0 129v1m1 -132v2m0 129v1m0 218v3m1 -355v2m0 131v1m1 -2v1m0 216v3m1 -354v1m0 133v1m1 -135v1m0 133v1m0 213v3m0 3v3m1 -357v1m1 -1v1m1 -2v1m0 134v1m0 219v3m1 -361v1m1 0v2m1 1v1m1 0v2m0 133v1m0 217v3m1 -357v1m1 -2v2m0 137v1m0 215v3m1 -360v3m0 139v1m1 -145v2m0 144v1m1 -148v3m1 -2v2m1 -3v2m1 -1v1m0 139v1m1 -141v1m0 358v3m1 -363v1m1 0v1m0 138v1m1 -139v1m1 0v1m0 139v2m1 -142v1m0 142v1m1 -145v1m0 144v1m1 -146v1m0 145v1m1 -147v2m0 145v1m1 -147v1m1 -1v1m0 147v1m1 -149v1m0 147v1m1 -148v1m0 147v1m0 207v3m1 -358v1m0 354v3m1 -357v1m0 146v2m1 -149v1m0 143v2m0 205v3m1 -354v1m1 0v1m0 140v1m1 -142v1m1 0v1m1 -1v2m0 347v3m1 -352v2m1 -1v1m1 -2v1m1 0v1m0 137v1m2 -139v1m1 -1v1m0 138v1m1 -139v2m0 136v1m1 -141v2m0 137v1m0 209v3m1 -351v1m0 137v1m1 -140v3m1 -5v2m0 140v1m1 -144v1m1 0v2m0 141v1m1 -143v2m0 140v1m1 -143v3m0 66v2m1 -70v2m0 61v7m0 72v1m1 -144v2m0 69v2m0 2v3m1 -80v1m0 72v8m1 -83v3m1 -4v4m0 103v6m0 38v1m1 -151v3m0 88v1m0 14v3m0 41v1m1 -147v2m0 79v1m0 1v4m0 2v2m1 -91v2m0 74v5m0 10v11m0 4v5m1 -109v4m0 71v3m0 2v9m0 1v1m0 9v6m0 5v4m0 30v1m1 -147v1m0 4v2m0 71v2m0 7v6m0 20v4m0 30v1m1 -148v1m0 2v2m0 5v1m0 62v8m0 1v17m0 16v2m1 -116v2m0 70v28m0 17v1m0 30v1m0 202v3m1 -354v2m0 70v17m0 27v2m0 30v1m1 -146v3m0 66v3m0 5v7m0 26v4m0 31v1m1 -144v3m0 65v3m0 5v2m0 33v3m0 28v1m1 -140v1m0 63v1m0 44v3m0 27v1m0 203v3m1 -346v5m0 60v7m0 2v2m0 36v2m0 25v1m1 -140v4m0 68v5m0 36v3m0 18v1m1 -135v2m0 77v2m0 36v2m0 224v3m1 -345v2m0 79v4m0 33v1m1 -119v2m0 84v3m1 -88v2m0 85v2m1 -88v1m0 85v2m0 1v2m0 13v3m0 233v3m1 -340v1m0 83v4m0 13v2m0 2v1m1 -106v2m0 79v3m0 17v6m1 -107v1m0 81v2m0 20v2m0 1v1m1 -107v2m0 79v2m0 1v1m0 17v3m0 2v1m1 -107v1m0 82v1m0 6v3m0 6v3m0 2v6m1 -111v2m0 85v7m0 1v4m0 16v1m1 -116v1m0 81v11m0 1v4m0 19v1m1 -120v1m0 82v5m0 2v3m0 4v3m0 21v1m1 -42v3m0 4v5m0 7v2m0 69v3m1 -173v1m0 78v2m0 15v6m0 66v6m1 -176v1m0 81v4m0 12v4m0 17v1m0 50v5m1 -91v5m0 6v4m0 20v1m0 51v4m1 -86v6m1 -96v1m0 337v3m1 -342v1m1 -1v1m0 124v1m0 46v7m1 -179v1m0 125v1m0 45v12m1 -186v1m0 129v1m0 51v2m1 -186v2m0 132v1m0 41v2m1 -179v2m0 135v1m1 -137v2m0 135v2m0 37v6m1 -183v2m0 61v2m0 14v8m0 91v5m1 -183v1m0 66v1m0 1v2m0 2v2m0 1v3m0 6v1m0 1v2m0 2v3m0 83v4m1 -182v2m0 55v1m0 37v3m1 -98v2m0 53v1m0 43v2m0 42v1m0 34v8m1 -188v1m0 55v1m0 20v1m0 25v1m0 42v1m0 33v1m0 7v3m1 -192v1m0 103v2m0 40v1m0 36v12m1 -195v1m0 101v2m0 37v1m0 1v1m0 45v1m0 1v2m0 158v3m1 -353v1m0 100v2m0 34v1m1 -137v2m0 99v2m1 -104v2m0 57v1m0 42v3m1 -105v2m0 99v3m0 82v2m1 -191v4m0 57v2m0 41v3m0 81v3m1 -194v2m0 63v1m0 43v3m0 81v1m0 9v2m1 -204v1m0 63v2m0 42v3m0 30v1m0 51v2m0 6v9m1 -211v1m0 66v1m0 42v3m0 80v12m0 5v3m1 -213v2m0 65v1m0 44v2m0 78v19m0 3v1m1 -212v1m0 60v2m0 45v1m0 81v3m0 6v7m1 -206v2m0 59v2m0 44v2m0 80v5m0 9v3m1 -207v1m0 61v1m0 43v4m0 81v2m0 13v3m1 -208v2m0 59v1m0 44v2m0 83v5m0 10v1m1 -207v3m0 59v1m0 44v4m0 80v3m0 13v1m1 -209v3m0 59v2m0 48v1m0 83v1m0 12v1m1 -211v2m0 59v2m0 50v6m0 33v3m0 35v3m0 4v3m0 8v2m1 -212v2m0 61v3m0 51v5m0 35v1m0 34v2m0 17v1m0 142v3m1 -356v1m0 62v2m0 51v4m0 70v2m0 18v2m1 -213v4m0 58v4m0 52v3m0 37v1m0 32v2m1 -191v4m0 40v1m0 1v3m0 3v1m0 8v2m0 56v2m0 27v4m0 1v3m0 35v2m1 -194v5m0 40v10m0 66v2m0 24v1m0 44v3m1 -196v5m0 1v1m0 44v4m0 69v1m0 21v1m0 47v3m0 17v1m1 -216v2m0 39v10m0 76v1m0 66v2m0 2v2m0 13v1m1 -213v1m0 37v3m0 86v2m0 16v1m0 47v2m0 2v7m0 7v1m1 -212v1m0 34v7m0 87v2m0 13v1m0 48v1m0 3v2m0 7v3m1 -208v1m0 35v6m0 87v5m0 5v4m0 48v4m0 13v2m1 -209v4m0 32v4m0 7v3m0 73v1m0 1v16m0 49v3m1 -192v2m0 32v1m0 88v1m0 8v2m0 3v2m0 50v3m0 16v1m1 -210v1m0 3v1m0 27v1m0 91v1m0 13v2m0 49v2m0 2v1m0 14v1m1 -210v1m0 31v2m0 96v4m0 6v1m0 48v2m0 16v2m1 -210v4m0 27v2m0 101v8m0 49v1m0 17v1m1 -209v1m0 28v2m0 101v5m0 53v1m0 17v1m1 -210v1m0 27v2m0 161v2m0 16v1m1 -209v3m0 15v2m0 4v4m0 161v1m0 163v3m1 -358v5m0 16v3m0 168v2m0 14v1m1 -210v3m0 21v4m0 166v3m0 11v1m1 -207v14m0 4v12m0 165v5m0 4v2m1 -204v3m0 1v24m0 168v7m1 -195v16m0 172v3m1 -190v13m0 176v1m1 -189v2m0 180v2m0 5v1m1 -8v6m1 -6v5m6 -4v1m19 161v3m12 -290v4m0 283v3m1 -289v3m0 1v2m1 -3v1m0 2v2m1 -6v2m0 2v2m1 -7v9m1 -7v8m1 -3v2m7 1v2m0 4v1m1 -18v1m0 4v14m0 267v3m1 -292v3m0 4v1m0 13v2m1 -24v2m0 22v2m1 -26v3m0 22v5m0 6v1m1 -35v4m0 24v3m0 3v1m0 2v4m1 -49v3m0 2v3m0 35v3m1 -43v3m0 40v3m1 -46v2m0 44v2m0 3v1m1 -51v4m0 42v5m1 -50v3m0 42v10m1 -58v5m0 44v3m0 1v2m1 -52v2m0 47v2m1 -51v4m0 48v4m0 229v3m1 -282v3m0 9v2m0 35v2m1 -49v8m0 6v3m0 30v1m1 -49v2m0 18v3m0 22v1m1 -22v4m0 14v2m1 -18v5m0 2v1m0 4v5m1 -16v4m0 5v6m1 -11v3m0 4v4m1 -62v2m0 52v5m1 -66v3m0 2v4m1 0v5m1 -5v1m0 301v3m3 -314v1m1 -3v5m1 -4v3m1 -5v2m0 3v2m1 -9v1m0 9v4m1 -15v1m0 14v2m0 297v3m1 -318v1m0 10v4m0 1v2m1 -17v3m0 6v2m0 1v6m1 -16v8m0 5v1m1 -18v3m0 5v2m1 -11v4m0 5v4m1 -14v7m0 6v3m1 -15v14m1 -11v4m0 2v3m0 308v3m1 -314v1m0 304v3m2 -319v5m1 -4v2m0 8v2m1 -9v7m0 1v7m1 -8v5m4 -13v4m1 -3v1m1 -3v9m1 -11v5m0 317v3m2 -6v3m1 -320v9m1 0v2m8 306v3m2 0v3m3 -301v3m1 -12v16m1 -15v4m0 11v3m1 -18v4m0 14v1m1 -21v2m0 19v1m0 289v3m1 -314v2m0 20v1m1 -20v3m0 16v2m1 -23v1m0 22v1m1 -26v1m0 25v1m1 -1v1m1 -28v1m0 27v1m1 -29v2m0 26v1m0 281v3m1 -314v2m0 28v2m1 -31v3m0 28v5m1 -36v3m0 28v3m1 -33v2m0 28v2m1 -36v5m0 30v2m1 -35v4m0 30v2m1 -38v9m0 28v5m1 -41v17m0 14v7m1 -35v17m0 11v4m1 -31v3m0 6v3m0 18v5m0 270v3m1 -309v6m0 25v4m0 277v3m1 -310v2m0 25v2m0 272v3m1 -305v5m0 26v2m1 -35v3m0 30v2m0 272v3m1 -317v3m0 2v4m0 3v3m0 22v2m1 -37v3m0 32v4m1 -38v3m0 31v2m1 -28v1m0 24v1m1 -22v3m0 16v1m1 -17v2m0 10v2m1 -35v1m0 1v5m0 1v7m0 2v6m0 3v8m1 -34v1m0 5v1m0 8v1m0 17v1m1 -19v2m1 -9v3m0 2v1m0 1v2m0 16v1m1 -25v6m0 17v2m1 -39v3m0 7v1m0 5v6m0 17v2m1 -41v1m0 8v9m0 2v3m0 18v1m1 -43v1m0 5v9m0 2v3m0 23v1m1 -40v8m0 2v5m1 -16v7m0 3v2m0 26v1m1 -44v5m1 -2v2m0 39v1m1 -47v8m0 39v1m1 -49v9m0 39v1m1 -50v7m0 5v1m1 -12v5m0 4v4m0 35v1m1 -43v7m0 37v1m1 -45v3m0 4v4m0 35v1m1 -39v3m0 35v1m0 275v3m1 -319v8m0 33v1m0 265v3m1 -309v6m0 38v1m1 -47v1m0 4v2m0 41v2m1 -50v8m0 41v2m1 -52v3m0 42v2m0 1v2m1 -49v2m0 37v9m1 -48v2m0 38v5m0 272v3m1 -323v2m0 41v6m1 -50v3m0 40v1m1 -41v3m1 -2v2m0 34v3m1 -40v3m0 31v1m1 -36v3m1 -6v4m0 33v1m1 -40v6m0 27v6m1 -41v2m0 2v1m0 33v1m1 -39v3m0 36v2m1 -42v3m0 35v4m1 -41v3m0 34v7m1 -43v2m0 40v1m1 -42v2m0 40v1m1 -43v4m0 39v2m1 -45v2m0 41v1m1 -42v2m0 39v1m1 -40v3m0 36v1m1 -39v1m0 37v1m1 -39v1m0 38v1m1 -40v3m0 36v1m1 -40v3m0 36v2m1 -39v4m0 34v1m1 -35v2m0 32v2m1 -32v3m0 29v1m1 -37v2m0 1v4m0 30v1m0 275v3m1 -316v4m0 33v2m1 -37v3m0 30v1m1 -30v1m0 27v1m1 -36v9m0 24v2m1 -33v5m0 27v1m0 279v6m1 -316v4m1 0v3m0 24v1m1 -26v8m0 1v2m1 -11v3m0 3v3m0 292v3m1 -305v6m0 19v1m1 -29v10m1 -10v4m1 -3v6m0 23v1m1 -32v6m0 1v1m1 -7v6m1 0v2m0 23v2m1 -24v3m0 21v2m1 -22v3m0 18v1m1 -23v3m0 21v1m1 -23v2m0 21v6m1 -29v3m0 25v2m0 261v6m1 -301v1m0 2v8m0 22v2m1 -37v5m0 4v3m0 15v2m0 1v6m0 2v2m1 -42v10m0 20v4m1 -28v2m0 23v3m1 -21v4m0 13v4m0 2v3m1 -26v17m0 7v2m1 -30v7m0 3v1m0 282v3m1 -292v2m0 5v1m1 -12v7m0 4v1m0 281v3m1 -300v15m1 -17v9m0 5v2m1 -13v5m0 7v2m1 -10v4m0 3v3m1 -11v4m0 3v2m1 -9v9m0 284v3m2 -293v3m2 -7v5m1 -10v8m1 -6v9m0 1v3m1 -12v5m0 8v1m1 -15v8m0 5v2m1 -9v9m1 -3v1m1 -4v6m1 -10v4m0 5v1m1 -10v3m0 6v2m1 -12v7m0 5v1m1 -11v10m1 -12v4m0 3v3m1 -8v5m2 3v1m1 -9v11m1 -11v5m0 4v2m1 -8v2m0 3v2m1 -48v10m1 -7v4m0 3v8m0 29v5m0 280v3m1 -332v4m0 3v5m0 2v10m0 2v25m0 275v3m1 -332v3m0 4v6m0 5v12m0 17v7m1 -54v7m0 1v8m0 11v4m0 24v2m1 -54v4m0 11v1m0 12v2m0 25v1m1 -52v3m0 1v9m0 13v2m0 24v1m1 -65v12m0 11v1m0 3v12m0 25v1m1 -67v6m0 28v3m1 -19v2m0 17v6m0 23v1m1 -60v7m0 10v1m0 15v6m0 20v1m1 -65v3m0 2v10m0 3v11m0 6v11m0 18v1m1 -66v5m0 8v3m0 5v12m0 1v9m0 1v4m0 18v3m1 -65v5m0 15v1m0 5v9m0 29v1m1 -70v14m0 3v4m0 2v2m0 7v1m0 38v2m1 -75v2m0 5v5m0 3v3m0 9v8m1 -37v2m0 16v8m0 8v4m0 2v3m0 34v1m1 -78v4m0 14v7m0 9v10m0 34v3m1 -80v5m0 14v3m0 15v1m0 34v1m1 -65v1m0 5v3m0 4v6m0 10v8m0 23v2m1 -60v17m0 17v3m0 21v2m1 -60v10m0 1v5m0 17v3m0 22v2m1 -65v3m0 1v7m0 1v21m0 1v4m0 24v1m1 -66v8m0 4v10m0 2v16m0 24v1m0 269v3m1 -331v20m1 -14v2m0 1v11m0 5v4m1 -23v7m0 7v7m0 1v1m0 29v1m1 -53v3m0 8v3m0 4v3m0 31v1m0 272v3m1 -331v6m0 3v5m0 5v2m1 -25v6m0 4v1m0 5v14m0 299v3m1 -331v5m0 5v6m0 4v4m0 33v1m1 -53v3m1 0v1m0 48v1m1 -49v3m0 45v1m1 -53v10m1 -9v14m0 36v1m1 -37v7m0 298v3m1 -314v6m0 8v1m1 -11v4m0 6v2m1 -22v1m0 5v6m0 3v4m0 4v4m1 -34v2m0 1v24m0 1v8m0 2v1m0 1v1m1 -35v2m0 2v5m0 1v2m0 1v5m0 5v5m0 5v4m1 -37v15m0 33v1m1 -50v21m0 29v1m1 -46v15m0 29v1m0 275v3m1 -326v1m0 8v7m0 30v1m1 -49v5m0 2v11m0 29v2m0 276v3m1 -325v8m0 4v3m0 31v1m1 -40v4m0 1v1m0 33v1m1 -50v3m0 5v6m0 2v7m0 25v2m1 -49v5m0 13v6m0 3v3m0 18v1m1 -24v3m0 21v1m1 -48v1m0 2v7m1 -12v13m0 37v1m1 -49v10m0 2v3m0 32v2m1 -49v9m0 40v1m1 -43v4m0 39v1m1 -38v2m0 36v1m0 267v3m1 -307v2m0 33v1m1 -35v2m0 301v6m1 -324v3m0 9v4m0 32v1m1 -51v3m0 47v1m1 -50v4m0 318v3m1 -322v2m0 43v1m1 -43v5m0 37v1m1 -42v6m0 35v1m1 -51v2m0 5v2m0 43v1m0 268v3m1 -322v4m0 48v2m0 262v3m1 -319v3m0 319v3m1 -324v3m0 50v1m1 -54v3m1 -5v7m0 49v1m1 -60v10m0 50v2m1 -61v5m0 55v1m1 -60v4m0 54v1m1 -58v3m0 54v1m1 -61v2m0 2v2m0 54v1m1 -60v2m1 -1v2m1 -3v2m0 58v1m1 -58v1m1 -4v5m0 57v1m1 -62v2m0 59v1m1 -60v4m0 55v1m1 -66v6m0 2v6m0 52v3m0 259v3m1 -332v2m0 5v4m0 59v4m1 -74v2m0 64v1m0 2v2m1 -71v3m0 63v2m1 -67v4m0 62v2m1 -63v1m0 64v2m1 -67v2m0 39v7m0 17v4m1 -68v2m0 56v4m0 3v6m1 -73v3m0 52v7m0 5v5m1 -72v4m0 53v3m0 2v4m1 -64v2m0 58v1m1 -61v1m0 60v9m1 -73v6m0 66v2m0 245v3m1 -325v6m0 1v2m0 60v3m0 250v3m1 -323v6m0 60v2m1 -64v2m0 62v3m1 -66v2m0 62v3m1 -65v2m0 62v2m1 -65v4m0 59v2m1 -71v2m0 1v8m0 58v4m1 -74v10m0 28v5m0 31v1m1 -72v3m0 32v4m0 1v11m0 20v4m1 -73v2m0 3v6m0 19v8m0 11v9m0 1v6m0 1v2m0 1v2m1 -65v5m0 20v14m1 -42v3m0 6v5m0 4v6m0 7v6m0 2v7m1 -47v3m0 1v2m0 1v3m0 17v14m0 6v5m1 -48v3m0 20v5m1 -25v3m0 4v2m0 4v4m0 1v2m0 5v4m1 -26v3m0 8v1m0 5v5m1 -25v5m1 5v1m2 303v3m3 -9v3m11 0v3m3 -113v6m1 -6v3m0 2v9m0 96v3m1 -105v7"/>
<path stroke="#4dffb2" d="M170.5 626v5m0 9v1m1 -331v4m0 92v1m0 220v3m0 33v1m1 -351v2m0 315v5m0 28v1m1 -350v7m0 314v6m1 -331v2m0 2v1m0 1v2m0 318v11m1 -331v2m0 318v10m0 1v4m1 -333v4m0 320v2m0 2v2m1 -326v4m0 318v4m1 -321v1m0 318v2m1 -320v1m0 77v1m0 239v4m0 7v3m1 -332v5m0 320v4m1 -322v1m1 -1v3m0 319v3m1 -325v3m0 70v1m1 -72v2m1 -1v2m1 -1v1m1 -1v3m1 -5v3m1 0v2m1 -2v2m0 315v3m1 -319v1m1 -1v2m0 63v1m1 -63v2m0 308v3m1 -314v2m1 -3v1m0 64v1m0 249v3m1 -319v1m1 0v2m1 0v2m1 -2v2m1 -7v4m1 -7v3m1 0v3m1 -9v2m0 4v2m1 -11v7m1 -9v5m0 77v1m1 -87v8m0 77v2m1 -88v4m0 81v1m1 -83v6m1 -12v5m0 4v2m0 76v1m1 -87v7m0 7v1m1 -13v3m1 -1v6m0 2v3m1 -7v3m0 2v1m1 0v2m0 69v1m1 -66v5m1 -2v3m1 -2v2m0 58v1m1 -59v3m1 -6v2m0 1v4m1 -9v2m0 2v1m0 8v2m1 48v1m0 248v3m1 -310v3m0 56v1m1 -55v3m0 51v1m1 -64v3m0 5v5m1 -14v11m0 2v6m0 46v1m1 -66v1m0 4v3m0 3v10m0 46v1m1 -64v18m1 -9v5m0 51v1m1 -56v3m0 295v3m1 -306v11m1 -11v9m0 297v3m1 -312v1m0 3v11m0 59v1m1 -81v4m0 3v5m0 69v1m1 -78v10m0 68v1m1 -78v7m0 74v1m0 228v3m1 -329v2m0 8v5m0 1v8m1 -28v5m0 3v2m1 -19v10m0 31v6m0 1v3m0 56v1m0 2v2m1 -111v7m0 33v15m0 50v1m1 -106v3m0 44v7m0 49v2m1 -107v6m0 97v1m1 -102v5m0 94v1m1 -114v5m0 5v6m1 -15v2m1 0v7m0 3v3m0 96v1m1 -107v12m1 -12v5m0 101v1m0 236v3m1 -347v2m0 107v2m1 -115v3m0 113v1m1 -117v1m0 114v1m1 -117v10m1 -11v2m0 1v7m0 107v1m1 -121v2m1 -3v4m1 0v2m0 113v1m1 -114v3m0 109v1m1 -115v3m1 -6v4m0 113v1m0 235v3m1 -356v2m0 116v1m1 -121v2m0 119v1m1 -123v2m1 -2v2m0 121v1m1 -124v3m0 121v1m1 -124v5m1 -5v5m1 -4v4m0 121v1m1 -123v3m0 120v1m0 230v3m1 -359v4m1 -5v2m0 355v3m1 -361v2m0 126v1m1 -131v4m0 127v1m0 228v3m1 -362v3m1 -1v2m0 355v3m1 -362v3m0 129v1m0 2v2m1 -138v1m1 -1v2m0 136v1m1 -138v3m1 -1v2m1 -3v2m0 133v1m1 -141v5m0 134v1m1 -140v1m0 2v3m1 -8v8m1 -10v4m0 138v1m1 -141v2m0 136v1m1 -140v2m0 364v3m1 -368v2m1 -2v3m0 131v1m1 -136v2m0 132v1m1 -135v2m1 0v2m0 130v1m2 -133v4m1 -4v4m1 -4v2m1 0v1m1 0v2m1 -5v4m1 -5v4m0 121v1m1 -127v1m1 0v3m0 362v3m1 -368v3m1 -1v3m0 122v3m1 -128v2m0 127v3m1 -131v2m0 129v1m1 -131v2m0 129v1m1 -139v9m1 -7v3m0 134v1m1 -138v5m1 -4v2m0 135v1m0 224v3m2 -361v4m0 129v1m1 -128v1m1 -4v1m0 351v3m1 -357v3m1 -7v2m0 2v2m1 -7v1m1 0v1m0 360v3m1 -363v1m1 -2v1m1 136v1m2 -139v1m1 -1v1m0 140v1m1 -143v1m0 362v6m1 -370v1m1 0v1m1 -1v2m0 364v3m1 -368v1m0 137v1m1 -139v1m0 138v1m0 219v3m1 -361v1m1 -1v1m0 138v1m1 -140v1m0 139v1m1 -142v1m0 137v2m1 -142v2m1 -4v1m0 139v1m1 -142v1m1 -1v2m0 365v6m1 -372v2m0 138v1m1 -142v2m1 -2v2m1 -4v1m0 1v3m0 138v1m1 -144v2m1 -1v1m0 370v3m1 -369v1m1 0v2m0 131v1m1 -134v2m0 360v3m1 -364v1m1 -1v1m0 363v3m1 -367v1m1 -4v2m1 -7v2m1 -1v2m1 0v1m0 136v1m1 -140v4m1 -3v3m1 -2v1m1 -4v3m1 -3v2m0 138v1m1 -140v1m0 364v6m1 -371v2m1 1v2m0 363v3m1 -373v2m0 3v1m0 364v3m1 -373v3m0 136v1m1 -138v1m0 138v1m1 -139v1m0 369v3m1 -373v3m1 -2v4m0 138v1m1 -141v2m1 -4v4m1 0v2m1 -1v2m0 362v3m1 -365v1m1 0v2m0 137v1m1 -143v4m1 -3v3m1 -1v1m0 137v1m1 -137v4m1 1v2m0 352v3m1 -356v3m1 -6v2m0 3v1m1 -5v1m1 -4v3m0 140v1m1 -143v6m0 137v3m1 -140v2m0 8v6m0 120v2m1 -141v3m0 3v3m0 5v2m0 121v1m1 -138v3m0 3v3m0 6v10m0 111v1m1 -136v4m0 7v1m0 2v17m1 -29v3m0 3v5m0 2v4m0 3v8m1 -19v10m0 111v1m1 -111v1m1 0v3m0 106v1m1 -111v5m0 106v1m1 -109v3m1 -5v4m0 107v1m1 -111v2m0 109v1m1 -110v1m0 116v1m1 -118v2m0 113v1m0 1v1m1 -120v4m1 -4v5m0 114v1m1 -121v6m0 113v1m1 -132v1m0 3v6m0 1v2m0 1v1m1 -17v8m0 1v1m1 -11v2m0 1v4m1 -7v2m1 -2v2m0 126v1m0 213v3m1 -342v1m1 -4v5m1 -8v2m0 4v1m0 341v3m1 -353v2m0 129v1m1 -130v2m1 -2v5m1 -7v2m1 -4v3m0 349v3m1 -356v2m0 345v3m1 -350v1m1 -1v2m0 131v1m1 -134v2m0 131v1m1 -135v1m1 -4v4m0 133v1m0 219v3m1 -358v2m0 134v1m1 -135v2m1 0v2m1 -4v1m0 1v2m0 131v1m1 -136v1m0 1v1m0 133v1m1 -138v3m1 -6v2m0 141v1m1 -144v1m0 141v1m1 -143v2m0 355v3m1 -361v2m0 138v1m1 -141v4m1 -4v2m0 136v1m1 -140v2m1 -1v1m1 0v1m0 137v1m1 -138v1m0 137v1m1 -139v1m0 140v1m1 -143v1m1 -1v1m1 0v2m0 354v3m1 -359v2m0 354v3m1 -359v2m1 -2v1m1 0v1m1 0v1m0 148v1m0 201v3m1 -353v2m0 143v1m1 -146v1m0 141v1m1 -143v1m0 140v1m1 -141v1m1 -1v1m0 139v1m1 -140v1m1 0v1m0 136v1m1 -138v1m1 -1v1m1 -2v1m0 137v1m1 -138v1m0 349v3m1 -354v1m1 0v1m0 137v1m1 -139v2m1 0v1m1 -3v3m1 -3v4m1 -3v2m0 134v1m1 -140v3m1 -5v6m0 136v1m0 211v3m1 -355v3m1 -2v2m0 61v6m0 282v3m1 -353v3m0 58v5m0 2v5m0 10v1m0 55v1m1 -140v2m0 57v2m0 7v18m1 -87v3m0 59v7m0 2v2m0 3v6m0 7v4m0 3v2m0 253v3m1 -357v6m0 64v2m0 8v3m0 3v15m0 44v1m1 -146v5m0 67v9m0 1v8m0 2v3m0 8v9m0 34v1m1 -147v3m0 73v3m0 2v16m0 4v2m0 6v5m1 -114v4m0 77v7m0 1v8m0 3v3m0 3v4m0 2v1m1 -110v2m0 62v5m0 4v6m0 1v1m0 8v21m0 34v1m1 -145v3m0 64v1m0 1v1m0 2v2m0 26v4m0 5v2m1 -107v5m0 60v1m0 2v3m0 3v2m0 35v3m1 -112v3m0 63v5m0 2v7m0 30v3m1 -115v5m0 1v2m0 57v3m0 8v1m0 35v3m0 232v3m1 -352v2m0 5v2m0 56v5m0 46v2m1 -118v6m0 61v3m0 46v1m0 1v2m1 -116v3m0 2v1m0 59v1m0 45v5m1 -114v6m0 1v5m0 42v2m0 2v7m0 46v2m1 -112v13m0 42v8m0 48v3m1 -110v13m0 43v4m0 49v3m1 -113v2m0 3v2m0 1v1m0 55v4m0 44v2m1 -116v3m0 60v14m0 40v5m1 -121v2m0 58v2m0 2v7m0 3v1m0 3v1m1 -79v2m0 67v1m0 11v3m0 256v3m1 -342v2m0 77v6m1 -85v3m0 76v6m1 -82v1m0 68v5m0 2v7m0 19v2m1 -103v2m0 2v2m0 54v4m0 2v13m1 -80v2m0 61v18m0 24v1m1 -104v1m0 71v7m0 2v1m0 21v2m1 -105v2m0 76v4m0 19v2m0 231v3m1 -337v1m0 5v11m0 63v5m0 12v2m0 13v1m1 -114v1m0 14v1m0 61v4m0 16v4m0 234v3m1 -340v1m0 77v4m0 17v3m0 17v1m0 214v3m1 -337v1m0 70v8m0 21v2m0 16v1m1 -119v2m0 70v6m0 23v2m0 13v1m1 -119v1m0 76v4m0 20v3m1 -105v1m0 77v1m0 1v4m0 15v3m0 16v1m1 -119v1m0 86v2m0 6v6m0 18v1m1 -120v1m0 88v5m0 25v1m1 -121v1m0 120v1m0 219v3m1 -344v1m1 -1v4m1 -6v3m0 125v1m0 211v6m1 -347v3m0 128v1m1 -133v2m0 132v1m1 -134v2m0 56v2m0 13v9m1 -83v2m0 1v1m0 51v1m0 7v2m0 7v5m0 8v9m0 44v1m1 -140v3m0 64v1m0 2v2m0 21v3m0 45v1m1 -142v3m0 51v1m0 41v4m1 -100v2m0 50v1m0 46v2m1 -104v2m0 51v2m0 48v2m0 75v7m1 -188v2m0 54v1m0 48v1m1 -106v1m0 55v1m0 46v4m0 32v1m1 -139v2m0 54v1m0 45v3m1 -103v2m0 52v2m0 45v3m1 -105v2m0 54v1m0 46v2m1 -105v2m0 53v3m0 44v2m1 -105v4m0 52v1m0 46v1m0 31v1m1 -141v5m0 56v2m0 47v2m0 80v9m1 -201v3m0 58v2m0 47v2m0 82v6m1 -201v3m0 61v2m0 46v2m0 27v1m0 62v5m1 -208v2m0 57v6m0 47v2m0 27v1m1 -140v1m0 56v3m0 48v5m0 26v1m0 52v6m1 -197v1m0 56v2m0 48v1m0 1v1m0 28v1m0 53v9m1 -203v4m0 54v3m0 48v2m0 30v1m0 50v13m1 -203v4m0 54v1m0 47v3m0 31v3m0 51v4m0 4v2m1 -203v2m0 55v2m0 49v2m0 32v1m0 48v3m0 1v3m0 1v5m1 -205v4m0 53v2m0 51v5m0 30v2m0 47v6m0 4v2m1 -208v5m0 52v2m0 58v3m0 29v1m0 48v8m0 144v6m1 -358v3m0 1v1m0 53v3m0 59v2m0 32v1m0 37v6m0 6v1m0 3v1m1 -209v4m0 55v3m0 57v2m0 34v1m0 35v1m0 16v1m1 -207v2m0 39v1m0 3v3m0 6v4m0 59v2m0 70v2m0 17v1m1 -207v2m0 37v1m0 1v1m0 7v8m0 60v3m0 22v2m0 4v1m0 40v1m1 -190v4m0 34v2m0 78v4m0 18v2m0 48v1m0 17v1m1 -210v1m0 1v4m0 32v8m0 74v2m0 70v2m0 14v1m0 143v3m1 -359v3m0 2v1m0 3v1m0 27v2m0 87v1m0 17v1m0 53v3m0 3v1m0 5v1m1 -211v4m0 30v3m0 91v4m0 71v7m1 -210v2m0 128v4m0 64v7m1 -204v5m0 28v2m0 98v5m0 56v5m0 5v3m0 145v6m1 -354v1m0 30v1m0 157v6m0 9v2m1 -207v2m0 29v1m0 90v8m0 2v3m0 55v5m0 3v3m0 3v2m1 -208v3m0 1v5m0 20v2m0 1v1m0 91v7m0 2v4m0 53v2m0 1v14m1 -208v8m0 21v2m0 102v6m0 51v1m0 2v1m0 10v2m1 -204v7m0 8v12m0 161v1m0 14v2m1 -207v8m0 8v12m0 162v2m0 14v1m1 -208v5m0 1v4m0 2v15m0 165v2m0 13v1m1 -205v2m0 4v9m0 172v2m0 15v1m1 -205v16m0 173v2m0 10v2m1 -206v21m0 173v2m0 8v1m1 -192v4m0 182v4m4 -8v5m0 156v3m11 -3v3m1 -9v3m10 -3v3m13 -3v3m5 -280v1m0 282v3m1 -285v2m1 -2v2m10 274v3m2 -283v4m0 1v13m1 -20v2m0 1v3m0 10v6m1 -21v5m0 16v1m1 -19v2m0 20v2m1 -33v2m0 3v5m0 23v7m0 3v3m1 -43v3m0 34v3m1 -41v6m0 32v6m1 -41v5m0 18v3m0 9v2m0 4v1m1 -42v4m0 24v2m0 5v1m0 4v2m1 -43v2m0 36v6m0 3v1m1 -48v2m0 36v1m0 3v5m1 -45v2m0 43v3m1 -36v2m0 2v2m0 31v2m0 236v3m1 -269v4m0 25v1m0 230v3m1 -258v12m0 2v5m0 1v2m1 -17v4m0 1v9m0 239v3m1 -253v2m0 1v4m1 -7v5m1 -2v4m1 243v3m1 -308v2m1 309v3m2 -15v6m0 3v3m4 -9v3m1 -309v3m1 -6v9m1 -10v14m1 -15v3m0 2v1m0 2v2m0 4v1m1 -12v3m0 1v2m2 -8v5m1 -5v5m1 -3v6m1 305v6m4 -320v6m1 -8v8m1 0v1m27 8v11m1 -11v5m0 6v3m1 -18v7m0 10v2m1 -19v7m0 11v2m1 -16v2m0 13v1m1 -20v4m0 16v2m1 -24v2m0 21v2m1 -27v2m0 23v2m1 -26v2m0 23v2m1 -26v1m0 24v1m1 -27v3m0 24v1m0 281v3m1 -310v3m0 23v2m1 -28v3m0 21v4m1 -28v4m0 21v3m1 -29v5m0 21v4m1 -29v5m0 22v3m1 -27v8m0 15v5m1 -19v3m0 8v3m1 -11v2m0 7v2m1 -24v6m0 3v10m0 1v7m1 -25v2m0 10v1m0 8v4m1 -24v1m0 20v4m1 -23v2m0 20v4m1 -30v7m0 20v3m0 265v3m0 3v3m1 -305v3m0 3v2m0 19v1m1 -32v11m0 19v2m1 -31v2m0 4v2m0 22v1m1 -25v1m0 22v1m1 -18v5m0 8v3m1 -14v3m0 1v6m1 -10v2m1 -9v7m0 3v7m1 -16v7m0 7v2m1 -16v6m0 9v1m1 -18v2m0 14v1m1 -15v6m0 10v1m1 -21v2m0 3v5m0 9v4m1 -22v2m0 16v1m0 1v1m0 1v1m1 -24v5m0 15v3m1 -32v3m0 2v7m1 -19v8m0 30v1m0 284v3m1 -326v5m0 33v1m1 -38v5m0 33v1m0 280v3m1 -322v7m1 -10v5m0 1v6m0 29v1m1 -43v4m0 4v5m0 28v2m1 -35v5m0 31v1m1 -33v3m0 31v1m1 -35v2m0 31v2m1 -32v3m0 29v1m1 -34v7m0 29v2m1 -39v2m0 6v2m0 27v4m1 -40v2m0 34v5m1 -47v8m0 29v5m0 2v1m1 -45v4m0 30v3m1 -37v2m0 34v2m1 -41v3m0 4v1m0 31v2m1 -41v5m0 34v1m0 275v3m1 -315v4m0 30v3m1 -37v6m0 26v2m1 -34v6m0 24v1m0 281v3m0 3v3m1 -322v4m0 1v8m0 18v1m1 -34v3m0 13v5m0 1v5m0 3v3m1 -33v2m0 17v8m0 285v3m1 -321v2m0 1v3m0 27v3m1 -35v3m0 30v3m1 -37v3m0 27v5m1 -34v4m0 28v2m0 289v3m1 -326v2m0 30v8m1 -39v5m0 33v2m1 -38v4m0 34v1m1 -41v4m1 -2v2m0 35v2m1 -36v2m0 33v1m1 -37v2m0 319v3m1 -324v5m0 32v1m1 -36v4m0 29v1m0 1v1m0 280v3m1 -319v4m0 30v2m1 -33v2m0 29v3m1 -32v6m0 24v2m0 276v6m1 -309v4m0 20v5m1 -29v3m0 22v5m1 -33v3m0 28v2m0 276v3m1 -311v4m0 25v1m1 -28v3m0 19v2m0 1v2m1 -26v7m0 12v5m1 -26v4m0 1v2m0 19v1m1 -26v4m0 21v2m1 -24v1m0 4v6m0 12v1m1 -14v2m0 12v1m1 -23v3m0 3v6m0 9v1m1 -20v4m0 13v2m1 -18v3m0 15v1m1 -25v8m0 17v1m0 278v3m1 -304v3m0 1v4m1 -10v1m0 1v3m0 20v1m0 277v3m1 -305v3m0 21v1m1 -23v2m0 3v1m0 16v1m1 -19v5m0 14v2m1 -17v2m0 12v4m1 -19v5m0 14v2m1 -20v5m0 13v3m1 -20v5m0 12v8m1 -21v4m0 8v10m0 265v3m1 -298v4m0 3v1m0 7v7m0 2v1m0 270v3m1 -295v3m0 11v6m0 272v3m1 -294v4m0 15v1m0 271v3m1 -288v3m0 5v5m1 272v3m1 -289v3m1 -4v2m0 2v1m1 -4v4m2 -8v5m0 282v3m1 -291v7m1 -4v3m1 -4v3m0 286v6m3 -12v3m3 0v3m1 -288v1m0 287v3m1 -294v8m1 -6v5m0 284v3m4 -291v5m0 277v3m1 -286v2m0 2v2m1 -3v5m7 284v3m3 -328v3m1 -3v3m0 322v3m1 -332v4m0 23v6m0 2v9m1 -40v1m0 23v3m0 16v5m0 274v3m1 -325v11m0 15v5m1 -28v1m0 24v3m0 20v1m0 270v3m1 -298v2m0 3v2m1 -42v8m0 23v5m0 24v1m1 -62v8m0 1v4m0 2v5m0 18v2m1 -31v10m0 22v2m0 282v3m1 -316v3m0 28v6m0 11v1m1 -60v4m0 2v2m0 3v5m0 22v1m0 4v7m0 1v1m0 7v2m1 -57v5m0 7v3m0 1v5m0 9v3m0 2v5m0 15v4m0 267v3m1 -325v3m0 4v2m0 2v7m0 1v9m0 28v1m1 -71v5m0 5v3m0 20v9m0 30v1m1 -75v16m0 20v2m0 3v6m0 27v1m1 -73v3m0 3v8m0 26v3m0 27v4m1 -72v6m0 5v3m0 19v7m0 13v2m0 11v1m1 -63v5m0 3v4m0 24v3m0 13v7m1 -21v4m0 4v2m0 9v2m1 -22v7m0 12v3m1 -52v1m0 26v9m0 13v2m1 -57v4m0 10v2m0 16v7m0 16v1m1 -38v17m0 21v1m1 -39v5m0 4v1m0 28v1m1 -32v1m0 1v1m1 -3v4m0 26v1m1 -34v6m0 27v1m1 -53v4m0 20v3m0 25v1m1 -53v5m0 6v4m0 4v8m0 24v1m0 274v3m1 -326v1m0 6v1m0 4v12m0 24v1m1 -48v1m0 19v3m0 24v1m1 -45v3m0 41v1m1 -42v5m0 36v1m2 -30v2m0 26v1m1 -27v2m0 24v1m1 -26v3m0 22v1m1 -21v5m0 15v1m1 -28v1m0 8v2m0 1v1m0 1v6m0 7v1m1 -47v2m0 5v1m0 2v1m0 5v3m0 1v1m0 5v5m0 4v5m0 5v2m1 -34v5m0 2v5m0 6v6m0 4v5m1 -28v6m0 11v2m0 9v1m1 -30v6m0 20v3m1 -31v9m0 2v3m0 11v5m1 -30v2m0 5v9m0 9v4m1 -36v4m0 3v15m0 15v1m1 -35v1m0 1v8m0 2v3m0 2v1m0 5v6m0 5v1m1 -35v2m0 7v2m0 3v20m1 -42v7m0 1v5m0 6v3m0 3v5m0 11v2m0 273v3m1 -322v9m0 11v3m0 3v3m0 3v2m0 4v1m0 6v2m1 -37v1m0 27v2m0 6v2m1 -37v5m0 28v4m1 -38v1m0 4v5m0 2v2m0 17v6m1 -38v3m0 8v6m0 16v7m1 -38v3m0 35v1m1 -35v2m0 32v2m1 -34v2m0 29v2m1 -32v1m0 1v1m0 27v2m1 -46v7m0 6v5m0 26v1m1 -47v3m0 43v1m1 -45v6m0 38v1m1 -44v6m0 36v1m0 274v3m1 -314v3m0 33v1m1 -35v7m0 7v4m0 16v1m1 -41v9m0 12v3m0 17v2m0 272v3m1 -321v3m0 4v2m0 37v2m0 267v3m1 -319v3m0 47v1m1 -50v4m1 -4v5m0 44v2m1 -49v5m0 43v1m0 267v3m1 -319v6m0 41v3m1 -54v6m0 48v1m1 -55v7m1 -7v6m0 47v1m1 -58v2m0 2v5m1 -8v3m0 54v1m1 -57v2m0 54v1m1 -58v4m1 -2v2m0 55v1m1 -57v6m0 50v1m1 -59v7m0 51v1m1 -55v6m0 47v2m1 -51v3m0 47v2m1 -65v3m0 1v1m0 4v12m0 42v5m1 -68v10m0 50v4m0 1v2m1 -66v8m0 51v4m1 -61v2m0 59v1m1 -60v1m0 25v1m0 5v16m0 10v1m0 1v4m1 -63v3m0 28v8m0 7v17m1 -62v4m0 34v18m0 4v3m1 -64v3m0 46v3m0 7v5m1 -63v3m0 46v4m1 -53v2m0 47v9m1 -59v5m0 54v1m1 -58v3m0 57v6m1 -66v3m0 55v2m1 -61v2m0 57v1m1 -60v3m0 57v2m1 -61v8m0 51v3m1 -60v9m0 48v5m0 255v3m1 -317v8m0 12v3m0 9v1m0 22v4m1 -58v9m0 7v6m0 1v9m0 23v3m1 -60v2m0 2v16m0 4v4m0 5v6m0 16v9m1 -68v18m0 9v5m0 19v2m0 6v9m1 -58v4m0 8v7m0 28v1m1 -48v7m0 11v2m1 -14v4m0 6v7m0 6v2m1 -37v1m0 2v1m0 3v17m1 -20v12m0 6v2m1 -17v4m0 2v4m0 4v1m0 2v5m5 286v3m7 -3v3m10 -107v2m1 -5v2"/>
<path stroke="#66ff99" d="M170.5 306v5m0 320v3m0 1v5m0 1v8m1 -335v1m0 315v9m1 -324v4m0 87v1m0 228v4m1 -318v2m0 318v5m1 -328v2m0 327v2m1 -331v4m0 332v2m1 -334v3m0 319v2m0 2v3m0 6v3m1 -334v3m0 77v1m0 241v6m0 3v3m1 -332v3m0 75v1m0 241v2m0 2v1m1 -324v7m0 314v5m1 -322v2m0 71v1m1 -71v1m0 317v3m1 -319v2m0 314v3m1 -319v3m0 66v1m1 -69v3m0 67v1m1 -70v1m0 67v1m1 -69v2m1 0v1m0 64v1m1 -68v2m0 65v1m0 246v3m1 -315v2m0 63v1m1 -66v2m1 -2v1m0 64v1m1 -65v2m1 1v1m1 -2v2m1 -4v2m0 61v1m1 -65v3m1 -1v2m0 61v1m1 -1v1m1 -62v3m0 58v1m0 243v3m1 -311v7m0 58v1m1 -70v4m0 66v1m1 -68v4m0 64v1m1 -70v7m0 62v1m1 -74v3m0 70v1m0 246v3m1 -327v3m1 -4v5m0 71v1m1 -82v6m0 6v2m1 -9v9m0 66v1m1 -83v4m0 2v12m1 -15v7m0 1v5m0 65v1m1 -81v13m1 -8v2m0 3v4m0 65v1m1 -71v7m0 63v1m0 251v3m1 -323v7m1 2v3m0 57v1m1 -60v3m1 -3v3m1 0v5m0 49v1m1 -54v9m0 44v1m1 -61v2m0 1v8m0 2v3m0 44v1m1 -59v2m0 3v3m0 1v4m0 45v1m1 -55v3m0 16v3m0 33v1m1 -28v5m1 -27v2m0 17v5m0 3v3m0 20v1m1 -54v2m0 6v5m0 9v2m0 5v5m0 19v1m1 -57v3m0 10v4m0 19v1m0 20v2m0 1v1m1 -47v10m0 36v1m0 246v3m1 -300v8m0 3v4m0 35v1m1 -52v7m0 46v2m1 -52v8m0 44v2m1 -56v4m0 1v10m0 41v2m1 -55v16m0 40v1m1 -66v9m0 3v2m0 2v11m0 41v1m0 234v3m1 -304v8m0 6v4m1 -20v9m0 2v1m0 6v1m0 51v1m1 -70v14m0 61v1m1 -99v3m0 2v5m0 4v25m0 60v3m1 -106v7m0 19v5m0 10v5m1 -48v2m0 23v2m0 2v4m0 15v1m1 -53v5m0 31v8m0 7v6m0 42v1m1 -99v3m0 36v3m0 1v5m0 4v4m0 40v1m1 -96v2m0 41v9m0 281v3m1 -350v5m0 6v7m0 26v1m0 20v8m1 -75v8m0 1v5m0 329v3m1 -339v3m0 3v4m1 -2v5m1 -12v7m0 3v2m1 -16v5m0 101v1m1 -110v2m0 2v1m0 1v1m0 105v1m1 -115v3m0 3v2m1 0v2m1 -3v9m0 331v3m1 -354v6m0 36v1m0 7v1m0 20v1m1 -71v4m1 -2v3m0 45v2m0 31v2m1 -80v3m1 -5v5m1 -7v2m0 350v3m1 -357v3m1 -5v1m1 -2v4m1 -4v2m0 355v3m1 -359v2m1 1v2m1 -2v3m0 350v3m1 -356v5m0 342v3m1 -348v3m0 116v1m1 -121v6m0 346v3m1 -358v10m0 114v1m1 -126v2m0 3v1m1 -6v3m0 123v1m0 226v3m1 -356v2m0 351v3m1 -355v2m0 125v1m1 -129v2m0 3v3m1 -11v2m1 -1v2m1 0v1m0 133v1m0 221v3m1 -358v4m1 -5v2m0 351v3m1 -358v4m1 -8v2m0 3v2m1 -2v6m1 -12v6m1 -6v3m1 -4v3m1 -2v2m1 -1v2m1 -4v4m1 -4v4m1 -2v2m1 -2v2m1 0v2m1 -2v1m1 -3v1m0 128v1m1 -129v4m0 121v4m1 -127v3m0 118v2m1 -124v2m0 119v1m1 -123v2m0 118v1m1 -125v5m1 -2v2m1 -2v2m0 120v1m1 -121v2m0 119v1m1 -123v3m0 123v1m1 -126v2m1 -1v5m1 -5v4m0 125v1m0 229v3m1 -366v6m1 -4v3m0 129v1m1 -135v2m1 -1v2m1 3v4m1 -1v3m0 123v1m1 -130v2m1 -2v2m0 355v3m1 -361v2m1 -8v1m0 1v1m1 -2v1m1 0v1m0 134v1m1 -137v1m0 135v1m1 -137v2m1 -3v1m0 136v1m0 226v3m1 -367v1m0 137v1m1 -139v2m1 -3v1m0 138v1m1 -141v1m0 138v1m1 -139v1m0 364v3m1 -367v1m1 -1v1m1 -1v1m1 0v2m0 135v1m1 -138v1m1 -1v2m0 136v1m1 -140v2m0 134v1m1 -138v2m0 134v1m1 -140v2m1 -3v2m1 -1v1m1 0v2m0 365v3m1 -371v2m0 137v1m1 -140v3m0 136v1m1 -139v3m1 -6v2m0 138v1m1 -141v3m0 137v1m1 -136v3m0 132v1m1 -134v2m1 -2v2m0 128v1m1 -131v1m0 129v1m1 -131v1m1 -1v3m0 127v1m1 -133v2m0 1v1m0 129v1m1 -139v5m1 -4v5m0 131v1m1 -136v6m1 -5v4m0 131v1m1 -136v2m1 -3v4m0 133v1m1 -139v2m0 136v2m1 -141v2m0 135v1m1 -138v3m0 133v1m1 -136v3m1 0v2m0 129v1m1 -133v2m0 130v1m1 -136v2m0 365v6m1 -373v2m0 135v1m1 -137v3m0 136v2m1 -139v3m0 367v3m1 -371v2m1 -2v3m0 136v2m1 -141v2m0 138v1m1 -139v1m0 137v1m0 224v3m1 -365v1m0 136v1m1 -137v1m0 137v1m1 -137v1m1 -2v1m0 136v1m0 222v3m1 -363v1m0 136v1m1 -138v3m1 2v2m1 1v1m0 129v1m1 -129v5m0 125v1m0 216v3m1 -354v3m0 1v3m0 11v1m0 116v1m0 221v3m1 -360v5m0 18v3m0 111v1m0 216v3m1 -358v7m0 131v2m0 212v3m1 -351v9m0 127v1m1 -135v8m0 6v4m0 115v1m0 212v3m1 -345v5m0 2v10m1 -17v6m0 10v7m1 -27v7m0 1v2m0 17v1m0 102v1m1 -130v3m0 5v2m0 4v3m0 8v4m1 -13v4m0 6v2m1 -10v2m1 1v1m1 0v3m1 -2v2m1 -3v1m1 -2v2m0 322v3m1 -326v3m0 106v2m1 -110v2m0 108v3m0 1v1m1 -115v2m0 113v1m1 -115v2m0 111v1m1 -114v4m0 106v3m1 -121v1m0 2v1m0 1v7m0 105v1m1 -122v1m0 1v2m0 116v1m1 -128v1m0 4v6m1 -11v11m1 -11v2m1 0v2m0 121v1m0 214v3m1 -340v4m0 118v1m1 -129v3m0 2v6m0 116v1m1 -130v2m1 0v4m1 -1v1m1 -6v9m0 119v1m1 -130v2m0 9v3m0 114v1m2 -132v4m1 -3v2m0 349v3m1 -354v2m0 349v3m1 -356v3m1 -3v1m0 1v1m1 -3v1m1 133v1m1 -131v2m1 -5v1m0 2v6m0 340v3m1 -352v1m0 1v3m1 -4v2m0 133v1m1 -140v4m1 -5v5m0 135v1m1 -140v3m0 135v1m1 -140v4m0 355v3m1 -360v3m0 131v1m1 -137v2m1 -3v2m1 -2v1m1 0v1m1 0v2m1 -2v2m0 350v3m1 -356v1m0 141v1m1 -143v1m0 142v1m1 -142v1m0 141v1m1 -143v2m1 -2v1m1 -2v2m0 353v3m1 -357v1m0 144v1m0 205v3m1 -353v1m2 0v5m1 -5v3m1 -2v2m1 -2v2m1 -1v2m0 135v1m1 -137v2m1 -2v1m0 135v1m1 -137v1m0 136v1m1 -139v2m1 -1v1m1 -2v2m0 135v1m1 -137v2m1 -1v1m1 0v2m0 132v1m1 -135v4m0 64v1m1 -68v2m1 -3v5m0 56v1m0 1v1m0 283v3m1 -352v9m0 53v4m1 -65v2m0 57v13m0 8v1m1 -82v3m0 58v11m1 -72v4m0 47v10m0 6v7m1 -72v4m0 50v4m0 12v10m0 1v4m1 -86v2m0 54v1m0 27v5m0 4v7m1 -100v2m0 53v4m0 20v7m0 4v3m0 2v12m0 31v1m0 212v3m1 -354v2m0 55v7m0 13v3m0 15v3m0 2v4m1 -105v3m0 55v9m0 9v1m0 8v2m0 3v8m0 9v2m1 -111v6m0 54v13m0 3v2m0 16v4m0 13v3m1 -113v4m0 58v15m0 16v3m0 10v2m0 1v6m0 27v1m1 -142v4m0 56v2m0 5v4m0 37v5m1 -112v2m0 58v4m0 1v1m0 1v2m0 39v6m0 27v1m1 -136v1m0 56v3m0 1v2m0 46v2m0 24v1m1 -136v3m0 50v3m0 5v2m0 47v3m0 23v1m1 -134v3m0 44v1m0 2v7m0 50v3m0 24v2m1 -144v5m0 2v4m0 46v6m0 53v2m0 25v1m1 -140v4m0 50v7m0 50v1m0 2v2m1 -115v2m0 1v3m0 2v3m0 42v9m0 51v1m1 -109v1m0 5v1m0 39v2m0 2v2m0 55v2m0 228v3m1 -332v4m0 34v4m0 59v1m1 -98v2m0 39v2m0 56v2m1 -113v3m0 2v1m0 1v7m0 28v4m0 2v7m0 1v6m0 50v1m0 1v2m0 1v11m0 206v3m1 -338v8m0 39v13m1 -60v4m0 8v1m0 43v2m0 2v2m0 7v3m0 1v3m1 -76v6m0 56v5m0 1v8m0 1v2m1 -78v2m0 4v9m0 1v5m0 45v11m1 -76v2m0 4v16m0 37v6m0 3v8m1 -75v2m0 3v18m0 27v3m0 3v8m0 1v3m0 5v2m1 -73v2m0 2v17m0 30v7m0 4v2m1 -65v6m0 6v9m0 3v7m0 21v9m1 -60v2m0 56v13m1 -70v10m0 48v18m1 -77v5m0 11v3m0 40v8m0 4v8m0 19v2m0 2v9m0 222v3m1 -337v2m0 10v2m0 1v4m0 41v4m0 1v3m0 5v3m0 24v2m0 12v1m1 -117v1m0 64v12m0 24v4m1 -105v2m0 62v1m0 1v4m0 31v7m0 8v1m1 -116v3m0 57v10m0 31v6m0 4v3m1 -117v2m0 65v9m0 27v3m0 1v5m0 1v4m1 -118v2m0 71v4m0 1v1m0 22v4m1 -105v1m0 76v9m0 14v3m0 14v1m1 -118v1m0 92v7m1 -101v1m0 118v1m1 -120v2m0 66v9m0 44v2m0 217v3m1 -340v2m0 64v9m0 45v1m1 -124v4m0 74v1m1 -80v2m0 51v1m1 -56v3m0 52v1m0 14v2m0 1v2m0 56v1m0 208v3m1 -342v2m0 51v3m0 2v6m0 3v4m0 9v6m0 46v1m1 -134v1m0 1v2m0 59v7m1 -70v5m0 47v1m0 40v3m1 -96v2m0 48v1m0 46v2m1 -100v4m0 42v4m0 49v1m1 -103v2m0 44v5m0 52v3m0 36v1m1 -144v2m0 48v4m0 50v3m0 31v5m1 -144v2m0 52v1m0 51v3m0 27v2m1 -136v2m0 51v1m0 49v3m0 27v1m1 -132v1m0 50v1m0 50v2m0 27v1m1 -133v1m0 52v1m0 49v1m0 28v1m1 -133v2m0 47v4m0 49v5m0 25v1m1 -132v2m0 48v2m0 48v2m1 -106v3m0 51v2m1 -58v3m0 53v2m0 51v1m1 -111v3m0 53v5m0 50v2m1 -113v5m0 47v5m0 55v3m0 234v3m1 -351v2m0 50v4m0 56v3m0 236v3m1 -353v2m0 47v7m0 51v1m0 1v2m0 236v3m1 -349v3m0 46v5m0 53v2m1 -107v1m0 47v6m0 51v2m0 87v4m1 -199v2m0 47v6m0 53v2m0 29v1m0 52v1m0 3v1m1 -196v2m0 45v6m0 58v2m0 27v1m0 55v4m1 -201v4m0 43v5m0 63v2m0 26v1m1 -148v1m0 1v3m0 48v2m0 64v3m0 26v3m0 44v3m0 1v2m0 1v3m1 -204v2m0 48v5m0 62v4m0 29v1m0 37v4m0 8v4m1 -204v4m0 29v6m0 1v3m0 3v3m0 1v2m0 65v4m0 21v6m0 3v1m0 37v1m0 15v1m1 -204v5m0 26v6m0 81v3m0 17v2m0 48v1m0 16v1m1 -204v4m0 25v5m0 84v2m0 15v1m0 51v2m0 14v1m1 -203v3m0 11v3m0 5v2m0 1v7m0 84v2m0 16v1m0 53v3m0 10v1m1 -209v2m0 1v3m0 1v4m0 1v6m0 4v12m0 90v2m0 72v3m0 1v5m1 -206v2m0 9v4m0 2v6m0 1v6m0 98v2m0 9v1m1 -142v4m0 19v9m0 100v9m1 -137v2m0 192v5m1 -199v2m0 26v2m0 164v9m1 -203v8m0 19v2m0 164v3m0 3v3m1 -197v14m0 1v5m0 102v2m1 -126v3m0 2v16m0 162v2m0 1v10m1 -195v3m0 2v3m0 174v2m0 11v1m1 -197v8m0 176v3m0 10v1m1 -202v1m0 4v2m0 182v2m0 10v1m1 -202v4m0 183v4m0 10v1m0 149v3m1 -165v10m1 -8v8m3 152v3m5 -3v3m1 -6v3m1 -3v3m5 0v3m25 -6v3m20 -286v1m0 3v5m1 -5v1m0 10v5m1 -16v2m0 16v2m1 -21v2m1 -6v6m0 25v3m1 -32v5m0 16v2m0 2v7m0 250v6m1 -286v5m0 11v2m0 3v9m0 2v4m0 247v3m1 -287v2m0 11v11m0 2v5m0 1v4m1 -39v4m0 12v20m0 251v3m1 -290v2m0 35v3m1 -38v3m1 0v1m0 5v1m0 6v4m0 23v4m1 -24v11m0 6v3m0 2v3m1 -12v2m0 5v1m1 -11v1m1 251v3m9 -3v3m4 -3v3m2 -317v2m0 1v2m1 -2v1m0 313v3m1 -6v3m1 -3v3m8 -3v3m17 -3v3m2 -9v3m10 -294v6m1 -8v10m1 -10v11m1 -12v5m0 4v4m1 -15v4m0 7v5m1 -20v2m0 2v3m0 11v3m1 -23v4m0 18v1m1 -22v3m0 19v1m1 -23v6m0 16v2m1 -23v8m0 14v2m1 -22v6m0 3v5m0 5v4m1 -23v8m0 5v8m1 -20v6m0 8v7m0 279v3m1 -303v9m0 10v2m1 -20v5m0 7v2m0 5v3m1 -16v3m0 6v6m1 -11v8m1 -6v7m1 -3v1m1 -16v7m0 4v4m0 1v3m1 -19v4m0 15v1m1 -17v7m0 10v3m0 272v3m1 -294v4m0 14v2m1 -20v5m0 6v3m0 1v4m1 -20v8m0 9v2m1 -27v4m0 2v3m0 17v2m1 -23v3m0 15v4m1 -5v1m1 -8v1m1 -2v1m1 -3v3m1 -2v7m1 -8v5m0 1v3m0 285v3m1 -303v8m0 3v3m1 -8v3m0 5v2m0 284v3m1 -297v9m1 -16v9m0 1v6m0 1v1m0 1v1m0 275v3m1 -296v4m0 9v2m0 287v3m1 -307v3m0 14v2m1 -30v4m0 6v3m1 -16v4m0 28v1m1 -32v5m0 27v1m1 -31v5m0 26v1m0 274v3m1 -307v3m0 24v2m0 278v6m1 -313v6m1 -6v5m0 24v2m1 -29v2m0 27v2m1 -32v4m0 24v3m1 -27v2m0 26v1m1 -26v2m0 26v1m1 -35v6m0 2v2m0 24v1m1 -34v11m0 21v2m1 -34v8m0 12v5m0 2v2m1 -33v4m0 23v3m1 -32v5m0 26v3m1 -36v4m0 1v3m0 25v3m0 279v3m1 -316v6m0 25v3m1 -32v4m0 24v2m1 -28v3m0 21v2m1 -26v2m0 1v4m0 14v3m1 -27v1m0 8v3m0 13v2m0 282v3m1 -315v3m0 1v9m0 5v1m0 5v3m1 -28v4m0 10v3m1 -19v6m0 18v3m1 -29v3m0 21v6m1 -31v3m0 15v1m0 2v6m0 294v3m1 -322v2m0 15v11m1 -30v6m0 18v6m1 -26v5m0 21v7m1 -32v3m0 30v1m1 -36v2m0 33v2m1 -37v2m0 26v7m1 -32v2m0 30v1m1 -34v4m0 26v5m1 -32v3m0 20v1m0 2v6m1 -31v9m0 16v4m0 1v1m1 -31v11m0 2v6m0 3v8m1 -29v6m0 5v18m1 -23v5m0 1v6m0 2v10m1 -21v10m0 4v6m0 285v3m1 -309v11m0 5v2m0 2v2m1 -25v15m0 4v4m0 1v4m1 -26v4m0 3v7m0 4v4m0 2v1m1 -24v2m0 5v12m0 2v1m1 -17v6m0 1v5m1 -17v1m0 2v3m0 6v10m1 -21v1m0 19v1m1 -21v4m0 6v1m0 9v2m0 280v3m1 -294v2m0 3v4m0 2v1m1 -10v9m0 280v3m1 -298v3m0 1v9m1 -13v2m0 2v1m0 8v2m1 -16v3m1 -5v1m0 4v2m0 12v1m1 -20v11m0 8v1m1 -21v5m0 3v2m0 6v1m0 1v3m1 -20v3m0 1v3m0 11v2m1 -13v2m0 8v4m1 -13v7m0 1v4m1 -10v7m0 5v2m1 -13v5m0 4v4m0 268v3m1 -283v4m0 6v2m1 -9v8m1 -12v7m1 -9v4m0 3v4m1 -9v15m1 -10v5m0 280v3m3 -291v2m8 283v3m2 -3v3m2 -3v3m6 -3v6m2 -293v2m3 288v3m1 -9v3m4 -3v3m5 -293v2m1 -4v7m0 6v3m1 -12v2m0 16v2m1 -20v1m1 -3v3m0 2v2m0 15v1m0 270v3m1 -297v9m0 14v1m1 -53v1m0 31v6m0 14v1m1 -18v10m0 4v4m1 -12v11m1 -55v2m0 44v1m0 1v7m1 -50v7m0 21v2m0 5v15m1 -23v9m0 3v2m0 9v1m0 2v2m1 -28v3m0 24v3m0 264v3m1 -294v9m0 17v1m0 264v6m1 -339v3m0 37v11m0 14v2m1 -62v5m0 29v13m0 2v8m0 1v2m1 -23v5m0 3v5m1 -10v4m0 2v9m1 -13v4m0 4v4m1 -13v4m0 1v8m0 274v3m1 -293v3m0 6v7m0 277v3m1 -300v10m0 10v1m1 -28v8m0 2v7m0 10v1m1 -28v5m0 22v1m0 270v3m0 3v3m1 -306v6m0 19v1m1 -27v8m0 17v2m1 -25v3m0 21v1m1 -25v7m0 5v5m0 6v1m1 -47v6m0 1v4m0 12v5m0 9v1m0 6v3m1 -46v18m0 4v5m0 17v2m0 278v3m1 -322v5m0 2v2m0 6v6m0 19v1m1 -33v4m0 26v3m1 -36v4m0 2v3m0 26v1m2 -25v3m1 -1v7m0 14v1m1 -15v1m0 12v2m1 -7v1m0 4v2m0 273v3m1 -303v1m0 20v5m0 277v3m1 -307v2m0 5v6m0 6v4m1 -17v11m0 2v9m1 -23v11m0 1v8m0 276v3m1 -298v2m0 3v11m1 -23v5m0 9v3m0 5v1m1 -10v2m0 7v6m0 277v3m1 -304v2m0 3v2m0 1v5m0 6v5m1 -23v3m1 -15v1m0 22v11m1 -35v11m0 9v3m0 2v4m0 1v6m1 -34v3m0 6v18m0 2v6m1 -30v4m0 11v13m0 278v3m1 -305v2m0 2v13m0 2v2m1 -29v8m0 6v7m0 2v4m0 1v2m1 -28v9m0 8v3m0 5v10m1 -32v3m0 4v1m0 6v2m0 13v3m1 -30v7m0 20v2m1 -29v1m0 1v6m0 4v4m0 10v3m1 -26v5m0 19v2m1 -43v4m0 2v6m0 3v3m0 24v1m1 -38v1m1 0v2m0 3v3m0 27v1m1 -33v6m0 9v2m0 1v15m1 -27v7m0 4v6m0 8v2m1 -31v12m0 3v4m0 2v2m0 6v3m1 -41v4m0 2v4m0 10v12m0 8v3m1 -44v4m0 24v3m0 3v1m0 3v3m0 4v2m1 -45v3m0 42v1m0 268v3m1 -316v4m0 39v1m0 266v3m1 -311v2m0 37v1m0 1v2m1 -42v3m0 35v3m1 -45v8m0 36v4m1 -47v5m0 39v3m1 -48v5m0 41v1m1 -48v3m0 45v1m1 -54v5m0 48v1m0 266v3m1 -323v8m0 44v2m1 -53v5m0 47v2m1 -54v7m0 47v1m1 -50v2m0 47v1m1 -51v3m0 45v3m1 -48v1m0 42v4m1 -46v7m0 34v6m1 -60v1m0 17v4m0 29v9m1 -53v12m0 33v5m1 -51v3m0 45v3m1 -55v6m0 13v1m0 5v3m0 5v7m0 12v7m1 -58v2m0 19v4m0 1v5m0 16v3m0 2v5m0 1v1m1 -56v2m0 25v1m1 -26v2m0 29v1m1 -34v4m0 34v8m1 -45v3m0 36v7m1 -47v2m0 38v5m0 1v1m1 -45v1m0 43v10m1 -54v5m0 40v1m0 5v6m1 -57v4m0 47v4m1 -57v5m0 51v1m1 -56v1m0 4v2m0 48v2m1 -51v5m0 20v4m0 18v4m1 -48v6m0 3v2m0 3v20m0 10v4m1 -46v4m0 2v6m0 3v9m0 1v9m0 1v4m0 5v3m0 259v3m1 -307v7m0 6v1m0 9v2m0 8v4m0 6v3m1 -55v2m0 16v4m0 15v5m0 1v6m0 2v2m0 260v3m1 -304v9m0 21v3m0 2v6m1 -45v8m1 -5v11m3 -8v6m4 296v3m6 -6v3m2 -6v3m4 -3v6m3 -3v3m11 -6v3"/>
<path stroke="#80ff80" d="M170.5 311v3m0 92v1m0 227v1m0 14v6m1 -16v5m0 2v5m1 -332v4m0 316v9m1 -325v3m0 80v1m0 239v1m1 -327v3m0 3v3m0 77v1m0 242v2m0 3v2m1 -334v3m0 1v2m0 78v1m0 249v1m1 -332v6m0 75v1m0 256v3m1 -337v3m1 -1v5m0 314v2m0 1v1m0 3v3m1 -324v2m0 67v1m0 249v2m1 -322v2m1 0v1m0 68v1m1 -67v2m0 64v1m1 -66v2m1 -1v2m0 63v2m1 -68v2m1 -1v2m0 63v1m1 -65v2m0 312v3m1 -318v2m0 62v1m1 -63v2m1 -2v3m1 -4v2m1 0v2m0 58v1m1 -59v2m0 56v1m0 251v3m1 -313v3m0 55v1m1 -61v2m1 -2v2m0 60v1m1 -62v4m1 -4v6m1 -3v6m0 4v2m1 -11v2m0 55v1m1 -65v6m0 59v1m1 -63v4m0 59v1m1 -62v3m0 58v1m0 244v3m1 -317v4m0 2v6m0 55v3m1 -74v5m0 66v3m0 247v3m1 -323v5m0 64v2m1 -75v6m0 2v4m0 60v3m0 249v3m1 -319v4m0 61v1m1 -64v6m0 3v3m0 51v1m1 -66v19m0 45v1m1 -67v11m0 5v5m0 45v1m1 -66v10m1 -8v5m1 -3v2m0 59v1m1 -57v3m1 -2v3m0 30v2m0 21v1m1 -57v5m0 49v1m0 249v3m1 -302v4m1 1v1m0 42v1m0 250v3m1 -297v6m0 9v3m0 11v6m0 8v1m1 -56v3m0 3v1m0 4v16m0 18v5m0 5v1m1 -51v3m0 5v4m0 1v3m0 3v3m0 20v10m1 -50v23m0 5v3m0 19v1m1 -48v11m0 3v3m0 5v3m0 3v3m0 16v1m1 -40v2m0 3v4m0 2v5m0 5v2m0 16v1m1 -39v19m0 1v10m0 8v2m1 -33v1m0 11v2m0 2v6m0 4v2m0 3v5m0 244v3m0 6v3m1 -298v3m0 4v2m0 31v2m1 -44v10m0 34v2m0 248v3m1 -293v9m0 34v1m1 -50v1m0 10v6m0 34v1m1 -37v2m0 37v1m1 -56v3m0 2v2m0 11v3m0 36v2m1 -58v6m0 4v7m1 -18v2m0 1v6m0 1v8m1 -12v12m0 43v6m1 -88v4m0 25v7m0 48v5m1 -96v19m0 20v1m0 49v1m0 235v3m1 -335v11m0 2v5m0 3v2m0 2v2m0 20v6m1 -54v9m0 3v7m0 5v7m0 21v5m1 -58v3m0 6v1m0 5v5m0 12v4m0 3v1m0 5v4m0 4v3m1 -56v3m0 24v2m0 5v7m0 9v6m1 -54v3m0 15v3m0 2v3m0 1v1m0 4v5m0 1v9m0 8v3m0 31v1m0 245v3m1 -350v1m0 5v8m0 20v33m0 34v1m1 -93v2m0 35v3m0 7v2m0 14v2m0 261v3m1 -326v2m0 60v2m0 24v1m1 -94v3m0 2v6m0 323v3m1 -343v6m0 3v3m0 325v3m1 -346v2m0 1v1m0 1v7m1 -13v3m0 2v8m1 -6v9m1 -3v5m0 17v1m0 6v3m0 8v6m0 1v2m1 -63v26m0 4v6m0 1v7m0 1v2m0 3v7m0 1v7m0 1v10m0 35v1m1 -113v8m0 19v55m0 29v1m1 -111v8m0 2v2m0 25v8m0 2v9m0 1v5m0 4v6m0 3v3m0 2v2m0 10v3m0 14v1m1 -107v7m0 32v7m0 28v3m0 5v6m0 257v3m1 -348v2m0 1v5m0 71v9m0 17v1m1 -111v2m0 86v7m0 15v1m1 -112v2m0 18v4m0 4v1m0 83v1m1 -117v5m0 28v3m0 9v1m0 71v1m1 -116v5m0 111v1m1 -119v5m0 113v1m1 -118v3m0 115v1m1 -116v1m0 116v2m1 -118v2m0 115v1m1 -116v2m0 113v1m0 232v3m1 -351v4m1 -2v3m0 112v1m1 -115v4m1 -13v3m0 1v3m0 5v1m0 338v6m1 -356v4m1 -5v4m0 356v3m1 -362v8m1 -9v3m0 3v5m1 -14v2m0 4v5m1 -10v2m1 -1v4m1 129v1m1 -133v4m0 126v1m1 -131v3m1 -4v3m0 127v1m1 -127v1m0 125v1m1 -133v5m1 -8v2m0 130v1m1 -134v3m0 129v1m1 -133v2m0 129v2m1 -132v1m0 127v1m1 -129v2m0 349v3m1 -354v2m0 125v1m1 -128v2m1 -2v2m0 125v1m1 -126v2m0 123v1m1 -127v2m0 124v1m1 -129v5m1 -1v2m0 118v1m1 -120v2m0 115v1m1 -120v3m0 358v3m1 -365v1m1 -2v2m0 117v1m1 -120v4m1 -4v5m1 -3v3m1 -3v4m1 -4v5m0 359v3m1 -363v1m0 359v3m1 -364v3m1 -5v5m1 -6v6m1 -9v9m1 -8v6m1 1v2m0 351v3m1 -354v5m0 346v3m1 -358v7m0 120v1m0 227v3m1 -358v6m0 121v1m1 -129v3m0 125v1m1 -136v1m0 1v3m1 -4v3m0 359v3m1 -364v2m1 -3v2m0 360v3m1 -364v2m1 -4v1m1 -1v1m1 0v1m0 136v1m1 -140v3m1 -4v2m1 -1v2m0 134v1m1 -136v1m0 134v1m1 -136v1m0 134v1m1 -136v2m0 134v1m1 -135v1m1 -2v2m0 134v1m1 -136v2m0 131v3m0 219v6m1 -362v3m0 130v1m0 228v3m1 -366v2m0 361v3m1 -369v2m1 -3v2m0 135v1m1 -138v3m0 134v1m1 -136v1m0 134v1m1 -137v2m1 -1v3m0 132v1m1 -135v3m0 131v1m1 -139v3m1 -2v4m1 132v1m0 227v3m1 -361v2m0 126v1m1 -129v1m1 -2v2m1 -2v3m0 126v1m1 -128v2m1 -5v1m0 1v2m0 365v3m1 -374v4m0 128v1m1 -132v3m1 -1v3m1 -4v5m1 -7v6m0 127v1m1 -133v2m0 130v1m0 237v3m1 -376v3m0 132v1m1 -137v2m0 132v1m1 -134v2m1 -1v2m0 129v1m1 -130v2m1 -3v3m0 126v1m1 -133v3m0 3v1m0 126v1m1 -134v3m0 130v2m1 -133v3m0 132v1m1 -134v2m0 134v1m0 233v3m1 -372v2m0 133v1m1 -135v2m0 132v2m0 232v3m1 -372v3m1 -2v2m1 -1v2m0 133v1m1 -135v2m0 134v1m1 -135v1m0 134v1m1 -137v3m1 -3v3m0 132v1m1 -134v3m0 130v1m1 -130v2m0 128v1m1 -129v2m1 4v4m0 2v6m0 112v1m1 -127v2m0 4v5m0 1v8m1 -22v4m0 4v3m0 10v4m0 105v2m0 214v3m1 -348v3m0 14v3m0 1v1m0 108v1m1 -125v4m0 120v3m1 -114v1m0 111v1m0 216v3m1 -331v5m0 105v1m1 -105v2m0 101v1m1 -103v6m0 95v1m0 219v3m1 -322v5m0 93v1m0 220v3m1 -331v6m0 2v5m1 -13v5m0 1v5m0 95v1m1 -105v4m0 2v3m1 -6v3m0 9v3m0 87v1m1 -103v2m0 101v1m1 -106v2m1 -2v2m0 104v1m1 -105v2m0 103v1m0 220v3m1 -329v2m0 105v1m1 -108v4m0 104v5m1 -112v3m0 105v3m1 -109v3m0 102v1m1 -106v2m1 -14v3m0 1v2m0 52v1m1 -59v1m0 55v4m0 55v1m1 -116v4m0 53v1m0 57v1m1 -125v12m0 111v1m0 211v3m1 -336v4m1 -1v2m0 337v3m1 -349v1m0 7v3m1 -14v8m1 -4v4m0 118v1m0 219v3m1 -345v5m0 117v1m0 225v3m1 -348v7m1 -15v3m0 2v4m0 3v3m1 -19v3m0 127v1m1 -128v2m0 125v1m1 -129v4m0 124v1m0 226v3m1 -358v3m1 -4v4m0 125v1m1 -132v1m0 1v2m0 354v3m1 -361v4m1 -3v1m1 3v5m1 -1v2m1 -6v3m0 2v1m0 123v1m1 -132v2m0 130v1m1 -135v2m0 71v5m0 58v1m1 -137v1m0 72v7m1 -81v1m1 -1v1m0 351v3m0 3v3m2 -363v2m0 358v3m1 -364v1m0 133v1m1 -136v2m0 133v1m0 217v3m0 6v3m1 -364v2m0 133v1m1 -134v1m0 133v1m0 215v3m1 -353v2m0 134v2m1 -140v3m0 137v1m0 220v3m1 -364v2m0 139v1m0 213v3m0 3v3m1 -362v2m1 -1v1m0 70v1m0 70v1m1 -144v4m0 139v1m1 -144v1m0 142v1m1 -144v2m1 -1v1m0 144v2m1 -146v2m0 140v1m1 -139v1m0 134v1m1 -138v2m0 347v3m1 -352v2m1 -2v3m1 -2v3m0 345v3m1 -350v3m1 -4v2m0 343v3m1 -348v2m1 -2v1m0 347v3m1 -351v1m1 -1v1m0 347v3m1 -350v1m1 -1v2m0 342v3m1 -345v3m0 59v6m1 -66v3m0 58v3m0 1v4m0 60v1m1 -131v3m0 54v2m0 1v12m0 58v1m1 -129v5m0 47v4m0 1v1m0 1v3m0 6v5m0 275v3m1 -349v6m0 43v4m0 4v14m0 56v1m0 212v3m1 -349v3m0 1v7m0 44v2m0 13v2m0 3v3m0 1v2m1 -81v2m0 3v4m0 43v6m0 11v5m0 10v1m0 49v1m1 -134v3m0 42v2m0 23v9m0 5v1m0 1v1m1 -85v3m0 45v2m0 31v11m0 248v6m1 -349v3m0 1v5m0 42v3m0 33v4m0 7v5m0 32v1m0 207v3m1 -346v3m0 47v3m0 52v4m1 -109v4m0 48v3m0 41v2m0 4v6m0 28v1m1 -137v4m0 47v4m0 51v4m0 27v1m0 202v3m1 -342v12m0 40v2m0 54v5m0 24v1m1 -139v3m0 1v3m0 46v5m0 53v2m1 -112v2m0 52v2m0 53v2m0 26v1m1 -139v6m0 49v3m0 54v3m0 23v1m1 -134v2m0 46v2m0 1v5m0 54v1m1 -109v2m0 43v5m0 3v5m0 52v1m1 -108v2m0 39v3m0 1v2m0 60v2m0 21v1m1 -131v4m0 33v9m0 61v1m1 -111v10m0 33v7m0 62v1m0 22v1m1 -133v2m0 3v2m0 32v8m0 61v1m0 23v1m1 -127v6m0 28v5m0 63v2m0 21v1m1 -121v3m0 30v1m0 64v2m0 20v1m1 -119v6m0 19v7m0 4v3m0 60v2m0 13v5m1 -119v5m0 16v7m0 4v2m0 7v1m0 57v1m0 2v1m1 -110v7m0 1v5m1 -17v8m0 1v3m0 39v1m1 -50v11m0 39v6m0 14v1m1 -74v4m0 9v1m0 5v4m0 34v7m1 -63v4m0 16v3m0 25v4m0 3v2m0 6v3m0 271v3m1 -339v3m0 18v6m0 19v2m0 3v3m0 8v1m1 -42v10m0 19v1m0 279v3m1 -328v6m0 9v3m0 7v3m0 1v5m0 11v1m0 282v3m1 -334v10m0 10v17m0 15v4m0 275v3m1 -325v4m0 16v2m0 8v2m0 10v6m1 -40v2m0 30v8m0 8v4m0 29v2m1 -101v2m0 1v7m0 7v4m0 32v5m0 4v1m0 3v5m0 29v4m0 6v2m0 217v3m1 -335v2m0 7v3m0 1v3m0 40v8m0 40v3m0 9v1m1 -116v2m0 53v7m0 1v1m0 42v2m1 -106v1m0 3v4m0 45v4m0 47v4m0 221v3m1 -336v7m0 1v6m0 49v2m0 39v1m0 5v1m1 -112v1m0 11v2m0 1v1m0 50v5m0 32v7m0 4v1m1 -116v1m0 71v4m0 26v3m1 -105v2m0 67v18m0 12v5m0 12v1m1 -118v1m0 61v15m0 1v3m0 4v16m0 244v3m1 -347v3m0 58v5m0 9v12m0 30v2m1 -116v4m0 69v13m0 31v1m1 -119v3m0 68v2m0 2v14m0 31v1m1 -124v3m0 45v3m0 1v5m0 20v2m0 9v2m0 35v1m1 -127v3m0 46v3m0 1v14m0 2v1m0 2v6m0 2v2m0 4v3m0 38v1m0 218v3m1 -349v5m0 45v1m0 11v3m0 19v5m0 1v3m0 36v1m1 -129v4m0 44v1m0 39v4m0 38v2m0 213v3m1 -347v3m0 43v1m0 44v2m0 39v1m1 -136v3m0 43v2m0 49v2m0 36v1m0 205v3m1 -343v4m0 35v3m0 54v4m0 34v1m0 202v3m1 -345v2m0 1v4m0 36v1m0 60v2m0 33v1m1 -141v2m0 43v3m0 57v6m0 22v3m1 -137v3m0 47v2m0 55v4m0 22v1m1 -132v2m0 47v2m0 53v3m0 23v1m0 220v3m1 -353v2m0 46v2m0 53v3m1 -107v5m0 45v2m0 51v4m1 -106v2m0 43v2m0 58v1m1 -105v1m0 44v3m0 52v3m0 25v1m1 -132v2m0 47v2m0 53v3m0 24v1m1 -134v3m0 47v3m0 54v4m0 22v1m1 -135v7m0 40v6m0 57v3m0 21v1m0 211v3m1 -347v2m0 43v2m0 63v4m0 19v1m1 -136v2m0 45v3m0 63v2m0 20v1m1 -135v2m0 43v2m0 62v2m0 23v1m1 -133v2m0 41v3m0 60v3m0 24v1m1 -134v2m0 40v5m0 59v3m0 25v1m1 -135v3m0 36v2m0 2v4m0 61v3m0 24v2m1 -136v2m0 33v10m0 66v3m0 22v2m1 -137v2m0 33v3m0 2v3m0 70v3m0 20v3m1 -142v8m0 28v1m0 2v9m0 69v8m0 17v1m0 50v1m1 -196v4m0 22v1m0 5v1m0 4v1m0 2v8m0 71v11m0 4v2m0 6v6m0 42v3m0 3v2m1 -196v5m0 20v4m0 16v1m0 71v3m0 5v5m0 5v3m0 6v3m0 39v2m0 12v1m1 -198v8m0 13v5m0 90v4m0 5v4m0 3v1m0 51v4m0 11v1m0 144v3m1 -346v14m0 6v1m0 1v3m0 91v15m0 54v2m0 11v1m0 144v3m1 -346v11m0 3v5m0 2v1m0 93v4m0 2v1m0 5v4m0 57v4m0 4v2m1 -197v1m0 6v4m0 104v5m0 8v2m1 -138v7m0 1v1m0 4v2m0 6v1m0 109v6m1 -137v4m0 5v3m0 3v4m1 -17v3m0 14v9m1 -26v7m1 -1v11m0 4v4m1 -8v1m1 -14v2m1 -1v2m0 179v7m0 2v2m1 -9v5m0 1v4m1 -10v3m0 4v3m1 -10v4m0 2v4m6 153v3m2 -6v3m3 -3v3m5 0v3m20 -6v3m4 -3v3m6 -6v3m3 6v3m13 -286v5m1 -9v5m0 4v1m0 268v3m1 -280v2m0 6v4m0 2v2m1 -17v2m0 17v2m0 260v3m1 -284v3m0 12v4m0 2v4m1 -24v3m0 3v3m0 3v4m0 2v2m1 -18v11m1 -15v11m1 -12v5m0 5v2m1 -14v1m0 13v8m0 1v11m1 -31v2m0 5v10m0 1v7m0 6v9m0 248v3m1 -290v5m0 11v15m0 5v3m1 -9v6m0 3v2m3 246v3m3 -9v3m22 0v3m7 -6v3m1 -6v3m19 0v3m1 0v3m4 -3v3m1 -301v4m1 -7v4m0 2v1m1 -13v2m0 3v7m0 1v3m1 -16v5m0 11v2m1 -18v6m0 11v2m1 -16v6m0 7v3m1 -13v7m0 4v3m1 -14v3m0 5v5m1 -11v5m1 -6v3m0 2v3m1 -5v2m0 5v3m1 -13v7m0 2v5m1 -10v6m3 293v3m1 -303v3m0 5v1m0 282v3m1 -297v15m1 -9v10m0 281v3m1 -296v14m1 -13v6m0 3v1m1 -8v9m1 -16v17m0 277v3m1 -298v5m0 3v4m0 1v2m0 283v6m1 -297v7m2 284v3m1 -6v3m2 -289v1m1 -4v3m1 -2v5m2 -6v1m1 -4v3m0 1v5m1 -12v3m0 4v2m0 2v3m0 281v3m1 -308v6m0 3v5m0 10v2m1 -29v5m0 22v1m1 -26v3m0 3v1m0 18v2m1 -25v6m0 5v1m0 10v4m1 -26v4m0 16v4m1 -21v2m0 16v4m1 -23v3m0 20v1m1 -25v3m0 20v1m0 1v2m1 -26v2m0 21v1m0 287v3m1 -312v2m0 20v4m0 283v3m1 -309v3m0 21v2m1 -24v2m0 1v4m0 15v2m1 -22v7m0 6v1m0 2v5m1 -24v12m0 5v2m1 -27v8m0 2v2m0 4v7m1 -24v4m0 13v5m0 1v3m1 -25v5m0 17v3m1 -25v5m0 18v2m1 -25v5m0 18v1m1 -23v15m0 4v2m1 -22v1m0 4v14m1 -12v13m1 -25v1m0 314v3m1 -318v4m0 5v1m1 -10v4m0 4v5m0 1v4m1 -23v15m0 3v3m0 296v3m1 -321v3m0 5v7m0 1v2m0 297v3m1 -317v3m0 8v4m0 308v3m1 -324v4m0 9v5m1 -15v1m0 14v6m1 -22v2m0 20v8m0 289v3m1 -325v3m0 2v1m0 17v10m1 -33v4m0 7v1m0 6v8m1 -23v5m0 6v5m0 3v11m1 -29v6m0 5v2m0 6v7m1 -24v5m0 4v4m0 4v3m0 1v2m1 -16v16m1 -14v2m0 6v3m0 293v3m1 -311v5m1 0v1m0 6v2m1 -1v4m1 -4v5m0 2v2m1 -8v4m0 4v1m1 -18v3m0 7v4m0 4v2m1 -21v5m0 299v3m1 -298v1m1 -6v6m1 -10v19m1 -9v9m1 -7v3m0 4v2m0 286v3m1 -3v3m1 -301v1m1 -2v2m0 1v2m1 -5v4m0 9v1m1 -12v4m0 7v1m1 -8v5m0 2v1m1 -15v3m0 2v6m0 1v1m1 -10v2m0 3v6m0 280v3m1 -292v8m1 -2v1m1 1v5m0 270v3m1 -279v4m1 -4v6m3 -9v3m4 288v3m1 -9v3m1 3v3m3 -6v3m12 -6v3m2 -6v3m7 0v3m6 -6v3m3 -288v6m1 -7v2m0 7v7m0 273v3m1 -293v8m0 10v1m1 -15v2m0 11v2m0 274v3m1 -291v1m0 11v2m0 277v3m1 -294v7m0 3v4m1 -7v4m4 -11v3m0 2v9m0 1v2m1 -23v4m0 5v1m0 4v10m1 -15v2m0 7v8m1 -17v11m0 2v1m0 265v3m1 -271v1m1 -16v3m1 283v6m1 -288v4m1 -5v1m1 -5v6m1 -3v10m0 274v3m1 -296v2m0 7v10m0 280v3m1 -305v12m0 2v8m1 -20v4m0 6v2m0 6v1m1 -18v5m0 10v2m1 -20v8m0 1v5m0 5v2m0 275v3m1 -295v5m0 9v2m1 -18v9m0 1v6m1 -25v1m0 8v3m0 4v10m0 277v3m1 -314v2m0 2v4m0 1v1m0 6v14m0 2v3m1 -35v3m0 4v4m0 9v2m0 3v3m0 1v4m1 -29v2m0 3v4m0 19v3m1 -26v6m0 19v1m1 -21v2m0 18v1m1 -3v2m0 274v3m1 -290v8m0 2v2m1 -4v4m4 -10v1m2 -1v5m1 -7v7m0 277v3m5 -305v6m1 0v11m1 6v2m1 -6v2m0 4v1m0 279v3m1 -299v8m0 3v5m1 -19v4m0 1v6m0 2v13m1 -20v20m1 -19v4m0 4v2m0 5v3m1 -18v7m0 6v6m0 276v3m1 -316v2m0 6v3m0 3v6m0 17v1m0 272v3m1 -311v22m0 14v1m1 -35v3m0 3v1m0 5v2m0 1v12m0 5v1m1 -26v9m0 2v1m1 5v8m1 -10v2m0 2v6m1 -28v10m0 12v8m1 -37v4m0 3v4m0 10v3m0 3v3m0 1v3m0 3v4m0 268v3m1 -311v9m0 24v9m1 -40v6m0 25v8m1 -39v6m0 6v3m0 9v3m0 1v9m0 1v1m1 -37v3m0 22v10m1 -34v1m0 29v6m1 -38v4m0 32v3m1 -40v8m0 3v1m0 26v3m1 -44v12m0 2v1m0 3v3m0 3v1m0 18v2m1 -48v9m0 18v3m0 17v1m1 -45v3m0 30v1m0 2v3m0 3v2m0 274v3m1 -323v3m0 40v4m1 -45v2m0 44v1m1 -47v2m0 43v2m1 -47v4m0 33v4m0 1v3m1 -44v7m0 26v9m1 -35v2m0 28v4m1 -32v5m0 21v3m1 -32v8m0 4v2m0 16v3m1 -43v24m0 3v4m0 10v4m1 -46v13m0 1v5m0 3v5m0 7v12m1 -49v5m0 7v7m0 29v2m1 -47v4m0 4v10m0 1v2m0 3v1m1 -23v3m0 20v6m0 1v2m0 285v3m1 -320v2m0 30v2m1 -34v2m0 31v3m1 -38v4m0 26v8m0 5v1m1 -43v3m0 30v10m1 -39v2m0 35v3m0 1v5m1 -47v4m0 20v8m0 9v6m1 -48v6m0 14v1m0 1v4m0 5v2m0 16v2m1 -54v4m0 2v4m0 39v5m0 268v3m1 -315v15m0 1v4m0 4v9m0 6v3m1 -38v3m0 2v3m0 20v3m0 1v6m1 -38v2m0 28v1m0 4v5m1 -17v8m0 4v6m1 -10v1m0 6v2m8 262v3m2 3v3m1 -3v3m2 -9v3m6 3v3m4 -9v3m11 -3v3"/>
<path stroke="#99ff66" d="M170.5 314v3m0 338v2m1 -342v2m0 327v2m1 -323v3m1 0v2m0 319v1m0 3v6m1 -334v3m0 3v1m0 326v1m1 -332v1m0 2v7m1 -4v4m0 70v1m0 248v3m1 -325v5m0 68v1m1 -70v5m0 64v1m1 -68v1m0 65v1m1 -68v3m0 65v1m1 -68v4m1 0v4m1 -3v3m0 60v1m1 -63v3m0 59v1m1 -64v2m0 62v1m1 -64v2m0 59v1m0 248v3m1 -312v3m0 57v2m1 -63v6m1 -4v2m0 58v1m1 -60v3m0 57v1m1 -63v6m0 54v2m0 247v3m1 -310v5m1 -3v5m1 -4v3m1 -6v5m0 53v1m1 -59v5m0 54v1m1 -57v5m0 50v2m1 -55v3m0 1v6m0 44v1m1 -52v4m0 2v2m0 43v1m1 -55v11m1 -14v3m0 2v3m0 49v2m1 -58v3m0 1v1m0 31v9m0 10v1m0 1v2m1 -58v4m0 35v6m0 4v4m0 3v2m1 -65v2m0 6v7m0 1v5m0 30v12m1 -66v4m0 1v2m0 7v8m0 43v1m1 -65v4m0 46v3m0 10v1m1 -61v1m0 51v3m0 4v1m1 -60v1m0 58v2m1 -57v3m0 3v4m0 45v2m1 -46v5m0 39v1m1 -55v5m0 5v8m0 36v1m0 252v3m1 -310v4m0 1v5m0 7v4m0 17v2m0 14v1m1 -58v7m0 1v5m0 44v1m1 -59v7m0 2v1m0 48v1m1 -53v14m0 18v1m0 20v1m1 -53v8m0 10v8m0 1v3m0 2v5m0 4v1m0 9v2m1 -51v3m0 3v2m0 14v21m0 5v1m1 -45v10m0 12v4m0 1v13m0 1v4m0 253v3m1 -299v30m0 4v2m0 3v3m1 -37v9m0 3v11m0 6v1m0 5v2m1 -28v3m0 8v7m0 5v5m1 -47v5m0 4v1m0 9v11m0 1v3m0 2v3m1 -9v10m0 4v5m0 252v3m1 -291v3m0 17v6m0 6v4m0 252v3m1 -292v3m0 18v16m0 252v3m1 -263v8m0 246v3m1 -279v11m0 2v2m0 6v4m0 2v3m1 -28v3m0 5v11m0 1v7m0 2v2m1 -32v5m0 16v1m0 6v1m0 4v1m1 -31v3m0 28v3m1 -32v4m0 29v1m0 236v3m1 -273v5m0 31v1m1 -34v3m0 32v1m1 -39v7m0 34v2m1 -43v6m0 36v1m1 -43v5m0 37v1m1 -46v9m0 38v1m1 -51v5m0 277v3m1 -321v2m0 5v3m0 32v5m0 36v2m1 -88v3m0 7v5m0 33v6m1 -61v6m0 1v5m0 5v12m0 24v3m0 33v1m1 -90v3m0 9v12m0 2v5m0 22v3m0 32v1m1 -87v2m0 8v5m0 3v2m0 5v4m0 5v1m1 -36v3m0 13v4m0 33v7m0 26v1m1 -90v3m0 19v13m0 3v7m0 2v8m0 4v2m0 2v5m0 21v1m0 237v3m1 -327v5m0 20v7m0 5v8m0 11v4m0 2v3m1 -61v1m0 21v6m0 2v11m0 20v1m0 1v4m0 15v1m1 -94v3m0 3v9m0 10v2m0 16v9m0 42v1m1 -95v8m0 9v3m0 3v1m0 1v7m0 1v1m0 62v2m1 -98v7m0 9v2m0 14v5m0 60v1m1 -95v5m0 14v1m0 13v7m0 54v1m1 -93v7m0 1v9m0 1v6m0 6v5m0 6v1m0 2v3m1 -40v4m0 17v3m0 7v1m0 18v1m1 -70v16m0 58v5m1 -78v2m0 2v4m0 11v10m0 19v1m0 5v4m0 6v3m0 7v10m0 3v2m1 -87v3m0 2v2m0 20v5m0 7v14m0 3v11m0 3v5m0 6v5m0 1v1m0 10v1m1 -104v1m0 5v11m0 22v8m0 25v5m0 9v6m0 10v1m1 -108v3m0 3v20m0 52v2m0 5v1m0 7v4m1 -98v3m0 19v4m0 1v11m0 7v2m0 40v9m0 2v3m1 -102v5m0 20v3m0 3v9m0 1v7m0 36v4m0 3v2m0 8v2m0 8v1m1 -110v4m0 22v1m0 10v6m0 6v3m0 36v2m0 20v1m1 -113v3m0 56v2m1 -62v4m0 50v8m0 23v2m0 27v1m0 236v3m1 -353v3m0 4v1m0 6v1m0 69v7m0 24v1m1 -114v6m0 6v3m0 71v9m1 -93v5m1 -3v6m0 105v1m1 -111v5m0 106v1m1 -110v3m0 106v1m1 -116v5m0 1v1m0 109v1m1 -119v3m0 115v1m1 -120v3m0 118v1m1 -117v3m1 -1v4m0 111v1m1 -128v4m0 5v7m0 112v5m0 222v3m1 -357v6m0 125v1m1 -129v1m0 127v1m1 -129v3m0 125v1m1 -128v1m0 2v2m1 -6v2m0 124v1m1 -128v1m1 1v3m1 -5v3m0 122v2m1 -133v2m0 5v1m1 -8v3m1 -4v2m0 126v1m1 -129v2m1 -1v2m0 123v1m1 -126v2m1 -2v1m0 124v1m1 -126v2m0 122v1m1 -123v3m0 119v1m0 233v3m1 -360v2m0 352v3m1 -356v1m0 118v4m0 230v3m1 -355v1m0 115v2m1 -117v3m0 111v1m1 -116v4m0 111v1m1 -119v4m0 112v1m1 -117v3m0 355v3m1 -359v3m0 112v1m1 -115v2m1 -2v2m1 -1v2m0 116v1m1 -118v4m0 117v1m1 -122v2m0 120v1m1 -122v1m1 -1v2m0 120v1m0 229v3m1 -355v2m0 347v3m1 -352v3m0 120v1m1 -126v7m0 118v1m1 -123v1m0 4v1m0 116v1m1 -118v1m0 116v1m1 -120v3m1 -4v2m1 -6v3m1 -8v3m0 4v1m0 122v1m1 -132v2m0 129v1m1 -132v2m1 -3v3m1 -2v2m1 -5v4m1 -4v1m0 134v1m1 -135v1m1 -1v1m1 -3v2m1 -1v1m1 132v1m1 -134v2m0 131v1m1 -133v1m0 132v1m1 -133v1m0 132v1m1 -134v2m0 131v1m0 229v3m1 -365v1m0 129v1m1 -131v1m0 128v1m1 -132v2m0 129v1m1 -135v4m0 130v1m1 -136v2m1 -1v2m0 131v1m1 -134v2m0 131v1m0 227v3m1 -364v2m0 132v1m1 -133v6m1 -5v4m0 126v1m0 227v3m1 -365v5m0 129v1m1 -133v3m0 129v1m0 227v3m1 -362v2m0 128v1m1 -128v2m1 -3v3m0 123v1m1 -127v1m0 125v1m1 -126v2m0 123v1m1 -125v3m0 121v1m1 -126v2m0 124v1m0 232v3m1 -364v2m1 -2v2m0 125v1m1 -126v4m0 122v1m0 226v3m0 3v3m1 -361v5m0 120v1m1 -127v2m1 -5v3m0 126v1m1 -132v5m0 125v2m1 -134v2m0 129v1m0 234v3m1 -368v1m0 129v1m1 -130v2m1 126v1m1 -127v1m0 124v1m0 236v3m1 -368v3m0 1v4m0 120v2m1 -130v5m0 123v2m1 -128v1m0 128v3m0 228v3m1 -362v3m0 128v3m1 -133v2m0 130v1m1 -132v1m0 130v1m1 -132v2m0 132v1m1 -135v2m0 132v1m1 -134v2m0 130v1m1 -132v2m0 131v1m0 224v3m1 -360v2m0 131v1m1 -133v3m0 129v1m1 -133v2m0 129v1m0 224v3m1 -357v1m0 128v1m1 -127v4m0 344v6m1 -352v7m0 339v3m1 -341v2m0 6v2m0 2v1m0 106v1m1 -124v2m0 1v1m0 14v4m0 102v2m1 -126v1m0 2v1m0 3v7m0 7v3m0 101v1m0 213v3m1 -342v3m0 2v2m0 10v1m0 1v6m0 100v2m1 -120v7m0 9v4m0 98v2m1 -113v2m0 1v6m0 3v3m0 98v1m1 -106v1m0 319v6m1 -323v7m0 92v2m1 -96v3m0 91v1m1 -94v3m1 -4v3m0 90v1m1 -102v1m0 5v3m0 2v1m1 -11v2m0 3v13m0 82v1m1 -99v1m0 5v3m0 3v6m0 80v1m1 -100v3m0 7v15m0 75v1m1 -103v7m0 14v1m0 81v1m1 -104v6m1 -4v4m0 98v1m1 -103v4m0 100v1m0 219v3m1 -325v3m0 3v3m0 6v2m0 86v1m1 -104v8m0 19v1m0 76v1m0 214v3m1 -320v8m0 93v1m1 -103v2m0 5v2m0 26v1m0 66v1m1 -114v1m0 2v3m0 1v3m0 37v8m0 1v2m0 54v1m1 -115v5m0 45v5m0 4v6m1 -62v3m0 2v1m0 41v6m0 1v11m0 2v1m0 42v1m1 -112v3m0 46v8m0 1v1m0 3v3m0 1v5m1 -77v7m0 109v1m1 -116v3m0 53v1m0 58v1m1 -114v1m0 111v1m1 -119v10m0 44v2m0 62v1m1 -119v4m0 50v3m1 -56v4m0 51v3m0 1v3m1 -57v1m0 110v1m1 -124v2m0 10v2m0 108v1m1 -127v8m0 3v5m0 1v5m1 -20v4m0 339v3m1 -345v3m0 1v1m1 -6v2m0 123v1m1 -126v2m1 -4v4m0 123v1m1 -128v2m0 126v1m1 -131v6m1 2v1m0 122v1m1 -123v2m0 120v1m1 -126v2m0 1v2m1 -8v2m0 65v6m0 56v1m1 -132v3m0 64v4m0 5v2m0 55v1m1 -135v2m0 66v4m0 7v1m0 53v1m1 -135v4m0 67v1m0 1v5m0 1v1m0 53v1m1 -134v2m0 130v1m1 -133v1m0 129v1m1 -132v2m0 129v1m1 -134v1m1 -1v2m1 -1v1m0 131v1m1 -132v1m0 66v3m0 2v4m1 -75v1m0 64v4m0 2v5m0 57v1m1 -135v3m0 63v5m0 65v1m0 215v3m1 -356v2m0 59v10m0 4v2m0 61v1m1 -77v4m0 4v4m0 66v1m1 -139v2m0 67v1m0 1v5m0 64v1m1 -139v2m0 65v3m1 -73v3m1 -2v1m0 63v1m0 3v5m0 68v1m1 -142v1m0 60v7m0 2v3m0 70v1m1 -142v1m0 59v8m0 70v2m1 -137v2m0 60v7m1 -70v3m0 66v2m0 63v1m1 -135v3m0 66v2m0 63v1m1 -134v2m0 63v5m0 63v1m0 215v3m1 -351v4m0 70v3m1 -76v3m1 -5v2m0 2v4m1 -8v2m0 131v1m1 -135v3m0 69v3m0 58v1m1 -134v2m0 131v1m1 -134v1m0 349v3m1 -352v4m0 65v2m0 3v1m0 58v1m1 -133v1m0 56v3m0 6v8m0 58v1m1 -130v2m0 49v8m0 6v6m0 57v1m1 -127v2m0 49v7m0 8v9m1 -76v3m0 43v8m0 2v1m0 12v6m0 263v3m1 -337v5m0 37v5m0 10v6m0 5v6m0 49v1m1 -121v3m0 36v4m0 22v9m0 46v1m1 -130v1m0 7v6m0 35v3m0 17v3m0 6v2m0 1v5m0 44v1m1 -132v3m0 4v4m0 30v9m0 22v10m0 1v6m0 258v3m1 -348v15m0 25v2m0 34v5m0 1v1m0 1v5m0 41v1m1 -129v13m0 25v7m0 44v9m0 30v1m1 -132v1m0 5v3m0 3v9m0 22v5m0 52v6m1 -106v4m0 40v3m0 59v4m1 -109v2m0 40v6m0 56v5m1 -109v11m0 33v3m0 59v5m0 21v1m1 -124v2m0 36v2m0 61v2m0 21v1m1 -135v1m0 3v5m0 39v2m0 60v4m0 20v1m1 -135v6m0 42v4m0 57v3m0 22v1m1 -132v2m0 45v2m0 82v1m1 -131v3m0 36v7m0 2v1m0 60v2m0 20v1m1 -130v2m0 32v1m0 1v7m0 66v2m0 19v1m0 206v3m1 -337v3m0 26v10m0 68v1m0 19v1m1 -126v4m0 26v3m0 71v2m0 21v1m1 -125v1m0 29v3m0 70v1m0 225v3m1 -332v5m0 23v4m0 70v2m0 20v1m1 -120v2m0 18v8m0 70v2m1 -98v6m0 11v3m0 7v3m0 67v3m1 -95v2m0 4v1m0 4v4m0 1v3m0 7v4m0 65v13m0 206v3m1 -318v4m0 3v1m0 3v5m1 -21v1m0 5v3m0 12v5m0 2v4m1 -31v13m0 18v8m1 -38v10m0 27v2m1 -30v4m0 3v4m0 1v2m0 1v6m0 6v7m1 -33v9m0 2v9m0 1v4m0 4v3m1 -27v4m0 1v14m1 -15v10m0 1v8m1 -17v1m0 5v3m0 5v3m1 -38v9m0 18v15m1 -39v8m0 10v8m0 2v10m0 277v3m1 -312v1m0 14v15m1 -48v1m0 18v7m0 13v4m0 3v5m0 51v6m1 -111v2m0 3v2m0 3v1m0 3v15m0 21v4m0 51v4m0 4v1m1 -113v14m0 37v2m0 53v6m1 -111v3m0 4v9m0 33v3m1 -50v1m0 6v5m0 38v6m0 270v3m1 -336v1m0 7v3m0 2v1m0 1v2m0 43v5m0 44v4m1 -114v1m0 14v2m0 35v2m0 6v11m0 33v11m1 -114v1m0 48v5m0 8v5m0 35v4m0 2v1m0 3v2m0 222v3m1 -341v3m0 49v9m0 15v1m0 3v4m0 16v5m0 11v1m1 -114v4m0 44v10m0 26v2m0 2v3m0 2v1m0 6v1m0 12v1m1 -110v3m0 46v3m0 6v2m0 22v3m0 25v3m1 -115v7m0 30v5m0 20v6m0 2v1m0 15v2m0 28v1m1 -120v2m0 3v1m0 36v3m0 9v20m0 2v9m0 2v4m0 30v1m0 217v3m1 -343v2m0 73v2m0 2v4m0 3v3m0 34v1m1 -122v2m0 42v1m0 39v1m0 3v3m0 32v1m1 -124v4m0 39v1m0 44v2m0 35v1m1 -126v3m0 38v2m0 47v3m0 35v1m1 -132v7m0 27v2m0 4v3m0 53v1m1 -95v6m0 24v5m0 61v3m0 30v1m0 206v3m1 -346v1m0 4v3m0 31v2m0 63v8m0 21v4m0 206v3m1 -347v4m0 38v1m0 66v1m0 12v3m0 3v3m1 -131v2m0 42v3m0 61v2m0 3v2m0 13v2m1 -129v1m0 44v2m0 58v3m0 18v2m1 -127v3m0 42v1m0 58v2m0 21v1m1 -126v2m0 40v3m0 57v2m0 21v1m1 -128v3m0 36v4m0 61v2m0 20v2m1 -128v2m0 38v4m0 58v3m1 -107v7m0 37v3m0 58v4m1 -110v12m0 28v3m0 1v3m0 61v6m0 15v1m1 -127v4m0 29v7m0 66v5m0 15v1m1 -130v2m0 33v8m0 69v5m0 12v2m1 -133v3m0 35v1m0 5v1m0 68v6m0 13v1m1 -132v4m0 37v2m0 66v2m0 19v2m1 -130v2m0 35v4m0 66v3m0 20v1m1 -131v3m0 34v3m0 67v3m0 21v1m1 -131v2m0 29v1m0 1v3m0 2v2m0 68v3m0 19v2m1 -132v3m0 23v7m0 99v2m1 -133v4m0 25v4m0 3v2m0 76v2m0 16v2m1 -131v3m0 13v1m0 9v2m0 1v2m0 86v2m0 11v4m1 -140v8m0 2v12m0 1v5m0 1v4m0 1v2m0 90v4m0 2v2m0 1v3m0 51v3m1 -189v20m0 95v5m0 5v5m0 53v5m0 1v1m0 1v4m1 -189v13m0 99v5m0 4v3m0 56v4m1 -177v6m0 1v1m0 165v5m0 5v1m0 142v3m1 -224v2m0 1v5m0 65v4m1 -75v8m1 -129v1m0 120v3m1 -127v2m0 2v1m0 3v3m1 -10v3m0 7v3m1 -9v5m0 8v6m1 -9v4m3 172v2m1 -2v1m1 -3v4m1 -3v2m3 154v3m6 -3v3m4 -3v3m20 -3v3m6 -3v3m3 -3v3m3 -3v3m3 -3v3m1 0v3m14 -282v4m1 -6v6m0 4v2m1 -13v8m0 5v4m1 -16v7m0 1v4m0 4v2m1 -17v3m0 3v3m2 262v3m1 -275v5m0 270v3m1 -284v7m0 1v5m0 8v1m1 -18v5m0 10v1m0 7v6m0 254v3m1 -256v5m3 239v3m2 0v3m7 0v3m7 -3v3m13 -3v3m2 0v3m4 -6v3m7 -3v6m3 -3v3m11 -3v3m4 -300v2m1 0v1m1 -8v11m1 -10v11m1 -8v7m1 -3v4m2 290v3m1 -300v2m1 0v5m0 290v3m8 -9v3m2 3v3m3 -299v3m0 4v1m9 285v3m2 -295v1m0 291v3m1 -298v4m0 2v2m1 -7v10m1 -22v7m0 8v2m0 3v2m1 -22v3m0 1v3m0 1v6m0 6v2m1 -17v5m0 1v4m0 3v3m1 -18v8m0 5v3m1 -15v5m0 7v4m1 -16v11m0 6v3m0 279v3m1 -303v4m0 11v5m0 1v1m1 -22v4m0 15v2m1 -19v4m0 15v1m0 284v3m1 -303v2m0 13v6m1 -20v1m0 9v4m0 2v4m1 -13v6m0 1v2m1 277v3m1 -299v2m0 2v4m1 -13v9m0 2v2m0 5v1m1 -17v4m0 9v4m1 -17v2m0 9v7m1 -18v11m0 2v5m0 287v3m1 -297v4m4 -21v5m1 -5v4m0 5v1m0 301v3m1 -308v3m0 302v3m1 -321v5m1 -4v8m1 -5v2m0 2v5m0 302v3m1 -314v2m0 4v8m1 -14v8m0 8v4m1 -22v2m0 1v17m1 -19v7m0 1v6m1 -10v6m0 5v3m1 -12v5m0 2v6m0 293v3m1 -308v4m0 4v4m0 293v3m1 0v3m6 -3v3m1 -6v3m6 -3v3m3 -291v6m1 -7v4m0 3v2m1 -7v7m1 -2v2m2 -9v3m3 289v3m19 -6v3m1 -9v3m1 6v3m8 -6v3m2 0v3m8 -9v3m6 -287v7m1 -2v10m1 -12v11m1 -11v11m1 -5v3m3 275v3m1 0v3m2 -293v5m0 1v4m1 -3v7m1 2v2m9 -15v2m1 -8v6m0 2v6m1 -12v10m1 -10v1m0 5v5m0 271v3m0 6v3m1 -288v4m1 275v3m1 -291v4m1 -16v1m0 21v2m1 -21v9m0 2v3m0 3v1m1 -16v12m0 4v3m1 -17v11m0 5v3m1 -18v7m0 7v4m1 -14v12m1 -3v2m1 280v3m1 0v3m4 -6v3m7 -3v3m2 0v3m1 -3v3m4 -291v5m1 -8v6m1 -11v8m0 3v6m1 -13v7m0 5v2m1 -27v5m0 2v1m0 12v1m0 1v3m5 -31v3m0 4v10m1 -11v3m0 7v5m0 5v4m1 -25v25m1 -25v6m0 3v9m0 3v1m1 -23v22m1 -23v2m0 1v3m0 9v3m0 2v9m1 -28v2m0 8v3m0 13v6m1 -29v3m0 1v6m0 2v3m0 14v1m0 274v3m1 -306v2m0 1v3m0 3v3m0 1v2m0 15v1m1 -37v13m0 2v3m0 3v13m0 3v1m1 -41v5m0 4v2m0 8v11m0 1v2m0 3v3m0 273v3m1 -317v7m0 17v2m0 3v11m0 274v3m1 -316v7m0 33v4m1 -44v4m0 20v19m1 -41v2m0 19v12m0 4v1m1 -34v2m0 15v9m1 -24v3m0 17v8m1 -23v5m0 10v6m1 -21v4m0 12v6m1 -16v3m0 4v2m0 1v7m1 271v3m1 -314v7m1 -5v4m0 10v1m0 2v3m1 -19v6m0 2v12m1 -21v12m0 14v4m1 -30v31m1 -31v8m0 5v2m0 2v9m0 286v3m1 -315v9m0 9v12m1 -27v8m0 6v21m1 -34v2m0 4v1m0 2v11m0 8v9m0 268v3m1 -307v14m0 1v1m0 4v5m0 2v6m0 1v9m1 -42v39m1 -24v1m0 17v6m0 270v3m1 -277v1m6 270v3m8 -3v3m10 -3v3m14 -3v3m3 -3v3m1 -3v3m1 -3v3m1 -3v3"/>
<path stroke="#b3ff4c" d="M170.5 317v4m1 -4v7m0 81v1m1 -80v1m0 78v1m1 -78v4m0 73v1m1 -76v3m0 72v1m1 -71v4m0 66v1m1 -71v3m1 -1v3m0 64v1m1 -64v2m0 60v2m1 -66v2m0 61v2m1 -64v3m0 61v1m1 -63v4m1 59v1m1 -60v3m0 56v1m1 -59v4m0 54v1m1 -61v6m0 53v3m1 -61v3m0 54v2m0 1v1m1 -59v3m0 52v2m1 -55v4m0 51v1m1 -58v7m0 302v3m1 -310v10m0 46v1m1 -56v10m1 -9v10m0 42v1m1 -51v6m0 43v2m1 -52v6m0 45v1m1 -53v2m0 1v5m0 44v1m1 -53v4m0 49v1m1 -51v7m0 39v4m1 -50v1m0 6v4m0 32v4m0 3v1m1 -43v5m0 2v2m0 2v1m0 30v1m1 -43v15m0 3v4m0 19v3m1 -55v2m0 3v6m0 3v1m0 3v2m0 3v16m0 4v2m0 3v6m1 -53v1m0 1v3m0 26v2m0 9v2m0 2v6m0 1v1m1 -52v2m0 28v5m0 6v4m0 4v3m0 250v3m1 -301v1m0 5v1m0 19v4m0 5v1m1 -50v1m0 2v7m0 8v5m0 17v1m0 6v14m1 -60v3m0 6v5m0 6v4m0 16v6m0 3v4m0 2v4m1 -59v1m0 18v3m0 27v2m0 3v4m1 -58v9m0 48v1m1 -45v7m1 -1v2m0 4v4m0 7v4m0 17v1m1 -36v11m0 2v9m1 -36v1m0 5v3m0 3v1m0 4v17m0 2v3m0 9v2m1 -50v1m0 5v17m0 3v4m0 2v7m0 2v9m1 -51v2m0 1v18m0 1v5m0 15v4m0 2v3m1 -38v18m0 1v3m0 14v3m1 -44v10m0 8v1m0 10v4m0 1v9m1 -46v3m0 2v14m0 21v5m1 -34v12m0 4v1m0 13v1m1 -9v4m0 2v3m1 -4v5m1 -23v8m1 0v1m0 3v2m0 265v3m1 -264v4m1 -5v6m4 -21v5m0 11v1m0 7v2m1 -25v6m0 8v2m0 1v6m0 1v4m1 -27v3m0 12v4m0 5v4m1 -25v2m0 24v3m1 -28v3m0 26v2m0 240v3m1 -273v2m0 29v1m1 -31v2m0 29v3m0 235v3m1 -273v1m0 32v1m0 1v1m1 -37v3m0 33v1m1 -36v4m0 33v1m1 -45v6m0 37v1m1 -38v3m0 32v1m1 -32v4m0 26v1m1 -36v6m1 -59v9m0 44v5m0 5v2m1 -64v2m0 3v3m0 45v5m0 25v1m1 -84v2m0 2v7m0 1v1m0 44v4m1 -64v14m0 2v3m0 33v4m0 9v3m0 259v3m1 -325v1m0 7v12m0 7v5m0 8v11m0 9v8m0 12v1m0 241v3m1 -325v16m0 2v3m0 6v2m0 11v19m0 2v1m0 4v3m0 11v1m1 -78v10m0 2v7m0 5v4m0 9v12m0 11v4m1 -71v9m0 3v3m0 1v1m0 7v1m0 1v3m0 2v10m0 3v11m0 31v2m1 -89v4m0 2v3m0 2v4m0 1v1m0 1v4m0 1v2m0 5v6m0 1v2m0 6v2m0 40v3m1 -89v14m0 1v13m0 7v9m0 276v3m1 -319v1m0 19v3m0 17v10m0 13v4m0 18v1m1 -35v17m0 16v1m1 -88v3m0 60v11m0 12v1m1 -94v2m0 8v1m0 70v2m0 9v1m1 -96v2m0 2v6m0 11v3m0 26v3m0 30v1m0 1v3m0 6v1m1 -86v4m0 5v5m0 3v5m0 8v10m0 4v1m0 3v7m0 20v4m0 5v1m0 241v3m1 -348v3m0 20v13m0 4v11m0 17v7m0 2v5m0 12v5m0 5v1m1 -106v10m0 2v3m0 20v7m0 2v5m0 2v7m0 12v5m0 2v7m0 9v2m0 3v3m0 4v2m1 -106v3m0 11v6m0 23v12m0 17v7m0 4v3m0 2v3m0 3v2m0 2v3m0 3v2m1 -105v2m0 7v2m0 6v5m0 1v10m0 6v6m0 3v5m0 12v2m0 6v11m0 2v4m0 13v3m1 -109v8m0 4v1m0 31v12m0 2v4m0 13v20m0 14v1m1 -110v8m0 3v4m0 30v5m0 8v3m0 15v5m0 2v8m0 18v1m1 -110v4m0 1v6m0 1v4m0 24v1m0 8v16m0 11v5m0 7v8m0 15v1m1 -107v6m0 3v9m0 32v12m0 13v1m0 1v3m0 9v2m0 16v2m1 -108v4m0 6v5m0 29v2m0 4v15m0 9v3m0 2v13m0 15v1m1 -105v3m0 53v3m0 11v4m0 2v3m0 2v5m0 1v2m0 14v2m1 -105v1m0 65v1m0 4v3m0 31v1m1 -106v2m0 68v6m0 29v1m1 -108v4m0 72v3m0 1v1m0 27v1m1 -115v6m1 -7v8m0 109v1m1 -113v9m0 104v1m1 -111v6m1 -6v2m0 5v1m0 103v1m1 -121v11m0 5v4m0 103v2m1 -127v6m1 -4v5m0 119v1m1 -126v2m0 2v2m0 118v1m1 -125v5m0 118v1m1 -126v8m0 117v1m0 219v3m1 -344v4m0 116v2m1 -124v5m0 116v1m1 -129v5m0 1v3m0 118v1m1 -127v2m0 122v2m1 -128v2m0 123v1m1 -126v1m0 123v1m1 -124v3m1 -3v3m0 119v1m1 -124v3m0 105v2m0 13v1m1 -123v5m0 100v4m0 12v1m1 -119v1m0 114v4m1 -121v2m0 114v6m1 -122v2m0 110v1m0 1v4m1 -117v1m0 111v3m1 -2v1m1 -111v1m0 109v1m1 -114v6m1 -7v6m0 107v1m1 -112v3m1 -3v5m0 107v1m1 -113v3m0 110v1m1 -113v4m0 109v3m1 -113v2m0 112v3m1 -119v2m0 352v3m1 -357v3m0 117v1m1 -120v4m1 -4v5m0 115v1m1 -120v4m1 -2v4m1 -7v4m0 1v3m0 112v1m1 -116v2m0 113v1m1 -116v4m0 112v1m1 -119v3m0 115v1m1 -122v2m0 1v3m0 115v1m1 -127v3m0 2v3m1 -10v1m1 -1v3m0 126v1m1 -130v2m0 127v1m1 -130v1m0 128v1m0 227v3m1 -361v2m0 128v1m1 -134v3m1 -2v2m0 132v1m1 -135v4m0 129v1m1 -135v4m0 129v1m1 -134v1m0 131v1m1 -134v2m0 130v1m1 -131v1m0 129v1m1 -131v2m0 128v2m1 -131v2m0 128v2m0 227v3m1 -361v2m0 128v1m1 -131v4m0 123v2m1 -129v2m0 125v1m1 -129v1m0 127v1m1 -130v2m1 -5v4m0 126v3m1 -132v3m0 125v3m1 -131v5m0 125v1m1 -131v8m0 122v2m1 -126v4m0 120v2m0 233v3m1 -363v3m0 121v2m1 -129v3m0 124v2m1 -129v3m0 125v1m1 -129v2m0 124v2m1 -125v2m0 120v2m1 -124v2m0 120v1m1 -125v4m0 355v3m1 -360v3m0 119v1m1 -121v2m0 118v1m1 -123v2m0 121v1m1 -126v3m0 122v1m1 -126v1m1 3v2m0 119v1m1 -120v2m0 117v1m1 -124v4m0 3v4m0 113v1m1 -127v2m0 15v15m0 4v1m0 88v1m1 -126v2m0 26v3m0 92v2m1 -130v5m0 122v2m1 -129v3m0 125v1m1 -2v2m1 -127v2m0 122v2m1 -125v4m0 118v2m1 -120v3m0 116v1m1 -123v3m0 118v2m1 -125v3m0 120v5m1 -125v2m0 123v3m1 -128v2m0 124v4m1 -130v2m0 124v4m1 -129v3m0 127v2m1 -132v2m0 128v2m1 -131v2m0 126v2m0 230v3m1 -362v2m0 127v2m1 -130v2m0 126v3m1 -129v2m0 124v3m0 221v3m1 -354v2m0 122v5m0 222v3m1 -353v3m0 123v2m1 -122v2m0 121v1m1 -119v1m0 3v10m0 105v1m1 -109v2m0 1v6m0 99v1m1 -121v1m0 19v1m0 99v2m1 -123v2m0 21v2m0 95v4m1 -122v2m0 2v7m0 11v4m0 93v1m0 1v1m1 -111v9m0 4v4m0 92v2m1 -102v3m0 3v2m0 3v1m0 91v1m1 -104v10m0 93v1m1 -95v2m0 89v1m1 -91v2m0 88v1m1 -90v3m0 86v1m1 -91v5m0 307v3m1 -317v2m0 1v2m1 5v2m0 6v2m0 71v1m1 -97v5m0 17v5m0 69v1m1 -96v7m0 15v5m0 1v2m0 4v2m0 60v1m0 224v3m1 -322v14m0 1v6m0 74v1m1 -97v2m0 4v6m0 1v6m0 16v1m0 61v1m1 -98v3m0 11v3m0 3v2m0 3v1m0 9v3m0 58v2m1 -98v6m0 6v1m0 11v2m0 9v4m0 59v2m1 -99v3m0 3v6m0 2v1m0 17v6m0 60v2m1 -95v9m0 2v8m0 1v6m0 69v1m1 -94v27m0 3v1m0 61v1m1 -100v5m0 2v10m0 8v8m0 1v11m0 54v1m1 -107v1m0 3v4m0 14v1m0 8v10m0 11v3m0 50v1m1 -109v7m0 29v9m0 15v4m0 43v2m1 -108v2m0 1v2m0 36v3m0 18v2m0 1v9m1 -75v2m0 41v3m0 8v1m0 1v3m0 3v1m0 5v3m0 4v1m0 31v1m1 -110v3m0 3v3m0 35v24m0 40v1m1 -112v3m0 47v3m0 1v5m0 1v1m0 50v1m1 -112v3m0 42v3m0 2v5m0 5v3m1 -60v2m0 40v2m0 2v1m0 60v1m1 -114v8m0 39v3m0 3v10m0 48v1m0 1v1m1 -113v1m0 48v2m0 3v1m0 3v7m0 47v1m1 -62v6m0 5v5m0 44v1m1 -109v4m0 55v1m1 -70v3m0 5v1m0 5v3m0 47v1m0 53v1m1 -121v6m0 114v1m1 -121v1m0 1v3m0 115v1m1 -123v7m0 115v1m1 -123v8m0 59v4m1 -71v4m0 1v4m0 53v10m1 -74v2m0 62v4m1 -66v3m0 121v1m0 219v6m1 -347v2m0 119v1m1 -120v4m1 -4v2m0 52v3m0 4v5m0 54v1m1 -127v6m0 48v11m0 6v3m1 -75v2m0 59v3m0 11v5m0 49v1m1 -132v4m0 59v3m0 12v5m1 -82v5m0 60v2m0 1v1m0 5v1m0 1v3m1 -81v1m0 70v4m0 2v3m0 49v1m1 -131v2m0 66v2m1 -70v2m0 67v3m1 -75v5m0 125v2m1 -131v2m0 66v2m0 5v5m0 50v1m1 -131v2m0 67v11m0 269v3m1 -351v1m0 61v4m0 3v2m0 4v2m0 54v1m0 219v3m1 -353v2m0 58v4m0 4v2m0 5v3m0 53v1m1 -131v1m0 55v2m0 1v4m0 5v8m0 55v2m1 -135v2m0 51v1m0 1v4m0 10v4m0 2v3m0 2v1m0 54v1m1 -136v1m0 63v4m0 4v4m0 60v2m1 -136v2m0 55v10m0 7v3m0 60v1m1 -136v2m0 52v8m0 2v1m0 3v6m0 62v1m0 207v3m0 3v3m1 -355v3m0 52v8m0 3v10m0 62v1m1 -140v1m0 56v6m0 1v3m0 5v5m0 62v1m1 -140v3m0 53v4m0 7v2m0 3v6m0 1v1m0 61v1m1 -140v3m0 54v2m0 8v5m0 64v1m1 -133v1m0 53v6m0 7v2m0 62v1m1 -132v3m0 56v7m0 2v3m1 -71v3m0 56v3m0 1v3m0 2v5m1 -73v3m0 58v2m0 5v5m1 -70v3m0 60v7m0 3v4m0 50v1m1 -128v5m0 46v3m0 3v2m0 11v7m0 50v1m0 216v3m1 -350v2m0 4v3m0 45v14m0 62v1m1 -131v7m0 47v19m1 -73v2m0 58v1m0 1v2m0 1v4m0 3v4m0 1v1m1 -79v6m0 65v5m0 3v3m1 -83v5m0 15v4m0 37v3m0 4v3m0 61v1m1 -129v1m0 19v4m0 31v10m0 2v3m0 1v1m1 -74v8m0 44v1m0 1v2m0 3v6m0 8v2m1 -71v5m0 42v2m0 20v2m0 54v1m1 -124v3m0 38v8m0 24v3m0 47v1m1 -124v7m0 33v3m0 29v4m0 47v1m1 -118v2m0 31v4m0 32v3m0 45v1m1 -117v3m0 30v3m0 35v7m1 -76v3m0 23v1m0 2v6m0 31v1m0 5v4m1 -80v7m0 15v8m0 48v2m0 40v1m1 -115v2m0 22v1m0 49v5m1 -79v5m0 18v2m0 60v1m1 -93v3m0 9v4m0 15v3m0 63v2m1 -104v4m0 7v5m0 1v9m0 7v7m0 66v2m0 20v1m1 -130v9m0 20v7m0 1v3m0 67v4m0 18v1m1 -121v1m0 28v4m0 67v2m0 18v1m1 -121v7m0 23v6m0 65v3m0 15v3m1 -125v14m0 19v6m0 66v2m0 15v3m1 -128v12m0 24v6m0 64v2m0 17v3m1 -129v5m0 33v7m0 62v2m0 19v1m1 -127v2m0 30v4m0 72v3m0 15v2m1 -127v4m0 24v4m0 1v1m0 75v4m0 14v1m1 -124v3m0 17v6m0 79v2m0 16v1m1 -121v5m0 19v2m0 76v2m0 18v1m1 -123v6m0 20v3m0 74v1m0 19v1m1 -120v8m0 11v4m0 76v2m1 -99v8m0 2v8m0 80v2m0 16v1m1 -111v6m0 3v2m0 3v7m0 73v4m0 9v4m1 -110v4m0 1v4m0 4v1m1 -13v3m0 1v3m1 -7v8m0 9v2m1 -14v7m0 7v4m0 291v3m1 -314v20m0 1v6m1 -24v3m0 4v1m0 2v1m0 6v6m1 -17v2m0 9v1m1 -12v1m1 9v1m1 0v5m1 -26v1m1 1v8m1 -9v14m1 -7v2m0 8v3m0 4v3m1 -47v3m0 24v5m0 2v6m0 2v6m0 59v4m1 -98v11m0 5v10m0 4v7m1 -34v7m0 13v13m1 -35v8m0 6v1m0 6v1m0 2v1m0 6v7m1 -56v3m0 1v3m0 9v4m0 4v1m0 11v3m0 9v11m0 276v3m1 -339v3m0 13v7m0 19v9m0 2v6m1 -58v1m0 44v3m0 5v8m0 44v2m0 1v3m1 -111v3m0 27v2m0 12v5m0 53v11m1 -109v5m0 26v6m0 2v5m0 38v2m0 3v2m0 1v6m0 1v8m0 1v3m1 -106v3m0 31v12m0 3v6m0 27v5m0 19v1m1 -105v4m0 19v7m0 5v20m0 26v5m0 22v1m1 -117v3m0 1v3m0 28v5m0 49v1m0 2v1m0 25v1m0 212v3m1 -335v3m0 39v2m0 43v7m0 25v2m1 -119v2m0 38v2m0 47v2m0 26v4m1 -119v2m0 35v2m0 47v3m0 31v1m1 -122v4m0 32v2m0 52v1m0 33v1m0 207v3m1 -334v4m0 20v3m0 3v3m0 57v5m0 28v2m1 -124v5m0 17v2m0 69v6m0 18v6m1 -128v3m0 1v4m0 21v2m0 73v3m0 2v6m0 5v5m1 -130v3m0 34v1m0 68v12m0 3v3m0 219v3m1 -348v2m0 38v2m0 66v3m0 2v13m0 219v3m1 -348v4m0 37v3m0 63v18m1 -122v3m0 37v2m0 61v6m0 4v11m1 -123v2m0 30v4m0 2v2m0 62v21m1 -124v2m0 30v4m0 67v8m0 6v6m1 -124v3m0 100v11m0 9v2m1 -122v6m0 25v6m0 65v8m0 10v2m1 -118v11m0 13v4m0 3v1m0 84v1m0 213v3m1 -338v4m0 3v6m0 2v14m0 78v15m1 -127v5m0 16v3m0 5v4m0 82v2m0 8v2m0 216v3m1 -347v6m0 27v2m0 1v5m0 75v3m0 7v3m1 -127v1m0 30v6m0 70v3m0 1v2m0 11v2m1 -126v3m0 25v7m0 73v1m0 15v4m1 -127v4m0 28v2m0 73v2m0 17v2m1 -128v2m0 8v4m0 10v5m0 1v1m0 78v1m0 16v2m1 -127v2m0 7v14m0 86v4m0 13v3m1 -127v3m0 4v3m0 1v14m0 87v4m0 7v5m1 -126v13m0 1v9m0 93v3m0 2v6m1 -128v2m0 124v1m1 56v1m0 1v1m1 -1v4m0 1v2m1 -6v5m4 -198v2m1 0v7m0 3v1m1 -5v8m0 325v3m3 0v6m9 -3v3m9 -3v3m1 -3v3m1 -6v3m4 -3v3m1 0v3m10 -6v3m20 -3v3m7 -6v3m1 0v3m4 -3v6m1 -12v3m1 -268v5m1 -5v1m5 -7v1m3 279v3m2 -3v3m7 -3v3m4 -6v3m4 -3v3m7 0v3m1 -3v3m1 -3v3m4 -6v3m6 -3v6m4 -6v3m2 0v3m1 -3v3m12 -3v3m6 -9v3m6 3v3m2 -6v3m16 -3v3m1 -3v3m7 0v3m4 -6v3m1 -302v8m0 2v3m0 289v3m1 -305v1m0 6v6m1 -5v3m1 -7v5m1 -7v7m1 -1v6m1 -14v11m1 -11v7m0 1v7m1 -13v2m0 11v2m0 282v3m1 -298v4m0 7v2m1 -9v5m0 4v2m2 283v3m1 -6v6m1 -301v2m1 -5v9m1 -11v9m0 291v3m1 -294v2m2 289v3m4 -3v3m3 0v3m1 -315v2m1 -2v4m1 2v8m23 10v3m0 279v3m6 -3v3m2 0v3m1 0v3m1 -3v3m6 -3v3m18 -6v3m9 0v3m2 -6v3m1 -3v3m7 -6v3m9 3v3m3 -6v3m3 0v3m7 -3v3m2 -3v3m5 -292v4m1 -3v5m0 283v3m1 -294v7m0 284v3m12 -3v3m9 -6v3m3 -288v3m0 282v3m1 -285v5m1 -4v1m6 -19v7m0 5v5m4 -21v1m0 3v9m0 3v2m1 -17v8m0 3v13m1 -13v2m0 3v14m1 -13v6m0 4v5m1 -23v2m0 19v3m1 -35v4m0 2v6m0 1v1m1 -14v9m0 4v4m0 2v3m1 -21v7m0 7v19m1 -36v4m0 4v7m0 2v3m1 -20v10m0 3v6m1 -15v3m0 6v6m1 -12v6m0 3v4m0 2v2m0 285v3m1 -298v1m1 0v10m1 -1v1m4 -24v2m1 3v14m2 -18v5m0 2v2m0 298v3m1 -309v9m0 294v3m1 -304v6m1 -11v4m0 1v2m0 302v3m1 -280v1m11 273v3m12 0v3m18 -9v3m1 3v3"/>
<path stroke="#ccff33" d="M170.5 321v4m0 1v7m0 4v1m0 67v1m0 257v3m1 -342v8m0 28v2m0 295v3m1 -333v8m1 -3v5m1 -4v7m0 63v2m1 -66v4m0 59v3m0 252v3m1 -322v6m0 29v2m0 28v2m0 255v3m1 -323v6m0 28v3m0 24v3m0 256v3m1 -320v4m0 41v3m0 4v8m1 -62v10m0 5v3m0 20v4m0 3v3m0 4v9m1 -59v4m0 41v16m1 -58v3m0 44v3m0 8v2m0 257v3m1 -320v3m0 55v1m1 -56v4m0 51v1m1 -54v4m0 48v2m0 258v3m1 -315v6m0 41v6m0 259v3m1 -317v4m0 38v4m0 3v5m1 -52v3m0 47v2m1 -49v1m0 49v1m1 -50v11m1 -6v12m0 33v1m1 -45v9m0 34v1m1 -43v11m0 29v2m1 -44v5m0 31v7m1 -44v6m0 36v3m1 -50v1m0 5v6m0 26v2m0 9v1m1 -48v13m0 22v4m0 8v2m1 -43v6m0 30v3m1 -35v6m0 18v4m0 1v3m0 4v3m1 -37v2m0 2v2m0 1v4m0 2v4m0 4v2m0 1v9m0 2v2m1 -27v3m0 4v6m0 1v12m1 -41v3m0 1v3m0 2v3m0 16v4m0 2v3m1 -42v4m0 4v2m0 4v1m0 2v9m0 13v2m0 258v3m1 -303v7m0 17v4m1 -19v2m0 14v3m0 4v5m1 -26v7m0 4v6m0 1v6m1 -43v6m0 5v6m0 4v4m0 5v2m0 4v1m0 13v2m1 -54v18m0 3v2m0 8v3m0 5v9m1 -40v12m0 28v8m1 -37v9m0 9v2m0 5v2m0 4v7m1 -37v4m0 4v7m0 4v6m0 8v3m0 257v3m1 -284v2m0 9v14m1 -41v3m0 27v9m1 -25v3m0 4v2m0 7v2m1 -21v1m0 5v12m0 2v1m0 4v2m1 -13v14m2 258v3m9 0v3m3 -279v8m1 -10v1m0 9v2m0 4v5m1 -19v3m0 4v1m0 4v8m0 1v3m1 -22v2m0 7v4m0 8v5m1 -26v2m0 2v1m0 20v1m0 1v2m1 -28v3m0 2v4m0 18v2m1 -31v3m0 4v2m0 20v3m0 1v1m1 -33v3m0 29v1m1 -31v4m0 28v1m1 -38v7m0 28v2m1 -34v6m0 25v1m1 -27v1m0 24v1m1 -29v12m0 14v1m1 -28v5m0 2v4m0 15v1m1 -82v3m0 53v3m0 1v2m0 18v1m1 -81v2m0 7v1m0 49v1m0 19v2m1 -72v2m0 52v4m0 12v2m1 -80v7m0 60v2m1 -54v2m0 41v1m0 9v2m1 -49v5m0 25v7m0 1v3m0 4v7m0 4v4m0 246v3m1 -306v2m0 10v3m0 11v6m0 14v4m0 3v4m1 -83v2m0 9v1m0 1v1m0 4v1m0 13v1m0 2v6m0 2v14m0 2v2m0 20v2m1 -42v4m0 1v15m0 24v1m1 -35v1m0 4v8m0 4v4m1 -3v5m0 4v3m1 -9v5m0 6v1m1 -91v8m0 73v4m0 4v1m1 -85v11m0 67v6m0 238v3m1 -322v5m0 5v3m0 23v4m0 1v3m0 31v5m1 -67v4m0 11v12m0 3v2m0 31v2m0 2v1m1 -95v2m0 37v2m0 7v12m0 5v2m0 24v4m1 -101v11m0 41v17m0 19v3m0 7v3m1 -101v7m0 2v6m0 36v12m0 2v6m0 17v13m1 -98v4m0 1v19m0 4v8m0 18v13m0 20v2m0 8v4m1 -101v3m0 4v10m0 10v1m0 1v1m0 3v4m0 16v8m0 1v6m0 15v2m0 1v8m0 6v1m0 241v3m1 -337v8m0 11v5m0 1v8m0 16v3m0 2v6m0 20v5m0 8v2m1 -88v5m0 8v6m0 1v3m0 3v6m0 12v13m0 1v1m0 14v9m0 3v4m1 -102v6m0 5v4m0 2v2m0 16v5m0 2v4m0 15v9m0 3v2m0 13v7m0 2v6m1 -101v2m0 2v6m0 3v4m0 27v9m0 3v3m0 3v5m0 4v2m0 3v2m0 5v1m0 2v7m0 3v4m1 -102v5m0 50v10m0 1v4m0 3v11m0 2v18m1 -103v4m0 60v4m0 6v1m0 19v3m0 2v4m1 -103v6m0 63v3m0 3v1m0 1v3m0 22v2m1 -108v5m0 73v4m1 -81v6m0 102v1m1 -103v2m0 19v2m0 17v2m1 -42v2m0 17v3m0 7v1m0 74v1m1 -109v5m0 1v10m0 6v5m0 36v3m1 -66v5m0 4v9m0 3v4m0 1v5m0 35v2m0 42v2m0 231v3m1 -353v14m0 5v2m0 1v8m0 90v1m1 -120v1m0 1v9m0 3v5m0 5v2m0 91v2m0 221v3m1 -343v1m0 14v1m0 7v3m0 91v1m0 231v3m1 -353v6m0 111v1m1 -117v3m0 111v3m0 229v3m1 -349v2m0 112v2m1 -117v1m0 114v1m1 -119v3m0 111v2m0 1v1m1 -124v4m0 116v2m1 -124v3m0 119v1m1 -124v4m0 118v1m0 239v3m1 -362v2m0 117v1m0 233v3m1 -356v2m0 94v4m0 1v1m0 16v1m1 -120v2m0 95v8m0 2v5m0 7v1m1 -117v2m0 90v8m0 4v8m0 2v2m1 -117v2m0 93v1m0 5v8m0 1v1m0 1v2m1 -115v4m0 97v1m0 1v3m0 4v4m1 -114v1m0 101v8m0 1v1m1 -112v2m0 106v3m1 -109v2m0 107v1m1 -109v1m0 105v3m1 -107v2m0 103v1m1 -107v2m1 -3v2m0 106v1m1 -107v2m1 -4v4m0 2v2m1 -6v4m0 104v1m1 -108v3m0 344v3m1 -352v2m1 -1v3m0 351v3m1 -355v6m1 -5v10m1 -10v6m0 2v6m0 101v1m0 229v3m1 -346v3m0 3v2m0 4v1m0 100v1m1 -113v12m1 -13v6m0 106v1m1 -111v4m0 107v1m1 -115v7m0 107v1m1 -119v1m0 3v3m0 111v1m1 -123v1m0 4v9m0 109v1m1 -128v8m0 119v1m1 -126v2m1 -3v1m1 -2v2m1 -2v4m1 -6v2m0 128v1m1 -131v3m1 -1v3m0 359v3m1 -366v3m0 125v1m1 -132v3m0 127v1m1 -131v1m0 127v2m1 -129v2m0 125v2m1 -128v2m0 125v1m1 -127v1m0 125v2m1 -127v2m0 122v1m0 1v2m1 -126v3m0 119v1m1 -125v2m0 4v2m0 354v3m1 -367v2m1 -2v2m0 124v2m1 -129v2m0 122v2m1 -126v1m0 122v2m1 -123v3m0 121v1m1 -122v3m0 118v1m1 -120v3m0 115v2m0 232v3m1 -357v12m0 107v2m1 -124v9m0 3v9m0 101v2m1 -124v5m0 14v1m0 103v2m1 -126v3m0 110v3m0 5v3m1 -121v3m0 111v6m1 -120v2m0 115v3m1 -120v3m0 116v2m1 -120v2m0 115v2m1 -118v1m0 115v2m1 -120v2m0 2v1m0 114v2m1 -122v3m0 118v1m1 -124v7m0 21v3m0 91v2m1 -119v5m1 -3v3m0 2v4m0 107v1m0 231v3m1 -353v3m0 4v15m0 6v4m0 4v5m0 7v3m0 68v1m1 -124v4m0 2v6m0 2v1m0 15v4m0 1v11m0 18v1m0 57v1m0 234v3m1 -360v3m0 12v8m0 6v20m0 70v2m1 -123v3m0 34v9m0 73v3m1 -124v2m0 122v1m1 -126v2m0 122v1m1 -123v3m0 102v3m0 13v1m1 -119v3m0 101v2m0 10v2m1 -115v2m0 39v2m0 67v6m1 -119v2m0 32v1m0 1v1m0 8v4m0 61v1m0 3v4m0 239v3m1 -362v4m0 33v4m0 76v3m1 -118v6m0 113v4m1 -123v4m0 72v3m0 40v5m0 233v3m1 -360v2m0 120v2m1 -122v1m0 120v6m0 234v3m1 -365v2m0 60v1m0 10v1m0 48v6m1 -127v2m0 76v2m0 44v2m1 -125v1m0 71v3m0 1v7m0 42v2m1 -126v2m0 80v2m0 37v1m0 1v3m0 227v3m0 3v3m1 -360v2m0 117v1m0 1v3m1 -125v3m0 117v2m1 -120v3m0 117v3m1 -118v4m0 1v9m0 1v2m0 102v2m1 -117v3m0 10v6m0 8v4m0 86v1m1 -99v4m0 94v1m1 -99v5m0 93v1m1 -96v3m0 25v2m0 62v3m1 -92v3m0 10v1m0 75v4m0 1v1m1 -93v3m0 9v5m0 3v5m0 66v1m0 228v3m1 -323v3m0 1v5m0 1v1m0 1v1m0 6v2m0 4v7m0 60v3m1 -93v3m0 29v1m0 13v3m0 39v2m0 1v2m0 225v3m1 -320v5m0 40v11m0 31v2m1 -88v3m0 29v2m0 3v2m0 8v13m0 27v1m0 225v3m1 -314v4m0 34v2m0 8v8m0 29v1m1 -85v4m0 80v1m1 -87v7m0 6v3m0 70v1m1 -80v6m0 2v3m0 5v1m0 61v1m1 -79v5m0 5v1m0 5v5m0 3v4m0 50v1m1 -68v1m0 2v4m0 2v3m0 56v1m1 -73v3m0 1v15m0 4v1m0 1v3m0 44v2m1 -94v4m0 6v1m0 6v16m0 1v14m0 44v1m0 1v1m1 -94v3m0 3v5m0 3v3m0 2v3m0 1v3m0 3v3m0 3v12m0 43v3m1 -90v6m0 1v11m0 2v9m0 4v6m0 1v3m0 46v3m1 -82v5m0 2v10m0 6v4m0 53v3m0 218v3m1 -305v2m0 15v12m0 55v2m1 -66v3m0 1v5m0 55v1m1 -82v8m0 73v1m1 -98v3m0 1v5m0 4v1m0 1v3m0 2v3m0 24v6m0 43v1m0 224v3m1 -328v5m0 13v4m0 6v1m0 28v11m0 31v1m1 -101v9m0 20v7m0 33v4m0 28v1m1 -106v10m0 4v2m0 5v1m0 10v1m0 1v7m0 28v4m0 1v3m0 27v1m1 -106v3m0 3v2m0 15v7m0 7v4m0 24v6m0 3v1m0 28v2m1 -108v3m0 5v2m0 26v11m0 9v1m0 1v6m0 2v9m0 31v2m1 -108v2m0 34v1m0 1v4m0 3v2m0 5v5m0 3v3m0 3v2m0 39v1m1 -106v1m0 32v7m0 5v14m1 -59v2m0 33v4m0 16v1m0 46v1m0 1v1m1 -111v2m0 44v2m0 16v4m0 41v2m1 -110v5m0 41v3m0 6v5m0 5v4m0 39v1m1 -104v3m0 38v14m0 1v12m0 35v1m1 -101v2m0 42v3m0 1v7m0 4v5m0 36v1m1 -114v3m0 2v7m0 2v1m0 1v3m0 38v12m0 41v4m1 -115v3m0 56v3m0 51v2m1 -115v5m0 46v4m0 4v5m0 1v1m1 -65v5m0 42v12m0 4v2m0 49v1m1 -119v1m0 4v4m0 8v1m0 32v8m0 10v3m0 47v1m1 -123v10m0 3v3m0 5v3m0 4v5m0 28v1m0 4v9m0 46v1m0 1v1m1 -121v3m0 16v10m0 3v7m0 20v5m0 6v2m0 46v3m1 -119v8m0 20v10m0 3v5m0 6v2m0 64v1m1 -115v4m0 29v3m0 2v15m0 5v3m0 54v1m0 219v3m1 -340v2m0 41v9m0 3v4m0 5v2m0 51v1m1 -120v3m0 43v2m0 72v1m1 -126v6m0 48v5m0 19v4m0 43v2m1 -127v8m0 4v4m0 40v3m0 20v7m0 40v1m1 -125v1m0 56v3m0 14v9m0 40v1m1 -130v3m0 58v9m0 4v2m0 3v10m0 38v1m1 -128v2m0 60v4m0 2v4m0 4v8m0 2v1m0 1v7m0 31v1m1 -127v2m0 63v2m0 3v2m0 5v2m0 9v5m0 32v2m1 -127v1m0 61v1m0 1v7m0 52v2m0 229v3m1 -359v1m0 62v3m0 2v5m0 5v1m1 -79v2m0 54v3m0 3v5m0 11v3m0 47v1m0 221v3m1 -353v2m0 51v8m0 15v2m0 5v3m0 43v1m1 -128v2m0 26v2m0 25v3m0 18v8m0 44v1m1 -129v2m0 24v11m0 6v12m0 2v1m0 17v7m0 46v2m0 215v3m1 -349v2m0 32v2m0 2v3m0 2v8m0 1v1m0 23v2m0 1v3m0 48v3m1 -134v2m0 43v2m0 1v1m0 5v5m0 16v5m0 53v2m1 -132v3m0 40v1m0 5v6m0 20v1m0 57v2m1 -133v2m0 42v8m0 8v2m0 10v3m0 57v2m1 -135v2m0 43v7m0 8v3m0 10v6m0 55v1m1 -138v3m0 45v8m0 20v6m1 -80v2m0 49v2m0 22v1m0 1v4m0 55v2m1 -136v2m0 50v2m0 15v8m0 55v1m1 -131v1m0 51v1m0 15v3m0 58v1m1 -128v4m0 36v6m0 8v2m0 12v2m0 57v1m1 -128v3m0 47v6m0 3v1m0 10v6m0 51v1m1 -128v5m0 42v4m0 2v5m0 12v8m0 49v1m1 -125v3m0 33v4m0 3v4m0 9v4m0 14v2m0 47v1m1 -122v6m0 34v6m0 3v3m0 2v3m0 2v6m0 7v5m1 -76v7m0 36v2m0 14v11m1 -72v4m0 2v3m0 37v1m0 19v6m0 51v1m1 -129v9m0 47v2m0 1v1m0 2v1m0 11v1m0 1v4m0 47v1m1 -125v8m0 1v4m0 2v2m0 37v11m0 5v3m0 3v1m0 47v1m1 -127v4m0 6v5m0 4v11m0 23v3m0 3v4m0 3v12m0 1v2m0 45v1m1 -127v3m0 14v2m0 4v10m0 19v2m0 17v3m0 53v1m0 219v3m1 -345v5m0 9v16m0 7v2m0 1v4m0 1v1m0 21v7m0 48v1m1 -122v7m0 12v1m0 4v4m0 12v2m0 24v8m0 45v1m1 -120v8m0 18v1m0 8v3m0 35v3m0 6v2m0 34v2m1 -116v3m0 19v11m0 36v11m1 -79v3m0 21v3m0 1v3m0 39v12m0 1v1m0 4v4m1 -90v6m0 6v5m0 9v4m0 45v5m0 32v2m1 -112v23m0 1v2m0 47v6m0 33v1m1 -113v6m0 1v8m0 58v3m0 36v1m0 219v3m1 -334v3m0 10v9m0 55v6m0 29v1m1 -110v2m0 10v6m0 63v4m0 24v1m1 -106v7m0 2v6m0 68v4m0 19v1m1 -124v7m0 5v1m0 9v4m0 1v2m0 75v3m0 16v1m1 -120v4m0 5v5m0 1v5m0 7v1m0 74v1m0 16v1m1 -119v6m0 13v2m0 6v1m0 73v2m0 14v2m0 211v3m1 -327v2m0 10v1m0 6v4m0 74v3m0 11v1m1 -108v4m0 6v9m0 74v4m0 7v4m1 -113v8m0 7v4m0 1v4m0 72v4m0 5v8m1 -121v8m0 14v2m0 2v7m0 71v3m0 8v3m0 4v1m1 -124v7m0 1v1m0 13v2m0 3v3m0 79v3m0 11v1m1 -121v3m0 6v15m0 85v1m0 11v2m1 -120v6m0 10v1m0 87v8m0 6v2m1 -115v1m0 11v7m0 80v1m0 1v4m0 7v5m1 -116v9m0 4v7m0 78v1m0 17v1m1 -111v2m0 3v6m0 82v2m0 15v1m0 205v3m1 -317v2m0 90v3m0 8v5m0 212v3m1 -319v3m0 89v9m2 212v3m1 -312v4m1 0v7m1 4v1m4 296v3m5 -311v8m1 -5v2m0 6v2m1 -18v5m0 10v4m0 288v3m1 -311v3m0 1v9m1 -14v6m0 1v6m0 1v2m0 1v6m1 -46v1m0 16v4m0 1v11m0 3v9m0 290v3m1 -339v11m0 9v6m0 3v1m0 1v8m1 -40v3m0 2v1m0 10v6m0 12v10m1 -42v10m0 11v6m0 2v12m0 294v3m1 -332v4m0 19v3m0 6v2m0 66v1m1 -100v3m0 2v9m0 5v12m0 53v7m0 3v9m1 -100v2m0 11v6m0 63v2m0 16v4m1 -109v11m0 14v3m0 55v2m0 1v3m0 19v3m1 -116v3m0 27v1m0 2v6m0 52v4m0 6v8m0 4v3m1 -115v1m0 32v5m0 51v4m0 19v3m1 -113v5m0 26v4m0 52v3m0 25v3m1 -117v6m0 24v2m0 55v4m0 27v2m1 -119v2m0 2v12m0 2v2m0 5v1m0 65v5m0 3v6m0 5v1m0 3v5m0 205v3m1 -325v4m0 10v3m0 77v18m1 -119v1m0 4v7m0 9v5m0 78v2m0 6v5m1 -122v3m0 3v2m0 1v3m0 3v1m0 16v2m1 -37v2m0 35v1m1 -36v2m0 34v1m0 301v3m1 -339v2m0 21v2m0 7v5m0 69v4m1 -110v2m0 21v7m0 4v2m1 -37v2m0 24v4m0 79v6m1 -115v4m0 22v9m0 76v9m1 -92v3m0 79v10m1 -102v3m0 4v3m0 78v3m0 2v9m1 -117v3m0 6v2m1 -15v4m0 15v5m0 88v8m1 -120v5m0 17v5m0 86v7m1 -123v3m0 23v4m0 79v1m0 2v5m0 3v3m1 -121v8m0 14v3m0 81v4m0 7v4m1 -119v16m0 2v10m0 77v1m0 14v2m1 -124v8m0 4v10m0 86v2m0 13v1m1 -123v7m0 104v3m0 7v3m1 -121v4m0 3v1m0 105v7m0 218v3m1 -223v2m0 215v3m1 0v3m2 -154v1m3 147v3m3 0v3m5 -6v3m2 -9v3m3 6v3m5 0v3m2 -3v3m4 -6v3m1 -6v3m2 -6v3m4 3v3m11 -3v3m2 -3v3m5 -3v3m11 -6v3m3 3v3m5 -3v3m5 -3v3m2 -6v3m1 0v3m3 -6v3m10 -6v6m11 -12v3m3 6v3m21 -6v6m9 0v3m6 -3v3m6 -12v3m1 3v3m5 -3v3m4 -6v3m2 3v3m2 -9v3m3 -3v3m6 -3v3m7 0v3m4 0v3m8 -12v3m3 -292v1m1 -4v11m1 -7v7m2 281v3m7 3v3m2 -3v6m17 -3v3m2 -9v3m7 -3v6m1 -3v3m5 -3v3m13 -3v3m11 -3v3m7 -3v3m6 -6v3m7 -3v3m2 0v3m1 -9v3m1 6v3m6 -3v3m4 -6v3m3 -3v3m4 -3v3m4 0v3m3 -6v3m8 -3v3m1 0v3m1 -6v3m4 -3v3m2 0v3m3 -6v3m2 0v3m2 -12v3m6 6v3m3 -6v3m3 0v3m4 -9v3m4 0v3m8 -285v4m2 -17v1m1 -4v4m1 -5v7m1 -13v4m0 7v2m0 295v3m1 -305v3m1 -6v6m1 0v3m0 4v2m1 -7v9m3 282v3m0 3v3m2 -3v3m1 -3v3m5 -9v3m29 0v3m3 -6v3m5 -3v3m8 3v3m2 -6v6"/>
<path stroke="#e5ff1a" d="M170.5 325v1m0 7v4m0 1v5m0 11v1m0 1v2m0 6v2m0 9v7m0 2v2m1 -54v7m0 15v6m0 2v17m0 2v1m0 4v2m0 16v1m1 -70v4m0 19v21m0 1v5m0 19v1m1 -68v4m0 21v18m0 19v6m1 -65v3m0 27v15m0 16v2m0 254v3m1 -317v3m0 2v3m0 13v2m0 11v9m0 13v3m1 -58v8m0 3v11m0 1v6m0 2v28m1 -57v3m0 7v7m0 5v6m0 3v9m0 2v3m0 3v7m0 253v3m1 -310v8m0 15v18m0 3v4m1 -44v5m0 3v8m0 1v11m0 4v3m0 3v4m1 -46v17m0 11v7m0 3v3m1 -39v5m0 7v4m0 1v2m0 6v4m0 8v7m0 3v8m1 -55v6m0 17v1m0 3v2m0 6v20m1 -51v2m0 24v2m0 3v20m1 -49v6m0 18v2m0 4v9m0 3v6m1 -46v3m0 3v2m0 24v9m1 -45v7m0 3v3m0 24v1m0 4v3m1 -44v1m0 2v3m0 1v5m0 29v6m0 253v3m1 -302v17m0 4v2m0 18v8m1 -38v13m0 26v1m1 -34v5m0 277v3m1 -287v4m0 3v4m0 21v2m1 -31v9m0 5v9m0 3v3m0 258v3m1 -298v7m0 6v7m0 1v8m0 1v1m1 -31v9m0 2v3m0 4v10m0 2v6m1 -35v26m0 2v4m0 3v2m1 -34v11m0 3v8m0 4v8m1 -35v12m0 4v14m1 -26v7m0 5v1m0 2v3m0 4v1m0 262v3m1 -281v2m0 4v4m0 2v1m0 9v2m1 -12v1m2 -30v4m0 2v4m0 1v2m1 -11v5m0 4v3m0 3v2m1 -13v7m0 3v4m1 -7v4m1 -5v5m0 2v4m1 -15v8m0 3v5m1 -19v13m0 5v10m1 -20v9m0 2v5m0 2v4m1 -5v8m0 257v3m2 -3v3m2 -268v2m6 266v3m8 -6v3m2 -274v9m1 -5v4m0 1v4m0 8v1m1 -17v4m0 1v2m0 4v8m1 -19v2m0 1v9m0 1v1m0 1v8m0 1v1m1 -23v2m0 4v2m0 13v3m1 -26v4m0 2v2m0 16v2m1 -25v5m0 23v1m1 -26v1m0 25v2m1 -30v4m0 22v2m1 -26v2m0 21v2m1 -25v6m0 17v1m1 -16v3m1 -5v4m0 1v10m1 -22v1m0 2v8m0 1v3m0 4v2m0 242v3m1 -265v7m0 10v2m1 -12v2m0 4v6m1 -9v2m0 1v2m0 1v1m0 1v2m1 -9v2m0 4v3m1 -21v1m0 14v4m1 -21v10m0 2v2m0 4v3m0 244v3m1 -269v2m0 2v1m0 1v1m0 8v1m0 6v2m0 242v3m1 -281v1m0 15v6m0 3v1m0 10v4m0 241v3m1 -277v4m0 29v1m1 -12v4m0 3v4m1 -8v6m1 -5v4m3 -41v3m0 35v2m4 -73v4m0 61v8m1 -80v10m0 1v1m0 1v3m0 28v1m0 23v1m0 8v6m1 -84v11m0 33v2m0 31v4m0 1v3m1 -81v8m0 6v1m0 3v3m0 56v3m1 -83v2m0 2v5m0 2v9m0 60v2m1 -93v2m0 6v3m0 4v2m0 3v2m0 2v3m0 1v14m0 15v3m0 31v3m1 -93v4m0 6v5m0 14v5m0 7v9m0 29v2m1 -81v4m0 19v3m0 24v5m0 1v4m0 11v5m0 5v3m0 3v3m0 3v2m1 -93v5m0 31v3m0 20v4m0 11v2m0 12v2m0 1v5m1 -101v10m0 30v4m0 22v7m0 4v7m0 18v2m1 -102v5m0 8v5m0 23v6m0 23v5m1 -73v3m0 3v13m0 2v8m0 6v3m0 2v5m0 1v3m0 17v4m0 31v1m1 -102v17m0 3v7m0 1v4m0 1v27m0 6v2m0 33v1m1 -92v6m0 5v11m0 3v2m0 3v2m0 7v8m0 3v9m0 8v1m0 24v1m1 -91v3m0 4v1m0 5v8m0 16v11m0 2v7m0 3v15m0 16v1m1 -103v5m0 2v1m0 8v17m0 26v8m0 1v2m0 3v15m0 14v4m1 -118v1m0 9v3m0 5v5m0 2v3m0 1v14m0 29v3m0 18v3m0 4v4m0 9v3m1 -116v9m0 2v3m0 1v7m0 3v8m0 80v3m1 -112v8m0 2v2m0 4v8m0 52v1m0 30v4m0 230v3m1 -346v7m0 102v2m1 -112v15m0 2v2m0 91v2m1 -114v4m0 4v3m0 1v1m0 2v2m0 2v13m0 81v1m1 -115v1m0 21v2m0 62v2m0 3v2m0 16v2m0 2v1m1 -119v2m0 98v2m0 3v1m0 4v6m1 -119v5m0 98v3m0 6v1m0 3v3m0 233v3m1 -355v2m0 115v1m1 -117v1m0 115v1m1 -117v2m0 85v7m0 4v1m0 1v9m0 6v1m1 -117v4m0 86v5m0 15v7m1 -114v2m0 86v2m0 20v2m1 -113v3m0 86v4m0 1v5m0 8v1m0 1v1m1 -109v1m0 88v8m0 1v1m0 3v4m1 -109v2m0 97v2m1 -100v3m0 97v6m1 -104v2m0 98v7m0 242v3m1 -352v2m0 100v3m1 -102v3m0 97v3m1 -104v5m0 99v1m1 -106v5m0 100v1m1 -104v5m0 98v2m1 -105v2m0 2v3m0 98v1m1 -104v6m0 97v1m1 -104v3m0 105v1m1 -112v8m0 1v7m0 99v1m0 231v3m1 -348v14m0 99v1m0 234v3m1 -346v13m0 96v1m1 -105v7m1 -11v2m0 6v4m0 3v2m0 91v1m1 -110v3m0 2v4m0 1v8m0 90v2m1 -100v4m0 93v3m1 -107v4m0 2v2m0 93v5m1 -106v3m0 3v4m0 5v2m0 86v2m0 1v1m1 -107v4m0 102v1m1 -111v10m0 100v1m1 -108v11m0 97v1m1 -119v2m0 4v15m1 -25v3m0 14v6m0 100v1m1 -126v6m1 -6v3m0 35v3m0 84v1m1 -124v2m0 3v2m0 116v1m1 -128v6m0 4v4m0 7v4m0 331v3m1 -358v4m0 16v6m0 102v1m1 -127v2m0 1v3m0 119v1m1 -127v8m0 12v1m1 -24v3m0 6v1m0 8v6m0 99v4m1 -129v3m0 121v3m1 -125v2m0 120v3m0 229v3m1 -356v1m0 15v9m0 96v4m1 -125v2m0 16v10m0 3v3m0 72v2m0 14v3m1 -123v2m0 15v15m0 9v2m0 77v2m0 1v1m1 -121v6m0 10v3m0 1v27m0 69v3m1 -122v4m0 2v6m0 20v15m0 74v2m1 -125v2m0 3v5m0 4v8m0 18v8m0 75v2m1 -125v2m0 26v6m0 6v1m0 9v5m0 3v1m0 62v3m1 -125v6m0 29v4m0 2v3m0 73v5m0 238v3m1 -364v4m0 7v2m0 25v2m0 2v5m0 1v3m0 69v2m1 -118v3m0 116v2m1 -118v2m0 4v1m0 109v2m1 -116v7m0 103v5m1 -108v7m0 1v1m0 55v4m0 35v4m1 -113v3m0 9v10m0 64v7m0 3v1m0 13v3m1 -117v5m0 5v4m0 1v3m0 3v3m0 67v1m0 4v10m0 7v5m1 -121v6m0 18v1m0 41v7m0 28v9m0 3v5m1 -115v3m0 61v6m0 31v10m1 -112v4m0 59v4m0 2v5m0 5v3m0 20v2m0 7v4m1 -114v4m0 81v2m0 24v5m1 -116v4m0 36v1m0 70v4m0 240v3m1 -358v18m0 9v3m0 4v12m0 66v3m1 -116v2m0 1v2m0 4v16m0 2v1m0 4v14m0 13v2m0 13v1m0 39v3m1 -117v3m0 8v15m0 9v2m0 6v9m0 20v5m0 10v4m0 24v3m1 -116v2m0 18v1m0 3v8m0 9v15m0 2v9m0 46v2m1 -112v6m0 10v6m0 2v14m0 5v19m0 50v2m1 -114v2m0 4v11m0 1v39m0 18v2m0 35v1m1 -96v6m0 4v4m0 5v7m0 3v11m0 6v1m0 4v9m0 34v3m1 -119v2m0 6v2m0 32v18m0 1v9m0 22v3m0 3v5m0 13v2m1 -119v2m0 8v2m0 8v3m0 23v4m0 1v19m0 21v5m0 7v13m1 -118v3m0 22v3m0 1v5m0 9v8m0 6v3m0 5v2m0 25v3m0 4v1m0 14v2m0 237v3m1 -359v2m0 35v10m0 1v10m0 2v3m0 8v1m0 21v10m0 16v3m0 237v6m1 -366v3m0 47v4m0 15v4m0 21v15m0 6v7m1 -119v2m0 53v4m0 37v6m0 3v13m1 -115v1m0 29v2m0 63v6m0 2v10m1 -111v1m0 27v11m0 60v9m1 -111v3m0 1v1m0 23v4m0 1v1m0 1v8m0 4v6m0 52v3m0 1v3m1 -112v2m0 27v4m0 4v27m0 44v5m1 -109v1m0 28v9m0 3v10m0 1v17m0 26v5m0 4v9m1 -115v2m0 32v2m0 1v5m0 1v6m0 1v1m0 5v7m0 7v2m0 3v7m0 20v1m0 3v9m1 -117v2m0 37v17m0 2v6m0 7v12m0 1v5m0 3v3m0 18v7m0 238v3m1 -360v2m0 41v3m0 5v3m0 1v8m0 6v3m0 5v4m0 2v5m0 28v4m1 -120v1m0 28v3m0 7v3m0 10v8m0 1v4m0 1v5m0 1v12m0 32v4m1 -119v2m0 29v3m0 28v14m0 2v4m0 2v2m0 2v2m0 29v3m1 -122v2m0 66v3m0 3v1m0 7v9m0 31v2m1 -122v2m0 67v1m0 3v7m0 2v8m0 5v3m0 19v2m0 1v1m1 -119v2m0 30v6m0 34v7m0 8v2m0 17v1m0 5v5m0 1v1m0 233v3m1 -355v2m0 23v12m0 73v7m1 -115v5m0 9v21m0 48v2m0 31v1m1 -111v1m0 9v1m0 2v12m0 1v13m0 39v3m0 4v4m0 23v3m1 -96v8m0 4v18m0 28v5m0 1v7m0 26v1m1 -94v21m0 1v3m0 36v11m0 14v1m0 6v1m1 -93v5m0 1v1m0 4v15m0 24v9m0 7v2m0 4v2m0 1v7m0 8v3m0 224v3m1 -319v25m0 2v7m0 3v1m0 10v1m0 8v5m0 3v1m0 20v3m1 -86v10m0 1v30m0 42v3m0 227v3m1 -314v9m0 5v3m0 5v17m0 45v4m1 -82v1m0 1v1m0 1v6m0 2v4m0 7v14m0 9v1m0 4v3m0 1v3m0 8v8m0 6v3m1 -87v12m0 6v11m0 1v13m0 3v21m0 2v8m0 4v4m0 2v1m1 -85v8m0 10v5m0 1v2m0 2v2m0 4v6m0 11v22m0 4v5m1 -83v7m0 20v2m0 2v3m0 2v8m0 13v10m0 10v2m0 1v4m1 -81v3m0 29v2m0 2v8m0 8v14m0 7v8m1 -80v2m0 2v7m0 22v3m0 1v28m0 6v2m0 5v2m1 -79v6m0 3v2m0 4v2m0 24v6m0 2v9m0 2v2m0 16v1m1 -68v5m0 1v11m0 49v1m1 -67v5m0 5v3m0 4v7m0 23v2m0 17v1m1 -55v13m0 3v4m0 24v4m0 7v1m1 -69v1m0 15v4m0 1v1m0 3v6m0 2v3m0 4v1m0 16v4m0 6v2m1 -44v9m0 7v7m0 5v2m0 3v11m0 1v1m0 224v3m1 -317v3m0 20v3m0 18v2m0 3v2m0 26v10m1 -48v1m0 3v4m0 35v7m0 222v3m1 -299v2m0 20v2m0 1v6m0 43v1m0 218v3m1 -273v3m0 49v3m1 -55v2m0 4v1m0 47v1m1 -53v6m0 1v2m0 42v2m0 221v3m1 -318v1m0 5v4m0 5v2m0 33v8m0 33v2m0 219v3m1 -317v13m0 4v6m0 40v4m0 25v2m1 -91v4m0 2v14m0 44v2m0 25v1m0 216v3m1 -314v4m0 2v5m0 1v10m0 1v1m0 43v2m0 14v1m0 5v3m0 1v1m1 -97v3m0 3v9m0 7v7m0 34v3m0 1v4m0 22v2m1 -103v1m0 2v2m0 2v2m0 17v7m0 28v2m0 9v4m0 23v4m1 -104v3m0 28v3m0 1v1m0 25v3m0 2v4m0 33v2m1 -104v2m0 26v4m0 26v11m0 32v3m0 224v3m1 -330v2m0 26v5m0 21v11m0 33v2m1 -106v8m0 27v9m0 22v5m0 34v2m1 -103v3m0 26v12m0 23v8m0 28v3m1 -100v1m0 31v3m0 1v2m0 27v5m0 19v3m0 4v4m1 -98v6m0 31v5m0 11v4m0 5v6m0 19v3m0 2v6m1 -110v2m0 7v2m0 1v1m0 3v6m0 29v3m0 12v11m0 26v4m1 -108v1m0 11v9m0 18v4m0 8v1m0 2v2m0 3v11m0 36v4m0 227v3m1 -338v2m0 19v7m0 8v10m0 4v4m0 5v1m0 1v1m0 4v1m0 42v1m1 -109v2m0 19v2m0 7v12m0 18v5m0 43v1m1 -109v8m0 9v2m0 7v12m0 2v1m0 21v3m0 42v2m1 -112v3m0 3v5m0 3v4m0 5v9m0 1v8m0 2v8m0 14v7m0 35v4m0 1v1m0 221v3m1 -341v12m0 2v2m0 10v3m0 8v6m0 2v11m0 5v6m0 2v4m0 1v4m0 35v2m1 -108v3m0 6v11m0 10v3m0 5v2m0 1v3m0 2v11m0 3v3m0 4v6m0 35v2m1 -110v6m0 14v9m0 3v2m0 17v3m0 3v8m0 3v5m0 36v2m1 -115v7m0 2v2m0 1v5m0 4v3m0 9v8m0 23v4m0 5v2m0 39v1m1 -116v4m0 1v1m0 11v3m0 8v4m0 2v9m0 22v9m0 42v1m1 -119v10m0 17v8m0 12v1m0 28v1m0 41v1m1 -117v1m0 2v1m0 4v2m0 35v3m0 30v3m0 36v1m1 -123v4m0 6v5m0 2v2m0 30v1m0 1v5m0 26v5m0 31v1m0 2v1m1 -126v3m0 51v4m0 28v5m0 31v2m1 -125v2m0 56v2m0 10v4m0 8v2m0 1v1m0 7v2m0 27v2m0 222v3m1 -349v2m0 57v4m0 7v3m0 4v9m0 5v3m0 25v4m1 -124v2m0 57v2m0 1v1m0 7v9m0 6v6m0 28v3m0 225v3m1 -352v2m0 54v2m0 2v2m0 16v2m0 41v6m1 -126v1m0 45v8m0 3v3m0 19v5m0 41v1m1 -126v2m0 46v3m0 25v5m0 3v2m0 39v2m1 -125v3m0 18v5m0 2v7m0 14v4m0 29v13m0 28v3m0 220v3m1 -349v7m0 13v4m0 11v6m0 39v2m0 2v10m0 31v1m1 -127v3m0 16v1m0 5v7m0 2v2m0 3v2m0 39v1m0 44v3m1 -129v5m0 27v11m0 2v1m0 1v5m0 26v3m0 41v9m1 -127v2m0 32v6m0 1v5m0 27v3m0 42v12m0 211v3m1 -343v3m0 37v2m0 31v5m0 45v7m1 -131v4m0 8v2m0 27v2m0 34v5m0 46v4m1 -134v2m0 2v1m0 9v4m0 25v2m0 34v3m0 2v4m0 45v2m1 -134v2m0 42v5m0 30v4m0 49v2m1 -132v1m0 45v4m0 25v4m0 49v2m1 -129v4m0 31v5m0 1v10m0 19v3m0 49v6m0 214v3m1 -340v5m0 20v11m0 6v8m0 16v1m0 50v6m0 217v3m1 -344v11m0 1v1m0 4v4m0 3v23m0 26v3m0 31v1m0 11v3m0 1v1m1 -122v13m0 1v4m0 2v17m0 3v2m0 4v2m0 25v1m0 47v1m1 -121v6m0 18v3m0 4v2m0 4v3m0 4v9m1 -48v10m0 18v6m0 17v2m0 18v3m0 41v1m1 -114v8m0 21v7m0 27v8m0 42v1m1 -119v2m0 3v9m0 21v7m0 26v8m0 24v2m0 16v1m0 214v3m1 -336v14m0 28v5m0 24v2m0 31v7m0 3v4m1 -116v1m0 4v2m0 2v3m0 27v7m0 23v2m0 38v4m0 2v1m1 -122v6m0 20v1m0 16v6m0 25v1m0 2v5m1 -83v14m0 16v6m0 4v9m0 22v6m0 46v1m0 217v3m1 -333v5m0 16v3m0 1v3m0 2v1m0 34v5m0 15v1m0 3v3m0 20v1m1 -114v12m0 1v4m0 4v12m0 34v6m0 13v2m0 22v2m1 -111v18m0 1v8m0 41v6m0 2v2m0 4v2m0 23v3m1 -111v15m0 2v2m0 58v9m0 7v2m0 15v3m0 215v3m1 -330v8m0 2v11m0 3v1m0 54v1m0 1v4m0 4v7m0 15v1m0 218v3m1 -328v6m0 5v1m0 2v6m0 54v14m0 2v4m0 10v2m1 -31v4m0 1v5m0 20v3m1 -106v1m0 69v9m0 22v5m1 -108v10m0 70v3m0 23v3m1 -107v10m0 73v5m0 18v1m1 -98v2m0 78v1m0 17v1m0 212v6m1 -315v1m0 80v5m0 6v1m0 3v1m1 -115v5m0 5v1m0 88v16m1 -112v3m0 4v6m0 2v6m0 76v7m0 5v2m1 -109v10m0 1v6m0 81v3m0 5v3m1 -103v6m0 87v7m1 -101v7m0 4v1m0 80v5m1 -105v2m0 1v11m0 2v2m0 81v8m0 3v4m1 -116v1m0 1v13m0 2v3m0 88v8m0 214v3m1 -334v6m0 101v11m0 213v3m1 -328v10m0 96v6m1 -112v11m0 88v1m0 4v7m1 -102v4m0 86v7m0 5v5m0 209v3m1 -320v3m0 90v15m1 -13v8m1 214v3m2 -6v3m15 -308v1m1 307v3m2 -313v3m0 1v1m0 302v3m1 -334v2m0 1v3m0 2v5m0 6v12m1 -22v1m0 6v4m1 -11v3m0 4v4m0 1v7m1 -19v2m0 9v5m0 72v3m1 -89v11m0 71v16m1 -94v2m0 3v9m0 64v19m1 -110v1m0 6v6m0 12v2m0 1v2m0 62v6m0 8v4m1 -111v4m0 26v2m0 60v2m0 3v9m0 2v3m1 -105v2m0 20v4m0 59v12m0 3v10m0 214v3m1 -325v3m0 2v1m0 11v7m0 61v15m0 1v11m1 -115v2m0 12v2m0 78v3m0 6v5m0 1v3m1 -108v10m1 -9v9m1 -23v3m0 2v1m0 3v3m0 1v3m0 7v6m1 -33v4m0 24v7m1 -33v3m0 6v3m0 18v4m1 -32v2m0 16v3m0 6v3m1 -30v4m0 13v4m1 -22v2m0 20v2m0 314v3m1 -339v2m0 17v3m1 -20v9m0 4v1m0 5v3m1 -13v3m0 3v4m0 84v2m2 -108v12m1 -11v8m0 3v6m1 -22v16m0 4v3m0 91v3m1 -110v14m0 88v7m1 -99v2m0 88v14m1 -12v13m1 -8v7m8 214v3m12 0v3m27 -6v3m0 3v3m2 -3v3m7 -9v3m5 3v3m1 -3v3m10 -6v3m1 0v3m12 -3v3m1 -3v3m28 -3v3m17 -3v3m7 -6v3m6 0v3m12 -9v3m5 0v6m2 -3v3m3 -3v3m1 -3v3m2 -3v3m9 -3v3m3 -3v3m6 -3v3m8 -3v3m2 -6v3m1 0v3m21 -3v3m1 -3v3m8 -6v3m1 0v3m13 -9v3m2 3v3m10 -3v3m7 -3v3m1 -3v3m1 -6v6m2 -6v3m7 0v3m1 -3v3m7 -3v3m2 -3v3m5 -3v3m6 -3v3m3 -3v3m4 -3v3m7 -3v3m5 -3v3m2 -3v3m32 -3v3m18 -3v3m3 -3v3m6 -3v3m3 -3v3m2 -3v3m1 -6v3m3 -3v3m14 0v3m1 -3v3m1 -9v3m5 3v3m21 -3v3m6 -6v3"/>
<path stroke="#ffff00" d="M170.5 343v11m0 1v1m0 2v6m0 2v9m0 7v2m0 2v7m0 11v1m1 -66v15m0 25v2m0 1v4m0 2v7m0 8v1m1 -65v3m0 13v3m0 21v1m0 5v4m0 3v12m1 -63v4m0 15v2m0 18v5m0 3v3m0 2v6m0 264v3m1 -323v7m0 4v1m0 6v9m0 15v6m0 9v1m1 -55v2m0 3v8m0 1v4m0 2v4m0 3v4m0 9v13m1 -47v3m0 11v1m1 -18v4m0 1v2m0 7v5m0 18v2m0 3v3m1 -39v15m1 -3v1m0 295v3m1 -302v11m0 7v3m0 272v3m1 -306v7m0 4v1m0 2v6m0 4v8m1 -31v17m0 1v3m0 2v6m0 276v3m1 -308v11m0 5v3m0 2v3m0 2v3m1 -23v5m0 6v7m0 2v4m0 9v3m0 260v3m1 -300v3m0 2v7m0 4v13m0 271v3m1 -303v3m0 3v2m0 1v6m0 2v13m1 -35v2m0 3v1m0 5v7m0 3v6m0 4v9m1 -23v4m0 2v6m0 11v1m1 -17v9m0 16v1m1 -28v9m0 17v2m0 255v3m1 -289v3m0 4v14m0 5v2m1 -20v5m0 9v3m0 258v3m1 -288v6m0 7v1m0 8v1m1 -21v2m0 3v4m0 10v2m1 3v3m1 -21v3m0 280v3m1 -286v4m1 -5v5m0 1v2m0 276v3m1 -6v3m4 -294v4m0 3v3m0 272v3m1 -279v3m0 282v3m2 -6v3m2 -280v5m12 278v3m2 -12v3m10 -262v1m0 267v3m1 -263v1m0 1v1m0 254v3m1 -262v13m1 -15v3m0 10v3m1 -18v2m0 16v5m1 -24v2m0 21v2m0 242v3m1 -269v4m0 16v2m1 -22v3m0 16v2m1 -17v4m0 12v1m1 -12v11m0 240v3m1 -255v1m1 -1v1m0 3v4m1 -11v10m1 -8v4m1 -1v1m0 2v1m0 1v1m1 -5v4m2 -10v2m1 -8v1m0 1v4m0 5v6m0 247v3m1 -262v3m0 1v1m1 0v4m0 4v1m0 1v3m2 241v3m1 -9v3m2 3v6m7 -251v1m1 244v3m1 -319v2m1 -5v3m0 2v2m0 3v1m1 -23v6m0 5v14m0 5v7m1 -37v11m0 4v4m0 3v18m0 2v4m0 5v1m0 20v5m0 3v3m1 -80v3m0 3v25m0 3v20m0 17v12m0 2v1m1 -86v3m0 1v10m0 6v10m0 4v9m0 1v12m0 18v9m0 7v2m1 -95v8m0 5v5m0 1v7m0 1v9m0 6v23m0 5v5m0 2v6m0 12v2m1 -97v3m0 23v6m0 10v1m0 3v17m0 4v7m0 22v2m1 -69v1m0 27v6m0 2v12m0 20v1m1 -69v3m0 2v3m0 2v7m0 20v8m0 1v2m0 1v3m0 17v1m0 235v3m1 -307v12m0 2v2m0 20v3m0 15v2m0 12v2m1 -69v10m0 5v11m0 8v1m0 2v3m0 15v7m0 5v2m1 -86v1m0 14v3m0 20v6m0 3v14m0 2v2m0 3v4m0 4v9m1 -104v2m0 22v13m0 5v1m0 16v14m0 3v4m0 3v7m0 1v2m0 2v9m1 -101v2m0 2v4m0 8v18m0 31v3m0 1v7m0 18v5m0 237v3m1 -342v15m0 7v2m0 8v3m0 36v1m0 4v3m0 22v1m1 -95v2m0 2v11m0 51v2m0 26v1m0 234v3m1 -345v4m0 3v1m0 1v2m0 2v2m0 13v6m0 39v4m0 3v2m0 23v4m1 -113v5m0 7v9m0 2v17m0 37v3m0 1v4m0 2v3m0 2v5m0 8v3m1 -112v3m0 2v2m0 18v4m0 2v2m0 3v2m0 47v13m0 2v3m0 1v4m1 -108v3m0 93v2m0 3v6m0 1v3m1 -114v4m0 104v7m1 -115v3m0 18v3m0 59v1m0 1v3m0 4v7m0 6v10m1 -114v3m0 77v5m0 22v2m0 3v1m0 236v3m0 3v3m1 -357v3m0 76v7m0 265v6m1 -356v2m0 82v2m1 -86v3m0 10v3m0 67v3m1 -87v2m0 11v4m0 5v4m0 59v3m1 -90v3m0 85v9m0 259v3m1 -357v1m0 94v2m0 257v3m1 -356v1m0 95v2m0 252v3m1 -353v5m0 91v4m1 -96v1m0 95v1m1 -96v3m0 95v1m1 -100v5m0 94v1m1 -98v4m0 3v3m0 87v1m0 243v3m1 -342v12m0 85v1m1 -97v5m0 91v1m1 -100v6m0 10v3m0 82v4m1 -103v1m0 7v2m0 93v4m1 -99v3m1 1v5m0 84v7m1 -97v10m0 77v2m0 2v2m0 3v2m1 -97v3m0 2v6m0 82v3m1 -91v3m0 85v2m0 229v3m1 -326v12m0 77v4m0 230v3m1 -333v2m0 2v13m0 77v3m1 -98v3m0 4v5m0 2v4m0 2v4m0 72v4m0 2v1m1 -102v3m0 8v1m0 2v2m0 6v3m0 75v2m0 237v3m1 -340v1m0 28v2m0 67v2m0 234v3m1 -333v5m0 89v3m1 -116v4m0 15v3m0 1v6m0 1v2m0 83v2m1 -120v14m0 6v10m0 19v2m0 1v4m0 17v3m0 43v1m0 232v3m1 -354v3m0 9v24m0 11v3m0 1v1m0 18v10m0 39v1m1 -123v6m0 15v14m0 3v2m0 1v2m0 17v1m0 19v3m1 -82v3m0 2v3m0 14v22m0 14v4m0 58v1m1 -121v4m0 4v7m0 4v22m0 2v5m0 73v1m1 -123v16m0 6v4m0 5v1m0 3v2m0 3v2m0 4v4m0 73v1m0 230v3m1 -357v1m0 3v5m0 2v13m0 11v5m0 5v1m0 3v2m0 71v1m1 -118v12m0 1v2m0 3v3m0 15v6m0 68v1m0 2v2m0 1v1m0 229v3m1 -357v6m0 1v8m0 6v13m0 9v21m0 1v7m0 43v5m1 -122v9m0 3v11m0 2v10m0 19v2m0 13v2m0 3v3m0 33v11m1 -120v22m0 4v1m0 48v4m0 5v2m0 1v2m0 24v1m0 4v2m1 -120v2m0 5v8m0 9v3m0 3v3m0 51v6m0 1v13m0 14v2m1 -119v16m0 10v3m0 3v1m0 1v4m0 3v2m0 39v1m0 1v20m0 2v6m0 7v1m1 -118v15m0 15v9m0 2v8m0 30v15m0 7v17m1 -111v10m0 3v1m0 27v1m0 2v4m0 25v4m0 6v3m0 8v2m0 7v2m0 2v3m0 235v3m0 3v3m1 -351v20m0 15v10m0 26v2m0 34v2m1 -121v3m0 5v4m0 8v3m0 3v12m0 8v17m0 54v4m1 -121v4m0 8v14m0 6v6m0 1v9m0 5v3m0 1v6m0 41v2m0 3v2m0 5v3m1 -116v5m0 15v2m0 1v6m0 4v2m0 3v20m0 6v2m0 40v5m1 -114v7m0 2v3m0 20v2m0 2v2m0 5v1m0 3v10m0 6v6m0 4v6m0 2v1m0 30v4m1 -113v2m0 1v6m0 2v2m0 28v39m0 32v4m1 -114v4m0 1v9m0 9v4m0 25v2m0 5v22m0 4v2m0 21v6m1 -107v7m0 3v10m0 26v2m0 5v36m0 12v2m1 -96v1m0 1v8m0 3v7m0 7v3m0 9v1m0 13v4m0 4v26m0 3v6m1 -87v3m0 4v2m0 17v9m0 11v7m0 2v9m0 7v3m0 1v13m1 -109v5m0 8v3m0 3v6m0 26v14m0 13v8m0 1v4m0 10v7m1 -110v18m0 1v9m0 26v6m0 7v4m0 16v8m0 260v3m1 -358v6m0 3v1m0 11v3m0 6v3m0 20v2m0 1v5m0 6v11m0 14v6m1 -98v16m0 11v9m0 14v4m0 4v1m0 4v2m0 5v5m0 3v6m0 16v7m1 -106v5m0 6v6m0 40v24m0 2v3m0 19v2m1 -107v23m0 9v4m0 1v3m0 2v4m0 20v1m0 3v17m0 19v1m1 -93v9m0 3v4m0 12v4m0 20v8m0 1v3m0 3v9m0 12v6m1 -108v4m0 16v2m0 1v4m0 14v13m0 2v1m0 5v1m0 2v4m0 1v18m0 5v3m0 8v5m1 -111v3m0 4v1m0 15v9m0 2v6m0 9v12m0 5v3m0 5v10m0 4v3m0 17v4m1 -111v18m0 12v9m0 15v2m0 9v12m0 1v12m0 20v1m1 -104v10m0 6v2m0 14v5m0 19v12m0 1v1m0 1v4m0 3v6m0 18v4m1 -95v1m0 39v18m0 2v7m0 2v2m0 8v1m0 2v2m0 5v6m1 -55v6m0 1v4m0 9v3m0 3v28m0 240v3m1 -289v22m0 3v3m0 5v13m0 234v3m1 -352v8m0 40v1m0 19v7m0 3v11m0 5v7m0 257v3m1 -362v3m0 9v3m0 4v3m0 3v1m0 22v6m0 3v5m0 2v9m0 8v8m0 3v4m0 1v14m1 -115v3m0 22v10m0 10v1m0 10v2m0 3v8m0 1v4m0 11v6m0 10v11m0 1v4m1 -117v2m0 26v13m0 5v1m0 4v15m0 4v5m0 13v3m0 15v6m1 -110v2m0 28v9m0 1v13m0 4v13m0 3v6m0 11v4m0 264v3m1 -359v2m0 23v4m0 2v6m0 14v13m0 14v3m0 11v2m1 -92v3m0 19v5m0 13v9m0 4v6m0 11v2m0 3v4m0 11v8m1 -99v1m0 1v1m0 15v7m0 25v7m0 16v1m0 10v6m0 11v1m1 -103v3m0 19v5m0 35v6m0 14v9m0 4v11m1 -103v1m0 23v4m0 9v3m0 10v1m0 17v16m0 7v3m0 5v4m1 -104v2m0 22v8m0 2v1m0 5v1m0 6v1m0 1v5m0 7v7m0 12v9m0 4v7m0 1v3m1 -106v3m0 28v6m0 17v2m0 6v7m0 12v1m0 5v3m0 3v2m0 7v9m1 -110v3m0 15v4m0 4v4m0 7v4m0 3v5m0 3v1m0 8v6m0 3v5m0 4v2m0 5v9m0 15v4m1 -115v3m0 20v5m0 3v7m0 3v6m0 1v3m0 13v1m0 18v12m0 17v3m1 -113v1m0 23v5m0 3v8m0 12v8m0 20v2m0 2v2m0 2v4m0 19v6m1 -117v2m0 27v6m0 5v2m0 18v2m0 2v2m0 23v3m0 3v2m0 18v5m0 234v3m1 -355v2m0 19v6m0 10v2m0 24v4m0 1v3m0 17v5m0 3v2m0 8v1m0 5v3m1 -113v2m0 14v14m0 6v3m0 3v1m0 26v1m0 7v8m0 2v17m0 1v5m1 -110v5m0 3v4m0 1v10m0 12v4m0 31v1m0 4v10m0 13v4m0 3v3m1 -103v9m0 21v7m0 33v8m0 2v3m0 17v11m1 -85v1m0 13v3m0 5v2m0 20v9m0 3v4m0 4v1m0 20v2m0 232v3m1 -298v1m0 18v9m0 5v1m0 7v9m0 12v5m0 228v3m1 -303v1m0 3v15m0 4v17m0 11v14m0 1v6m1 -87v1m0 1v4m0 15v13m0 2v9m0 9v7m0 2v4m0 2v1m0 7v8m1 -55v3m0 1v10m0 1v8m0 5v3m0 1v20m1 -42v18m0 3v2m0 4v8m0 5v2m1 -42v15m0 1v5m0 2v13m0 4v5m1 -41v9m0 1v4m0 3v1m0 3v8m0 8v6m1 -72v6m0 49v2m0 8v4m1 -70v10m0 5v1m0 2v2m0 2v4m0 39v4m1 -71v20m0 40v5m0 1v4m0 2v1m1 -74v17m0 2v10m0 34v7m1 -70v2m0 7v12m0 4v1m0 4v1m0 3v1m0 28v6m0 2v5m0 231v3m1 -300v4m0 2v20m0 3v1m0 6v2m0 9v2m0 2v16m1 -50v8m0 4v24m0 2v11m0 225v3m1 -270v5m0 11v1m0 3v3m0 2v17m1 -41v3m0 4v8m0 5v2m0 2v7m0 4v7m1 -37v2m0 3v4m0 1v16m0 4v6m1 -33v7m0 7v2m0 1v2m0 2v3m1 -31v3m0 2v8m0 1v8m0 1v8m1 -30v5m0 23v2m0 3v2m1 -43v1m0 6v7m0 2v3m0 29v2m1 -48v13m0 34v2m1 -50v4m0 1v6m0 39v2m0 219v3m1 -268v1m0 2v2m0 5v2m0 30v3m0 226v3m1 -263v3m0 8v1m0 16v5m1 -26v5m0 18v2m1 -85v2m0 60v17m0 3v5m0 223v3m1 -251v14m0 1v5m0 3v1m0 221v3m1 -317v3m0 65v8m0 7v7m1 -100v2m0 6v1m0 3v13m0 50v3m0 4v4m0 7v5m1 -97v7m0 8v7m0 4v2m0 39v4m0 1v2m0 17v9m1 -100v1m0 5v1m0 13v6m0 41v4m0 23v5m1 -98v1m0 18v7m0 37v6m0 23v4m1 -96v4m0 4v3m0 10v1m0 2v3m0 36v7m0 21v6m0 228v3m1 -329v5m0 6v1m0 12v2m0 43v3m0 19v1m0 2v3m1 -96v2m0 7v4m0 4v3m0 3v8m0 3v1m0 34v4m0 10v5m0 3v4m0 230v3m1 -321v7m0 3v4m0 4v1m0 7v5m0 31v2m0 10v7m0 3v2m1 -82v3m0 6v6m0 10v4m0 26v9m0 16v1m1 -103v6m0 14v18m0 4v8m0 1v2m0 16v14m0 19v3m1 -102v3m0 5v2m0 4v5m0 7v4m0 1v3m0 26v4m0 1v3m0 36v3m1 -106v7m0 6v6m0 2v7m0 35v6m0 27v2m0 5v3m1 -99v8m0 2v7m0 12v2m0 25v9m0 24v9m0 227v3m1 -308v1m0 8v2m0 29v4m0 27v4m1 -99v2m0 22v1m0 6v2m0 28v1m0 4v5m0 27v3m1 -103v6m0 31v1m0 16v3m0 3v4m0 6v4m0 28v3m0 229v3m1 -334v14m0 29v2m0 14v3m0 5v3m0 29v4m1 -106v2m0 2v1m0 5v4m0 3v9m0 35v5m0 2v7m0 29v3m1 -111v1m0 1v5m0 3v3m0 3v8m0 4v2m0 40v9m0 31v2m1 -108v2m0 23v12m0 30v8m0 31v2m1 -115v2m0 7v4m0 16v11m0 2v2m0 36v2m0 32v2m0 222v3m1 -343v6m0 5v2m0 2v2m0 20v8m0 1v1m0 36v1m0 29v1m0 1v2m0 217v3m1 -342v8m0 2v13m0 3v3m0 18v4m0 37v3m0 24v4m1 -121v3m0 13v1m0 36v3m0 37v1m0 24v2m1 -120v1m0 29v3m0 1v1m0 20v2m0 14v2m0 19v6m0 12v3m0 2v2m1 -118v2m0 38v3m0 10v1m0 1v2m0 20v6m0 6v4m0 1v1m0 14v8m1 -119v2m0 3v1m0 38v10m0 2v2m0 20v10m0 28v3m1 -119v2m0 14v5m0 22v2m0 38v4m0 35v2m1 -123v2m0 14v16m0 12v2m0 38v2m0 35v2m0 229v3m1 -352v1m0 9v8m0 14v14m0 71v3m1 -116v13m0 62v2m0 10v9m0 15v7m1 -123v5m0 3v8m0 1v5m0 56v3m0 1v3m0 3v11m0 10v13m1 -121v2m0 19v6m0 49v2m0 14v1m0 17v7m0 232v3m1 -351v1m0 25v6m0 42v4m0 35v3m0 229v3m1 -346v10m0 2v6m0 12v7m0 38v3m0 5v2m0 32v3m1 -120v8m0 2v8m0 6v5m0 1v3m0 2v2m0 41v7m0 7v1m0 14v1m0 2v2m0 7v5m1 -128v2m0 1v9m0 4v7m0 3v2m0 12v1m0 39v2m0 4v4m0 6v1m0 8v11m0 4v2m0 5v4m1 -130v2m0 10v18m0 11v1m0 39v3m0 21v3m0 4v13m0 4v1m1 -129v1m0 19v9m0 10v6m0 33v9m0 9v1m0 14v16m0 218v3m1 -344v3m0 1v11m0 5v11m0 5v1m0 32v6m0 1v3m0 1v4m0 13v2m0 4v11m0 1v3m0 226v3m1 -341v10m0 1v9m0 42v7m0 24v19m1 -107v1m0 1v4m0 4v3m0 52v2m0 24v5m0 1v11m0 3v1m1 -108v1m0 4v2m0 17v3m0 34v3m0 17v3m0 3v8m0 6v3m0 3v1m0 221v3m1 -338v18m0 3v4m0 42v6m0 25v2m0 12v2m1 -105v18m0 46v2m0 1v2m0 35v1m1 -105v12m0 4v5m0 42v12m0 4v10m0 15v1m1 -104v5m0 13v3m0 41v2m0 4v1m0 3v3m0 2v9m0 2v9m0 1v6m0 218v3m1 -325v5m0 15v8m0 31v3m0 16v12m0 7v3m1 -100v8m0 15v4m0 32v5m0 24v2m0 3v4m0 4v2m1 -94v8m0 6v2m0 39v3m0 35v2m1 -87v4m0 37v8m0 1v10m0 6v2m0 18v1m1 -116v4m0 24v1m0 45v4m0 1v10m0 1v3m0 3v4m0 2v1m0 4v2m0 5v2m1 -40v8m0 1v4m0 2v14m0 2v6m1 -31v4m0 2v17m0 4v2m0 223v3m1 -319v2m0 69v7m0 2v7m0 4v4m1 -101v2m0 86v9m0 4v2m1 -94v2m0 74v2m0 4v5m0 2v3m1 -25v1m0 5v20m0 220v3m1 -247v22m1 -20v5m0 3v3m0 6v6m0 219v3m1 -238v1m0 15v2m0 217v3m1 -236v6m0 7v4m1 -10v1m0 3v2m0 1v3m1 213v3m1 -324v4m0 97v5m1 -6v5m2 219v3m1 -329v1m0 322v3m1 -225v3m2 222v3m1 0v3m1 -225v5m17 217v3m2 -6v3m2 -6v3m2 -6v3m1 -325v2m1 2v6m1 -4v4m0 4v1m1 313v3m2 -320v3m0 317v3m1 -337v6m0 6v3m0 2v7m1 -22v6m0 9v1m0 2v8m0 64v3m0 9v2m1 -83v3m0 75v3m1 -95v2m0 1v5m0 3v3m0 83v1m0 224v3m4 -324v7m1 -23v20m0 2v2m1 -23v6m0 3v13m0 1v4m1 -26v3m0 5v8m0 5v4m0 313v3m1 -339v2m0 6v5m1 -16v3m0 10v7m1 -18v1m0 10v6m0 317v3m1 -328v4m0 1v5m4 -13v3m0 325v3m1 -328v4m0 321v3m2 -3v3m15 -9v6m20 3v3m3 -6v3m7 -3v3m2 -3v3m4 -6v3m2 -3v6m4 -9v3m2 6v3m2 -12v3m1 -3v3m5 3v3m1 -3v3m3 -6v3m6 0v3m1 -3v3m4 0v3m3 -9v3m1 0v3m4 -3v3m16 -3v3m6 -3v3m23 0v3m5 -6v3m6 0v3m21 -6v3m3 -3v3m2 0v3m5 -3v3m17 -6v3m9 0v3m4 -6v3m3 0v3m4 -3v3m4 -6v3m2 0v3m2 -9v3m3 0v3m4 -6v3m1 0v3m16 -6v3m3 3v3m13 -3v3m2 -3v3m12 -3v3m5 -6v3m13 0v3m24 -3v3m2 -9v3m0 3v3m3 -6v3m7 -6v3m2 0v6m8 -6v3m8 0v3m2 -6v3m1 -3v3m4 -3v3m1 -3v3m2 -3v3m1 -6v3m6 0v3m2 0v3m2 -3v3m16 -6v3m9 -3v3m6 -3v3m7 -3v3m8 -3v3m3 -3v3m1 -3v3m1 -3v3m2 -3v3m1 -6v3m2 0v3m2 -3v3m4 -3v3"/>
<path stroke="#ffe500" d="M170.5 393v2m0 2v2m0 3v2m1 -9v8m1 -61v13m0 34v3m1 -47v1m0 9v5m0 25v3m0 3v2m1 -43v4m0 1v6m0 30v9m1 -41v1m0 10v3m2 -20v1m6 12v5m0 3v2m1 -10v6m1 0v4m1 -8v1m0 6v2m1 -4v3m0 6v4m1 -2v11m1 -7v16m1 -18v9m0 4v4m1 -8v5m0 260v3m12 -3v3m4 -3v3m1 -3v3m6 -6v3m2 -3v3m3 0v3m7 -3v3m5 -3v3m4 -261v10m1 -13v4m0 6v6m1 -17v4m0 10v7m1 -18v5m0 9v2m1 -17v6m0 7v3m1 -11v1m0 1v10m0 240v3m5 0v3m5 -261v4m1 0v3m0 4v2m0 242v3m1 -250v4m0 1v1m1 244v3m2 -6v3m5 -3v3m9 -320v4m0 25v2m0 289v3m1 -328v3m1 -3v1m0 10v6m0 23v1m0 39v7m1 -75v1m0 7v1m0 48v2m0 6v3m0 1v8m1 -21v9m0 5v8m1 -19v2m0 16v2m0 231v3m1 -254v1m0 3v5m0 10v2m1 -56v2m0 42v7m0 1v4m1 -57v5m0 47v5m1 -66v14m0 3v3m0 23v2m0 254v3m1 -302v5m0 1v6m0 3v7m0 14v3m0 4v3m0 7v1m0 2v2m1 -58v4m0 10v2m0 2v13m0 11v18m1 -82v7m0 2v8m0 3v9m0 4v1m0 10v4m0 2v6m0 1v4m0 3v5m0 10v7m1 -79v8m0 1v20m0 7v15m0 2v8m0 16v2m1 -73v3m0 1v12m0 10v8m0 2v3m0 4v3m0 2v15m0 6v2m1 -104v7m0 28v2m0 2v4m0 4v2m0 9v1m0 10v3m0 3v1m0 16v8m1 -106v2m0 2v7m0 2v2m0 11v2m0 2v3m0 2v2m0 1v9m0 15v2m0 12v6m1 -82v1m0 9v2m0 19v1m0 1v2m0 7v4m0 44v3m1 -95v5m0 3v7m0 2v2m0 53v3m0 4v1m0 2v2m0 11v9m1 -105v3m0 13v2m0 3v4m0 49v1m0 2v3m0 1v1m0 3v4m0 7v6m0 248v3m1 -352v4m0 12v6m0 53v2m0 29v3m0 240v3m1 -351v3m0 71v2m1 -76v14m0 5v1m0 53v4m0 1v4m0 263v3m1 -347v10m0 3v9m0 55v3m1 -82v3m0 1v7m0 4v5m0 4v2m0 54v3m1 -84v4m0 1v1m0 10v15m1 -31v3m0 22v3m0 57v9m1 -93v4m0 89v2m2 -91v8m0 85v2m1 -92v6m0 51v1m0 36v1m1 -94v7m0 86v1m1 -93v3m0 3v6m0 79v2m0 247v3m1 -333v5m0 78v2m1 -91v12m0 78v1m1 -93v10m0 3v2m0 78v2m1 -89v14m0 75v4m1 -92v7m0 78v1m0 2v8m1 -13v7m1 -80v5m0 70v2m0 2v2m0 2v3m1 -84v3m0 71v8m1 -85v3m0 73v1m0 2v6m0 237v3m1 -320v3m0 70v4m1 -79v6m0 68v3m0 242v3m1 -322v2m0 4v8m0 61v3m1 -92v8m0 1v2m0 2v6m0 3v13m0 2v3m0 51v6m1 -97v28m0 2v9m0 54v4m1 -89v16m0 9v7m0 54v3m1 -91v1m0 6v1m0 2v12m0 5v6m0 4v4m0 7v3m1 -46v6m0 3v10m0 2v1m0 4v17m0 3v2m0 40v1m1 -115v9m0 24v11m0 3v1m0 1v8m0 1v9m0 10v2m0 36v1m1 -116v15m0 19v1m0 2v3m0 3v11m0 1v8m0 4v7m0 3v8m0 30v1m1 -113v14m0 22v14m0 4v6m0 3v16m0 1v4m0 27v1m1 -79v2m0 5v4m0 4v20m0 2v12m0 29v2m1 -96v5m0 1v3m0 2v3m0 2v4m0 4v3m0 12v13m0 1v1m0 3v5m0 1v1m0 32v1m1 -114v2m0 13v11m0 5v5m0 1v3m0 2v4m0 11v2m0 1v5m0 47v1m1 -102v3m0 3v15m0 6v22m0 33v2m0 3v3m0 3v2m0 1v2m0 2v1m0 233v3m1 -326v9m0 21v1m0 7v6m0 29v8m0 242v3m1 -353v3m0 11v2m0 10v8m0 2v9m0 2v13m0 2v3m0 3v8m0 3v3m0 6v3m0 5v5m1 -87v4m0 1v14m0 6v3m0 3v2m0 6v14m0 4v5m0 2v1m0 2v4m0 1v10m0 4v5m0 1v4m0 240v3m1 -359v5m0 20v3m0 3v15m0 12v24m0 6v1m0 13v14m1 -84v1m0 4v3m0 2v4m0 12v13m0 3v7m0 1v1m0 28v2m0 3v2m1 -68v3m0 7v1m0 4v15m0 15v7m1 -52v2m0 4v4m0 8v2m0 1v1m0 2v7m0 4v6m0 3v8m0 2v2m0 3v2m0 2v2m1 -59v4m0 21v1m0 2v4m0 1v14m0 7v8m1 -96v3m0 37v2m0 18v3m0 6v13m0 4v8m1 -113v8m0 51v9m0 31v1m0 2v3m0 2v1m0 1v3m1 -108v9m0 2v4m0 2v1m0 35v6m0 2v8m0 3v3m0 21v5m1 -97v5m0 14v1m0 25v6m0 6v4m0 6v2m0 1v6m0 22v2m1 -107v1m0 6v2m0 2v7m0 9v12m0 39v9m0 18v5m1 -96v9m0 4v2m0 5v1m0 3v14m0 2v5m0 22v4m0 2v6m0 2v3m0 7v3m0 241v6m1 -341v3m0 10v11m0 1v9m0 3v2m0 2v5m0 36v2m0 1v3m0 2v4m1 -84v3m0 7v2m0 3v2m0 3v9m0 1v3m0 4v6m0 34v3m1 -78v4m0 2v17m0 9v11m0 7v2m1 -51v7m0 13v6m0 14v13m1 -52v5m0 17v4m0 17v16m1 -81v3m0 1v11m0 3v6m0 3v3m0 11v6m0 2v1m0 22v14m1 -76v4m0 5v2m0 9v4m0 8v2m0 4v4m0 26v6m0 3v5m1 -92v6m0 6v9m0 1v30m0 29v5m0 6v8m1 -82v9m0 8v2m0 4v20m0 1v3m0 17v10m0 6v3m1 -60v20m0 8v1m0 3v3m0 9v8m0 2v2m1 -45v5m0 1v2m0 23v5m0 3v8m1 -103v4m0 54v5m0 25v17m1 -30v1m0 12v20m1 -35v1m0 1v1m0 4v3m0 6v18m1 -24v2m0 2v8m0 1v2m0 2v5m1 -26v3m2 -12v3m1 -76v9m0 3v4m0 54v8m0 275v3m1 -360v5m0 9v3m0 2v3m0 49v11m0 27v1m1 -111v4m0 16v6m0 13v5m0 29v13m0 272v3m1 -359v2m0 15v11m0 9v1m0 30v3m0 6v5m0 4v2m0 265v3m1 -354v3m0 13v7m0 12v14m0 13v14m0 3v2m0 2v7m1 -87v6m0 4v9m0 27v4m0 6v11m0 2v3m0 4v2m0 2v7m0 264v3m1 -355v5m0 2v8m0 39v16m0 1v10m0 6v11m1 -99v1m0 7v2m0 6v3m0 46v6m0 3v5m0 9v4m1 -91v5m0 13v5m0 60v7m1 -90v7m0 12v3m0 65v4m1 -92v13m0 4v11m0 64v7m1 -98v2m0 5v8m0 4v4m0 4v7m0 58v4m0 2v9m1 -108v3m0 10v7m0 24v1m0 47v5m0 1v2m0 8v1m1 -109v3m0 16v4m0 16v12m0 40v8m0 3v1m0 4v3m1 -109v2m0 15v10m0 6v5m0 2v8m0 3v7m0 2v2m0 28v3m0 2v12m0 1v5m1 -111v4m0 3v3m0 3v6m0 6v10m0 2v9m0 10v5m0 35v8m0 1v5m0 240v3m1 -351v3m0 2v9m0 23v3m0 1v2m0 15v9m1 -64v3m0 4v1m0 26v17m0 9v5m0 1v4m0 10v10m0 1v2m0 4v3m1 -63v6m0 2v4m0 7v4m0 4v6m0 13v14m1 -54v5m0 2v10m0 3v7m0 21v1m0 16v3m1 -60v18m0 31v12m1 -48v4m0 277v3m1 -284v2m2 22v3m0 2v4m0 8v5m1 -25v1m0 5v2m0 13v4m4 -3v1m1 -50v2m1 2v4m0 1v4m1 6v3m1 -4v4m0 24v2m1 -26v11m0 1v3m1 -4v5m0 2v2m1 245v3m1 -248v1m0 241v3m1 -255v1m0 8v1m1 -17v16m0 1v6m0 2v3m1 -27v2m0 3v8m0 4v3m0 7v7m1 -33v4m0 2v9m0 11v8m1 -37v7m0 5v3m0 2v1m0 1v2m0 7v1m0 4v6m0 224v3m1 -266v5m0 2v2m0 3v1m0 2v6m0 3v3m0 5v5m1 -28v4m0 1v3m0 1v6m0 5v5m1 -16v11m0 4v3m1 -4v3m2 -13v7m1 -84v3m0 66v4m0 4v7m1 -85v8m0 7v4m0 45v1m0 2v5m0 2v1m0 3v6m1 -90v5m0 1v4m0 1v2m0 1v5m0 51v3m0 12v8m1 -92v9m0 3v6m0 50v2m0 18v3m1 -88v4m0 3v2m0 4v4m0 1v2m0 46v1m0 17v3m1 -87v6m0 1v12m0 48v9m0 6v4m0 1v2m0 232v3m1 -326v7m0 4v4m0 3v3m0 50v10m1 -69v3m0 4v4m0 1v7m0 38v6m0 3v1m1 -67v6m0 6v10m0 39v2m0 5v9m0 234v3m1 -333v5m0 72v7m0 10v2m1 -96v5m0 2v4m0 16v1m0 37v12m0 3v5m0 8v8m1 -96v6m0 56v4m0 15v8m0 2v2m0 1v2m1 -31v4m0 16v4m1 -25v6m0 17v4m1 -24v5m0 19v3m1 -26v3m0 21v4m1 -29v5m0 19v5m0 229v3m1 -259v3m0 20v6m1 -101v3m0 69v2m0 24v5m1 -104v15m0 58v3m0 25v3m1 -100v1m0 3v2m0 5v5m0 11v2m0 40v3m0 27v2m1 -99v9m0 9v2m0 47v4m0 17v1m0 1v2m0 1v3m0 227v3m1 -340v2m0 13v3m0 3v2m0 12v4m0 44v1m0 19v4m1 -114v13m0 1v16m0 17v3m0 41v4m0 14v1m0 1v4m1 -117v1m0 11v7m0 4v6m0 3v1m0 1v7m0 7v6m0 43v4m0 1v7m0 3v2m1 -114v12m0 20v6m0 3v10m0 1v1m0 38v1m0 1v14m1 -109v3m0 1v8m0 2v6m0 14v8m0 44v7m0 1v1m0 8v5m0 2v4m1 -114v1m0 18v11m0 4v7m0 44v9m0 20v6m1 -119v3m0 7v4m0 16v12m0 42v9m0 21v5m1 -117v3m0 1v5m0 82v6m0 12v7m1 -17v1m0 1v13m1 -111v3m0 73v1m0 3v3m0 11v10m1 -106v5m0 1v6m0 1v6m0 57v7m0 3v4m0 1v17m1 -108v25m0 52v2m0 11v5m0 4v4m0 1v8m1 -101v2m0 6v12m0 48v5m0 2v2m0 1v1m0 9v2m0 3v14m1 -99v6m0 5v1m0 3v2m0 50v7m0 1v5m0 3v6m0 1v2m0 2v7m1 -100v3m0 2v3m0 2v7m0 50v6m0 1v4m0 1v3m0 11v4m0 2v5m1 -124v10m0 18v2m0 7v2m0 43v5m0 1v15m0 3v4m0 13v4m1 -127v4m0 3v12m0 9v10m0 48v9m0 1v3m0 4v2m0 3v2m1 -104v1m0 11v5m0 55v1m0 3v1m0 4v13m0 2v4m0 11v1m1 -99v1m0 58v4m0 1v5m0 2v12m1 -21v3m0 3v18m1 -23v17m0 3v3m0 8v6m0 3v3m1 -40v8m0 13v4m0 2v3m0 4v5m1 -37v1m0 2v9m0 6v7m0 5v8m1 -92v4m0 59v4m0 10v9m0 3v3m1 -98v13m0 46v4m0 1v3m0 3v2m0 20v1m1 -93v5m0 4v6m0 42v4m0 2v5m0 3v2m1 -70v5m0 5v5m0 41v3m0 2v5m0 3v11m0 2v3m1 -76v6m0 44v35m1 -36v1m0 10v6m0 2v3m0 2v13m1 -37v1m0 21v2m0 1v4m0 2v5m1 -30v1m0 20v2m1 -2v4m1 -4v4m1 0v4m1 -5v2m3 -13v3m0 3v6m1 -9v15m1 -8v2m0 1v4m1 -5v3m3 219v6m16 -3v3m4 -3v3m1 -3v3m3 -3v3m12 -3v3m2 -319v2m0 311v3m1 -323v4m0 3v2m0 1v2m1 -14v6m0 3v3m0 1v4m1 -6v3m5 -6v2m1 1v1m1 -19v5m1 -4v6m1 -8v10m1 -10v10m14 323v3m5 -6v3m3 0v3m14 -3v3m1 -3v3m7 -6v3m8 0v3m6 -3v3m6 -6v3m8 -3v3m9 0v3m3 -6v3m5 0v3m1 -3v3m11 -9v6m9 -3v3m3 0v3m18 -9v3m9 3v3m9 -3v3m16 -3v3m20 -3v3m14 -3v3m20 -6v3m13 0v3m11 -3v3m2 -3v3m2 -9v3m9 3v3m12 -3v3m17 -3v3m40 -6v3m9 -6v3m8 3v3m9 -3v3m5 -6v3m1 -3v3m13 -3v3m2 0v3m17 -3v3m11 -6v3m11 0v3m1 -3v3m17 -3v3m15 -3v3"/>
<path stroke="#ffcc00" d="M170.5 395v2m0 2v3m2 255v6m1 -317v9m1 305v3m4 -3v3m3 -6v3m3 0v3m1 -6v3m5 -265v4m21 261v3m3 -3v3m1 -3v3m8 -3v3m9 -3v3m4 -260v6m1 -7v10m0 248v3m1 -257v1m0 4v4m1 -9v7m1 -7v1m1 253v3m3 -3v3m7 -254v4m10 244v3m5 0v3m6 -248v1m1 -4v5m1 -9v16m1 -9v10m1 -3v1m2 -48v3m1 -5v3m0 284v3m1 -298v10m0 2v2m1 -11v4m0 1v2m0 4v4m0 4v2m0 19v10m1 -64v1m0 20v7m0 25v8m0 3v5m1 -68v1m0 12v10m0 8v2m0 27v6m1 -65v2m0 4v4m0 2v9m0 1v7m0 1v2m1 -64v2m0 2v7m0 15v1m0 9v3m0 1v11m0 2v4m0 5v3m1 -75v9m0 2v9m0 1v9m0 1v1m0 2v7m0 4v4m0 8v8m0 2v10m0 2v10m1 -87v3m0 7v2m0 2v9m0 5v1m0 1v3m0 6v4m0 22v2m0 3v4m0 1v2m0 2v11m1 -93v13m0 9v2m0 40v7m0 1v2m1 -72v2m0 4v1m0 1v1m0 2v1m0 6v7m0 44v2m1 -71v25m0 41v5m1 -60v5m0 1v3m0 2v3m0 43v2m0 4v1m1 -55v6m0 41v8m1 -76v1m0 22v9m0 40v5m1 -77v1m0 1v10m0 15v5m0 45v4m1 -82v3m0 10v9m0 3v2m0 6v10m0 6v3m0 295v3m1 -348v6m0 5v1m0 7v4m0 23v5m0 32v6m1 -89v7m0 44v1m0 37v2m1 -83v3m0 48v5m0 27v2m1 -84v5m0 1v2m0 44v10m0 23v3m1 -86v9m0 69v2m0 4v2m1 -80v3m0 73v3m1 -76v4m0 71v3m1 -77v7m0 69v2m1 -77v6m0 71v1m1 -73v4m0 68v3m1 -81v7m0 3v9m0 56v3m0 1v2m1 -82v3m0 8v7m0 56v3m1 -68v2m0 1v7m0 58v2m0 246v3m1 -319v11m0 3v3m0 52v2m1 -74v4m0 1v1m0 8v5m0 51v3m0 1v2m1 -71v1m0 64v5m1 -69v6m0 60v2m1 -60v11m0 48v2m1 -54v2m0 3v3m0 46v2m1 -52v6m0 45v3m1 -69v9m0 7v7m0 43v4m1 -66v5m0 6v4m0 4v7m0 3v2m0 36v4m1 -82v3m0 39v2m0 37v1m1 -57v1m0 21v4m0 31v1m0 233v3m1 -311v3m0 20v4m0 18v1m0 27v2m1 -52v3m0 16v1m0 4v3m0 22v2m1 -67v4m0 20v2m0 12v4m0 21v4m1 -67v12m0 13v1m0 1v3m0 5v1m0 1v8m0 22v2m1 -67v11m0 2v1m0 5v10m0 1v2m0 2v8m0 3v9m0 5v2m0 2v3m1 -52v8m0 1v6m0 1v1m0 5v11m0 2v3m0 3v3m1 -38v5m0 9v15m1 -66v2m0 40v3m0 3v3m0 1v2m0 3v5m0 254v3m1 -320v6m0 3v3m0 2v6m0 32v1m0 10v4m1 -60v12m0 298v3m1 -313v5m0 4v3m0 13v3m0 39v3m1 -63v7m0 1v4m1 -5v8m0 2v1m0 1v2m0 32v3m1 -49v6m0 5v10m0 7v1m0 14v7m1 -46v11m0 5v2m0 3v6m0 13v4m1 -37v6m0 1v14m0 3v7m0 9v1m1 -96v2m0 58v3m0 3v8m0 6v3m0 3v1m1 -87v14m0 57v5m0 10v7m1 -87v9m0 60v2m0 6v10m1 -76v5m0 1v3m0 55v2m0 3v7m1 -67v1m0 9v3m0 47v1m0 3v2m1 -68v3m0 18v4m0 291v3m2 -321v5m0 4v4m1 -14v17m1 -14v11m1 -27v5m0 15v8m0 42v3m1 -66v1m0 64v6m0 248v3m1 -251v6m1 -5v2m0 251v3m3 -3v3m7 -355v9m0 3v2m1 -16v2m0 9v5m1 -11v4m0 3v3m0 65v4m1 -81v6m0 2v5m0 65v2m1 -74v4m0 68v2m1 -76v2m1 -7v7m0 2v6m0 55v3m1 -68v13m1 -11v12m1 -7v4m1 -14v5m0 89v2m1 -96v10m0 84v1m0 2v8m1 -105v4m0 1v11m0 80v3m0 1v4m1 -104v5m0 1v9m0 31v3m0 56v1m1 -102v3m0 3v3m0 33v10m1 -51v2m0 38v15m1 -4v9m0 30v1m0 254v3m1 -305v2m0 4v7m0 4v4m0 33v3m1 -40v3m0 29v16m9 237v3m5 -3v3m1 -6v3m5 -246v1m1 -3v4m0 3v7m1 -22v2m0 9v3m0 3v5m0 234v3m1 -259v5m0 3v2m0 1v1m0 2v7m0 1v4m1 -24v3m0 1v2m0 6v3m0 3v5m1 -19v1m0 10v5m1 0v4m3 230v3m2 -250v2m0 1v3m1 -74v1m0 2v1m0 59v2m0 5v1m0 1v3m1 -75v3m0 58v3m0 9v6m0 236v3m1 -315v4m0 54v5m0 10v2m1 -4v2m2 -9v3m1 -3v5m1 -3v3m0 2v5m1 -17v3m0 5v3m0 2v3m1 -22v8m0 3v4m0 12v1m1 -25v3m0 8v5m1 -15v1m0 6v2m0 6v2m0 238v3m1 -256v2m0 2v7m0 4v4m1 -20v6m0 3v12m0 233v3m1 -256v4m0 13v2m1 -19v3m0 16v1m1 -21v2m0 18v4m1 -23v3m0 20v2m0 228v3m1 -327v3m0 2v5m0 61v2m0 14v3m0 2v6m1 -88v9m0 53v2m0 11v4m0 1v1m0 2v1m1 -84v1m0 3v4m0 1v3m0 49v4m0 14v1m1 -80v9m0 1v7m0 48v4m0 5v5m0 1v1m1 -112v11m0 7v4m0 19v6m0 53v1m0 244v3m1 -337v4m0 1v15m1 -22v2m0 6v10m0 1v3m0 59v1m0 1v5m0 8v2m1 -109v13m0 16v4m0 60v3m0 12v5m1 -110v7m0 83v7m0 1v1m0 7v5m0 233v3m1 -345v1m0 93v3m0 1v8m1 -9v1m2 -95v1m0 6v1m0 70v3m1 -7v11m0 5v4m0 4v1m1 -16v1m0 1v9m0 2v3m1 -5v3m1 -74v2m0 68v1m1 -69v7m0 50v1m1 -84v3m0 92v4m0 2v3m1 236v3m1 -265v1m0 5v2m1 -6v3m2 6v13m0 9v4m0 225v3m1 -248v6m0 7v5m1 2v3m2 -90v4m0 52v2m0 5v3m1 -63v5m0 49v2m0 5v3m2 11v2m11 7v1m7 224v3m1 -6v3m8 -3v3m11 0v3m2 -3v3m3 -3v3m11 -322v3m1 -3v3m0 3v1m4 312v3m4 -3v3m9 -6v3m1 -6v3m1 0v3m4 0v3m1 -6v3m6 0v3m4 -3v3m4 -6v3m6 0v3m23 -3v3m9 -3v3m1 -3v3m4 -6v3m12 0v3m18 -3v3m8 -6v6m1 -3v3m9 -3v3m7 -3v3m12 -3v3m1 -3v3m15 -3v3m4 -3v3m9 -3v3m12 -6v3m25 0v3m3 -3v3m10 -3v3m1 -3v3m44 -3v3m4 -3v3m10 -3v3m42 -6v3m16 -6v3m12 3v3m1 -3v3m44 -3v3m13 -3v3m2 -6v3m3 -3v3m3 -3v3m25 0v3m6 -3v3"/>
<path stroke="#ffb300" d="M170.5 657v6m4 0v3m6 -6v6m6 -6v3m5 -6v3m2 0v3m4 0v3m1 -6v3m3 -6v3m4 3v3m1 -3v3m7 -6v3m2 0v3m7 -6v3m1 0v3m2 -6v6m3 -6v3m2 -3v3m5 -3v3m1 0v3m2 -259v4m2 249v3m2 0v3m4 -6v3m1 0v3m2 -6v3m13 -3v3m6 -3v3m2 -3v3m1 -3v3m10 -288v4m1 36v3m2 -33v1m1 -23v1m0 17v5m1 -52v1m0 28v8m0 8v2m0 10v2m1 -54v5m0 1v1m0 3v6m0 4v22m1 -44v3m0 21v4m0 1v11m1 -60v4m0 1v1m0 1v2m0 14v6m0 30v8m1 -44v4m0 2v2m0 31v2m1 -46v2m0 3v2m0 1v3m0 33v4m1 -42v4m0 32v5m1 -36v1m0 33v6m1 -40v9m0 31v5m1 -75v6m0 2v2m0 14v6m0 10v6m0 3v1m0 27v2m1 -74v5m0 1v7m0 4v2m0 6v4m0 5v6m0 5v6m0 24v2m1 -76v12m0 1v7m0 23v1m0 1v8m0 24v5m1 -78v8m0 4v2m0 31v3m0 5v3m0 2v2m0 18v2m1 -77v1m0 2v6m0 34v3m0 19v1m0 9v5m1 -74v9m0 31v8m0 3v8m0 4v6m0 2v4m1 -75v6m0 54v2m0 2v9m1 -69v5m0 62v4m0 250v3m1 -320v3m0 61v5m1 -69v3m0 9v2m0 48v1m0 1v7m1 -68v9m0 4v2m0 41v2m0 3v7m1 -71v3m0 9v6m0 45v5m1 -73v8m0 7v10m0 3v6m0 34v3m1 -63v1m0 7v10m0 43v5m0 245v3m1 -305v3m0 3v4m0 40v1m0 1v6m1 -68v1m0 1v8m0 5v6m0 38v7m1 -64v17m0 2v5m0 35v5m1 -58v16m0 40v4m1 -47v6m0 40v2m1 -44v2m0 40v4m1 -44v3m0 39v3m1 -43v10m0 31v2m1 1v4m1 -34v3m0 3v1m0 24v6m1 -30v3m0 20v8m1 -28v4m0 20v3m1 -23v2m0 12v8m1 -23v5m0 9v7m0 238v3m1 -259v11m0 2v9m0 237v3m1 -276v1m0 2v2m0 8v3m0 9v5m0 2v2m1 -41v1m0 6v1m0 1v5m0 266v3m1 -280v9m1 0v1m3 -41v4m0 301v3m3 -293v5m1 4v5m1 -3v1m0 14v3m0 261v3m1 -269v6m0 3v3m1 -10v10m0 254v3m1 -266v6m0 257v3m5 -316v4m2 309v6m5 -6v3m1 0v3m2 -3v3m4 -6v3m3 -355v9m1 -11v5m0 4v3m1 -3v2m0 343v3m2 0v3m5 -6v3m1 -3v3m1 -349v1m1 0v1m7 341v3m2 0v3m2 -3v3m1 -3v3m1 -3v3m3 -3v3m11 -245v3m1 242v3m2 -6v3m7 -253v5m0 1v1m1 -8v9m1 -7v4m0 4v2m1 -6v4m1 244v3m2 -3v3m1 -249v2m1 -1v2m1 -11v3m1 -5v8m1 -9v6m0 2v6m1 -11v2m0 7v4m1 -10v3m1 -4v3m0 1v9m1 -14v2m0 9v5m1 -18v4m0 12v2m1 -16v2m0 11v7m1 -21v6m0 5v3m0 3v2m1 -18v2m0 7v2m1 -74v3m0 4v1m0 56v2m0 8v4m1 -70v1m0 59v5m1 -65v1m1 -26v1m0 329v3m1 -321v1m0 69v3m1 -6v4m0 2v6m0 242v3m1 -253v1m0 1v7m1 -7v1m7 244v3m1 -3v3m10 -3v3m3 -9v3m1 3v3m12 -3v3m12 -3v3m4 -3v3m8 -3v3m1 0v3m8 -6v3m3 0v3m1 -9v3m3 0v3m3 0v3m11 -6v3m9 -3v3m4 0v3m6 -6v3m4 -3v3m5 -3v3m4 0v3m2 -3v3m3 -6v3m1 0v3m26 -3v3m8 -6v3m11 -3v3m18 -3v3m1 0v3m2 -3v3m8 -3v3m5 -9v3m1 0v3m6 0v3m4 -3v3m15 -3v3m17 -12v3m6 3v3m5 0v3m9 -6v3m2 0v3m8 -3v3m1 -6v3m15 0v3m21 -6v3m3 -3v3m8 0v3m2 -6v3m17 0v3m54 -6v3m4 0v3m18 -6v3m3 0v3m13 -6v3m3 -3v3m12 -3v3m9 0v3m5 -3v3m1 -3v3m5 -6v3m13 0v3m8 -3v3m2 -3v3m1 -3v3m3 -3v3m10 -3v3m23 -3v3"/>
<path stroke="#ff9900" d="M187.5 660v3m1 -3v3m1 -3v3m5 -3v3m6 -3v3m2 -3v3m14 -3v3m5 -3v3m5 -6v3m1 0v3m15 -3v3m6 -3v3m7 -3v3m3 -3v3m2 -3v3m13 -9v3m1 3v3m1 -3v3m1 -3v3m12 -323v21m0 4v1m1 -20v11m0 4v15m1 -32v2m0 2v3m0 3v7m0 2v6m0 7v3m1 -37v1m0 3v2m0 25v2m0 1v3m0 281v3m1 -318v2m0 24v6m1 -30v8m0 20v5m0 280v3m1 -308v7m0 20v4m0 274v3m1 -341v2m0 47v1m0 17v4m1 -53v6m0 4v5m0 17v3m0 18v3m1 -62v1m0 7v3m0 1v7m0 2v10m0 10v5m0 17v2m1 -65v4m0 2v4m0 22v5m0 11v2m0 10v1m0 2v7m1 -66v11m0 22v1m0 14v8m0 3v7m1 -60v9m0 30v3m0 8v4m0 262v3m1 -322v11m0 35v8m0 2v2m1 -55v10m0 1v1m0 39v11m1 -60v14m0 1v2m0 37v7m1 -61v9m0 2v6m0 2v1m0 35v4m0 1v1m1 -52v4m0 2v5m0 33v3m0 2v3m1 -46v15m0 2v1m0 24v3m1 -43v3m0 6v4m0 5v4m0 18v3m1 -42v19m0 7v5m0 8v4m1 -42v3m0 7v7m0 4v19m0 1v1m1 -41v3m0 26v9m1 -40v2m0 5v3m0 21v1m0 7v3m1 -37v6m0 31v3m1 -37v9m0 28v3m1 -40v5m0 31v4m0 248v3m1 -288v5m0 30v4m1 -30v2m0 27v2m0 245v3m1 -277v4m0 25v3m1 -27v3m0 21v4m1 -21v5m0 11v4m1 -16v4m0 6v3m0 1v6m0 238v3m1 -259v12m1 -10v9m1 0v2m1 243v3m9 -3v3m10 -3v3m3 -3v3m36 -3v3m7 -3v3m22 -248v4m12 -5v1m1 -3v9m1 -9v2m0 1v9m0 236v3m1 -251v4m0 3v4m1 -8v5m1 -8v7m1 -6v8m1 239v3m4 -250v2m8 245v3m10 -3v3m21 -3v3m16 -3v3m34 -9v3m9 0v6m6 -3v3m11 -3v3m1 -3v3m5 -3v3m19 -3v3m12 -3v3m41 -3v3m2 -3v3m10 -3v3m1 -3v3m74 -6v3m16 0v3m80 -9v3m100 3v3m17 -3v3m1 -3v3m4 -3v3m23 -3v3"/>
<path stroke="#ff8000" d="M177.5 663v3m2 -6v3m9 0v3m1 -3v3m1 -3v3m4 -3v3m7 -6v3m5 -3v3m3 -3v3m3 -3v3m12 -3v3m10 0v3m9 -6v3m1 0v3m8 -6v3m2 -6v3m7 0v3m3 -3v3m3 -3v3m5 -3v3m1 0v3m1 -3v3m3 -6v3m4 0v3m2 -6v3m1 -3v3m5 -306v4m1 -10v3m0 7v2m0 6v7m1 -28v6m0 1v18m0 2v1m0 287v3m1 -319v7m0 12v5m0 289v6m1 -311v3m1 4v4m0 8v8m1 -16v5m0 1v3m0 4v10m1 -12v16m1 -48v1m0 7v2m0 25v3m0 10v4m1 -53v22m0 20v4m0 2v2m0 1v2m1 -48v6m0 11v5m0 24v2m0 263v3m1 -310v11m0 9v2m1 -23v11m0 16v4m0 3v1m1 -33v1m0 1v9m0 7v3m0 12v8m1 -35v1m0 2v6m0 20v1m0 3v7m0 260v3m1 -300v2m0 1v1m0 3v2m0 1v1m0 20v7m1 -35v9m0 20v4m1 -23v2m0 1v7m0 11v1m0 2v3m1 -27v5m0 4v1m0 4v5m0 6v2m0 257v3m1 -280v7m0 5v8m1 -35v7m0 7v4m1 -17v4m0 1v8m0 4v9m1 -21v7m0 11v3m0 1v7m1 -28v11m0 6v5m0 2v7m0 257v3m1 -285v9m0 8v11m0 251v3m1 -286v5m0 4v3m0 10v9m1 -28v8m0 3v1m0 14v4m1 -24v3m0 20v4m1 -23v5m0 18v2m1 -20v7m0 11v2m1 -12v3m0 5v3m1 -8v6m0 3v1m1 247v3m5 -3v3m1 -3v3m8 -9v3m7 0v3m2 -3v3m8 0v3m2 -6v3m2 -3v3m9 -3v6m11 -6v3m2 0v3m20 -6v3m10 0v3m4 -3v3m2 -3v3m4 -3v3m7 -252v1m1 1v3m1 244v3m11 -6v3m7 -6v3m11 3v3m2 -3v3m13 -6v3m10 0v3m3 -6v3m12 0v3m7 -3v3m1 -3v3m10 -6v6m24 -3v3m1 -6v3m5 0v3m11 -3v3m5 -3v3m11 -3v3m13 -3v3m5 -3v3m9 -3v3m4 -3v3m3 -3v3m1 -3v3m16 -6v3m3 0v3m33 -6v3m9 -3v3m2 0v3m1 -3v3m88 -6v3m16 0v3m1 -3v3m16 -3v3m100 -3v3m3 -3v3m2 -3v3m16 -3v3m3 -6v3m4 0v3m11 -3v3m3 -6v3m10 -3v6m26 -6v3"/>
<path stroke="#ff6600" d="M181.5 660v3m14 -3v3m1 -3v3m1 -6v3m42 0v3m8 -3v3m9 -3v3m17 -3v3m12 -3v3m6 -309v1m1 -1v12m1 -8v17m1 -9v8m1 1v4m1 -4v2m1 6v10m1 -3v2m1 -37v11m1 -2v9m1 -10v16m0 4v3m1 -21v7m0 3v12m1 -18v20m0 1v3m1 -26v3m0 2v1m0 1v20m1 -19v20m1 -9v11m0 1v2m1 -14v4m0 5v6m3 -28v1m0 8v4m1 -5v11m0 268v3m1 -277v6m0 5v2m1 -9v8m1 -16v4m0 3v10m1 -11v3m0 1v14m1 -17v20m1 -14v18m0 247v3m1 -261v11m1 -7v5m13 249v3m2 -3v3m13 -3v3m6 -3v3m37 -3v3m15 -3v3m29 -3v3m3 -3v3m2 -3v3m16 -3v3m24 -3v3m25 -3v3m15 -3v3m3 -6v3m18 0v3m1 -3v3m21 -3v3m29 -3v3m1 -3v3m5 -3v3m14 -3v3m34 -6v3m1 0v3m36 -6v3m193 0v3m15 -3v3m50 -3v3m5 -3v3"/>
<path stroke="#ff4c00" d="M171.5 660v3m2 -3v3m2 -3v3m8 -3v3m14 -3v3m8 -3v3m13 -3v3m11 -6v3m5 0v3m2 -3v3m23 -3v3m27 -3v3m1 -6v6m11 -3v3m6 -3v3m5 -3v3m12 -3v3m30 -3v3m16 -3v3m41 -3v3m6 -3v3m10 -3v3m9 -3v3m3 -3v3m12 -3v3m33 -3v3m6 -3v3m11 -3v3m8 -3v3m6 -3v3m91 -3v3m46 -3v3m234 -3v3m64 -6v3m17 0v3"/></g>
<path fill="#000" shape-rendering="crispEdges" d="M170 535h2v2h-2zM172 533h2v2h-2zM178 531h2v2h-2zM182 528h2v2h-2zM185 528h2v2h-2zM188 527h2v2h-2zM191 528h2v2h-2zM193 534h2v2h-2zM197 536h2v2h-2zM200 537h2v2h-2zM205 531h2v2h-2zM208 530h2v2h-2zM211 527h2v2h-2zM214 528h2v2h-2zM218 531h2v2h-2zM221 532h2v2h-2zM226 528h2v2h-2zM230 527h2v2h-2zM285 508h2v2h-2zM288 509h2v2h-2zM311 507h2v2h-2zM314 510h2v2h-2zM317 512h2v2h-2zM321 514h2v2h-2zM171 579h2v2h-2zM174 579h2v2h-2zM176 580h2v2h-2zM178 579h2v2h-2zM181 579h2v2h-2zM186 578h2v2h-2zM201 577h2v2h-2zM204 577h2v2h-2zM271 577h2v2h-2zM273 583h2v2h-2zM276 587h2v2h-2zM279 589h2v2h-2zM275 591h2v2h-2zM281 590h2v2h-2zM283 588h2v2h-2zM687 509h2v2h-2zM290 589h2v2h-2zM293 589h2v2h-2zM297 589h2v2h-2zM301 590h2v2h-2zM306 591h2v2h-2zM308 592h2v2h-2zM311 592h2v2h-2zM317 592h2v2h-2zM324 594h2v2h-2zM327 593h2v2h-2zM329 592h2v2h-2zM332 592h2v2h-2zM335 594h2v2h-2zM349 594h2v2h-2zM352 593h2v2h-2zM358 593h2v2h-2zM361 592h2v2h-2zM327 600h2v2h-2zM297 596h2v2h-2zM279 592h2v2h-2zM642 572h2v2h-2zM653 562h2v2h-2zM657 558h2v2h-2zM660 559h2v2h-2zM663 562h2v2h-2zM665 560h2v2h-2zM669 554h2v2h-2zM671 559h2v2h-2zM673 562h2v2h-2zM675 556h2v2h-2zM678 554h2v2h-2zM681 551h2v2h-2zM686 545h2v2h-2zM683 563h2v2h-2zM689 564h2v2h-2zM693 565h2v2h-2zM703 567h2v2h-2zM713 573h2v2h-2zM752 544h2v2h-2zM801 544h2v2h-2zM807 544h2v2h-2zM810 544h2v2h-2zM777 576h2v2h-2zM781 575h2v2h-2zM787 572h2v2h-2zM790 583h2v2h-2zM791 588h2v2h-2zM794 590h2v2h-2zM797 595h2v2h-2zM799 590h2v2h-2zM803 584h2v2h-2zM806 591h2v2h-2zM793 605h2v2h-2zM757 584h2v2h-2zM761 592h2v2h-2zM765 589h2v2h-2zM767 587h2v2h-2zM770 591h2v2h-2zM772 592h2v2h-2zM756 597h2v2h-2zM824 567h2v2h-2zM826 572h2v2h-2zM827 577h2v2h-2zM831 574h2v2h-2zM832 577h2v2h-2zM835 577h2v2h-2zM837 577h2v2h-2zM837 582h2v2h-2zM831 588h2v2h-2zM838 623h2v2h-2zM641 601h2v2h-2zM644 604h2v2h-2zM646 610h2v2h-2zM648 601h2v2h-2zM651 600h2v2h-2zM655 601h2v2h-2zM657 601h2v2h-2zM666 601h2v2h-2zM668 604h2v2h-2zM671 604h2v2h-2zM661 607h2v2h-2zM659 609h2v2h-2zM691 605h2v2h-2zM695 599h2v2h-2zM697 601h2v2h-2zM698 604h2v2h-2zM701 591h2v2h-2zM702 596h2v2h-2zM705 597h2v2h-2zM701 601h2v2h-2zM707 601h2v2h-2zM709 602h2v2h-2zM707 605h2v2h-2zM706 607h2v2h-2zM711 603h2v2h-2zM715 601h2v2h-2zM717 601h2v2h-2zM720 603h2v2h-2zM722 603h2v2h-2zM726 604h2v2h-2zM727 602h2v2h-2zM732 602h2v2h-2zM734 604h2v2h-2zM738 602h2v2h-2zM740 604h2v2h-2zM743 603h2v2h-2zM747 605h2v2h-2zM736 609h2v2h-2zM725 621h2v2h-2zM730 617h2v2h-2zM731 618h2v2h-2zM735 618h2v2h-2zM737 621h2v2h-2zM741 618h2v2h-2zM741 617h2v2h-2zM746 618h2v2h-2zM748 619h2v2h-2zM771 625h2v2h-2zM692 629h2v2h-2zM823 506h2v2h-2zM866 503h2v2h-2zM873 504h2v2h-2zM880 504h2v2h-2zM889 502h2v2h-2zM801 543h2v2h-2zM807 543h2v2h-2zM811 544h2v2h-2zM782 575h2v2h-2zM787 572h2v2h-2zM790 583h2v2h-2zM792 588h2v2h-2zM795 591h2v2h-2zM797 595h2v2h-2zM799 590h2v2h-2zM802 585h2v2h-2zM805 586h2v2h-2zM792 605h2v2h-2zM795 606h2v2h-2zM824 567h2v2h-2zM825 573h2v2h-2zM827 576h2v2h-2zM830 574h2v2h-2zM832 578h2v2h-2zM835 577h2v2h-2zM833 578h2v2h-2zM837 581h2v2h-2zM840 578h2v2h-2zM842 570h2v2h-2zM844 575h2v2h-2zM845 579h2v2h-2zM848 581h2v2h-2zM832 588h2v2h-2zM851 589h2v2h-2zM853 598h2v2h-2zM856 600h2v2h-2zM859 601h2v2h-2zM861 595h2v2h-2zM863 592h2v2h-2zM867 591h2v2h-2zM868 595h2v2h-2zM877 577h2v2h-2zM882 578h2v2h-2zM883 581h2v2h-2zM884 589h2v2h-2zM887 568h2v2h-2zM890 570h2v2h-2zM892 572h2v2h-2zM893 564h2v2h-2zM895 568h2v2h-2zM898 574h2v2h-2zM900 571h2v2h-2zM903 576h2v2h-2zM939 577h2v2h-2zM943 571h2v2h-2zM944 584h2v2h-2zM947 581h2v2h-2zM950 580h2v2h-2zM954 581h2v2h-2zM958 581h2v2h-2zM838 623h2v2h-2zM850 618h2v2h-2zM854 617h2v2h-2zM863 617h2v2h-2zM870 618h2v2h-2zM874 619h2v2h-2zM886 620h2v2h-2zM947 618h2v2h-2zM952 617h2v2h-2zM958 616h2v2h-2zM955 606h2v2h-2zM749 375h2v2h-2zM751 378h2v2h-2zM759 378h2v2h-2zM765 381h2v2h-2zM774 380h2v2h-2zM778 384h2v2h-2zM813 379h2v2h-2zM816 382h2v2h-2zM820 386h2v2h-2zM811 387h2v2h-2zM809 403h2v2h-2zM687 508h2v2h-2zM580 549h2v2h-2zM589 547h2v2h-2zM596 546h2v2h-2zM567 553h2v2h-2zM580 549h2v2h-2zM585 549h2v2h-2zM587 548h2v2h-2zM590 547h2v2h-2zM596 546h2v2h-2zM611 555h2v2h-2zM614 556h2v2h-2zM618 557h2v2h-2zM545 604h2v2h-2zM548 599h2v2h-2zM550 603h2v2h-2zM552 600h2v2h-2zM555 600h2v2h-2zM558 601h2v2h-2zM583 601h2v2h-2zM591 603h2v2h-2zM593 606h2v2h-2zM595 600h2v2h-2zM598 599h2v2h-2zM601 598h2v2h-2zM603 600h2v2h-2zM606 601h2v2h-2zM609 600h2v2h-2zM614 601h2v2h-2zM619 599h2v2h-2zM621 600h2v2h-2zM624 601h2v2h-2zM627 600h2v2h-2zM629 602h2v2h-2zM632 601h2v2h-2zM636 600h2v2h-2zM638 600h2v2h-2zM629 606h2v2h-2zM579 613h2v2h-2zM582 614h2v2h-2zM501 610h2v2h-2z"/>
<polyline points="255.8,520.0 261.7,519.2 266.7,516.7 271.7,514.7" fill="none" stroke="#000" stroke-width="1.9" stroke-linejoin="round" stroke-linecap="butt"/>
<polyline points="337.5,518.7 350.0,517.5" fill="none" stroke="#000" stroke-width="1.9" stroke-linejoin="round" stroke-linecap="butt"/>
<polyline points="355.8,518.0 359.2,517.3" fill="none" stroke="#000" stroke-width="1.9" stroke-linejoin="round" stroke-linecap="butt"/>
<polyline points="230.0,588.3 255.8,588.8" fill="none" stroke="#000" stroke-width="1.9" stroke-linejoin="round" stroke-linecap="butt"/>
<polyline points="311.7,508.0 314.2,510.8 318.3,514.2 321.7,515.0 324.2,514.7" fill="none" stroke="#000" stroke-width="1.9" stroke-linejoin="round" stroke-linecap="butt"/>
<polyline points="337.5,518.8 343.3,518.3 350.0,517.2" fill="none" stroke="#000" stroke-width="1.9" stroke-linejoin="round" stroke-linecap="butt"/>
<polyline points="355.8,517.8 358.3,517.2" fill="none" stroke="#000" stroke-width="1.9" stroke-linejoin="round" stroke-linecap="butt"/>
<polyline points="365.8,517.0 371.7,514.2 378.3,511.7 385.0,509.7 391.7,507.5 395.8,505.5 400.8,505.5 405.0,507.5" fill="none" stroke="#000" stroke-width="1.9" stroke-linejoin="round" stroke-linecap="butt"/>
<polyline points="405.8,512.0 409.2,509.7 415.0,509.2 421.7,509.2 428.3,509.2 435.0,510.0 443.3,512.0 451.7,513.3 463.3,513.0 471.7,513.0 480.0,513.7 486.7,514.2 496.7,515.0 505.0,516.7 501.7,516.7 508.3,518.8 520.0,519.7 528.3,518.7 536.7,517.2 545.0,515.3 548.3,514.7" fill="none" stroke="#000" stroke-width="1.9" stroke-linejoin="round" stroke-linecap="butt"/>
<polyline points="553.3,514.2 561.7,513.3 568.3,513.3 575.0,514.7 581.7,514.7" fill="none" stroke="#000" stroke-width="1.9" stroke-linejoin="round" stroke-linecap="butt"/>
<polyline points="899.8,622.6 903.1,619.5 906.9,618.0 910.7,617.0 914.5,616.2 918.3,615.5 922.1,615.5 925.9,615.7 929.7,616.2 934.8,616.8 939.9,617.0" fill="none" stroke="#000" stroke-width="1.9" stroke-linejoin="round" stroke-linecap="butt"/>
<polyline points="781.3,492.6 785.1,492.1 789.6,491.6" fill="none" stroke="#000" stroke-width="1.9" stroke-linejoin="round" stroke-linecap="butt"/>
<polyline points="170.8,535.8 173.3,534.2 179.2,531.7 183.3,529.2 185.8,528.7 189.2,527.5 191.7,529.2 194.2,535.0 197.5,536.7 200.8,537.5" fill="none" stroke="#000" stroke-width="1.9" stroke-linejoin="round" stroke-linecap="butt"/>
<polyline points="205.8,532.5 209.2,530.8 212.5,527.5 215.0,529.2 219.2,532.5 222.5,533.3 226.7,529.2 230.8,528.0" fill="none" stroke="#000" stroke-width="1.9" stroke-linejoin="round" stroke-linecap="butt"/>
<polyline points="172.5,580.0 174.7,580.5 176.7,580.8 179.2,580.3 181.7,579.7" fill="none" stroke="#000" stroke-width="1.9" stroke-linejoin="round" stroke-linecap="butt"/>
<polyline points="595.8,600.8 599.2,600.0 601.7,599.2 604.2,600.8 606.7,602.0 610.0,601.3" fill="none" stroke="#000" stroke-width="1.9" stroke-linejoin="round" stroke-linecap="butt"/>
<polyline points="620.0,600.0 622.5,601.3 625.0,601.7 627.5,600.8 630.0,603.3 633.3,602.0 636.7,601.3 639.2,600.8" fill="none" stroke="#000" stroke-width="1.9" stroke-linejoin="round" stroke-linecap="butt"/>
<polyline points="585.8,550.3 588.3,548.7 590.8,548.0" fill="none" stroke="#000" stroke-width="1.9" stroke-linejoin="round" stroke-linecap="butt"/>
<polyline points="750.0,375.8 752.5,379.2 760.0,379.2 765.8,382.5" fill="none" stroke="#000" stroke-width="1.9" stroke-linejoin="round" stroke-linecap="butt"/>
<polyline points="775.0,380.8 779.2,385.0" fill="none" stroke="#000" stroke-width="1.9" stroke-linejoin="round" stroke-linecap="butt"/>
<polyline points="814.2,380.0 816.7,383.3 820.8,386.7" fill="none" stroke="#000" stroke-width="1.9" stroke-linejoin="round" stroke-linecap="butt"/>
<rect x="170" y="666" width="800" height="1" fill="#fff"/>
<path d="M169.5 135.5H970.5V667.5H169.5Z" fill="none" stroke="#000" stroke-width="1"/>
<path d="M187.5 135V132M187.5 668V671M209.5 135V132M209.5 668V671M231.5 135V132M231.5 668V671M254.5 135V132M254.5 668V671M276.5 135V132M276.5 668V671M298.5 135V129M298.5 668V674M320.5 135V132M320.5 668V671M343.5 135V132M343.5 668V671M365.5 135V132M365.5 668V671M387.5 135V132M387.5 668V671M409.5 135V132M409.5 668V671M432.5 135V129M432.5 668V674M454.5 135V132M454.5 668V671M476.5 135V132M476.5 668V671M498.5 135V132M498.5 668V671M521.5 135V132M521.5 668V671M543.5 135V132M543.5 668V671M565.5 135V129M565.5 668V674M587.5 135V132M587.5 668V671M610.5 135V132M610.5 668V671M632.5 135V132M632.5 668V671M654.5 135V132M654.5 668V671M676.5 135V132M676.5 668V671M699.5 135V129M699.5 668V674M721.5 135V132M721.5 668V671M743.5 135V132M743.5 668V671M765.5 135V132M765.5 668V671M788.5 135V132M788.5 668V671M810.5 135V132M810.5 668V671M832.5 135V129M832.5 668V674M854.5 135V132M854.5 668V671M877.5 135V132M877.5 668V671M899.5 135V132M899.5 668V671M921.5 135V132M921.5 668V671M943.5 135V132M943.5 668V671M966.5 135V129M966.5 668V674M169 655.5H165M971 655.5H975M169 632.5H165M971 632.5H975M169 610.5H165M971 610.5H975M169 587.5H161M971 587.5H979M169 564.5H165M971 564.5H975M169 542.5H165M971 542.5H975M169 519.5H165M971 519.5H975M169 497.5H161M971 497.5H979M169 474.5H165M971 474.5H975M169 451.5H165M971 451.5H975M169 429.5H165M971 429.5H975M169 406.5H161M971 406.5H979M169 383.5H165M971 383.5H975M169 361.5H165M971 361.5H975M169 338.5H165M971 338.5H975M169 316.5H161M971 316.5H979M169 293.5H165M971 293.5H975M169 270.5H165M971 270.5H975M169 248.5H165M971 248.5H975M169 225.5H161M971 225.5H979M169 202.5H165M971 202.5H975M169 180.5H165M971 180.5H975M169 157.5H165M971 157.5H975" fill="none" stroke="#000" stroke-width="1"/>
<defs><linearGradient id="cb" x1="0" y1="0" x2="0" y2="1"><stop offset="0.0000" stop-color="#800000"/><stop offset="0.0156" stop-color="#8f0000"/><stop offset="0.0312" stop-color="#9f0000"/><stop offset="0.0469" stop-color="#af0000"/><stop offset="0.0625" stop-color="#bf0000"/><stop offset="0.0781" stop-color="#cf0000"/><stop offset="0.0938" stop-color="#df0000"/><stop offset="0.1094" stop-color="#ef0000"/><stop offset="0.1250" stop-color="#ff0000"/><stop offset="0.1406" stop-color="#ff1000"/><stop offset="0.1562" stop-color="#ff2000"/><stop offset="0.1719" stop-color="#ff3000"/><stop offset="0.1875" stop-color="#ff4000"/><stop offset="0.2031" stop-color="#ff5000"/><stop offset="0.2188" stop-color="#ff6000"/><stop offset="0.2344" stop-color="#ff7000"/><stop offset="0.2500" stop-color="#ff8000"/><stop offset="0.2656" stop-color="#ff8f00"/><stop offset="0.2812" stop-color="#ff9f00"/><stop offset="0.2969" stop-color="#ffaf00"/><stop offset="0.3125" stop-color="#ffbf00"/><stop offset="0.3281" stop-color="#ffcf00"/><stop offset="0.3438" stop-color="#ffdf00"/><stop offset="0.3594" stop-color="#ffef00"/><stop offset="0.3750" stop-color="#ffff00"/><stop offset="0.3906" stop-color="#efff10"/><stop offset="0.4062" stop-color="#dfff20"/><stop offset="0.4219" stop-color="#cfff30"/><stop offset="0.4375" stop-color="#bfff40"/><stop offset="0.4531" stop-color="#afff50"/><stop offset="0.4688" stop-color="#9fff60"/><stop offset="0.4844" stop-color="#8fff70"/><stop offset="0.5000" stop-color="#80ff80"/><stop offset="0.5156" stop-color="#70ff8f"/><stop offset="0.5312" stop-color="#60ff9f"/><stop offset="0.5469" stop-color="#50ffaf"/><stop offset="0.5625" stop-color="#40ffbf"/><stop offset="0.5781" stop-color="#30ffcf"/><stop offset="0.5938" stop-color="#20ffdf"/><stop offset="0.6094" stop-color="#10ffef"/><stop offset="0.6250" stop-color="#00ffff"/><stop offset="0.6406" stop-color="#00efff"/><stop offset="0.6562" stop-color="#00dfff"/><stop offset="0.6719" stop-color="#00cfff"/><stop offset="0.6875" stop-color="#00bfff"/><stop offset="0.7031" stop-color="#00afff"/><stop offset="0.7188" stop-color="#009fff"/><stop offset="0.7344" stop-color="#008fff"/><stop offset="0.7500" stop-color="#0080ff"/><stop offset="0.7656" stop-color="#0070ff"/><stop offset="0.7812" stop-color="#0060ff"/><stop offset="0.7969" stop-color="#0050ff"/><stop offset="0.8125" stop-color="#0040ff"/><stop offset="0.8281" stop-color="#0030ff"/><stop offset="0.8438" stop-color="#0020ff"/><stop offset="0.8594" stop-color="#0010ff"/><stop offset="0.8750" stop-color="#0000ff"/><stop offset="0.8906" stop-color="#0000ef"/><stop offset="0.9062" stop-color="#0000df"/><stop offset="0.9219" stop-color="#0000cf"/><stop offset="0.9375" stop-color="#0000bf"/><stop offset="0.9531" stop-color="#0000af"/><stop offset="0.9688" stop-color="#00009f"/><stop offset="0.9844" stop-color="#00008f"/><stop offset="1.0000" stop-color="#000080"/></linearGradient></defs>
<rect x="990.5" y="135.5" width="20" height="532" fill="url(#cb)" stroke="#000" stroke-width="1"/>
<path d="M1008.5 637.9h2M1008.5 608.4h2M1008.5 578.8h2M1008.5 549.3h2M1008.5 519.7h2M1008.5 490.2h2M1008.5 460.6h2M1008.5 431.0h2M1008.5 401.5h2M1008.5 371.9h2M1008.5 342.4h2M1008.5 312.8h2M1008.5 283.3h2M1008.5 253.7h2M1008.5 224.2h2M1008.5 194.6h2M1008.5 165.1h2" stroke="#000" stroke-width="1" fill="none"/>
<g>
<text x="142.62" y="115.0" font-size="17.6" textLength="88.36" lengthAdjust="spacingAndGlyphs">Equivalent</text>
<text x="238.69" y="115.0" font-size="17.6" textLength="48.53" lengthAdjust="spacingAndGlyphs">Radar</text>
<text x="295.15" y="115.0" font-size="17.6" textLength="89.62" lengthAdjust="spacingAndGlyphs">Reflectivity</text>
<text x="392.34" y="115.0" font-size="17.6" textLength="47.84" lengthAdjust="spacingAndGlyphs">Factor</text>
<text x="449.17" y="115.0" font-size="17.6" textLength="23.14" lengthAdjust="spacingAndGlyphs">Ze</text>
<text x="477.56" y="115.0" font-size="17.6" textLength="16.79" lengthAdjust="spacingAndGlyphs">of</text>
<text x="498.92" y="115.0" font-size="17.6" textLength="119.12" lengthAdjust="spacingAndGlyphs">Hydrometeors</text>
<text x="636.40" y="115.0" font-size="16.0" textLength="43.95" lengthAdjust="spacingAndGlyphs">18:01</text>
<text x="689.13" y="115.0" font-size="16.0" textLength="93.84" lengthAdjust="spacingAndGlyphs">18.08.2013</text>
<text x="788.18" y="115.0" font-size="16.0" textLength="5.46" lengthAdjust="spacingAndGlyphs">-</text>
<text x="799.57" y="115.0" font-size="16.0" textLength="49.22" lengthAdjust="spacingAndGlyphs">21:00</text>
<text x="855.83" y="115.0" font-size="16.0" textLength="93.42" lengthAdjust="spacingAndGlyphs">18.08.2013</text>
<text x="954.22" y="115.0" font-size="17.6" textLength="88.33" lengthAdjust="spacingAndGlyphs">Muenchen</text>
<text x="275.71" y="694.0" font-size="16.0" textLength="47.85" lengthAdjust="spacingAndGlyphs">18:30</text>
<text x="408.78" y="694.0" font-size="16.0" textLength="48.69" lengthAdjust="spacingAndGlyphs">19:00</text>
<text x="542.60" y="694.0" font-size="16.0" textLength="48.16" lengthAdjust="spacingAndGlyphs">19:30</text>
<text x="675.68" y="694.0" font-size="16.0" textLength="48.90" lengthAdjust="spacingAndGlyphs">20:00</text>
<text x="808.78" y="694.0" font-size="16.0" textLength="48.69" lengthAdjust="spacingAndGlyphs">20:30</text>
<text x="942.58" y="694.0" font-size="16.0" textLength="48.69" lengthAdjust="spacingAndGlyphs">21:00</text>
<text x="526.20" y="714.0" font-size="17.6" textLength="41.89" lengthAdjust="spacingAndGlyphs">Time</text>
<text x="575.56" y="714.0" font-size="17.6" textLength="37.66" lengthAdjust="spacingAndGlyphs">UTC</text>
<text x="135.80" y="231.0" font-size="16.0" textLength="21.36" lengthAdjust="spacingAndGlyphs">10</text>
<text x="145.57" y="321.5" font-size="16.0" textLength="11.83" lengthAdjust="spacingAndGlyphs">8</text>
<text x="145.57" y="412.0" font-size="16.0" textLength="11.83" lengthAdjust="spacingAndGlyphs">6</text>
<text x="146.90" y="502.5" font-size="16.0" textLength="10.35" lengthAdjust="spacingAndGlyphs">4</text>
<text x="145.57" y="593.0" font-size="16.0" textLength="11.83" lengthAdjust="spacingAndGlyphs">2</text>
<text x="1014.92" y="200.3" font-size="16.0" textLength="22.80" lengthAdjust="spacingAndGlyphs">20</text>
<text x="1014.77" y="318.5" font-size="16.0" textLength="12.72" lengthAdjust="spacingAndGlyphs">0</text>
<text x="1014.95" y="436.7" font-size="16.0" textLength="28.85" lengthAdjust="spacingAndGlyphs">-20</text>
<text x="1014.95" y="555.0" font-size="16.0" textLength="28.85" lengthAdjust="spacingAndGlyphs">-40</text>
<text x="1014.95" y="667.0" font-size="16.0" textLength="28.85" lengthAdjust="spacingAndGlyphs">-60</text>
<text transform="translate(120.0,460.0) rotate(-90)" textLength="118.90" lengthAdjust="spacingAndGlyphs">Height AGL km</text>
<text transform="translate(1059.6,467.0) rotate(-90)" textLength="132.91" lengthAdjust="spacingAndGlyphs">Ze dBmm^6/m^3</text>
</g>
</svg>
</body></html>
